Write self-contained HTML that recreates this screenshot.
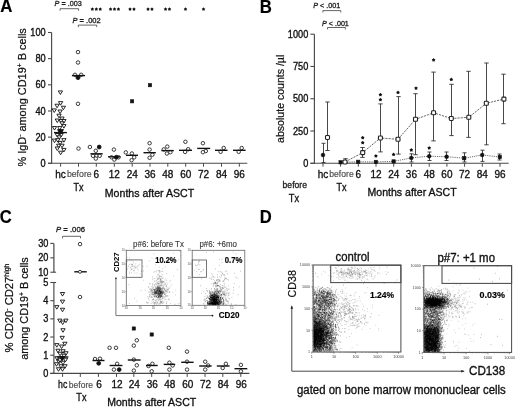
<!DOCTYPE html>
<html><head><meta charset="utf-8"><style>
html,body{margin:0;padding:0;background:#fff;width:520px;height:407px;overflow:hidden}
svg{display:block;font-family:"Liberation Sans", sans-serif;will-change:transform;filter:blur(0.3px)}
</style></head><body>
<svg width="520" height="407" viewBox="0 0 520 407">
<rect width="520" height="407" fill="#fff"/>
<text transform="translate(0.2,12.3) scale(1,1.05)" font-size="16.8" text-anchor="start" font-weight="bold" fill="#000" stroke="#000" stroke-width="0.15"  style="">A</text>
<text x="54.6" y="5.6" font-size="7.6" fill="#1a1a1a" stroke="#1a1a1a" stroke-width="0.3" textLength="27.1" lengthAdjust="spacingAndGlyphs"><tspan font-style="italic">P</tspan> = .003</text>
<path d="M60.1 10.7V8.7H78.6V10.7" fill="none" stroke="#555" stroke-width="0.9"/>
<text x="72.5" y="22.5" font-size="7.6" fill="#1a1a1a" stroke="#1a1a1a" stroke-width="0.3" textLength="28.2" lengthAdjust="spacingAndGlyphs"><tspan font-style="italic">P</tspan> = .002</text>
<path d="M78.3 27.1V25.1H96.7V27.1" fill="none" stroke="#555" stroke-width="0.9"/>
<polygon points="92.35,7.35 93.02,8.27 94.11,8.63 93.44,9.55 93.44,10.70 92.35,10.35 91.26,10.70 91.26,9.55 90.59,8.63 91.68,8.27" fill="#111"/>
<polygon points="96.30,7.35 96.97,8.27 98.06,8.63 97.39,9.55 97.39,10.70 96.30,10.35 95.21,10.70 95.21,9.55 94.54,8.63 95.63,8.27" fill="#111"/>
<polygon points="100.25,7.35 100.92,8.27 102.01,8.63 101.34,9.55 101.34,10.70 100.25,10.35 99.16,10.70 99.16,9.55 98.49,8.63 99.58,8.27" fill="#111"/>
<polygon points="110.55,7.35 111.22,8.27 112.31,8.63 111.64,9.55 111.64,10.70 110.55,10.35 109.46,10.70 109.46,9.55 108.79,8.63 109.88,8.27" fill="#111"/>
<polygon points="114.50,7.35 115.17,8.27 116.26,8.63 115.59,9.55 115.59,10.70 114.50,10.35 113.41,10.70 113.41,9.55 112.74,8.63 113.83,8.27" fill="#111"/>
<polygon points="118.45,7.35 119.12,8.27 120.21,8.63 119.54,9.55 119.54,10.70 118.45,10.35 117.36,10.70 117.36,9.55 116.69,8.63 117.78,8.27" fill="#111"/>
<polygon points="130.03,7.35 130.70,8.27 131.78,8.63 131.12,9.55 131.11,10.70 130.03,10.35 128.94,10.70 128.93,9.55 128.27,8.63 129.35,8.27" fill="#111"/>
<polygon points="133.97,7.35 134.65,8.27 135.73,8.63 135.07,9.55 135.06,10.70 133.97,10.35 132.89,10.70 132.88,9.55 132.22,8.63 133.30,8.27" fill="#111"/>
<polygon points="148.03,7.35 148.70,8.27 149.78,8.63 149.12,9.55 149.11,10.70 148.03,10.35 146.94,10.70 146.93,9.55 146.27,8.63 147.35,8.27" fill="#111"/>
<polygon points="151.97,7.35 152.65,8.27 153.73,8.63 153.07,9.55 153.06,10.70 151.97,10.35 150.89,10.70 150.88,9.55 150.22,8.63 151.30,8.27" fill="#111"/>
<polygon points="165.53,7.35 166.20,8.27 167.28,8.63 166.62,9.55 166.61,10.70 165.53,10.35 164.44,10.70 164.43,9.55 163.77,8.63 164.85,8.27" fill="#111"/>
<polygon points="169.47,7.35 170.15,8.27 171.23,8.63 170.57,9.55 170.56,10.70 169.47,10.35 168.39,10.70 168.38,9.55 167.72,8.63 168.80,8.27" fill="#111"/>
<polygon points="185.50,7.35 186.17,8.27 187.26,8.63 186.59,9.55 186.59,10.70 185.50,10.35 184.41,10.70 184.41,9.55 183.74,8.63 184.83,8.27" fill="#111"/>
<polygon points="203.50,7.35 204.17,8.27 205.26,8.63 204.59,9.55 204.59,10.70 203.50,10.35 202.41,10.70 202.41,9.55 201.74,8.63 202.83,8.27" fill="#111"/>
<line x1="51.6" y1="32.5" x2="51.6" y2="163.8" stroke="#484848" stroke-width="1.15" />
<line x1="48.0" y1="163.3" x2="51.6" y2="163.3" stroke="#484848" stroke-width="1.1" />
<text transform="translate(45.7,166.9) scale(1,1.13)" font-size="9.2" text-anchor="end" font-weight="normal" fill="#111" stroke="#111" stroke-width="0.32"  style="">0</text>
<line x1="48.0" y1="137.14000000000001" x2="51.6" y2="137.14000000000001" stroke="#484848" stroke-width="1.1" />
<text transform="translate(45.7,140.74) scale(1,1.13)" font-size="9.2" text-anchor="end" font-weight="normal" fill="#111" stroke="#111" stroke-width="0.32"  style="">20</text>
<line x1="48.0" y1="110.98000000000002" x2="51.6" y2="110.98000000000002" stroke="#484848" stroke-width="1.1" />
<text transform="translate(45.7,114.58000000000001) scale(1,1.13)" font-size="9.2" text-anchor="end" font-weight="normal" fill="#111" stroke="#111" stroke-width="0.32"  style="">40</text>
<line x1="48.0" y1="84.82000000000001" x2="51.6" y2="84.82000000000001" stroke="#484848" stroke-width="1.1" />
<text transform="translate(45.7,88.42) scale(1,1.13)" font-size="9.2" text-anchor="end" font-weight="normal" fill="#111" stroke="#111" stroke-width="0.32"  style="">60</text>
<line x1="48.0" y1="58.66000000000001" x2="51.6" y2="58.66000000000001" stroke="#484848" stroke-width="1.1" />
<text transform="translate(45.7,62.26000000000001) scale(1,1.13)" font-size="9.2" text-anchor="end" font-weight="normal" fill="#111" stroke="#111" stroke-width="0.32"  style="">80</text>
<line x1="48.0" y1="32.5" x2="51.6" y2="32.5" stroke="#484848" stroke-width="1.1" />
<text transform="translate(45.7,36.1) scale(1,1.13)" font-size="9.2" text-anchor="end" font-weight="normal" fill="#111" stroke="#111" stroke-width="0.32"  style="">100</text>
<line x1="48.0" y1="163.3" x2="247.3" y2="163.3" stroke="#484848" stroke-width="1.1" />
<line x1="60.6" y1="163.3" x2="60.6" y2="166.7" stroke="#484848" stroke-width="1.0" />
<line x1="78.5" y1="163.3" x2="78.5" y2="166.7" stroke="#484848" stroke-width="1.0" />
<line x1="96.3" y1="163.3" x2="96.3" y2="166.7" stroke="#484848" stroke-width="1.0" />
<line x1="114.3" y1="163.3" x2="114.3" y2="166.7" stroke="#484848" stroke-width="1.0" />
<line x1="132.2" y1="163.3" x2="132.2" y2="166.7" stroke="#484848" stroke-width="1.0" />
<line x1="150" y1="163.3" x2="150" y2="166.7" stroke="#484848" stroke-width="1.0" />
<line x1="167.8" y1="163.3" x2="167.8" y2="166.7" stroke="#484848" stroke-width="1.0" />
<line x1="185.7" y1="163.3" x2="185.7" y2="166.7" stroke="#484848" stroke-width="1.0" />
<line x1="203.5" y1="163.3" x2="203.5" y2="166.7" stroke="#484848" stroke-width="1.0" />
<line x1="221.5" y1="163.3" x2="221.5" y2="166.7" stroke="#484848" stroke-width="1.0" />
<line x1="239.3" y1="163.3" x2="239.3" y2="166.7" stroke="#484848" stroke-width="1.0" />
<text transform="translate(60.5,177.5) scale(1,1.05)" font-size="10" text-anchor="middle" font-weight="normal" fill="#111" stroke="#111" stroke-width="0.32"  style="">hc</text>
<text transform="translate(66.9,177.3) scale(1,1.05)" font-size="8.6" text-anchor="start" font-weight="normal" fill="#4a4a4a" textLength="24.8" lengthAdjust="spacingAndGlyphs" stroke="#4a4a4a" stroke-width="0.15"  style="">before</text>
<text transform="translate(96.3,177.5) scale(1,1.05)" font-size="10.0" text-anchor="middle" font-weight="normal" fill="#111" stroke="#111" stroke-width="0.32"  style="">6</text>
<text transform="translate(114.3,177.5) scale(1,1.05)" font-size="10.0" text-anchor="middle" font-weight="normal" fill="#111" stroke="#111" stroke-width="0.32"  style="">12</text>
<text transform="translate(132.2,177.5) scale(1,1.05)" font-size="10.0" text-anchor="middle" font-weight="normal" fill="#111" stroke="#111" stroke-width="0.32"  style="">24</text>
<text transform="translate(150,177.5) scale(1,1.05)" font-size="10.0" text-anchor="middle" font-weight="normal" fill="#111" stroke="#111" stroke-width="0.32"  style="">36</text>
<text transform="translate(167.8,177.5) scale(1,1.05)" font-size="10.0" text-anchor="middle" font-weight="normal" fill="#111" stroke="#111" stroke-width="0.32"  style="">48</text>
<text transform="translate(185.7,177.5) scale(1,1.05)" font-size="10.0" text-anchor="middle" font-weight="normal" fill="#111" stroke="#111" stroke-width="0.32"  style="">60</text>
<text transform="translate(203.5,177.5) scale(1,1.05)" font-size="10.0" text-anchor="middle" font-weight="normal" fill="#111" stroke="#111" stroke-width="0.32"  style="">72</text>
<text transform="translate(221.5,177.5) scale(1,1.05)" font-size="10.0" text-anchor="middle" font-weight="normal" fill="#111" stroke="#111" stroke-width="0.32"  style="">84</text>
<text transform="translate(239.3,177.5) scale(1,1.05)" font-size="10.0" text-anchor="middle" font-weight="normal" fill="#111" stroke="#111" stroke-width="0.32"  style="">96</text>
<text transform="translate(78.6,190.9) scale(1,1.05)" font-size="9.8" text-anchor="middle" font-weight="normal" fill="#111" textLength="10.1" lengthAdjust="spacingAndGlyphs" stroke="#111" stroke-width="0.32"  style="">Tx</text>
<text transform="translate(104.8,196.7) scale(1,1.05)" font-size="10.5" text-anchor="start" font-weight="normal" fill="#111" textLength="89.4" lengthAdjust="spacingAndGlyphs" stroke="#111" stroke-width="0.32"  style="">Months after ASCT</text>
<text transform="translate(26.1,97.35) rotate(-90)" font-size="10.8" text-anchor="middle" fill="#111" stroke="#111" stroke-width="0.22" textLength="138.3" lengthAdjust="spacingAndGlyphs">% IgD<tspan font-size="6.7" dy="-3.8">-</tspan><tspan dy="3.8"> among CD19</tspan><tspan font-size="6.7" dy="-3.8">+</tspan><tspan dy="3.8"> B cells</tspan></text>
<path d="M58.25 90.92H62.55L60.40 94.48Z" fill="#fff" stroke="#111" stroke-width="0.9" stroke-linejoin="miter"/>
<path d="M58.45 101.62H62.75L60.60 105.18Z" fill="#fff" stroke="#111" stroke-width="0.9" stroke-linejoin="miter"/>
<path d="M54.95 104.22H59.25L57.10 107.78Z" fill="#fff" stroke="#111" stroke-width="0.9" stroke-linejoin="miter"/>
<path d="M61.25 106.22H65.55L63.40 109.78Z" fill="#fff" stroke="#111" stroke-width="0.9" stroke-linejoin="miter"/>
<path d="M52.15 108.92H56.45L54.30 112.48Z" fill="#fff" stroke="#111" stroke-width="0.9" stroke-linejoin="miter"/>
<path d="M57.95 110.02H62.25L60.10 113.58Z" fill="#fff" stroke="#111" stroke-width="0.9" stroke-linejoin="miter"/>
<path d="M56.85 114.22H61.15L59.00 117.78Z" fill="#fff" stroke="#111" stroke-width="0.9" stroke-linejoin="miter"/>
<path d="M59.85 117.02H64.15L62.00 120.58Z" fill="#fff" stroke="#111" stroke-width="0.9" stroke-linejoin="miter"/>
<path d="M55.15 119.02H59.45L57.30 122.58Z" fill="#fff" stroke="#111" stroke-width="0.9" stroke-linejoin="miter"/>
<path d="M58.95 119.52H63.25L61.10 123.08Z" fill="#fff" stroke="#111" stroke-width="0.9" stroke-linejoin="miter"/>
<path d="M61.75 119.52H66.05L63.90 123.08Z" fill="#fff" stroke="#111" stroke-width="0.9" stroke-linejoin="miter"/>
<path d="M59.85 121.82H64.15L62.00 125.38Z" fill="#fff" stroke="#111" stroke-width="0.9" stroke-linejoin="miter"/>
<path d="M61.75 124.62H66.05L63.90 128.18Z" fill="#fff" stroke="#111" stroke-width="0.9" stroke-linejoin="miter"/>
<path d="M52.35 126.53H56.65L54.50 130.08Z" fill="#fff" stroke="#111" stroke-width="0.9" stroke-linejoin="miter"/>
<path d="M57.55 126.53H61.85L59.70 130.08Z" fill="#fff" stroke="#111" stroke-width="0.9" stroke-linejoin="miter"/>
<path d="M55.15 133.53H59.45L57.30 137.08Z" fill="#fff" stroke="#111" stroke-width="0.9" stroke-linejoin="miter"/>
<path d="M58.95 133.53H63.25L61.10 137.08Z" fill="#fff" stroke="#111" stroke-width="0.9" stroke-linejoin="miter"/>
<path d="M57.05 135.82H61.35L59.20 139.38Z" fill="#fff" stroke="#111" stroke-width="0.9" stroke-linejoin="miter"/>
<path d="M52.35 139.12H56.65L54.50 142.68Z" fill="#fff" stroke="#111" stroke-width="0.9" stroke-linejoin="miter"/>
<path d="M55.65 138.62H59.95L57.80 142.18Z" fill="#fff" stroke="#111" stroke-width="0.9" stroke-linejoin="miter"/>
<path d="M61.75 138.62H66.05L63.90 142.18Z" fill="#fff" stroke="#111" stroke-width="0.9" stroke-linejoin="miter"/>
<path d="M57.95 141.42H62.25L60.10 144.97Z" fill="#fff" stroke="#111" stroke-width="0.9" stroke-linejoin="miter"/>
<path d="M56.55 144.22H60.85L58.70 147.78Z" fill="#fff" stroke="#111" stroke-width="0.9" stroke-linejoin="miter"/>
<path d="M59.85 144.22H64.15L62.00 147.78Z" fill="#fff" stroke="#111" stroke-width="0.9" stroke-linejoin="miter"/>
<path d="M55.15 147.03H59.45L57.30 150.58Z" fill="#fff" stroke="#111" stroke-width="0.9" stroke-linejoin="miter"/>
<path d="M61.75 148.42H66.05L63.90 151.97Z" fill="#fff" stroke="#111" stroke-width="0.9" stroke-linejoin="miter"/>
<path d="M58.45 151.22H62.75L60.60 154.78Z" fill="#fff" stroke="#111" stroke-width="0.9" stroke-linejoin="miter"/>
<line x1="54.0" y1="132.6" x2="66.9" y2="132.6" stroke="#111" stroke-width="1.4" />
<path d="M57.50 129.60H63.50L60.50 134.40Z" fill="#111" stroke="#111" stroke-width="0.9" stroke-linejoin="miter"/>
<circle cx="78" cy="52.1" r="1.75" fill="#fff" stroke="#1a1a1a" stroke-width="0.85"/>
<circle cx="78" cy="62.5" r="1.75" fill="#fff" stroke="#1a1a1a" stroke-width="0.85"/>
<circle cx="75" cy="74.8" r="1.75" fill="#fff" stroke="#1a1a1a" stroke-width="0.85"/>
<circle cx="81.2" cy="74.8" r="1.75" fill="#fff" stroke="#1a1a1a" stroke-width="0.85"/>
<circle cx="78" cy="103.8" r="1.75" fill="#fff" stroke="#1a1a1a" stroke-width="0.85"/>
<circle cx="78.5" cy="148.5" r="1.75" fill="#fff" stroke="#1a1a1a" stroke-width="0.85"/>
<line x1="71.9" y1="75.6" x2="85.1" y2="75.6" stroke="#111" stroke-width="1.4" />
<circle cx="78" cy="77.6" r="2.0" fill="#111" stroke="#111" stroke-width="0.85"/>
<circle cx="89.9" cy="147" r="1.75" fill="#fff" stroke="#1a1a1a" stroke-width="0.85"/>
<circle cx="95.8" cy="150.8" r="1.75" fill="#fff" stroke="#1a1a1a" stroke-width="0.85"/>
<circle cx="93" cy="155.8" r="1.75" fill="#fff" stroke="#1a1a1a" stroke-width="0.85"/>
<circle cx="96.5" cy="155.8" r="1.75" fill="#fff" stroke="#1a1a1a" stroke-width="0.85"/>
<circle cx="99.7" cy="155.8" r="1.75" fill="#fff" stroke="#1a1a1a" stroke-width="0.85"/>
<circle cx="95.8" cy="158.6" r="1.75" fill="#fff" stroke="#1a1a1a" stroke-width="0.85"/>
<circle cx="99.2" cy="147" r="1.9" fill="#111" stroke="#111" stroke-width="0.85"/>
<line x1="90.4" y1="153.8" x2="102.7" y2="153.8" stroke="#111" stroke-width="1.4" />
<circle cx="113.9" cy="149.6" r="1.75" fill="#fff" stroke="#1a1a1a" stroke-width="0.85"/>
<circle cx="111.5" cy="157.3" r="1.75" fill="#fff" stroke="#1a1a1a" stroke-width="0.85"/>
<circle cx="114.3" cy="159.6" r="1.75" fill="#fff" stroke="#1a1a1a" stroke-width="0.85"/>
<circle cx="118.5" cy="157.3" r="1.75" fill="#fff" stroke="#1a1a1a" stroke-width="0.85"/>
<circle cx="116.3" cy="157.2" r="1.9" fill="#111" stroke="#111" stroke-width="0.85"/>
<line x1="108" y1="156.8" x2="120.4" y2="156.8" stroke="#111" stroke-width="1.4" />
<circle cx="125.8" cy="152.4" r="1.75" fill="#fff" stroke="#1a1a1a" stroke-width="0.85"/>
<circle cx="131.9" cy="153.5" r="1.75" fill="#fff" stroke="#1a1a1a" stroke-width="0.85"/>
<circle cx="134.2" cy="157.3" r="1.75" fill="#fff" stroke="#1a1a1a" stroke-width="0.85"/>
<circle cx="131.6" cy="160.2" r="1.75" fill="#fff" stroke="#1a1a1a" stroke-width="0.85"/>
<line x1="126" y1="155.3" x2="138" y2="155.3" stroke="#111" stroke-width="1.4" />
<circle cx="149.6" cy="143.2" r="1.75" fill="#fff" stroke="#1a1a1a" stroke-width="0.85"/>
<circle cx="149.6" cy="149.6" r="1.75" fill="#fff" stroke="#1a1a1a" stroke-width="0.85"/>
<circle cx="152.4" cy="154.7" r="1.75" fill="#fff" stroke="#1a1a1a" stroke-width="0.85"/>
<circle cx="149.6" cy="157.8" r="1.75" fill="#fff" stroke="#1a1a1a" stroke-width="0.85"/>
<line x1="143.5" y1="152.7" x2="155.8" y2="152.7" stroke="#111" stroke-width="1.4" />
<circle cx="167.3" cy="146.6" r="1.75" fill="#fff" stroke="#1a1a1a" stroke-width="0.85"/>
<circle cx="163.8" cy="149.4" r="1.75" fill="#fff" stroke="#1a1a1a" stroke-width="0.85"/>
<circle cx="166.9" cy="153.5" r="1.75" fill="#fff" stroke="#1a1a1a" stroke-width="0.85"/>
<circle cx="170.4" cy="152.2" r="1.75" fill="#fff" stroke="#1a1a1a" stroke-width="0.85"/>
<line x1="161.4" y1="150.6" x2="173.8" y2="150.6" stroke="#111" stroke-width="1.4" />
<circle cx="185.4" cy="141.8" r="1.75" fill="#fff" stroke="#1a1a1a" stroke-width="0.85"/>
<circle cx="188.2" cy="149.2" r="1.75" fill="#fff" stroke="#1a1a1a" stroke-width="0.85"/>
<circle cx="185.1" cy="151.9" r="1.75" fill="#fff" stroke="#1a1a1a" stroke-width="0.85"/>
<line x1="179" y1="150.3" x2="192" y2="150.3" stroke="#111" stroke-width="1.4" />
<circle cx="202.9" cy="143.2" r="1.75" fill="#fff" stroke="#1a1a1a" stroke-width="0.85"/>
<circle cx="205.8" cy="151" r="1.75" fill="#fff" stroke="#1a1a1a" stroke-width="0.85"/>
<circle cx="202.9" cy="152.2" r="1.75" fill="#fff" stroke="#1a1a1a" stroke-width="0.85"/>
<line x1="197.2" y1="148.4" x2="210.2" y2="148.4" stroke="#111" stroke-width="1.4" />
<circle cx="223.7" cy="148" r="1.75" fill="#fff" stroke="#1a1a1a" stroke-width="0.85"/>
<circle cx="220.6" cy="151.8" r="1.75" fill="#fff" stroke="#1a1a1a" stroke-width="0.85"/>
<line x1="215" y1="150.3" x2="227.5" y2="150.3" stroke="#111" stroke-width="1.4" />
<circle cx="241.7" cy="148" r="1.75" fill="#fff" stroke="#1a1a1a" stroke-width="0.85"/>
<circle cx="238.7" cy="151.8" r="1.75" fill="#fff" stroke="#1a1a1a" stroke-width="0.85"/>
<line x1="233" y1="150.3" x2="245.6" y2="150.3" stroke="#111" stroke-width="1.4" />
<rect x="130.50" y="99.70" width="3.2" height="3.2" rx="0" fill="#111" stroke="#111" stroke-width="0.6"/>
<rect x="148.40" y="83.60" width="3.2" height="3.2" rx="0" fill="#111" stroke="#111" stroke-width="0.6"/>
<text transform="translate(259.8,12.7) scale(1,1.05)" font-size="16.8" text-anchor="start" font-weight="bold" fill="#000" stroke="#000" stroke-width="0.15"  style="">B</text>
<text x="313.3" y="7.8" font-size="7.4" fill="#1a1a1a" stroke="#1a1a1a" stroke-width="0.3" textLength="26.9" lengthAdjust="spacingAndGlyphs"><tspan font-style="italic">P</tspan> &lt; .001</text>
<path d="M322.9 12.5V10.6H340.8V12.5" fill="none" stroke="#555" stroke-width="0.9"/>
<text x="322.1" y="25.6" font-size="7.4" fill="#1a1a1a" stroke="#1a1a1a" stroke-width="0.3" textLength="26.7" lengthAdjust="spacingAndGlyphs"><tspan font-style="italic">P</tspan> &lt; .001</text>
<path d="M327.5 29.4V27.5H345.4V29.4" fill="none" stroke="#555" stroke-width="0.9"/>
<line x1="314.4" y1="34.2" x2="314.4" y2="163.8" stroke="#484848" stroke-width="1.15" />
<line x1="310.4" y1="163.3" x2="314.4" y2="163.3" stroke="#484848" stroke-width="1.1" />
<text transform="translate(308.3,166.9) scale(1,1.13)" font-size="9.2" text-anchor="end" font-weight="normal" fill="#111" stroke="#111" stroke-width="0.32"  style="">0</text>
<line x1="310.4" y1="131.025" x2="314.4" y2="131.025" stroke="#484848" stroke-width="1.1" />
<text transform="translate(308.3,134.625) scale(1,1.13)" font-size="9.2" text-anchor="end" font-weight="normal" fill="#111" stroke="#111" stroke-width="0.32"  style="">250</text>
<line x1="310.4" y1="98.75000000000001" x2="314.4" y2="98.75000000000001" stroke="#484848" stroke-width="1.1" />
<text transform="translate(308.3,102.35000000000001) scale(1,1.13)" font-size="9.2" text-anchor="end" font-weight="normal" fill="#111" stroke="#111" stroke-width="0.32"  style="">500</text>
<line x1="310.4" y1="66.47500000000002" x2="314.4" y2="66.47500000000002" stroke="#484848" stroke-width="1.1" />
<text transform="translate(308.3,70.07500000000002) scale(1,1.13)" font-size="9.2" text-anchor="end" font-weight="normal" fill="#111" stroke="#111" stroke-width="0.32"  style="">750</text>
<line x1="310.4" y1="34.20000000000002" x2="314.4" y2="34.20000000000002" stroke="#484848" stroke-width="1.1" />
<text transform="translate(308.3,37.80000000000002) scale(1,1.13)" font-size="9.2" text-anchor="end" font-weight="normal" fill="#111" stroke="#111" stroke-width="0.32"  style="">1000</text>
<line x1="310.4" y1="163.3" x2="508.7" y2="163.3" stroke="#484848" stroke-width="1.1" />
<line x1="323" y1="163.3" x2="323" y2="166.7" stroke="#484848" stroke-width="1.0" />
<line x1="340.6" y1="163.3" x2="340.6" y2="166.7" stroke="#484848" stroke-width="1.0" />
<line x1="358.3" y1="163.3" x2="358.3" y2="166.7" stroke="#484848" stroke-width="1.0" />
<line x1="376" y1="163.3" x2="376" y2="166.7" stroke="#484848" stroke-width="1.0" />
<line x1="393.7" y1="163.3" x2="393.7" y2="166.7" stroke="#484848" stroke-width="1.0" />
<line x1="411.4" y1="163.3" x2="411.4" y2="166.7" stroke="#484848" stroke-width="1.0" />
<line x1="429.2" y1="163.3" x2="429.2" y2="166.7" stroke="#484848" stroke-width="1.0" />
<line x1="446.9" y1="163.3" x2="446.9" y2="166.7" stroke="#484848" stroke-width="1.0" />
<line x1="464.6" y1="163.3" x2="464.6" y2="166.7" stroke="#484848" stroke-width="1.0" />
<line x1="482.3" y1="163.3" x2="482.3" y2="166.7" stroke="#484848" stroke-width="1.0" />
<line x1="500" y1="163.3" x2="500" y2="166.7" stroke="#484848" stroke-width="1.0" />
<text transform="translate(323,177.5) scale(1,1.05)" font-size="10" text-anchor="middle" font-weight="normal" fill="#111" stroke="#111" stroke-width="0.32"  style="">hc</text>
<text transform="translate(329.3,177.3) scale(1,1.05)" font-size="8.6" text-anchor="start" font-weight="normal" fill="#4a4a4a" textLength="24.4" lengthAdjust="spacingAndGlyphs" stroke="#4a4a4a" stroke-width="0.15"  style="">before</text>
<text transform="translate(358.3,177.5) scale(1,1.05)" font-size="10.0" text-anchor="middle" font-weight="normal" fill="#111" stroke="#111" stroke-width="0.32"  style="">6</text>
<text transform="translate(376,177.5) scale(1,1.05)" font-size="10.0" text-anchor="middle" font-weight="normal" fill="#111" stroke="#111" stroke-width="0.32"  style="">12</text>
<text transform="translate(393.7,177.5) scale(1,1.05)" font-size="10.0" text-anchor="middle" font-weight="normal" fill="#111" stroke="#111" stroke-width="0.32"  style="">24</text>
<text transform="translate(411.4,177.5) scale(1,1.05)" font-size="10.0" text-anchor="middle" font-weight="normal" fill="#111" stroke="#111" stroke-width="0.32"  style="">36</text>
<text transform="translate(429.2,177.5) scale(1,1.05)" font-size="10.0" text-anchor="middle" font-weight="normal" fill="#111" stroke="#111" stroke-width="0.32"  style="">48</text>
<text transform="translate(446.9,177.5) scale(1,1.05)" font-size="10.0" text-anchor="middle" font-weight="normal" fill="#111" stroke="#111" stroke-width="0.32"  style="">60</text>
<text transform="translate(464.6,177.5) scale(1,1.05)" font-size="10.0" text-anchor="middle" font-weight="normal" fill="#111" stroke="#111" stroke-width="0.32"  style="">72</text>
<text transform="translate(482.3,177.5) scale(1,1.05)" font-size="10.0" text-anchor="middle" font-weight="normal" fill="#111" stroke="#111" stroke-width="0.32"  style="">84</text>
<text transform="translate(500,177.5) scale(1,1.05)" font-size="10.0" text-anchor="middle" font-weight="normal" fill="#111" stroke="#111" stroke-width="0.32"  style="">96</text>
<text transform="translate(341.5,190.9) scale(1,1.05)" font-size="9.8" text-anchor="middle" font-weight="normal" fill="#111" textLength="10.1" lengthAdjust="spacingAndGlyphs" stroke="#111" stroke-width="0.32"  style="">Tx</text>
<text transform="translate(367.5,195.6) scale(1,1.05)" font-size="10.5" text-anchor="start" font-weight="normal" fill="#111" textLength="89.2" lengthAdjust="spacingAndGlyphs" stroke="#111" stroke-width="0.32"  style="">Months after ASCT</text>
<text transform="translate(282.6,187.5) scale(1,1.05)" font-size="8.6" text-anchor="start" font-weight="normal" fill="#222" textLength="24.3" lengthAdjust="spacingAndGlyphs" stroke="#222" stroke-width="0.32"  style="">before</text>
<text transform="translate(294.0,201.7) scale(1,1.05)" font-size="9.8" text-anchor="middle" font-weight="normal" fill="#111" textLength="10.3" lengthAdjust="spacingAndGlyphs" stroke="#111" stroke-width="0.32"  style="">Tx</text>
<text transform="translate(283.6,98.8) rotate(-90)" font-size="10.5" text-anchor="middle" fill="#111" stroke="#111" stroke-width="0.22" textLength="88.2" lengthAdjust="spacingAndGlyphs">absolute counts /µl</text>
<polyline points="345,162 362.7,152.6 380.4,138 398,139.3 415.5,119.3 433.6,112.8 451.3,118.5 468.8,117.3 486.3,103.3 503.9,99.1" fill="none" stroke="#444" stroke-width="0.8" stroke-dasharray="2.2,1"/>
<polyline points="340.6,162.3 358.2,161.8 375.9,161.9 393.6,161.4 411.3,157.9 429.2,156.2 446.6,156.7 464.2,158.2 482.2,155 499.8,157" fill="none" stroke="#444" stroke-width="0.8" stroke-dasharray="1.2,1"/>
<path d="M323.5 143.3V162.5M321.5 143.3H325.5M321.5 162.5H325.5" fill="none" stroke="#333" stroke-width="0.9"/>
<path d="M411.5 153.8V162M409.5 153.8H413.5M409.5 162H413.5" fill="none" stroke="#333" stroke-width="0.9"/>
<path d="M429.5 152V160.5M427.5 152H431.5M427.5 160.5H431.5" fill="none" stroke="#333" stroke-width="0.9"/>
<path d="M446.5 152V160.5M444.5 152H448.5M444.5 160.5H448.5" fill="none" stroke="#333" stroke-width="0.9"/>
<path d="M464.5 152.8V162M462.5 152.8H466.5M462.5 162H466.5" fill="none" stroke="#333" stroke-width="0.9"/>
<path d="M482.5 150.2V161.4M480.5 150.2H484.5M480.5 161.4H484.5" fill="none" stroke="#333" stroke-width="0.9"/>
<path d="M499.5 154V160M497.5 154H501.5M497.5 160H501.5" fill="none" stroke="#333" stroke-width="0.9"/>
<path d="M327.5 102V150.5M325.3 102H329.7M325.3 150.5H329.7" fill="none" stroke="#333" stroke-width="0.9"/>
<path d="M345.5 158.7V163M343.3 158.7H347.7M343.3 163H347.7" fill="none" stroke="#333" stroke-width="0.9"/>
<path d="M362.5 147.5V157.4M360.3 147.5H364.7M360.3 157.4H364.7" fill="none" stroke="#333" stroke-width="0.9"/>
<path d="M380.5 103.9V151.9M378.3 103.9H382.7M378.3 151.9H382.7" fill="none" stroke="#333" stroke-width="0.9"/>
<path d="M398.5 96.6V154.1M396.3 96.6H400.7M396.3 154.1H400.7" fill="none" stroke="#333" stroke-width="0.9"/>
<path d="M415.5 93.7V154.7M413.3 93.7H417.7M413.3 154.7H417.7" fill="none" stroke="#333" stroke-width="0.9"/>
<path d="M433.5 72.1V140.9M431.3 72.1H435.7M431.3 140.9H435.7" fill="none" stroke="#333" stroke-width="0.9"/>
<path d="M451.5 84.3V135.6M449.3 84.3H453.7M449.3 135.6H453.7" fill="none" stroke="#333" stroke-width="0.9"/>
<path d="M468.5 71.3V137.4M466.3 71.3H470.7M466.3 137.4H470.7" fill="none" stroke="#333" stroke-width="0.9"/>
<path d="M486.5 63V144.8M484.3 63H488.7M484.3 144.8H488.7" fill="none" stroke="#333" stroke-width="0.9"/>
<path d="M503.5 74.2V123.7M501.3 74.2H505.7M501.3 123.7H505.7" fill="none" stroke="#333" stroke-width="0.9"/>
<circle cx="323" cy="155" r="1.95" fill="#111" stroke="#111" stroke-width="0.4"/>
<rect x="338.95" y="160.65" width="3.3" height="3.3" rx="0" fill="#111" stroke="#111" stroke-width="0.6"/>
<rect x="356.55" y="160.15" width="3.3" height="3.3" rx="0" fill="#111" stroke="#111" stroke-width="0.6"/>
<rect x="374.25" y="160.25" width="3.3" height="3.3" rx="0" fill="#111" stroke="#111" stroke-width="0.6"/>
<rect x="391.95" y="159.75" width="3.3" height="3.3" rx="0" fill="#111" stroke="#111" stroke-width="0.6"/>
<circle cx="411.3" cy="157.9" r="1.95" fill="#111" stroke="#111" stroke-width="0.4"/>
<circle cx="429.2" cy="156.2" r="1.95" fill="#111" stroke="#111" stroke-width="0.4"/>
<circle cx="446.6" cy="156.7" r="1.95" fill="#111" stroke="#111" stroke-width="0.4"/>
<rect x="462.55" y="156.55" width="3.3" height="3.3" rx="0" fill="#111" stroke="#111" stroke-width="0.6"/>
<circle cx="482.2" cy="155" r="1.95" fill="#111" stroke="#111" stroke-width="0.4"/>
<rect x="498.15" y="155.35" width="3.3" height="3.3" rx="0" fill="#111" stroke="#111" stroke-width="0.6"/>
<rect x="325.50" y="135.50" width="4.0" height="4.0" rx="0.9" fill="#fff" stroke="#222" stroke-width="1.1"/>
<rect x="343.00" y="160.00" width="4.0" height="4.0" rx="0.9" fill="#fff" stroke="#222" stroke-width="1.1"/>
<rect x="360.70" y="150.60" width="4.0" height="4.0" rx="0.9" fill="#fff" stroke="#222" stroke-width="1.1"/>
<rect x="378.40" y="136.00" width="4.0" height="4.0" rx="0.9" fill="#fff" stroke="#222" stroke-width="1.1"/>
<rect x="396.00" y="137.30" width="4.0" height="4.0" rx="0.9" fill="#fff" stroke="#222" stroke-width="1.1"/>
<rect x="413.50" y="117.30" width="4.0" height="4.0" rx="0.9" fill="#fff" stroke="#222" stroke-width="1.1"/>
<rect x="431.60" y="110.80" width="4.0" height="4.0" rx="0.9" fill="#fff" stroke="#222" stroke-width="1.1"/>
<rect x="449.30" y="116.50" width="4.0" height="4.0" rx="0.9" fill="#fff" stroke="#222" stroke-width="1.1"/>
<rect x="466.80" y="115.30" width="4.0" height="4.0" rx="0.9" fill="#fff" stroke="#222" stroke-width="1.1"/>
<rect x="484.30" y="101.30" width="4.0" height="4.0" rx="0.9" fill="#fff" stroke="#222" stroke-width="1.1"/>
<rect x="501.90" y="97.10" width="4.0" height="4.0" rx="0.9" fill="#fff" stroke="#222" stroke-width="1.1"/>
<polygon points="362.70,135.70 363.43,136.70 364.60,137.08 363.88,138.08 363.88,139.32 362.70,138.94 361.52,139.32 361.52,138.08 360.80,137.08 361.97,136.70" fill="#111"/>
<polygon points="362.70,140.70 363.43,141.70 364.60,142.08 363.88,143.08 363.88,144.32 362.70,143.94 361.52,144.32 361.52,143.08 360.80,142.08 361.97,141.70" fill="#111"/>
<polygon points="380.40,92.70 381.13,93.70 382.30,94.08 381.58,95.08 381.58,96.32 380.40,95.94 379.22,96.32 379.22,95.08 378.50,94.08 379.67,93.70" fill="#111"/>
<polygon points="380.40,97.70 381.13,98.70 382.30,99.08 381.58,100.08 381.58,101.32 380.40,100.94 379.22,101.32 379.22,100.08 378.50,99.08 379.67,98.70" fill="#111"/>
<polygon points="398.00,90.50 398.73,91.50 399.90,91.88 399.18,92.88 399.18,94.12 398.00,93.74 396.82,94.12 396.82,92.88 396.10,91.88 397.27,91.50" fill="#111"/>
<polygon points="416.00,86.20 416.73,87.20 417.90,87.58 417.18,88.58 417.18,89.82 416.00,89.44 414.82,89.82 414.82,88.58 414.10,87.58 415.27,87.20" fill="#111"/>
<polygon points="433.60,58.00 434.33,59.00 435.50,59.38 434.78,60.38 434.78,61.62 433.60,61.24 432.42,61.62 432.42,60.38 431.70,59.38 432.87,59.00" fill="#111"/>
<polygon points="451.30,77.50 452.03,78.50 453.20,78.88 452.48,79.88 452.48,81.12 451.30,80.74 450.12,81.12 450.12,79.88 449.40,78.88 450.57,78.50" fill="#111"/>
<polygon points="375.90,154.00 376.63,155.00 377.80,155.38 377.08,156.38 377.08,157.62 375.90,157.24 374.72,157.62 374.72,156.38 374.00,155.38 375.17,155.00" fill="#111"/>
<polygon points="393.60,152.50 394.33,153.50 395.50,153.88 394.78,154.88 394.78,156.12 393.60,155.74 392.42,156.12 392.42,154.88 391.70,153.88 392.87,153.50" fill="#111"/>
<polygon points="411.30,148.10 412.03,149.10 413.20,149.48 412.48,150.48 412.48,151.72 411.30,151.34 410.12,151.72 410.12,150.48 409.40,149.48 410.57,149.10" fill="#111"/>
<polygon points="429.20,146.00 429.93,147.00 431.10,147.38 430.38,148.38 430.38,149.62 429.20,149.24 428.02,149.62 428.02,148.38 427.30,147.38 428.47,147.00" fill="#111"/>
<text transform="translate(-0.2,223.2) scale(1,1.05)" font-size="16.6" text-anchor="start" font-weight="bold" fill="#000" stroke="#000" stroke-width="0.15"  style="">C</text>
<text x="56" y="232.2" font-size="7.6" fill="#1a1a1a" stroke="#1a1a1a" stroke-width="0.3" textLength="29" lengthAdjust="spacingAndGlyphs"><tspan font-style="italic">P</tspan> = .006</text>
<path d="M62.5 238.3V236.3H80.5V238.3" fill="none" stroke="#555" stroke-width="0.9"/>
<line x1="53.9" y1="243.4" x2="53.9" y2="272.2" stroke="#484848" stroke-width="1.2" />
<line x1="53.9" y1="282.1" x2="53.9" y2="373.9" stroke="#484848" stroke-width="1.15" />
<line x1="50.3" y1="243.4" x2="53.9" y2="243.4" stroke="#484848" stroke-width="1.1" />
<text transform="translate(48.4,247.0) scale(1,1.13)" font-size="9.2" text-anchor="end" font-weight="normal" fill="#111" stroke="#111" stroke-width="0.32"  style="">30</text>
<line x1="50.3" y1="257.8" x2="53.9" y2="257.8" stroke="#484848" stroke-width="1.1" />
<text transform="translate(48.4,261.40000000000003) scale(1,1.13)" font-size="9.2" text-anchor="end" font-weight="normal" fill="#111" stroke="#111" stroke-width="0.32"  style="">20</text>
<line x1="50.3" y1="272.2" x2="56.1" y2="272.2" stroke="#484848" stroke-width="1.1" />
<text transform="translate(48.4,275.8) scale(1,1.13)" font-size="9.2" text-anchor="end" font-weight="normal" fill="#111" stroke="#111" stroke-width="0.32"  style="">10</text>
<line x1="50.3" y1="373.4" x2="53.9" y2="373.4" stroke="#484848" stroke-width="1.1" />
<text transform="translate(48.4,377.0) scale(1,1.13)" font-size="9.2" text-anchor="end" font-weight="normal" fill="#111" stroke="#111" stroke-width="0.32"  style="">0</text>
<line x1="50.3" y1="355.21999999999997" x2="53.9" y2="355.21999999999997" stroke="#484848" stroke-width="1.1" />
<text transform="translate(48.4,358.82) scale(1,1.13)" font-size="9.2" text-anchor="end" font-weight="normal" fill="#111" stroke="#111" stroke-width="0.32"  style="">1</text>
<line x1="50.3" y1="337.03999999999996" x2="53.9" y2="337.03999999999996" stroke="#484848" stroke-width="1.1" />
<text transform="translate(48.4,340.64) scale(1,1.13)" font-size="9.2" text-anchor="end" font-weight="normal" fill="#111" stroke="#111" stroke-width="0.32"  style="">2</text>
<line x1="50.3" y1="318.85999999999996" x2="53.9" y2="318.85999999999996" stroke="#484848" stroke-width="1.1" />
<text transform="translate(48.4,322.46) scale(1,1.13)" font-size="9.2" text-anchor="end" font-weight="normal" fill="#111" stroke="#111" stroke-width="0.32"  style="">3</text>
<line x1="50.3" y1="300.67999999999995" x2="53.9" y2="300.67999999999995" stroke="#484848" stroke-width="1.1" />
<text transform="translate(48.4,304.28) scale(1,1.13)" font-size="9.2" text-anchor="end" font-weight="normal" fill="#111" stroke="#111" stroke-width="0.32"  style="">4</text>
<line x1="50.3" y1="282.5" x2="56.1" y2="282.5" stroke="#484848" stroke-width="1.1" />
<text transform="translate(48.4,286.1) scale(1,1.13)" font-size="9.2" text-anchor="end" font-weight="normal" fill="#111" stroke="#111" stroke-width="0.32"  style="">5</text>
<line x1="50.3" y1="373.4" x2="249.4" y2="373.4" stroke="#484848" stroke-width="1.1" />
<line x1="62.6" y1="373.4" x2="62.6" y2="376.9" stroke="#484848" stroke-width="1.0" />
<line x1="80.3" y1="373.4" x2="80.3" y2="376.9" stroke="#484848" stroke-width="1.0" />
<line x1="98.4" y1="373.4" x2="98.4" y2="376.9" stroke="#484848" stroke-width="1.0" />
<line x1="116.5" y1="373.4" x2="116.5" y2="376.9" stroke="#484848" stroke-width="1.0" />
<line x1="133.8" y1="373.4" x2="133.8" y2="376.9" stroke="#484848" stroke-width="1.0" />
<line x1="151.7" y1="373.4" x2="151.7" y2="376.9" stroke="#484848" stroke-width="1.0" />
<line x1="169.2" y1="373.4" x2="169.2" y2="376.9" stroke="#484848" stroke-width="1.0" />
<line x1="187.2" y1="373.4" x2="187.2" y2="376.9" stroke="#484848" stroke-width="1.0" />
<line x1="205" y1="373.4" x2="205" y2="376.9" stroke="#484848" stroke-width="1.0" />
<line x1="222.8" y1="373.4" x2="222.8" y2="376.9" stroke="#484848" stroke-width="1.0" />
<line x1="240.8" y1="373.4" x2="240.8" y2="376.9" stroke="#484848" stroke-width="1.0" />
<text transform="translate(62.7,387.8) scale(1,1.05)" font-size="10" text-anchor="middle" font-weight="normal" fill="#111" textLength="9.2" lengthAdjust="spacingAndGlyphs" stroke="#111" stroke-width="0.32"  style="">hc</text>
<text transform="translate(68.8,387.6) scale(1,1.05)" font-size="8.6" text-anchor="start" font-weight="normal" fill="#4a4a4a" textLength="24.2" lengthAdjust="spacingAndGlyphs" stroke="#4a4a4a" stroke-width="0.15"  style="">before</text>
<text transform="translate(98.9,387.8) scale(1,1.05)" font-size="10.0" text-anchor="middle" font-weight="normal" fill="#111" stroke="#111" stroke-width="0.32"  style="">6</text>
<text transform="translate(117.0,387.8) scale(1,1.05)" font-size="10.0" text-anchor="middle" font-weight="normal" fill="#111" stroke="#111" stroke-width="0.32"  style="">12</text>
<text transform="translate(134.3,387.8) scale(1,1.05)" font-size="10.0" text-anchor="middle" font-weight="normal" fill="#111" stroke="#111" stroke-width="0.32"  style="">24</text>
<text transform="translate(152.2,387.8) scale(1,1.05)" font-size="10.0" text-anchor="middle" font-weight="normal" fill="#111" stroke="#111" stroke-width="0.32"  style="">36</text>
<text transform="translate(169.7,387.8) scale(1,1.05)" font-size="10.0" text-anchor="middle" font-weight="normal" fill="#111" stroke="#111" stroke-width="0.32"  style="">48</text>
<text transform="translate(187.7,387.8) scale(1,1.05)" font-size="10.0" text-anchor="middle" font-weight="normal" fill="#111" stroke="#111" stroke-width="0.32"  style="">60</text>
<text transform="translate(205.5,387.8) scale(1,1.05)" font-size="10.0" text-anchor="middle" font-weight="normal" fill="#111" stroke="#111" stroke-width="0.32"  style="">72</text>
<text transform="translate(223.3,387.8) scale(1,1.05)" font-size="10.0" text-anchor="middle" font-weight="normal" fill="#111" stroke="#111" stroke-width="0.32"  style="">84</text>
<text transform="translate(241.3,387.8) scale(1,1.05)" font-size="10.0" text-anchor="middle" font-weight="normal" fill="#111" stroke="#111" stroke-width="0.32"  style="">96</text>
<text transform="translate(81.4,400.8) scale(1,1.05)" font-size="9.8" text-anchor="middle" font-weight="normal" fill="#111" textLength="10.1" lengthAdjust="spacingAndGlyphs" stroke="#111" stroke-width="0.32"  style="">Tx</text>
<text transform="translate(107.2,406.3) scale(1,1.05)" font-size="10.5" text-anchor="start" font-weight="normal" fill="#111" textLength="89.0" lengthAdjust="spacingAndGlyphs" stroke="#111" stroke-width="0.32"  style="">Months after ASCT</text>
<text transform="translate(12.8,308) rotate(-90)" font-size="11" text-anchor="middle" fill="#111" stroke="#111" stroke-width="0.22" textLength="88.8" lengthAdjust="spacingAndGlyphs">% CD20<tspan font-size="6.8" dy="-3.9">-</tspan><tspan dy="3.9"> CD27</tspan><tspan font-size="6.8" dy="-3.9">high</tspan></text>
<text transform="translate(28.3,308.45) rotate(-90)" font-size="11" text-anchor="middle" fill="#111" stroke="#111" stroke-width="0.22" textLength="102.5" lengthAdjust="spacingAndGlyphs">among CD19<tspan font-size="6.8" dy="-3.9">+</tspan><tspan dy="3.9"> B cells</tspan></text>
<path d="M60.35 292.53H64.65L62.50 296.07Z" fill="#fff" stroke="#111" stroke-width="0.9" stroke-linejoin="miter"/>
<path d="M60.35 300.12H64.65L62.50 303.67Z" fill="#fff" stroke="#111" stroke-width="0.9" stroke-linejoin="miter"/>
<path d="M54.65 305.62H58.95L56.80 309.17Z" fill="#fff" stroke="#111" stroke-width="0.9" stroke-linejoin="miter"/>
<path d="M60.35 308.23H64.65L62.50 311.77Z" fill="#fff" stroke="#111" stroke-width="0.9" stroke-linejoin="miter"/>
<path d="M57.65 319.12H61.95L59.80 322.67Z" fill="#fff" stroke="#111" stroke-width="0.9" stroke-linejoin="miter"/>
<path d="M63.75 319.12H68.05L65.90 322.67Z" fill="#fff" stroke="#111" stroke-width="0.9" stroke-linejoin="miter"/>
<path d="M60.55 321.03H64.85L62.70 324.57Z" fill="#fff" stroke="#111" stroke-width="0.9" stroke-linejoin="miter"/>
<path d="M60.85 328.73H65.15L63.00 332.27Z" fill="#fff" stroke="#111" stroke-width="0.9" stroke-linejoin="miter"/>
<path d="M60.05 336.33H64.35L62.20 339.88Z" fill="#fff" stroke="#111" stroke-width="0.9" stroke-linejoin="miter"/>
<path d="M62.75 342.23H67.05L64.90 345.77Z" fill="#fff" stroke="#111" stroke-width="0.9" stroke-linejoin="miter"/>
<path d="M54.65 343.62H58.95L56.80 347.17Z" fill="#fff" stroke="#111" stroke-width="0.9" stroke-linejoin="miter"/>
<path d="M59.45 345.03H63.75L61.60 348.57Z" fill="#fff" stroke="#111" stroke-width="0.9" stroke-linejoin="miter"/>
<path d="M55.85 349.23H60.15L58.00 352.77Z" fill="#fff" stroke="#111" stroke-width="0.9" stroke-linejoin="miter"/>
<path d="M60.85 349.73H65.15L63.00 353.27Z" fill="#fff" stroke="#111" stroke-width="0.9" stroke-linejoin="miter"/>
<path d="M63.85 351.73H68.15L66.00 355.27Z" fill="#fff" stroke="#111" stroke-width="0.9" stroke-linejoin="miter"/>
<path d="M57.85 352.23H62.15L60.00 355.77Z" fill="#fff" stroke="#111" stroke-width="0.9" stroke-linejoin="miter"/>
<path d="M54.85 356.73H59.15L57.00 360.27Z" fill="#fff" stroke="#111" stroke-width="0.9" stroke-linejoin="miter"/>
<path d="M59.85 356.73H64.15L62.00 360.27Z" fill="#fff" stroke="#111" stroke-width="0.9" stroke-linejoin="miter"/>
<path d="M63.35 358.23H67.65L65.50 361.77Z" fill="#fff" stroke="#111" stroke-width="0.9" stroke-linejoin="miter"/>
<path d="M56.85 360.23H61.15L59.00 363.77Z" fill="#fff" stroke="#111" stroke-width="0.9" stroke-linejoin="miter"/>
<path d="M60.85 361.23H65.15L63.00 364.77Z" fill="#fff" stroke="#111" stroke-width="0.9" stroke-linejoin="miter"/>
<path d="M54.35 362.73H58.65L56.50 366.27Z" fill="#fff" stroke="#111" stroke-width="0.9" stroke-linejoin="miter"/>
<path d="M58.85 364.73H63.15L61.00 368.27Z" fill="#fff" stroke="#111" stroke-width="0.9" stroke-linejoin="miter"/>
<path d="M62.85 364.73H67.15L65.00 368.27Z" fill="#fff" stroke="#111" stroke-width="0.9" stroke-linejoin="miter"/>
<path d="M56.35 367.73H60.65L58.50 371.27Z" fill="#fff" stroke="#111" stroke-width="0.9" stroke-linejoin="miter"/>
<path d="M60.35 367.73H64.65L62.50 371.27Z" fill="#fff" stroke="#111" stroke-width="0.9" stroke-linejoin="miter"/>
<path d="M57.85 358.73H62.15L60.00 362.27Z" fill="#fff" stroke="#111" stroke-width="0.9" stroke-linejoin="miter"/>
<path d="M61.85 354.23H66.15L64.00 357.77Z" fill="#fff" stroke="#111" stroke-width="0.9" stroke-linejoin="miter"/>
<line x1="56.8" y1="357" x2="68.4" y2="357" stroke="#111" stroke-width="1.4" />
<path d="M59.80 356.50H64.80L62.30 360.50Z" fill="#111" stroke="#111" stroke-width="0.9" stroke-linejoin="miter"/>
<circle cx="80" cy="244.1" r="1.75" fill="#fff" stroke="#1a1a1a" stroke-width="0.85"/>
<circle cx="80" cy="297" r="1.75" fill="#fff" stroke="#1a1a1a" stroke-width="0.85"/>
<line x1="74.3" y1="271.8" x2="86.7" y2="271.8" stroke="#111" stroke-width="1.4" />
<circle cx="80" cy="271.8" r="1.5" fill="#fff" stroke="#1a1a1a" stroke-width="0.85"/>
<circle cx="95" cy="359" r="1.75" fill="#fff" stroke="#1a1a1a" stroke-width="0.85"/>
<circle cx="100" cy="358.7" r="1.75" fill="#fff" stroke="#1a1a1a" stroke-width="0.85"/>
<circle cx="98.7" cy="363.3" r="1.9" fill="#111" stroke="#111" stroke-width="0.85"/>
<line x1="92.5" y1="360.5" x2="104.5" y2="360.5" stroke="#111" stroke-width="1.4" />
<circle cx="109.6" cy="347.8" r="1.75" fill="#fff" stroke="#1a1a1a" stroke-width="0.85"/>
<circle cx="116" cy="347.8" r="1.75" fill="#fff" stroke="#1a1a1a" stroke-width="0.85"/>
<circle cx="117.1" cy="363.8" r="1.75" fill="#fff" stroke="#1a1a1a" stroke-width="0.85"/>
<circle cx="113.9" cy="369.6" r="1.75" fill="#fff" stroke="#1a1a1a" stroke-width="0.85"/>
<circle cx="119.2" cy="369.6" r="1.9" fill="#111" stroke="#111" stroke-width="0.85"/>
<line x1="109.6" y1="365.5" x2="122.4" y2="365.5" stroke="#111" stroke-width="1.4" />
<circle cx="136.8" cy="340.3" r="1.75" fill="#fff" stroke="#1a1a1a" stroke-width="0.85"/>
<circle cx="133.8" cy="345.6" r="1.75" fill="#fff" stroke="#1a1a1a" stroke-width="0.85"/>
<circle cx="133.8" cy="359.6" r="1.75" fill="#fff" stroke="#1a1a1a" stroke-width="0.85"/>
<circle cx="136.8" cy="365.3" r="1.75" fill="#fff" stroke="#1a1a1a" stroke-width="0.85"/>
<circle cx="133.8" cy="370.6" r="1.75" fill="#fff" stroke="#1a1a1a" stroke-width="0.85"/>
<line x1="127.8" y1="360" x2="140.6" y2="360" stroke="#111" stroke-width="1.4" />
<circle cx="152.4" cy="363.8" r="1.75" fill="#fff" stroke="#1a1a1a" stroke-width="0.85"/>
<circle cx="148.5" cy="366" r="1.75" fill="#fff" stroke="#1a1a1a" stroke-width="0.85"/>
<circle cx="151.7" cy="371.3" r="1.75" fill="#fff" stroke="#1a1a1a" stroke-width="0.85"/>
<line x1="146" y1="365.5" x2="157.7" y2="365.5" stroke="#111" stroke-width="1.4" />
<circle cx="168.8" cy="347.8" r="1.75" fill="#fff" stroke="#1a1a1a" stroke-width="0.85"/>
<circle cx="169.4" cy="362.7" r="1.75" fill="#fff" stroke="#1a1a1a" stroke-width="0.85"/>
<circle cx="172.6" cy="365.5" r="1.75" fill="#fff" stroke="#1a1a1a" stroke-width="0.85"/>
<circle cx="169.4" cy="369.6" r="1.75" fill="#fff" stroke="#1a1a1a" stroke-width="0.85"/>
<line x1="163.7" y1="364.4" x2="175.2" y2="364.4" stroke="#111" stroke-width="1.4" />
<circle cx="187" cy="351.6" r="1.75" fill="#fff" stroke="#1a1a1a" stroke-width="0.85"/>
<circle cx="187" cy="361.7" r="1.75" fill="#fff" stroke="#1a1a1a" stroke-width="0.85"/>
<circle cx="187" cy="369.6" r="1.75" fill="#fff" stroke="#1a1a1a" stroke-width="0.85"/>
<line x1="181.2" y1="362.3" x2="193.6" y2="362.3" stroke="#111" stroke-width="1.4" />
<circle cx="205.2" cy="361.7" r="1.75" fill="#fff" stroke="#1a1a1a" stroke-width="0.85"/>
<circle cx="208.2" cy="365.5" r="1.75" fill="#fff" stroke="#1a1a1a" stroke-width="0.85"/>
<circle cx="205.2" cy="369.6" r="1.75" fill="#fff" stroke="#1a1a1a" stroke-width="0.85"/>
<line x1="199.2" y1="366" x2="211.6" y2="366" stroke="#111" stroke-width="1.4" />
<circle cx="225.9" cy="363.8" r="1.75" fill="#fff" stroke="#1a1a1a" stroke-width="0.85"/>
<circle cx="222.7" cy="368" r="1.75" fill="#fff" stroke="#1a1a1a" stroke-width="0.85"/>
<line x1="216.8" y1="366" x2="229.6" y2="366" stroke="#111" stroke-width="1.4" />
<circle cx="240.9" cy="364.9" r="1.75" fill="#fff" stroke="#1a1a1a" stroke-width="0.85"/>
<circle cx="240.9" cy="371.3" r="1.75" fill="#fff" stroke="#1a1a1a" stroke-width="0.85"/>
<line x1="234.5" y1="368.7" x2="247.3" y2="368.7" stroke="#111" stroke-width="1.4" />
<rect x="132.20" y="326.90" width="3.2" height="3.2" rx="0" fill="#111" stroke="#111" stroke-width="0.6"/>
<rect x="150.10" y="332.90" width="3.2" height="3.2" rx="0" fill="#111" stroke="#111" stroke-width="0.6"/>
<path d="M159.0 294.3h.01M157.5 289.0h.01M156.5 288.5h.01M159.3 299.0h.01M156.3 290.2h.01M161.7 294.6h.01M159.6 288.8h.01M158.8 296.1h.01M151.6 290.9h.01M148.5 287.2h.01M148.9 291.9h.01M152.0 294.2h.01M159.9 292.2h.01M145.2 290.6h.01M158.7 293.5h.01M150.6 290.9h.01M153.6 289.4h.01M164.8 289.4h.01M158.8 297.0h.01M155.8 292.5h.01M159.6 293.3h.01M152.3 293.3h.01M166.5 286.0h.01M163.7 293.5h.01M155.5 302.0h.01M163.2 287.6h.01M159.4 295.6h.01M158.0 296.1h.01M158.6 296.0h.01M166.9 290.0h.01M160.1 290.9h.01M159.7 287.7h.01M155.8 292.1h.01M163.9 298.2h.01M151.7 289.4h.01M162.6 284.0h.01M156.5 292.6h.01M165.9 296.1h.01M157.2 291.3h.01M157.6 299.9h.01M156.6 291.6h.01M160.9 292.5h.01M157.9 288.0h.01M158.9 291.0h.01M165.4 295.9h.01M158.9 296.0h.01M157.1 297.7h.01M159.0 295.6h.01M151.9 294.6h.01M149.7 283.8h.01M157.3 289.0h.01M159.9 303.1h.01M154.4 290.2h.01M160.1 295.2h.01M158.0 292.1h.01M162.9 295.3h.01M153.3 292.6h.01M159.2 288.3h.01M160.4 289.1h.01M164.3 293.9h.01M159.5 290.3h.01M158.3 284.0h.01M152.8 294.6h.01M147.3 296.8h.01M149.4 296.4h.01M154.3 296.5h.01M159.7 286.1h.01M165.9 299.5h.01M158.6 291.8h.01M158.1 288.6h.01M165.0 290.6h.01M158.7 289.4h.01M155.6 287.3h.01M165.9 292.3h.01M164.3 293.1h.01M155.2 291.5h.01M155.9 293.0h.01M156.9 291.7h.01M151.4 289.4h.01M168.1 290.0h.01M153.2 294.5h.01M166.7 286.5h.01M157.9 290.2h.01M149.3 296.3h.01M158.9 293.3h.01M154.9 295.0h.01M156.0 292.4h.01M152.9 287.5h.01M166.3 290.7h.01M160.6 292.8h.01M156.6 290.7h.01M162.5 291.6h.01M158.2 293.1h.01M165.5 296.1h.01M161.1 290.5h.01M151.4 297.3h.01M164.3 292.4h.01M162.0 296.5h.01M163.6 297.1h.01M156.5 299.8h.01M152.1 296.9h.01M161.7 296.9h.01M169.3 299.7h.01M152.7 285.4h.01M163.5 288.4h.01M158.9 296.8h.01M150.0 283.5h.01M160.4 293.2h.01M157.6 293.2h.01M154.3 286.2h.01M158.1 288.6h.01M150.0 295.3h.01M158.7 294.8h.01M153.6 290.0h.01M153.5 289.0h.01M160.1 289.5h.01M161.0 294.5h.01M170.1 286.7h.01M163.9 292.6h.01M158.9 286.5h.01M156.5 296.3h.01M158.5 293.4h.01M157.4 298.2h.01M158.9 283.1h.01M155.2 284.1h.01M141.1 290.6h.01M166.3 293.2h.01M152.6 288.8h.01M165.2 293.7h.01M159.3 292.8h.01M159.2 296.6h.01M162.0 294.0h.01M153.3 295.3h.01M155.2 297.9h.01M152.0 292.4h.01M159.0 287.0h.01M168.5 299.6h.01M156.5 296.5h.01M161.1 281.2h.01M160.4 292.7h.01M159.5 288.2h.01M157.5 292.2h.01M165.5 294.5h.01M159.0 299.9h.01M155.9 291.2h.01M149.0 300.1h.01M164.3 297.1h.01M162.7 293.5h.01M160.2 291.9h.01M157.9 293.2h.01M167.3 295.5h.01M158.7 290.4h.01M155.5 300.2h.01M161.8 293.3h.01M157.1 288.0h.01M158.6 296.9h.01M156.8 292.0h.01M157.8 293.5h.01M150.2 291.9h.01M154.3 297.0h.01M154.8 295.6h.01M167.4 291.6h.01M155.7 293.9h.01M159.0 288.5h.01M161.5 302.1h.01M157.6 292.1h.01M153.3 294.4h.01M152.1 288.0h.01M166.0 288.9h.01M164.9 299.9h.01M160.4 295.5h.01M169.7 292.1h.01M155.7 286.9h.01M159.2 299.7h.01M164.3 288.8h.01M154.3 290.7h.01M160.6 292.1h.01M160.2 294.3h.01M157.4 292.8h.01M160.1 292.6h.01M161.8 301.4h.01M162.3 293.3h.01M149.7 294.7h.01M148.3 286.7h.01M163.7 296.2h.01M158.2 285.3h.01M157.0 289.9h.01M162.5 303.2h.01M160.2 289.5h.01M152.6 292.7h.01M158.0 287.8h.01M159.6 287.8h.01M165.1 297.8h.01M165.0 290.9h.01M161.8 292.4h.01M156.9 291.5h.01M151.9 286.5h.01M163.4 292.1h.01M160.2 297.5h.01M149.5 289.5h.01M160.0 294.8h.01M156.9 297.6h.01M160.2 287.5h.01M153.9 296.6h.01M161.6 284.5h.01M166.4 295.7h.01M166.4 291.3h.01M157.4 287.9h.01M173.0 292.2h.01M167.7 290.1h.01M159.9 285.5h.01M156.9 297.4h.01M152.1 297.8h.01M160.9 288.3h.01M156.2 290.9h.01M158.7 290.6h.01M154.4 291.6h.01M153.4 287.2h.01M158.7 297.0h.01M150.6 293.0h.01M155.4 288.6h.01M163.7 290.7h.01M167.2 289.5h.01M161.1 292.0h.01M154.9 295.6h.01M158.1 295.7h.01M158.7 288.1h.01M158.4 293.2h.01M164.3 288.9h.01M158.8 285.3h.01M162.6 288.1h.01M149.1 292.7h.01M165.1 286.1h.01M153.0 289.7h.01M152.8 294.7h.01M154.6 289.8h.01M162.2 289.6h.01M161.4 288.6h.01M152.3 284.7h.01M169.2 291.6h.01M160.3 292.9h.01M159.9 293.2h.01M169.5 288.3h.01M150.4 288.4h.01M151.7 296.4h.01M163.5 288.7h.01M151.4 291.4h.01M166.7 280.3h.01M161.9 288.2h.01M164.7 288.1h.01M157.4 286.2h.01M153.6 299.2h.01M163.5 291.2h.01M154.2 284.5h.01M156.8 292.9h.01M158.5 292.6h.01M152.8 292.7h.01M158.8 298.8h.01M169.3 292.4h.01M154.8 292.7h.01M155.7 289.7h.01M158.7 288.3h.01M162.3 292.5h.01M160.4 292.2h.01M155.0 288.7h.01M157.7 290.5h.01M160.3 293.0h.01M151.5 293.3h.01M151.6 290.2h.01M157.4 283.7h.01M159.5 293.7h.01M158.1 291.1h.01M156.9 288.6h.01M157.5 290.5h.01M159.5 287.6h.01M160.3 293.6h.01M158.2 291.0h.01M162.0 285.5h.01M161.5 294.1h.01M160.6 294.7h.01M155.4 291.8h.01M162.5 294.9h.01M160.1 286.2h.01M162.0 298.3h.01M164.6 294.1h.01M150.4 297.2h.01M158.2 281.6h.01M161.1 286.3h.01M151.9 290.1h.01M166.0 291.3h.01M160.5 300.9h.01M167.8 292.5h.01M157.7 287.3h.01M155.2 294.9h.01M161.2 293.5h.01M164.5 289.5h.01M158.7 296.3h.01M162.2 297.8h.01M161.2 291.6h.01M161.0 288.5h.01M162.7 271.5h.01M161.7 282.6h.01M159.1 271.1h.01M157.2 278.8h.01M159.2 267.2h.01M161.9 289.3h.01M160.4 278.8h.01M150.0 288.3h.01M162.6 282.1h.01M167.0 287.8h.01M161.7 290.9h.01M163.5 285.1h.01M160.3 279.2h.01M167.9 289.3h.01M160.3 281.9h.01M165.6 284.4h.01M166.1 282.8h.01M159.8 276.2h.01M163.5 281.6h.01M154.8 290.3h.01M161.8 276.6h.01M154.7 278.4h.01M162.4 290.3h.01M158.7 286.5h.01M159.6 290.2h.01M157.0 290.7h.01M161.3 277.0h.01M163.1 278.1h.01M157.0 284.8h.01M159.2 283.5h.01M158.1 289.4h.01M165.1 279.9h.01M168.1 298.7h.01M161.3 283.4h.01M160.0 293.7h.01M160.9 276.2h.01M157.3 286.2h.01M155.0 271.5h.01M157.6 287.7h.01M161.3 282.0h.01M159.2 287.3h.01M157.1 286.5h.01M156.6 280.5h.01M160.4 290.9h.01M159.2 277.8h.01M163.2 281.4h.01M156.6 271.8h.01M170.1 280.4h.01M160.1 289.7h.01M168.3 288.0h.01M159.1 281.4h.01M162.4 291.5h.01M158.6 287.7h.01M167.0 296.5h.01M163.1 287.0h.01M162.9 268.8h.01M162.1 281.6h.01M159.2 287.8h.01M161.9 271.2h.01M159.2 277.8h.01M159.2 278.8h.01M165.1 266.8h.01M164.7 284.8h.01M160.6 296.9h.01M157.1 270.4h.01M158.6 274.6h.01M152.9 283.6h.01M154.8 285.4h.01M160.1 285.1h.01M160.2 280.8h.01M158.2 279.2h.01M160.4 271.2h.01M168.0 295.9h.01M163.2 292.3h.01M166.0 278.3h.01M160.2 282.6h.01M160.8 281.0h.01M160.2 280.0h.01M159.1 275.4h.01M160.2 299.0h.01M162.5 281.3h.01M156.3 288.0h.01M164.0 281.5h.01M161.0 284.9h.01M157.9 293.9h.01M158.5 283.6h.01M153.1 293.4h.01M158.5 278.3h.01M162.8 287.6h.01M154.5 292.8h.01M159.4 288.3h.01M162.6 278.3h.01M152.6 276.6h.01M154.8 280.4h.01M161.9 278.5h.01M166.5 285.2h.01M154.7 281.6h.01M157.0 277.7h.01M162.2 274.5h.01M153.0 278.5h.01M160.1 287.9h.01M160.9 285.5h.01M160.6 287.4h.01M162.1 291.7h.01M162.1 285.7h.01M159.9 272.8h.01M161.3 281.2h.01M166.7 273.5h.01M155.9 283.7h.01M159.4 271.0h.01M157.8 282.4h.01M158.1 283.6h.01M157.7 286.9h.01M164.2 282.7h.01M156.7 301.0h.01M157.3 279.7h.01M156.1 288.5h.01M160.4 279.6h.01M156.9 276.1h.01M152.5 279.7h.01M158.9 272.9h.01M159.8 284.0h.01M158.7 270.6h.01M162.6 288.6h.01M157.1 282.4h.01M158.3 287.4h.01M157.5 274.8h.01M161.3 293.1h.01M158.7 291.1h.01M158.2 289.6h.01M169.9 281.9h.01M158.6 288.4h.01M161.7 282.4h.01M158.6 291.5h.01M159.4 270.8h.01M160.9 283.1h.01M161.7 292.2h.01M156.3 288.7h.01M168.5 289.1h.01M161.5 288.4h.01M167.3 284.1h.01M160.1 276.5h.01M163.3 286.2h.01M161.7 279.9h.01M161.0 281.1h.01M156.2 282.1h.01M163.8 282.9h.01M159.6 276.2h.01M156.4 287.7h.01M156.5 284.3h.01M179.7 303.3h.01M139.6 277.5h.01M173.6 276.0h.01M148.3 297.8h.01M143.3 266.3h.01M153.9 294.6h.01M150.5 290.0h.01M137.2 268.7h.01M165.2 283.6h.01M153.7 301.4h.01M173.7 253.3h.01M175.3 294.9h.01M143.6 280.2h.01M141.6 271.2h.01M177.6 269.6h.01M153.8 254.1h.01M131.6 264.6h.01M128.8 284.7h.01M180.4 255.7h.01M157.9 287.3h.01M129.3 303.4h.01M154.2 304.4h.01M153.8 299.4h.01M150.1 294.8h.01M178.2 260.1h.01M178.1 303.9h.01M133.1 261.5h.01M134.6 298.3h.01M148.5 298.8h.01M171.8 284.6h.01M160.4 279.1h.01M166.1 261.4h.01M157.8 279.0h.01M137.8 266.3h.01M170.9 257.2h.01M127.1 257.4h.01M164.4 294.5h.01M136.9 301.2h.01M152.0 258.1h.01M179.5 251.0h.01M155.7 264.9h.01M129.4 257.7h.01M149.7 260.7h.01M162.4 282.5h.01M129.4 273.6h.01M140.1 274.0h.01M127.3 261.6h.01M155.8 287.0h.01M147.1 266.3h.01M153.8 272.3h.01M142.5 275.9h.01M162.2 300.2h.01M135.8 263.9h.01M175.8 290.0h.01M132.7 265.7h.01M136.5 267.2h.01M135.2 266.0h.01M128.7 266.2h.01M127.2 268.3h.01M132.5 264.5h.01M134.2 268.0h.01M130.0 260.9h.01M131.3 259.9h.01M131.6 272.6h.01M131.3 269.3h.01M130.2 268.0h.01M133.9 266.8h.01M137.0 273.1h.01M135.7 267.4h.01M131.6 269.0h.01M134.1 269.9h.01M134.8 273.1h.01M128.1 266.0h.01M138.1 265.8h.01M132.2 266.1h.01M130.2 267.4h.01M143.5 271.0h.01M131.1 263.9h.01M133.6 270.5h.01M132.1 264.6h.01M138.1 270.0h.01M133.7 263.1h.01M129.6 264.6h.01M127.2 269.6h.01M132.8 268.7h.01M141.5 271.1h.01M131.0 270.0h.01M139.1 264.4h.01M131.7 266.6h.01M129.4 272.1h.01M134.1 266.2h.01M135.6 268.0h.01M134.3 271.0h.01M147.2 303.0h.01M155.7 303.2h.01M161.3 301.6h.01M156.2 304.2h.01M162.1 302.0h.01M151.2 303.5h.01M175.1 304.2h.01M161.3 302.7h.01M156.8 302.7h.01M156.7 304.1h.01M157.6 302.3h.01M152.8 302.9h.01M154.6 302.7h.01M166.3 303.5h.01M163.0 303.5h.01M160.4 302.8h.01M158.2 304.1h.01M160.2 301.9h.01M157.1 302.0h.01M161.0 301.9h.01M166.9 301.8h.01M146.4 301.9h.01M147.9 302.9h.01M166.4 304.0h.01M152.0 301.9h.01M170.7 303.5h.01M160.0 304.6h.01M174.7 304.9h.01M160.8 303.5h.01M163.7 302.1h.01M153.6 303.1h.01M154.3 302.9h.01M154.9 302.8h.01M159.0 303.7h.01M166.3 302.3h.01M155.1 300.5h.01M154.4 303.8h.01M160.3 301.5h.01M157.8 303.0h.01M163.0 302.1h.01M158.5 300.3h.01M146.9 302.5h.01M161.3 302.4h.01M155.2 302.9h.01M160.0 302.9h.01M148.7 302.8h.01" stroke="#333" stroke-width="0.8" stroke-linecap="round" opacity="0.38" fill="none"/>
<path d="M156.5 291.4h.01M159.2 294.4h.01M160.8 291.6h.01M160.9 295.7h.01M161.4 296.3h.01M158.2 292.4h.01M160.7 289.4h.01M159.1 291.5h.01M157.7 288.4h.01M156.4 292.7h.01M160.8 295.3h.01M158.4 292.3h.01M156.5 293.8h.01M158.0 294.3h.01M163.0 292.7h.01M154.9 290.6h.01M155.0 289.8h.01M161.9 293.4h.01M154.8 294.4h.01M161.8 291.9h.01M156.9 292.0h.01M159.3 294.4h.01M161.6 295.8h.01M161.6 296.2h.01M160.3 289.0h.01M158.3 293.6h.01M157.6 295.1h.01M157.7 290.5h.01M162.2 294.5h.01M159.1 295.1h.01M161.3 293.7h.01M152.5 291.1h.01M157.5 290.3h.01M159.1 295.8h.01M157.4 290.0h.01M163.7 291.7h.01M155.5 293.4h.01M159.7 291.0h.01M160.6 291.6h.01M156.3 293.2h.01M160.5 291.2h.01M159.4 292.6h.01M165.7 291.0h.01M162.1 292.7h.01M158.3 294.6h.01M160.8 296.0h.01M159.4 291.3h.01M157.3 294.1h.01M160.1 296.3h.01M159.6 295.5h.01M162.4 293.2h.01M154.9 289.9h.01M155.0 296.8h.01M156.5 295.9h.01M160.1 297.1h.01M161.1 292.5h.01M158.1 293.0h.01M159.0 291.5h.01M158.5 296.8h.01M154.3 293.4h.01M156.3 293.3h.01M160.7 292.7h.01M160.5 288.8h.01M161.4 291.3h.01M160.2 293.3h.01M152.1 290.9h.01M159.2 296.7h.01M159.3 293.4h.01M155.1 296.4h.01M163.1 292.9h.01M158.1 288.8h.01M160.8 299.6h.01M160.4 296.0h.01M160.0 290.3h.01M161.9 289.7h.01M158.1 293.5h.01M160.8 293.8h.01M159.6 290.9h.01M155.4 293.0h.01M156.8 289.5h.01M155.4 291.6h.01M154.0 289.4h.01M154.5 293.3h.01M159.6 297.8h.01M154.9 291.1h.01M160.9 292.3h.01M157.8 297.1h.01M157.8 289.9h.01M155.3 293.6h.01M159.4 289.4h.01M156.1 294.1h.01M160.0 291.2h.01M160.2 294.2h.01M154.1 292.0h.01M159.6 291.4h.01M153.3 292.1h.01M160.5 296.8h.01M153.1 299.3h.01M155.8 295.2h.01M161.7 295.3h.01M159.0 289.9h.01M160.2 291.0h.01M152.3 299.9h.01M160.4 297.3h.01M156.3 296.5h.01M162.6 296.7h.01M158.5 289.8h.01M158.2 287.3h.01M154.3 293.0h.01M156.1 292.4h.01M158.3 297.6h.01M161.8 292.7h.01M161.6 290.9h.01M157.8 295.1h.01M155.5 292.1h.01M155.3 293.1h.01M162.7 290.9h.01M159.2 290.6h.01M155.7 289.7h.01M162.2 298.7h.01M159.8 291.0h.01M160.4 292.0h.01M160.6 293.5h.01M159.3 294.3h.01M157.2 291.8h.01M154.3 291.7h.01M155.0 292.4h.01M156.2 293.1h.01M159.7 289.2h.01M156.6 290.4h.01" stroke="#000" stroke-width="0.84" stroke-linecap="round" opacity="0.5" fill="none"/>
<rect x="126.3" y="250.3" width="54.60000000000001" height="55.19999999999999" fill="none" stroke="#666" stroke-width="0.8"/>
<rect x="126.3" y="259.9" width="15.700000000000003" height="17.400000000000034" fill="none" stroke="#555" stroke-width="0.8"/>
<path d="M221.7 295.3h.01M225.1 289.4h.01M225.2 293.7h.01M225.7 291.8h.01M217.9 295.9h.01M217.6 289.6h.01M213.3 299.3h.01M218.2 303.0h.01M213.1 298.3h.01M206.5 290.7h.01M224.3 292.3h.01M219.9 296.7h.01M211.3 295.3h.01M214.2 294.6h.01M221.1 300.3h.01M213.8 292.5h.01M218.6 296.5h.01M221.6 296.8h.01M216.1 292.7h.01M212.0 292.0h.01M214.8 294.9h.01M221.1 295.0h.01M215.9 290.9h.01M226.0 299.5h.01M226.8 301.0h.01M225.2 295.8h.01M210.3 302.9h.01M226.3 299.1h.01M221.2 303.4h.01M213.3 299.1h.01M212.1 293.5h.01M213.5 296.3h.01M217.8 299.3h.01M223.5 300.7h.01M215.0 296.5h.01M220.1 299.1h.01M207.5 300.8h.01M233.4 287.5h.01M222.6 298.9h.01M216.4 304.0h.01M210.3 297.8h.01M225.3 296.0h.01M214.6 297.6h.01M211.9 301.5h.01M209.9 300.4h.01M216.4 283.7h.01M217.0 291.5h.01M210.7 291.6h.01M225.1 297.6h.01M225.7 298.7h.01M212.0 296.7h.01M224.0 301.8h.01M217.0 297.3h.01M216.4 294.0h.01M227.9 297.0h.01M210.6 294.5h.01M221.1 300.3h.01M216.2 293.6h.01M217.1 288.4h.01M209.6 301.1h.01M214.3 298.9h.01M223.9 300.3h.01M220.8 295.2h.01M221.1 299.1h.01M212.2 297.4h.01M216.1 286.9h.01M216.0 295.5h.01M214.5 288.5h.01M215.0 296.8h.01M217.6 291.2h.01M220.6 290.8h.01M215.7 303.7h.01M213.1 294.4h.01M223.1 295.0h.01M215.3 298.1h.01M222.9 285.7h.01M212.3 291.8h.01M210.9 292.6h.01M212.3 298.5h.01M212.0 297.6h.01M219.3 293.3h.01M218.8 293.7h.01M216.6 292.3h.01M218.5 301.4h.01M212.4 295.9h.01M223.3 294.5h.01M218.1 291.8h.01M212.4 294.4h.01M229.0 295.0h.01M214.1 294.2h.01M216.1 300.3h.01M218.2 304.2h.01M218.5 300.0h.01M209.1 296.4h.01M216.6 295.8h.01M205.2 301.4h.01M214.9 294.8h.01M215.6 295.9h.01M219.2 290.6h.01M211.9 298.5h.01M217.8 295.1h.01M213.8 292.8h.01M216.7 302.9h.01M211.2 304.6h.01M221.6 294.7h.01M221.3 289.7h.01M207.5 290.6h.01M214.7 295.4h.01M214.2 297.5h.01M205.3 299.5h.01M209.2 293.7h.01M214.7 291.2h.01M209.5 292.0h.01M216.9 299.9h.01M220.1 292.0h.01M212.6 292.4h.01M219.5 286.8h.01M223.8 294.6h.01M212.7 298.7h.01M222.7 298.7h.01M222.8 297.7h.01M223.8 303.2h.01M216.5 304.2h.01M217.9 297.4h.01M211.9 295.6h.01M221.3 290.4h.01M220.6 298.7h.01M218.5 286.0h.01M216.4 300.2h.01M212.8 297.5h.01M203.9 300.4h.01M213.4 301.4h.01M206.9 300.5h.01M215.7 301.0h.01M211.9 293.9h.01M229.3 292.9h.01M213.1 295.6h.01M211.4 303.0h.01M226.5 293.5h.01M207.5 302.9h.01M223.1 301.1h.01M223.4 292.7h.01M216.1 290.1h.01M209.2 301.9h.01M217.4 293.8h.01M219.7 290.9h.01M219.0 303.9h.01M214.3 293.1h.01M222.6 297.7h.01M210.9 295.1h.01M212.8 298.5h.01M217.6 302.8h.01M220.9 289.2h.01M219.2 301.5h.01M219.5 302.2h.01M214.0 292.2h.01M222.1 291.7h.01M205.1 302.1h.01M213.0 295.5h.01M209.3 290.4h.01M210.6 295.2h.01M219.0 285.5h.01M221.1 291.1h.01M211.1 300.4h.01M216.6 289.3h.01M227.1 292.7h.01M218.4 298.0h.01M224.8 294.7h.01M222.5 293.3h.01M223.2 293.2h.01M218.7 297.5h.01M229.3 298.8h.01M212.5 300.7h.01M210.5 302.6h.01M223.6 294.1h.01M213.5 297.9h.01M217.1 292.1h.01M220.1 286.8h.01M214.6 295.0h.01M215.5 298.5h.01M210.2 299.9h.01M216.0 293.7h.01M209.5 291.1h.01M219.0 292.2h.01M217.4 302.3h.01M215.4 291.6h.01M222.6 298.5h.01M223.2 297.1h.01M223.6 301.2h.01M220.9 299.5h.01M219.2 298.2h.01M218.2 302.0h.01M216.4 301.9h.01M216.5 295.8h.01M228.2 295.5h.01M210.0 293.4h.01M218.1 301.7h.01M211.5 298.8h.01M213.2 300.0h.01M218.7 291.9h.01M216.9 295.7h.01M204.2 300.0h.01M220.0 294.8h.01M209.6 304.4h.01M218.5 302.1h.01M224.8 294.4h.01M221.5 295.8h.01M216.7 296.6h.01M217.0 302.6h.01M217.7 296.2h.01M215.5 298.7h.01M212.1 294.5h.01M216.7 294.2h.01M216.3 293.9h.01M228.0 303.6h.01M219.5 296.7h.01M229.0 298.6h.01M216.5 298.5h.01M218.7 304.1h.01M212.1 300.5h.01M215.2 296.7h.01M222.1 303.3h.01M210.9 295.3h.01M209.3 297.7h.01M216.4 295.3h.01M213.2 295.1h.01M212.9 299.6h.01M225.3 287.3h.01M216.4 294.9h.01M219.7 292.2h.01M216.2 291.8h.01M220.8 297.5h.01M216.1 298.9h.01M215.6 289.2h.01M220.3 298.4h.01M216.2 301.9h.01M223.7 291.5h.01M212.7 304.7h.01M224.8 293.3h.01M210.5 293.8h.01M214.3 289.1h.01M217.2 290.6h.01M210.3 301.6h.01M213.2 296.6h.01M220.5 301.1h.01M215.1 297.2h.01M220.6 291.5h.01M217.0 300.6h.01M224.5 294.3h.01M216.5 290.6h.01M218.4 297.8h.01M231.9 297.5h.01M205.5 293.6h.01M217.6 290.7h.01M212.2 295.2h.01M218.9 296.2h.01M212.1 300.9h.01M214.0 294.5h.01M209.4 293.1h.01M220.6 288.9h.01M216.6 300.6h.01M214.9 298.2h.01M210.9 303.6h.01M223.1 298.2h.01M207.3 291.8h.01M218.6 303.2h.01M213.7 296.1h.01M217.0 299.1h.01M208.6 301.7h.01M224.3 291.3h.01M209.5 298.8h.01M213.4 285.1h.01M221.4 297.8h.01M217.8 293.2h.01M217.6 291.8h.01M212.8 298.9h.01M214.0 294.7h.01M226.2 301.3h.01M221.4 299.6h.01M219.7 304.3h.01M211.8 295.7h.01M209.4 295.3h.01M219.9 304.3h.01M213.4 297.0h.01M215.0 293.3h.01M210.5 297.3h.01M207.5 297.6h.01M217.1 293.7h.01M211.4 290.1h.01M227.3 290.3h.01M225.6 300.0h.01M215.0 291.2h.01M211.9 295.5h.01M222.8 298.7h.01M228.0 294.1h.01M220.0 290.7h.01M228.5 293.3h.01M204.9 296.4h.01M215.1 296.9h.01M216.7 302.2h.01M219.8 295.5h.01M217.4 297.1h.01M225.1 278.6h.01M224.9 275.3h.01M218.5 291.7h.01M217.9 279.6h.01M222.7 288.3h.01M224.0 287.0h.01M220.2 281.1h.01M222.8 274.0h.01M216.9 286.1h.01M222.5 293.1h.01M219.2 265.3h.01M224.3 274.8h.01M216.4 302.4h.01M217.7 285.5h.01M222.2 287.5h.01M214.1 294.0h.01M214.3 296.0h.01M224.8 286.9h.01M214.3 290.0h.01M216.7 280.1h.01M224.7 284.6h.01M221.3 276.0h.01M221.8 289.3h.01M226.6 288.3h.01M223.3 288.4h.01M228.0 288.9h.01M225.4 271.7h.01M217.6 283.2h.01M209.7 278.2h.01M215.6 282.3h.01M211.6 288.5h.01M220.4 295.0h.01M215.5 283.3h.01M213.3 279.5h.01M219.0 281.2h.01M211.9 283.8h.01M214.5 283.1h.01M228.3 286.1h.01M217.4 289.4h.01M211.9 273.6h.01M222.6 273.2h.01M219.3 279.6h.01M219.5 280.6h.01M215.6 294.8h.01M215.0 282.6h.01M213.9 291.1h.01M212.1 277.1h.01M221.4 275.1h.01M214.0 303.0h.01M220.3 291.7h.01M217.6 277.3h.01M215.5 283.4h.01M209.5 298.5h.01M220.7 287.7h.01M219.7 280.9h.01M219.8 291.1h.01M222.5 287.9h.01M226.4 270.8h.01M223.9 300.9h.01M212.0 292.1h.01M214.9 284.2h.01M223.8 280.9h.01M218.3 279.4h.01M218.2 271.6h.01M215.5 285.6h.01M228.4 280.0h.01M213.7 276.5h.01M225.0 279.3h.01M220.7 299.7h.01M216.9 280.0h.01M214.4 292.5h.01M226.1 295.2h.01M222.2 285.5h.01M226.8 290.2h.01M224.9 277.6h.01M215.2 282.4h.01M217.9 285.7h.01M211.0 278.1h.01M226.3 278.4h.01M222.3 298.7h.01M216.4 293.3h.01M220.4 284.5h.01M214.1 277.4h.01M217.4 285.7h.01M220.9 277.6h.01M224.1 283.2h.01M217.5 285.0h.01M218.1 285.9h.01M217.0 280.3h.01M222.2 290.2h.01M210.5 294.0h.01M216.9 282.2h.01M216.7 286.2h.01M222.9 281.4h.01M213.2 286.2h.01M224.0 294.3h.01M223.2 281.0h.01M224.6 279.9h.01M215.0 283.5h.01M215.2 282.4h.01M219.9 286.3h.01M216.2 285.3h.01M219.5 259.4h.01M220.2 271.7h.01M220.4 292.9h.01M218.1 282.3h.01M216.3 284.1h.01M214.4 280.9h.01M218.9 293.3h.01M217.7 291.7h.01M218.1 285.5h.01M223.1 288.2h.01M215.6 286.7h.01M227.3 279.5h.01M217.5 283.0h.01M224.4 295.3h.01M217.0 288.7h.01M221.0 301.5h.01M218.1 288.8h.01M212.3 275.1h.01M221.0 287.8h.01M213.1 283.3h.01M217.4 274.9h.01M223.5 274.8h.01M233.1 293.1h.01M216.0 291.1h.01M201.7 278.9h.01M218.1 280.8h.01M222.1 291.8h.01M220.1 289.1h.01M207.3 300.9h.01M204.8 298.8h.01M238.0 294.7h.01M240.6 271.2h.01M211.5 279.4h.01M238.2 259.8h.01M212.3 292.1h.01M215.8 299.3h.01M222.0 259.1h.01M203.8 291.3h.01M206.3 288.5h.01M206.2 252.3h.01M205.9 300.7h.01M219.3 276.7h.01M197.5 265.1h.01M233.2 252.0h.01M201.4 293.3h.01M215.6 268.9h.01M226.0 278.5h.01M199.5 261.0h.01M213.7 283.7h.01M221.8 272.1h.01M221.1 294.7h.01M239.1 286.9h.01M233.5 290.0h.01M198.6 264.1h.01M236.0 253.8h.01M221.1 298.7h.01M227.9 301.8h.01M200.6 285.7h.01M217.0 301.0h.01M229.0 289.1h.01M234.1 283.6h.01M234.6 273.3h.01M203.6 269.9h.01M236.0 277.2h.01M222.1 262.5h.01M227.4 273.8h.01M237.0 278.2h.01M213.5 252.0h.01M199.7 269.2h.01M199.8 264.9h.01M199.0 261.3h.01M201.8 271.5h.01M199.4 274.7h.01M206.5 263.2h.01M203.1 269.8h.01M200.7 271.7h.01M196.1 265.6h.01M195.7 265.0h.01M198.6 262.2h.01M194.8 270.3h.01M198.7 269.5h.01M196.8 268.1h.01M196.7 271.7h.01M216.7 303.5h.01M217.1 304.6h.01M219.8 303.7h.01M217.3 304.3h.01M216.8 300.4h.01M225.0 303.7h.01M210.0 303.2h.01M220.0 301.1h.01M220.3 302.9h.01M228.5 301.9h.01M203.5 303.6h.01M214.9 302.9h.01M204.2 304.1h.01M227.0 300.6h.01M224.0 302.6h.01M231.1 304.2h.01M220.2 302.6h.01M221.3 302.7h.01M214.9 302.6h.01M219.0 301.2h.01M208.9 302.8h.01M213.9 303.6h.01M223.7 302.8h.01M220.0 304.4h.01M210.5 303.8h.01M219.7 303.5h.01M209.0 303.7h.01M212.4 304.6h.01M216.3 302.3h.01M222.6 304.6h.01M215.2 303.0h.01M217.7 302.4h.01M214.4 303.3h.01M216.7 304.1h.01M222.3 303.9h.01M231.5 303.9h.01M214.5 303.0h.01M221.9 304.7h.01M212.5 303.0h.01M223.3 304.1h.01M209.0 304.0h.01M215.9 302.3h.01M219.6 302.9h.01M207.6 301.8h.01M227.6 301.2h.01M218.3 304.4h.01M220.8 301.7h.01M215.1 303.7h.01M221.8 302.5h.01M223.6 304.1h.01M213.3 304.1h.01M217.7 304.8h.01M209.5 303.7h.01M216.0 301.8h.01M218.3 303.6h.01M214.5 304.1h.01M208.5 303.4h.01M219.6 303.9h.01M223.5 301.7h.01M208.0 303.9h.01M220.7 302.2h.01M221.8 302.2h.01M219.0 304.6h.01M210.8 301.4h.01M220.1 303.8h.01M218.0 302.5h.01M226.2 304.5h.01M220.0 304.1h.01M223.3 304.3h.01M221.5 301.7h.01M213.9 303.3h.01M220.7 301.1h.01M220.0 301.7h.01M212.1 304.3h.01M215.2 304.7h.01M235.9 304.7h.01M221.3 302.2h.01M213.1 301.9h.01M213.8 301.9h.01M213.0 303.2h.01M211.0 301.4h.01M208.8 304.2h.01M223.3 303.0h.01M221.0 301.3h.01M215.7 301.8h.01M219.3 300.7h.01M212.3 304.6h.01M217.5 302.8h.01M222.7 301.9h.01M218.7 302.8h.01M211.9 304.2h.01M210.4 304.4h.01M209.8 301.5h.01M218.0 304.5h.01M212.2 303.7h.01M219.3 304.4h.01M220.4 302.9h.01M210.9 301.0h.01M208.8 304.3h.01M215.0 301.8h.01M215.0 302.6h.01M225.1 304.2h.01M217.3 302.6h.01M207.7 301.7h.01M214.1 303.2h.01M219.1 304.3h.01M218.3 303.8h.01M211.0 300.3h.01M213.9 302.1h.01M213.1 303.1h.01" stroke="#333" stroke-width="0.8" stroke-linecap="round" opacity="0.45" fill="none"/>
<path d="M211.4 295.8h.01M214.8 299.7h.01M215.9 297.8h.01M211.6 299.3h.01M219.8 300.1h.01M217.8 297.7h.01M218.7 304.7h.01M220.1 297.2h.01M213.8 300.4h.01M216.2 299.2h.01M214.0 300.2h.01M212.5 304.4h.01M216.7 296.5h.01M217.6 302.4h.01M217.5 296.4h.01M219.4 301.6h.01M215.1 295.8h.01M210.0 299.1h.01M217.7 297.6h.01M212.5 298.4h.01M217.3 303.0h.01M212.3 303.4h.01M217.4 299.8h.01M212.4 297.8h.01M218.9 302.8h.01M207.2 296.1h.01M211.7 295.1h.01M216.2 299.5h.01M212.5 299.5h.01M211.8 300.5h.01M212.7 299.8h.01M211.7 297.2h.01M209.9 298.5h.01M212.4 297.5h.01M213.3 303.0h.01M210.7 297.3h.01M214.3 296.0h.01M217.7 299.3h.01M217.5 297.9h.01M214.5 300.9h.01M210.9 293.2h.01M218.4 302.5h.01M216.6 300.7h.01M213.5 298.6h.01M217.2 297.7h.01M213.8 301.2h.01M216.1 298.9h.01M212.2 301.1h.01M218.6 300.0h.01M214.3 303.5h.01M211.5 301.8h.01M208.2 297.8h.01M209.2 304.1h.01M212.2 302.3h.01M214.0 296.7h.01M216.2 300.9h.01M212.8 303.0h.01M214.9 302.4h.01M214.2 298.4h.01M215.0 299.8h.01M213.1 301.4h.01M216.6 297.5h.01M212.8 294.2h.01M216.4 297.6h.01M221.8 294.4h.01M218.5 291.2h.01M215.5 299.2h.01M216.8 296.9h.01M213.7 296.2h.01M211.4 303.4h.01M215.0 298.8h.01M217.8 295.4h.01M210.3 301.2h.01M212.3 299.8h.01M214.7 297.8h.01M217.2 297.6h.01M217.2 297.6h.01M216.9 299.9h.01M213.1 298.2h.01M216.1 296.1h.01M220.4 303.2h.01M215.2 304.4h.01M215.6 299.3h.01M218.6 299.9h.01M212.2 303.2h.01M218.3 297.7h.01M213.9 301.0h.01M213.4 304.0h.01M213.2 299.0h.01M216.9 293.3h.01M212.9 295.9h.01M216.5 297.5h.01M214.5 299.8h.01M214.3 294.3h.01M215.4 295.0h.01M214.5 301.2h.01M214.9 302.0h.01M217.2 299.3h.01M210.9 303.7h.01M215.9 303.6h.01M215.8 303.3h.01M211.2 295.8h.01M215.5 295.2h.01M209.3 298.8h.01M210.0 292.2h.01M214.4 300.9h.01M215.3 299.2h.01M208.6 302.0h.01M212.2 299.0h.01M213.0 295.8h.01M213.8 299.6h.01M213.1 295.1h.01M215.3 294.3h.01M215.8 302.0h.01M217.3 296.2h.01M211.3 297.3h.01M214.2 297.9h.01M216.2 302.4h.01M217.1 299.9h.01M217.0 300.3h.01M210.1 295.2h.01M210.6 302.6h.01M214.2 299.0h.01M213.2 298.3h.01M207.4 304.7h.01M220.9 303.0h.01M214.4 300.1h.01M219.6 302.5h.01M214.7 296.0h.01M216.1 299.4h.01M216.3 300.5h.01M214.6 298.6h.01M212.6 297.7h.01M214.1 299.5h.01M218.9 296.0h.01M210.6 299.5h.01M212.4 303.7h.01M214.5 301.7h.01M215.0 300.9h.01M214.6 298.0h.01M215.7 300.2h.01M210.7 296.4h.01M215.8 300.3h.01M217.8 302.2h.01M214.9 301.5h.01M218.3 300.6h.01M211.7 302.8h.01M215.4 297.8h.01M213.4 297.9h.01M213.8 296.7h.01M217.3 301.4h.01M220.3 300.0h.01M223.4 299.7h.01M215.9 303.4h.01M206.6 298.3h.01M215.0 299.5h.01M207.4 302.5h.01M213.5 300.5h.01M214.8 302.3h.01M217.2 296.1h.01M216.2 302.4h.01M217.6 303.4h.01M210.7 299.9h.01M218.3 295.3h.01M214.8 302.4h.01M214.6 298.5h.01M213.6 300.1h.01M220.6 297.6h.01M212.8 300.8h.01M212.5 295.6h.01M216.6 302.4h.01M214.6 299.3h.01M211.4 299.0h.01M215.5 304.4h.01M217.0 299.5h.01M210.6 299.2h.01M214.8 296.8h.01M214.2 301.2h.01M217.3 303.4h.01M214.6 301.1h.01M216.0 299.1h.01M214.7 303.1h.01M213.6 301.5h.01M211.7 295.2h.01M215.8 302.6h.01M218.2 302.9h.01M212.8 303.4h.01M214.9 299.4h.01M215.8 296.6h.01M213.2 303.5h.01M213.8 299.3h.01M215.7 297.6h.01M219.2 300.1h.01M216.0 302.1h.01M210.5 299.2h.01M212.1 299.7h.01M214.4 303.2h.01M215.1 302.8h.01M216.3 300.7h.01M212.5 303.1h.01M221.8 301.7h.01M213.8 299.7h.01M210.4 297.6h.01M214.7 304.0h.01M219.7 301.0h.01M216.2 303.6h.01M215.8 301.4h.01M219.0 299.9h.01M215.5 302.1h.01M217.0 304.2h.01M215.4 301.6h.01M212.1 299.7h.01M211.6 298.8h.01M215.2 300.4h.01M214.6 293.0h.01M215.0 302.2h.01M218.1 296.8h.01M211.1 297.6h.01M214.5 296.3h.01M217.8 303.4h.01M211.2 300.7h.01M212.0 297.8h.01M209.5 299.4h.01M216.3 300.4h.01M215.8 299.5h.01M210.4 296.8h.01M217.7 297.8h.01M213.2 303.5h.01M213.6 304.1h.01M216.7 298.5h.01M211.9 297.4h.01M215.2 295.1h.01M214.3 299.8h.01M218.5 298.6h.01M212.5 298.6h.01M218.5 304.2h.01M209.6 301.2h.01M216.2 298.0h.01M218.9 300.1h.01M216.4 295.4h.01M218.2 297.9h.01M217.4 299.7h.01M210.6 297.8h.01M212.8 296.2h.01M217.9 296.5h.01M215.3 304.6h.01M214.2 296.5h.01M218.6 297.7h.01M215.9 301.1h.01M208.9 298.6h.01M211.4 297.4h.01M214.8 301.3h.01M213.4 297.3h.01M213.9 296.9h.01M213.3 297.6h.01M219.4 301.8h.01M214.4 293.9h.01M214.3 300.1h.01M213.5 299.4h.01M213.2 303.4h.01M214.5 299.6h.01M214.0 300.4h.01M214.5 303.4h.01M214.4 300.6h.01M212.2 296.6h.01M215.0 296.4h.01M211.5 297.6h.01M216.0 300.8h.01M219.2 294.0h.01M214.2 300.1h.01M214.7 303.6h.01M220.6 297.9h.01M214.2 296.3h.01M211.5 302.9h.01M215.6 299.7h.01M216.3 299.8h.01M211.1 300.3h.01M214.8 301.4h.01M217.7 301.5h.01M215.6 303.4h.01M211.4 301.1h.01M215.1 299.5h.01M214.8 298.6h.01M218.8 297.2h.01M213.8 301.4h.01M215.7 304.3h.01M213.9 300.3h.01M211.7 300.4h.01M212.5 302.3h.01M214.9 301.8h.01M214.5 303.7h.01M211.9 303.5h.01M213.9 302.1h.01M214.7 300.7h.01M208.8 303.2h.01M210.3 301.1h.01M209.0 304.1h.01M209.8 296.6h.01M213.0 300.4h.01M213.6 293.9h.01M214.0 302.3h.01M213.5 303.2h.01M213.4 300.0h.01M219.8 301.2h.01M215.0 301.2h.01M212.4 297.9h.01M214.2 296.9h.01M220.0 298.6h.01M215.5 292.0h.01M211.4 302.4h.01M215.7 297.8h.01M217.2 294.6h.01M218.6 292.5h.01M213.9 303.4h.01M218.3 301.7h.01M212.9 302.4h.01M214.0 303.7h.01M213.7 303.3h.01M213.1 303.3h.01M215.0 303.0h.01M213.1 303.7h.01M217.9 304.2h.01M213.7 304.3h.01M218.0 303.8h.01M212.8 304.7h.01M215.5 303.7h.01M209.6 302.0h.01M215.0 304.6h.01M216.4 302.5h.01M217.1 303.3h.01M215.2 304.2h.01M211.6 303.2h.01M207.8 302.9h.01M208.6 304.2h.01M214.2 304.7h.01M215.1 303.2h.01M215.0 303.4h.01M215.8 304.1h.01M211.0 303.8h.01M214.2 303.5h.01M212.9 303.4h.01M207.3 303.7h.01M212.7 301.6h.01M214.9 304.4h.01M211.8 303.4h.01M211.1 304.6h.01M209.4 303.5h.01M219.9 303.9h.01M215.4 303.7h.01M210.5 303.8h.01M215.2 302.8h.01M217.2 302.2h.01M211.1 302.2h.01M217.2 304.4h.01M216.1 302.9h.01M210.5 303.9h.01M214.3 302.9h.01M214.4 304.4h.01M214.7 302.8h.01M207.7 303.5h.01M214.5 303.5h.01M212.7 303.1h.01M216.1 303.7h.01M214.4 302.8h.01M212.1 304.0h.01M211.0 302.5h.01M213.6 303.5h.01M209.8 303.2h.01M218.3 304.1h.01M216.2 304.5h.01M214.0 303.6h.01M214.4 304.5h.01M215.4 304.3h.01M214.5 303.0h.01M213.2 302.9h.01M217.0 301.7h.01M213.0 302.7h.01M213.5 304.4h.01M214.3 303.4h.01M223.5 303.9h.01M212.4 303.3h.01M215.1 304.2h.01M216.3 303.9h.01M209.7 304.3h.01M213.1 303.5h.01M209.6 303.2h.01M211.8 303.8h.01M209.6 303.9h.01M214.4 302.7h.01M212.1 302.9h.01M216.7 301.3h.01M213.0 302.1h.01M212.7 304.6h.01M212.1 303.9h.01M210.0 302.7h.01M217.2 303.6h.01M213.2 304.1h.01M210.2 304.6h.01M214.1 304.3h.01M212.0 304.3h.01" stroke="#000" stroke-width="0.9" stroke-linecap="round" opacity="0.7" fill="none"/>
<rect x="192.2" y="250.3" width="52.60000000000002" height="55.0" fill="none" stroke="#666" stroke-width="0.8"/>
<rect x="192.2" y="260.0" width="14.300000000000011" height="17.30000000000001" fill="none" stroke="#555" stroke-width="0.8"/>
<text transform="translate(133.1,247.1) scale(1,1.05)" font-size="7.8" text-anchor="start" font-weight="normal" fill="#3a3a3a" textLength="50.8" lengthAdjust="spacingAndGlyphs" stroke="#3a3a3a" stroke-width="0.12"  style="">p#6: before Tx</text>
<text transform="translate(199.4,247.1) scale(1,1.05)" font-size="7.8" text-anchor="start" font-weight="normal" fill="#3a3a3a" textLength="37.6" lengthAdjust="spacingAndGlyphs" stroke="#3a3a3a" stroke-width="0.12"  style="">p#6: +6mo</text>
<text transform="translate(155.2,262.8) scale(1,1.05)" font-size="8.2" text-anchor="start" font-weight="bold" fill="#000" textLength="21.3" lengthAdjust="spacingAndGlyphs" stroke="#000" stroke-width="0.15"  style="">10.2%</text>
<text transform="translate(224.8,262.6) scale(1,1.05)" font-size="8.2" text-anchor="start" font-weight="bold" fill="#000" textLength="17.7" lengthAdjust="spacingAndGlyphs" stroke="#000" stroke-width="0.15"  style="">0.7%</text>
<text x="124.89999999999999" y="251.4" font-size="3.0" fill="#555" text-anchor="end">10</text>
<line x1="125.0" y1="250.3" x2="126.3" y2="250.3" stroke="#777" stroke-width="0.5" />
<text x="126.3" y="308.8" font-size="3.0" fill="#555" text-anchor="middle">10</text>
<line x1="126.3" y1="305.5" x2="126.3" y2="306.8" stroke="#777" stroke-width="0.5" />
<text x="124.89999999999999" y="265.20000000000005" font-size="3.0" fill="#555" text-anchor="end">10</text>
<line x1="125.0" y1="264.1" x2="126.3" y2="264.1" stroke="#777" stroke-width="0.5" />
<text x="139.95" y="308.8" font-size="3.0" fill="#555" text-anchor="middle">10</text>
<line x1="139.95" y1="305.5" x2="139.95" y2="306.8" stroke="#777" stroke-width="0.5" />
<text x="124.89999999999999" y="279.0" font-size="3.0" fill="#555" text-anchor="end">10</text>
<line x1="125.0" y1="277.9" x2="126.3" y2="277.9" stroke="#777" stroke-width="0.5" />
<text x="153.6" y="308.8" font-size="3.0" fill="#555" text-anchor="middle">10</text>
<line x1="153.6" y1="305.5" x2="153.6" y2="306.8" stroke="#777" stroke-width="0.5" />
<text x="124.89999999999999" y="292.8" font-size="3.0" fill="#555" text-anchor="end">10</text>
<line x1="125.0" y1="291.7" x2="126.3" y2="291.7" stroke="#777" stroke-width="0.5" />
<text x="167.25" y="308.8" font-size="3.0" fill="#555" text-anchor="middle">10</text>
<line x1="167.25" y1="305.5" x2="167.25" y2="306.8" stroke="#777" stroke-width="0.5" />
<text x="124.89999999999999" y="306.6" font-size="3.0" fill="#555" text-anchor="end">10</text>
<line x1="125.0" y1="305.5" x2="126.3" y2="305.5" stroke="#777" stroke-width="0.5" />
<text x="180.9" y="308.8" font-size="3.0" fill="#555" text-anchor="middle">10</text>
<line x1="180.9" y1="305.5" x2="180.9" y2="306.8" stroke="#777" stroke-width="0.5" />
<text x="190.79999999999998" y="251.4" font-size="3.0" fill="#555" text-anchor="end">10</text>
<line x1="190.89999999999998" y1="250.3" x2="192.2" y2="250.3" stroke="#777" stroke-width="0.5" />
<text x="192.2" y="308.6" font-size="3.0" fill="#555" text-anchor="middle">10</text>
<line x1="192.2" y1="305.3" x2="192.2" y2="306.6" stroke="#777" stroke-width="0.5" />
<text x="190.79999999999998" y="265.15000000000003" font-size="3.0" fill="#555" text-anchor="end">10</text>
<line x1="190.89999999999998" y1="264.05" x2="192.2" y2="264.05" stroke="#777" stroke-width="0.5" />
<text x="205.35" y="308.6" font-size="3.0" fill="#555" text-anchor="middle">10</text>
<line x1="205.35" y1="305.3" x2="205.35" y2="306.6" stroke="#777" stroke-width="0.5" />
<text x="190.79999999999998" y="278.90000000000003" font-size="3.0" fill="#555" text-anchor="end">10</text>
<line x1="190.89999999999998" y1="277.8" x2="192.2" y2="277.8" stroke="#777" stroke-width="0.5" />
<text x="218.5" y="308.6" font-size="3.0" fill="#555" text-anchor="middle">10</text>
<line x1="218.5" y1="305.3" x2="218.5" y2="306.6" stroke="#777" stroke-width="0.5" />
<text x="190.79999999999998" y="292.65000000000003" font-size="3.0" fill="#555" text-anchor="end">10</text>
<line x1="190.89999999999998" y1="291.55" x2="192.2" y2="291.55" stroke="#777" stroke-width="0.5" />
<text x="231.65" y="308.6" font-size="3.0" fill="#555" text-anchor="middle">10</text>
<line x1="231.65" y1="305.3" x2="231.65" y2="306.6" stroke="#777" stroke-width="0.5" />
<text x="190.79999999999998" y="306.40000000000003" font-size="3.0" fill="#555" text-anchor="end">10</text>
<line x1="190.89999999999998" y1="305.3" x2="192.2" y2="305.3" stroke="#777" stroke-width="0.5" />
<text x="244.8" y="308.6" font-size="3.0" fill="#555" text-anchor="middle">10</text>
<line x1="244.8" y1="305.3" x2="244.8" y2="306.6" stroke="#777" stroke-width="0.5" />
<circle cx="115.9" cy="278.3" r="0.9" fill="#111"/>
<path d="M115.9 278.3V315.6H212.3" fill="none" stroke="#777" stroke-width="1.0"/>
<circle cx="212.5" cy="315.6" r="0.9" fill="#111"/>
<text transform="translate(119.0,262.2) rotate(-90)" font-size="7.6" text-anchor="middle" font-weight="bold" fill="#000" textLength="19.6" lengthAdjust="spacingAndGlyphs">CD27</text>
<text transform="translate(218.8,318.1) scale(1,1.05)" font-size="8.1" text-anchor="start" font-weight="bold" fill="#000" textLength="20.6" lengthAdjust="spacingAndGlyphs" stroke="#000" stroke-width="0.15"  style="">CD20</text>
<text transform="translate(259.8,223.2) scale(1,1.05)" font-size="16.6" text-anchor="start" font-weight="bold" fill="#000" stroke="#000" stroke-width="0.15"  style="">D</text>
<path d="M327.4 324.7h.01M319.3 300.2h.01M323.2 333.8h.01M320.7 320.3h.01M328.6 300.4h.01M321.2 321.6h.01M330.0 317.7h.01M326.1 291.4h.01M336.2 332.5h.01M314.8 336.2h.01M314.1 344.3h.01M335.3 312.0h.01M320.7 330.1h.01M330.5 325.5h.01M330.0 293.2h.01M315.6 333.4h.01M321.6 303.5h.01M319.4 316.3h.01M326.2 328.4h.01M326.8 322.9h.01M320.2 307.9h.01M331.7 342.2h.01M320.9 294.6h.01M323.0 322.5h.01M329.3 299.3h.01M328.9 351.1h.01M318.0 335.8h.01M320.9 345.4h.01M319.7 338.7h.01M315.1 331.5h.01M332.4 332.9h.01M324.3 344.8h.01M328.0 305.8h.01M329.3 337.6h.01M328.9 301.6h.01M331.5 310.3h.01M314.1 328.2h.01M326.2 327.8h.01M321.8 342.2h.01M319.2 342.4h.01M324.1 293.2h.01M326.9 300.3h.01M322.1 296.2h.01M329.1 335.2h.01M335.5 310.1h.01M316.7 300.3h.01M320.8 351.4h.01M319.5 337.4h.01M320.8 336.9h.01M316.4 328.8h.01M326.5 347.7h.01M333.6 303.6h.01M331.3 341.9h.01M327.1 348.8h.01M325.9 327.6h.01M335.9 334.0h.01M327.4 302.9h.01M321.0 321.2h.01M337.1 325.1h.01M315.1 310.9h.01M335.6 292.1h.01M325.0 347.6h.01M331.5 343.0h.01M324.0 313.3h.01M334.1 319.0h.01M314.0 326.2h.01M314.1 347.6h.01M320.7 322.2h.01M326.0 333.7h.01M321.4 338.9h.01M319.7 296.3h.01M314.9 324.5h.01M328.3 344.0h.01M320.8 340.0h.01M329.9 348.9h.01M323.2 297.4h.01M332.0 339.4h.01M329.0 308.2h.01M321.3 343.4h.01M319.1 339.2h.01M319.1 311.8h.01M319.1 325.1h.01M317.2 317.1h.01M318.7 349.3h.01M315.0 327.1h.01M323.0 293.5h.01M316.2 325.6h.01M331.7 287.0h.01M322.8 296.7h.01M315.4 318.4h.01M316.0 322.0h.01M314.2 293.1h.01M316.4 312.7h.01M318.4 303.7h.01M314.3 308.0h.01M329.8 292.1h.01M318.6 286.6h.01M328.1 304.9h.01M321.6 336.0h.01M320.1 350.7h.01M315.0 337.6h.01M323.5 291.4h.01M324.4 340.7h.01M322.7 342.6h.01M336.0 340.7h.01M319.2 336.2h.01M318.7 305.2h.01M320.1 320.9h.01M329.9 318.8h.01M329.8 290.7h.01M322.3 329.2h.01M326.7 306.7h.01M321.2 349.7h.01M331.2 329.8h.01M319.6 340.3h.01M327.6 291.5h.01M325.1 331.2h.01M320.8 336.7h.01M314.9 319.2h.01M322.6 305.5h.01M317.5 314.9h.01M319.7 319.8h.01M322.9 316.3h.01M335.3 309.6h.01M316.1 342.8h.01M322.6 307.8h.01M334.1 344.1h.01M314.4 292.4h.01M327.3 332.4h.01M313.9 313.3h.01M322.3 323.7h.01M327.4 293.6h.01M322.9 299.7h.01M330.0 348.9h.01M317.1 314.7h.01M315.0 348.1h.01M314.0 318.4h.01M319.8 319.9h.01M317.0 308.2h.01M331.9 301.1h.01M321.1 296.4h.01M319.4 297.8h.01M334.9 333.8h.01M331.4 312.4h.01M324.4 341.7h.01M316.0 299.4h.01M318.6 302.6h.01M321.1 307.6h.01M314.0 310.7h.01M324.0 305.4h.01M314.0 321.5h.01M335.2 337.5h.01M314.1 294.3h.01M324.7 305.0h.01M328.5 291.0h.01M320.5 335.5h.01M328.4 296.0h.01M321.0 320.9h.01M325.1 342.9h.01M317.1 311.2h.01M314.0 294.8h.01M329.7 307.3h.01M313.7 351.2h.01M316.3 297.7h.01M327.9 291.6h.01M320.7 301.8h.01M321.2 338.9h.01M320.6 328.5h.01M331.0 312.4h.01M321.3 332.7h.01M329.9 299.4h.01M324.7 342.6h.01M327.1 326.3h.01M333.0 347.8h.01M323.2 325.9h.01M326.7 327.6h.01M332.1 343.6h.01M315.9 323.1h.01M332.7 329.6h.01M330.3 306.5h.01M314.4 328.8h.01M313.8 327.3h.01M326.6 341.9h.01M314.6 313.3h.01M323.4 289.7h.01M329.2 297.1h.01M334.9 302.4h.01M313.8 310.7h.01M326.3 314.7h.01M321.9 330.6h.01M315.6 336.1h.01M317.6 335.5h.01M315.7 338.9h.01M318.8 343.4h.01M316.7 333.0h.01M322.3 319.3h.01M315.4 318.4h.01M321.4 296.4h.01M325.0 295.2h.01M334.4 345.5h.01M320.4 300.1h.01M332.0 343.5h.01M319.3 315.9h.01M317.1 296.1h.01M328.7 336.4h.01M314.1 325.1h.01M332.3 350.1h.01M325.8 321.1h.01M336.4 303.6h.01M323.3 318.3h.01M315.6 332.1h.01M319.9 344.3h.01M318.3 341.1h.01M327.9 347.2h.01M335.8 319.9h.01M322.6 319.7h.01M322.6 348.3h.01M313.9 312.5h.01M322.6 296.0h.01M330.6 314.1h.01M321.0 331.0h.01M330.5 341.0h.01M329.3 347.7h.01M314.7 329.8h.01M335.9 342.4h.01M324.0 340.7h.01M326.9 339.0h.01M314.7 327.6h.01M315.5 343.8h.01M331.1 291.0h.01M334.2 300.0h.01M321.6 351.0h.01M323.5 328.5h.01M320.5 297.5h.01M332.1 350.1h.01M323.4 293.9h.01M330.1 325.7h.01M333.0 313.6h.01M314.0 309.4h.01M320.7 304.6h.01M324.1 292.2h.01M331.6 312.6h.01M318.9 300.4h.01M319.2 328.4h.01M322.7 311.1h.01M317.1 336.9h.01M320.3 345.6h.01M313.8 336.8h.01M321.7 342.8h.01M335.3 295.7h.01M339.8 349.9h.01M317.5 324.4h.01M321.7 321.0h.01M329.4 328.6h.01M314.3 302.9h.01M322.0 315.4h.01M321.7 300.4h.01M322.8 348.7h.01M315.6 320.4h.01M325.0 295.9h.01M320.5 350.2h.01M324.1 326.1h.01M323.4 339.1h.01M321.1 338.3h.01M330.6 332.4h.01M314.2 317.4h.01M322.2 306.8h.01M325.5 292.0h.01M320.2 325.3h.01M324.1 293.6h.01M317.0 311.5h.01M313.7 344.7h.01M330.2 348.1h.01M320.3 345.6h.01M334.1 305.4h.01M316.7 349.2h.01M316.1 302.4h.01M325.1 346.7h.01M317.3 335.4h.01M326.7 348.9h.01M325.3 321.7h.01M315.5 308.8h.01M325.6 349.9h.01M331.8 308.3h.01M323.7 312.2h.01M328.9 324.5h.01M328.6 296.4h.01M318.4 318.8h.01M333.9 298.9h.01M329.4 315.8h.01M316.7 344.5h.01M315.0 345.5h.01M321.2 351.4h.01M319.2 335.9h.01M330.5 336.8h.01M322.4 317.5h.01M315.0 344.5h.01M334.2 299.3h.01M323.3 299.1h.01M318.3 294.7h.01M317.5 313.9h.01M323.9 294.1h.01M335.0 333.8h.01M325.5 303.5h.01M320.7 329.4h.01M324.4 324.5h.01M321.4 333.7h.01M323.2 331.6h.01M315.5 339.3h.01M314.7 318.9h.01M316.6 323.1h.01M326.7 307.8h.01M316.6 297.6h.01M329.7 348.4h.01M324.2 345.7h.01M330.7 292.8h.01M319.9 289.2h.01M315.6 312.8h.01M315.0 323.2h.01M328.0 316.0h.01M321.2 313.4h.01M327.7 330.3h.01M330.8 317.6h.01M322.1 313.2h.01M327.3 287.4h.01M314.1 325.6h.01M326.5 294.8h.01M332.1 343.8h.01M334.5 318.6h.01M324.9 311.8h.01M331.5 331.3h.01M315.0 341.8h.01M321.3 304.1h.01M326.2 312.7h.01M322.8 350.9h.01M331.5 345.7h.01M326.5 312.7h.01M313.7 312.5h.01M326.6 343.9h.01M314.4 294.7h.01M334.9 299.5h.01M318.3 326.0h.01M317.8 325.7h.01M313.9 326.8h.01M318.8 337.0h.01M328.5 344.2h.01M317.8 316.7h.01M327.2 343.7h.01M324.7 302.8h.01M315.5 344.3h.01M323.7 336.3h.01M313.9 330.2h.01M321.6 295.6h.01M318.7 333.1h.01M330.6 321.7h.01M314.0 304.3h.01M327.2 296.4h.01M325.6 308.9h.01M319.8 297.2h.01M324.8 300.8h.01M321.6 340.3h.01M322.4 349.3h.01M313.7 349.6h.01M335.2 326.0h.01M315.9 326.3h.01M315.9 291.8h.01M329.6 295.9h.01M325.1 336.9h.01M329.1 322.5h.01M316.1 323.3h.01M318.2 335.0h.01M329.3 342.0h.01M315.1 336.8h.01M322.7 289.8h.01M331.2 323.2h.01M316.3 342.3h.01M332.0 339.8h.01M317.4 348.3h.01M319.9 323.9h.01M326.9 322.9h.01M323.3 291.4h.01M329.7 320.7h.01M315.1 327.9h.01M329.8 345.7h.01M329.6 345.1h.01M329.6 297.6h.01M320.8 313.9h.01M320.0 337.6h.01M320.2 301.4h.01M329.3 338.2h.01M328.6 324.0h.01M333.2 339.8h.01M327.3 313.2h.01M333.5 313.8h.01M324.6 296.7h.01M316.4 322.2h.01M317.5 336.5h.01M315.0 323.0h.01M323.5 321.8h.01M325.9 335.7h.01M324.4 310.8h.01M329.9 350.8h.01M317.4 333.9h.01M325.1 312.3h.01M322.8 302.0h.01M331.8 332.4h.01M315.6 318.2h.01M323.9 302.2h.01M331.4 345.7h.01M323.1 312.7h.01M318.5 309.4h.01M317.2 351.3h.01M320.0 350.6h.01M323.8 298.4h.01M317.4 321.7h.01M314.3 316.8h.01M324.6 305.1h.01M325.7 321.5h.01M328.6 332.2h.01M328.8 311.2h.01M326.5 308.5h.01M334.0 342.7h.01M331.3 330.8h.01M319.3 310.8h.01M319.7 300.2h.01M317.0 314.7h.01M320.9 345.4h.01M316.7 340.8h.01M317.3 304.7h.01M316.7 325.9h.01M328.4 344.3h.01M319.3 351.1h.01M320.8 309.8h.01M318.2 309.9h.01M325.7 303.8h.01M318.8 333.4h.01M324.1 315.3h.01M314.2 290.8h.01M322.7 303.4h.01M329.4 330.1h.01M317.0 332.5h.01M325.3 289.9h.01M320.8 324.9h.01M316.2 329.4h.01M316.8 329.7h.01M331.1 331.6h.01M315.6 338.3h.01M325.2 308.1h.01M324.4 341.2h.01M329.8 315.2h.01M314.8 290.0h.01M322.9 330.6h.01M326.0 308.9h.01M330.4 326.8h.01M315.7 311.0h.01M318.2 322.6h.01M322.2 323.8h.01M324.6 335.9h.01M316.0 308.2h.01M318.2 330.7h.01M326.9 305.6h.01M324.4 340.2h.01M321.9 304.6h.01M326.9 292.4h.01M324.3 291.5h.01M323.6 324.8h.01M319.3 309.5h.01M335.6 325.8h.01M334.7 320.1h.01M313.8 345.3h.01M318.8 293.1h.01M330.9 324.4h.01M337.3 341.2h.01M340.8 348.4h.01M317.5 302.5h.01M323.3 345.4h.01M331.4 322.8h.01M313.8 343.7h.01M330.2 343.8h.01M331.2 332.6h.01M324.2 293.7h.01M332.1 342.4h.01M331.7 302.5h.01M314.5 302.1h.01M325.2 310.3h.01M318.2 300.9h.01M323.8 298.0h.01M314.0 329.1h.01M323.0 343.0h.01M326.8 309.9h.01M313.8 315.2h.01M318.8 328.5h.01M335.8 305.0h.01M323.9 350.6h.01M322.7 298.9h.01M319.3 325.5h.01M334.5 301.3h.01M326.7 338.4h.01M324.1 299.9h.01M321.4 344.2h.01M325.6 316.1h.01M318.1 308.8h.01M321.1 321.5h.01M313.7 296.9h.01M328.9 306.6h.01M324.7 317.0h.01M320.0 349.4h.01M325.8 327.1h.01M322.8 336.6h.01M319.7 342.6h.01M322.8 293.0h.01M316.8 307.9h.01M319.4 342.2h.01M314.0 336.5h.01M322.5 322.8h.01M328.2 315.0h.01M317.4 319.3h.01M335.8 292.0h.01M316.5 297.5h.01M321.3 312.8h.01M319.4 298.1h.01M322.5 305.8h.01M324.8 339.7h.01M325.5 337.6h.01M334.5 334.2h.01M319.1 325.4h.01M327.1 343.6h.01M319.3 309.6h.01M320.1 327.1h.01M314.2 316.3h.01M332.0 347.4h.01M324.1 310.3h.01M326.8 305.6h.01M314.1 336.6h.01M323.3 339.4h.01M318.2 331.8h.01M326.0 336.7h.01M329.6 299.5h.01M318.1 331.1h.01M322.6 320.6h.01M327.7 344.2h.01M316.3 315.0h.01M318.9 308.1h.01M318.9 318.6h.01M320.6 351.2h.01M328.0 333.9h.01M322.3 331.8h.01M332.3 315.3h.01M324.4 312.6h.01M320.7 349.2h.01M320.2 317.8h.01M327.3 299.2h.01M330.1 338.1h.01M326.0 302.4h.01M325.1 315.4h.01M320.4 327.7h.01M329.5 342.0h.01M321.6 288.6h.01M321.8 329.2h.01M331.5 299.3h.01M324.0 328.6h.01M325.7 326.0h.01M315.9 323.3h.01M314.3 317.5h.01M322.9 323.5h.01M329.0 347.8h.01M332.9 313.6h.01M331.7 324.2h.01M326.7 297.5h.01M334.0 311.0h.01M314.2 291.6h.01M320.5 344.5h.01M320.7 308.8h.01M329.1 345.7h.01M323.6 300.0h.01M328.3 332.7h.01M313.7 330.3h.01M326.0 332.4h.01M334.8 338.3h.01M316.4 296.7h.01M317.1 334.6h.01M330.3 290.9h.01M330.5 306.3h.01M330.9 344.9h.01M319.9 327.3h.01M325.2 346.7h.01M315.4 342.8h.01M317.9 316.3h.01M322.0 307.8h.01M319.5 304.3h.01M317.2 292.7h.01M321.6 335.2h.01M331.3 316.8h.01M313.8 345.0h.01M331.1 332.4h.01M329.8 317.2h.01M333.9 351.0h.01M337.7 320.2h.01M315.1 311.2h.01M315.5 317.6h.01M319.1 311.0h.01M319.8 309.5h.01M324.9 292.3h.01M336.0 327.3h.01M325.8 326.8h.01M318.2 332.2h.01M326.8 304.4h.01M326.9 293.0h.01M318.4 333.5h.01M318.3 312.5h.01M318.5 322.2h.01M319.9 305.8h.01M331.9 313.1h.01M313.6 306.8h.01M322.4 317.5h.01M321.0 329.5h.01M333.5 305.1h.01M314.5 307.6h.01M326.4 319.9h.01M320.5 331.5h.01M326.8 312.2h.01M327.8 293.6h.01M335.4 326.6h.01M329.3 317.4h.01M321.5 350.6h.01M319.5 327.3h.01M319.3 291.8h.01M321.7 290.6h.01M328.8 313.6h.01M314.0 292.1h.01M317.5 324.6h.01M336.3 303.4h.01M330.6 348.0h.01M329.7 301.5h.01M319.7 347.3h.01M318.0 343.3h.01M325.7 320.9h.01M318.5 315.7h.01M328.3 315.0h.01M320.0 338.1h.01M329.5 308.7h.01M325.3 292.8h.01M322.4 314.3h.01M327.2 302.1h.01M327.4 347.3h.01M314.0 317.0h.01M316.3 303.9h.01M322.3 309.0h.01M322.7 304.4h.01M318.9 294.4h.01M317.6 294.7h.01M320.9 333.9h.01M319.9 294.3h.01M316.7 344.7h.01M331.6 350.7h.01M328.8 346.9h.01M314.0 301.6h.01M318.6 338.8h.01M318.3 324.9h.01M314.0 309.9h.01M317.3 328.0h.01M319.6 330.1h.01M319.7 304.2h.01M322.5 326.7h.01M318.5 336.1h.01M332.2 339.3h.01M329.6 344.3h.01M316.9 291.1h.01M327.5 341.8h.01M337.0 309.3h.01M317.1 338.4h.01M323.5 300.2h.01M320.8 312.6h.01M318.3 317.0h.01M320.8 332.9h.01M320.5 327.3h.01M323.4 340.4h.01M317.2 288.8h.01M320.7 309.9h.01M330.2 336.8h.01M321.5 306.7h.01M321.3 339.5h.01M328.3 309.7h.01M322.2 329.7h.01M328.5 293.5h.01M318.7 349.3h.01M328.0 297.4h.01M319.5 315.1h.01M323.3 316.3h.01M322.7 310.8h.01M328.1 318.7h.01M327.5 339.8h.01M335.7 349.4h.01M316.4 337.8h.01M322.1 335.0h.01M318.0 299.9h.01M316.9 298.6h.01M319.9 288.9h.01M316.8 295.2h.01M320.5 342.2h.01M321.2 292.0h.01M327.1 304.3h.01M318.4 309.7h.01M333.2 299.0h.01M314.5 310.5h.01M318.3 305.9h.01M333.9 312.4h.01M318.7 299.5h.01M313.9 287.0h.01M327.1 346.6h.01M316.7 332.8h.01M319.3 332.2h.01M329.7 308.0h.01M321.7 349.2h.01M318.2 342.3h.01M323.5 315.9h.01M321.7 305.8h.01M330.8 341.2h.01M313.7 289.1h.01M315.1 329.2h.01M326.8 344.2h.01M316.3 342.8h.01M329.0 349.0h.01M328.9 320.4h.01M326.8 290.4h.01M332.5 313.7h.01M319.3 306.3h.01M329.8 324.5h.01M315.8 329.7h.01M313.7 308.8h.01M327.4 313.2h.01M314.3 293.0h.01M334.7 339.7h.01M323.2 323.1h.01M322.2 303.6h.01M323.8 320.3h.01M322.6 317.5h.01M330.7 341.0h.01M327.1 305.7h.01M323.0 320.4h.01M319.7 317.1h.01M320.5 293.7h.01M319.1 301.3h.01M317.4 303.6h.01M314.7 316.6h.01M336.7 327.7h.01M316.8 335.7h.01M324.5 343.2h.01M325.8 349.6h.01M327.3 319.1h.01M332.7 310.1h.01M319.3 336.9h.01M321.8 335.1h.01M331.1 289.6h.01M322.7 346.8h.01M330.4 294.4h.01M317.0 321.4h.01M322.4 298.7h.01M324.0 327.0h.01M330.8 304.0h.01M326.0 327.2h.01M318.0 342.3h.01M322.1 326.9h.01M318.1 339.8h.01M328.9 314.8h.01M315.7 332.0h.01M329.5 319.4h.01M327.2 346.3h.01M314.6 298.5h.01M323.8 342.7h.01M318.6 291.0h.01M333.0 340.5h.01M318.7 293.6h.01M324.5 333.6h.01M331.5 294.9h.01M320.4 337.4h.01M331.1 303.3h.01M319.6 294.8h.01M318.0 345.4h.01M314.8 327.2h.01M327.1 344.6h.01M319.9 339.5h.01M337.9 294.7h.01M328.9 292.7h.01M329.0 333.6h.01M322.5 340.8h.01M323.2 297.5h.01M327.2 348.3h.01M321.6 287.9h.01M323.7 338.3h.01M328.1 330.0h.01M330.1 313.4h.01M321.9 318.9h.01M315.4 309.1h.01M324.4 317.9h.01M322.7 324.5h.01M337.0 298.6h.01M327.1 287.9h.01M321.5 320.6h.01M326.5 300.5h.01M327.0 296.1h.01M324.7 306.3h.01M327.8 295.8h.01M324.2 344.3h.01M339.8 312.5h.01M319.6 328.7h.01M317.3 290.3h.01M327.8 332.4h.01M332.7 335.4h.01M320.4 335.4h.01M323.9 313.8h.01M329.4 321.8h.01M326.0 347.7h.01M333.2 300.2h.01M332.5 317.0h.01M326.5 332.7h.01M313.8 307.8h.01M328.8 292.6h.01M321.4 336.2h.01M330.0 301.9h.01M318.3 306.2h.01M331.2 306.3h.01M321.0 332.7h.01M334.2 311.9h.01M335.8 341.4h.01M317.2 343.9h.01M321.5 334.4h.01M322.3 306.0h.01M318.9 309.0h.01M320.6 312.8h.01M331.6 302.0h.01M331.3 319.1h.01M318.3 340.6h.01M329.3 320.7h.01M332.6 302.4h.01M320.6 337.2h.01M330.6 315.4h.01M332.0 295.0h.01M314.8 336.6h.01M332.5 322.2h.01M335.2 338.7h.01M315.8 326.0h.01M329.6 341.3h.01M319.6 290.3h.01M329.0 328.8h.01M326.4 325.9h.01M323.9 339.2h.01M329.7 301.1h.01M319.7 328.5h.01M318.0 302.0h.01M329.6 341.8h.01M322.4 300.9h.01M316.1 350.4h.01M332.4 335.7h.01M325.0 307.1h.01M326.6 309.1h.01M327.8 313.3h.01M329.0 305.1h.01M326.7 301.0h.01M326.0 349.0h.01M314.3 299.6h.01M321.7 335.1h.01M325.0 335.1h.01M326.0 336.2h.01M326.2 311.0h.01M329.0 304.9h.01M318.7 329.2h.01M313.8 347.6h.01M323.6 318.6h.01M328.7 303.6h.01M319.3 323.2h.01M313.7 301.0h.01M320.2 335.7h.01M324.2 308.2h.01M314.8 320.8h.01M316.0 331.1h.01M322.9 303.9h.01M320.6 298.1h.01M319.3 350.8h.01M314.2 342.8h.01M326.5 347.5h.01M330.7 325.5h.01M325.7 323.2h.01M323.8 300.2h.01M318.8 300.6h.01M322.3 301.4h.01M330.7 323.6h.01M321.5 316.3h.01M322.8 296.8h.01M327.1 295.5h.01M326.7 320.9h.01M332.2 298.9h.01M319.4 307.7h.01M316.4 339.1h.01M324.9 332.9h.01M332.6 324.4h.01M324.7 308.2h.01M313.9 318.5h.01M321.1 292.1h.01M313.7 317.4h.01M322.7 295.1h.01M329.8 325.9h.01M317.5 314.9h.01M327.1 292.5h.01M323.2 300.5h.01M320.5 319.3h.01M315.0 345.3h.01M319.7 291.7h.01M330.5 327.7h.01M323.4 311.3h.01M321.8 314.5h.01M330.7 346.9h.01M332.0 332.4h.01M316.7 308.6h.01M325.2 316.6h.01M327.3 348.1h.01M325.9 320.9h.01M315.6 321.6h.01M333.4 324.3h.01M315.7 299.3h.01M331.2 349.5h.01M314.7 306.9h.01M319.1 303.1h.01M314.6 297.6h.01M330.0 346.2h.01M332.0 344.2h.01M314.0 328.0h.01M324.1 323.2h.01M321.2 324.7h.01M320.2 308.9h.01M321.0 346.1h.01M329.3 324.2h.01M314.1 342.5h.01M328.4 331.8h.01M318.0 327.5h.01M329.3 334.9h.01M320.6 337.1h.01M328.4 341.5h.01M328.2 335.2h.01M329.4 312.2h.01M318.4 306.7h.01M315.4 302.2h.01M331.7 343.7h.01M320.3 322.0h.01M323.4 291.2h.01M318.8 326.2h.01M325.8 344.5h.01M328.9 347.7h.01M323.5 349.6h.01M320.8 344.3h.01M316.5 303.8h.01M314.0 322.4h.01M317.1 335.7h.01M313.8 330.0h.01M322.2 311.1h.01M335.8 290.4h.01M313.7 345.0h.01M323.6 339.3h.01M318.9 346.3h.01M316.6 313.7h.01M334.7 304.3h.01M314.1 341.3h.01M315.7 333.2h.01M332.2 331.6h.01M321.8 291.1h.01M322.2 298.2h.01M330.0 335.0h.01M316.0 345.0h.01M327.3 311.8h.01M321.9 343.8h.01M321.0 298.7h.01M323.1 328.0h.01M322.9 315.1h.01M333.9 320.4h.01M325.6 302.4h.01M314.7 315.1h.01M330.4 323.3h.01M313.6 325.1h.01M318.6 300.8h.01M314.3 327.5h.01M329.2 307.3h.01M329.1 350.7h.01M329.4 305.5h.01M327.9 300.4h.01M321.3 302.4h.01M316.4 320.8h.01M315.4 319.5h.01M321.7 332.5h.01M335.6 294.0h.01M317.4 316.6h.01M329.5 324.6h.01M331.7 350.9h.01M334.4 343.3h.01M328.7 324.5h.01M328.0 306.8h.01M322.4 297.2h.01M327.0 328.7h.01M322.0 328.4h.01M327.3 320.7h.01M318.4 331.4h.01M327.9 319.7h.01M316.0 341.2h.01M328.8 308.5h.01M329.3 312.5h.01M315.7 346.5h.01M326.5 327.3h.01M330.7 347.3h.01M327.0 295.4h.01M324.0 344.5h.01M317.3 296.2h.01M314.5 333.3h.01M323.1 321.6h.01M321.6 298.6h.01M328.9 308.4h.01M325.7 320.0h.01M319.3 325.5h.01M320.8 320.2h.01M329.1 289.9h.01M319.6 312.5h.01M317.9 335.8h.01M329.4 348.9h.01M313.7 301.5h.01M328.0 346.5h.01M326.6 320.9h.01M323.9 328.2h.01M325.6 304.1h.01M318.9 301.1h.01M324.7 325.4h.01M321.0 347.3h.01M336.4 314.4h.01M319.1 350.0h.01M326.3 332.4h.01M326.8 289.4h.01M316.1 348.1h.01M332.1 297.1h.01M320.5 306.8h.01M332.0 321.6h.01M332.1 349.3h.01M328.6 301.7h.01M323.1 311.2h.01M324.3 292.0h.01M332.8 294.1h.01M325.8 315.7h.01M333.1 326.3h.01M327.5 322.1h.01M328.8 293.7h.01M324.3 317.8h.01M321.3 315.3h.01M313.7 345.7h.01M313.6 307.8h.01M325.4 320.0h.01M321.5 338.9h.01M327.0 332.7h.01M314.7 329.5h.01M330.7 314.1h.01M317.7 314.6h.01M320.8 343.8h.01M328.4 314.8h.01M317.1 349.1h.01M332.2 318.1h.01M316.8 347.8h.01M328.0 296.8h.01M326.4 338.3h.01M333.1 316.3h.01M318.9 305.5h.01M335.2 326.3h.01M317.2 294.8h.01M324.2 299.1h.01M326.2 344.5h.01M321.9 320.7h.01M329.2 307.8h.01M323.1 296.1h.01M320.5 298.7h.01M314.0 306.6h.01M329.3 320.0h.01M329.6 288.8h.01M326.4 302.9h.01M321.5 316.3h.01M332.2 341.5h.01M318.1 341.6h.01M328.5 343.8h.01M327.6 292.3h.01M334.1 341.0h.01M313.9 331.4h.01M328.8 303.7h.01M320.1 315.2h.01M314.5 349.7h.01M319.0 339.9h.01M330.6 348.5h.01M315.3 322.2h.01M334.6 303.8h.01M317.7 324.8h.01M320.8 295.0h.01M321.6 294.0h.01M319.8 304.7h.01M313.8 300.2h.01M316.4 305.8h.01M314.3 335.3h.01M327.3 331.5h.01M322.4 295.3h.01M326.0 345.4h.01M319.4 339.9h.01M318.6 350.3h.01M316.2 297.6h.01M317.9 338.1h.01M331.4 325.4h.01M322.6 334.6h.01M315.6 342.6h.01M314.3 300.2h.01M333.0 341.6h.01M331.8 343.0h.01M323.2 332.3h.01M327.7 314.5h.01M318.8 321.8h.01M330.9 300.1h.01M316.3 334.1h.01M330.5 325.7h.01M319.5 325.9h.01M327.9 336.3h.01M318.8 293.8h.01M319.0 295.5h.01M330.4 298.0h.01M334.3 299.0h.01M322.9 338.4h.01M315.3 302.0h.01M318.5 314.8h.01M323.8 332.3h.01M332.7 304.5h.01M315.5 347.7h.01M317.1 348.0h.01M318.6 312.5h.01M331.4 324.0h.01M316.2 337.1h.01M333.4 333.3h.01M335.4 319.8h.01M328.9 293.3h.01M316.5 330.0h.01M322.3 331.3h.01M327.9 332.1h.01M332.2 314.1h.01M324.2 343.8h.01M326.1 310.7h.01M330.8 305.7h.01M323.0 290.5h.01M328.6 333.1h.01M333.4 311.7h.01M335.0 340.7h.01M325.7 309.5h.01M322.2 310.3h.01M321.3 340.9h.01M315.6 312.5h.01M332.0 325.6h.01M328.1 345.8h.01M331.5 293.2h.01M330.3 288.9h.01M317.1 292.1h.01M319.6 344.5h.01M318.0 334.2h.01M336.6 321.7h.01M328.4 349.2h.01M325.3 340.2h.01M316.6 324.2h.01M330.9 299.6h.01M333.5 314.1h.01M331.0 312.6h.01M315.4 311.0h.01M324.6 332.5h.01M322.2 341.4h.01M332.6 340.3h.01M325.4 302.9h.01M321.9 300.9h.01M319.0 329.7h.01M319.8 336.2h.01M329.9 346.8h.01M328.2 315.3h.01M320.3 292.8h.01M318.7 315.6h.01M319.4 313.0h.01M324.3 297.5h.01M320.6 328.3h.01M316.2 324.6h.01M324.1 328.9h.01M331.0 342.8h.01M313.8 328.3h.01M334.1 343.5h.01M313.9 342.6h.01M319.7 321.6h.01M332.7 329.5h.01M338.5 317.0h.01M315.5 313.2h.01M322.2 333.5h.01M326.0 325.8h.01M321.2 313.3h.01M329.7 330.1h.01M321.4 323.6h.01M320.9 299.5h.01M323.0 336.0h.01M327.5 317.0h.01M321.2 347.0h.01M325.6 345.9h.01M328.1 299.1h.01M319.7 308.6h.01M314.2 302.0h.01M326.2 342.4h.01M319.3 328.8h.01M329.9 312.7h.01M314.9 333.7h.01M320.1 326.6h.01M321.5 332.4h.01M322.8 347.4h.01M329.5 313.0h.01M325.2 301.6h.01M317.6 341.9h.01M327.1 300.5h.01M319.0 328.3h.01M317.9 347.3h.01M314.8 342.3h.01M328.7 333.3h.01M323.7 290.9h.01M328.1 350.5h.01M326.0 315.8h.01M323.5 305.8h.01M324.4 293.0h.01M318.0 298.3h.01M331.6 290.4h.01M327.5 322.3h.01M328.5 313.0h.01M322.4 309.8h.01M314.6 340.3h.01M332.9 296.3h.01M330.1 318.1h.01M334.2 341.4h.01M319.7 340.6h.01M329.5 333.1h.01M332.7 318.7h.01M323.4 298.5h.01M324.6 315.5h.01M330.2 333.0h.01M314.6 341.2h.01M321.2 330.8h.01M323.5 345.0h.01M325.9 326.9h.01M324.6 339.7h.01M321.4 343.9h.01M330.5 299.7h.01M329.6 299.1h.01M320.4 306.6h.01M333.4 321.8h.01M330.4 316.9h.01M314.1 343.2h.01M319.7 292.2h.01M315.6 320.8h.01M321.5 318.2h.01M334.9 295.0h.01M319.2 314.3h.01M334.8 347.3h.01M323.8 291.3h.01M336.5 302.1h.01M335.5 326.0h.01M314.4 320.4h.01M327.1 341.2h.01M333.3 312.0h.01M318.6 300.5h.01M326.2 315.9h.01M316.1 342.6h.01M317.2 318.2h.01M318.1 313.1h.01M321.3 338.3h.01M332.0 325.1h.01M322.0 298.6h.01M325.3 312.2h.01M319.5 349.0h.01M330.4 293.4h.01M332.0 337.0h.01M329.7 305.7h.01M332.3 337.8h.01M315.6 302.0h.01M328.6 330.5h.01M315.0 340.7h.01M332.0 295.0h.01M326.5 351.5h.01M315.4 292.7h.01M331.8 292.0h.01M321.0 337.3h.01M324.7 321.9h.01M313.8 295.7h.01M333.6 330.8h.01M325.0 322.5h.01M333.0 351.0h.01M335.8 349.3h.01M320.2 325.2h.01M324.6 340.1h.01M323.8 334.9h.01M334.3 306.9h.01M330.9 340.8h.01M319.3 308.8h.01M328.2 318.3h.01M316.3 294.2h.01M321.9 323.8h.01M318.1 341.8h.01M326.6 337.6h.01M326.0 298.3h.01M317.7 322.3h.01M326.7 307.8h.01M334.7 299.6h.01M321.0 315.1h.01M328.8 332.9h.01M329.8 349.4h.01M316.5 295.3h.01M334.5 308.9h.01M318.5 336.7h.01M329.7 315.7h.01M319.0 340.4h.01M322.2 289.8h.01M323.6 346.2h.01M319.2 341.2h.01M318.7 340.7h.01M316.8 339.4h.01M327.3 331.8h.01M323.3 330.8h.01M320.3 288.9h.01M328.6 314.3h.01M320.5 326.0h.01M336.8 334.4h.01M315.8 322.2h.01M315.8 332.6h.01M320.4 342.5h.01M318.6 313.1h.01M320.6 331.5h.01M323.3 293.7h.01M318.8 340.9h.01M315.0 340.5h.01M328.5 331.9h.01M315.4 330.5h.01M313.7 325.4h.01M317.4 310.0h.01M317.9 338.6h.01M318.3 298.0h.01M330.2 325.7h.01M334.4 294.6h.01M331.0 335.1h.01M317.5 323.4h.01M332.5 328.8h.01M332.6 303.4h.01M325.8 313.5h.01M328.5 328.2h.01M322.9 317.6h.01M326.4 336.4h.01M326.3 293.9h.01M325.5 313.5h.01M325.9 298.6h.01M314.6 338.0h.01M326.4 314.2h.01M313.9 336.3h.01M323.5 333.5h.01M321.7 292.4h.01M332.9 329.1h.01M328.7 344.2h.01M320.9 293.8h.01M318.6 319.3h.01M321.7 331.4h.01M318.7 335.5h.01M321.0 288.2h.01M316.2 336.0h.01M316.8 318.4h.01M333.1 302.0h.01M332.2 330.7h.01M333.3 332.7h.01M319.5 330.2h.01M328.9 305.7h.01M319.4 302.9h.01M319.7 294.5h.01M324.8 299.4h.01M315.5 315.3h.01M330.6 295.2h.01M318.2 341.1h.01M330.6 301.1h.01M324.5 294.5h.01M316.0 301.6h.01M320.7 317.9h.01M318.8 331.4h.01M315.3 298.8h.01M315.2 302.3h.01M324.8 291.3h.01M316.0 317.6h.01M331.5 342.1h.01M328.0 340.3h.01M333.5 349.7h.01M320.9 302.5h.01M323.8 332.5h.01M328.9 314.9h.01M322.6 314.4h.01M321.4 336.5h.01M317.8 321.1h.01M321.4 326.6h.01M319.3 306.3h.01M332.7 348.3h.01M323.0 326.2h.01M326.7 326.6h.01M331.5 335.6h.01M327.5 346.2h.01M319.8 304.7h.01M332.0 347.2h.01M319.9 344.4h.01M322.4 312.3h.01M329.9 350.1h.01M327.9 318.0h.01M329.9 338.1h.01M326.5 347.0h.01M321.1 322.2h.01M315.6 316.7h.01M321.9 319.0h.01M316.0 297.8h.01M327.7 292.7h.01M315.2 348.3h.01M336.2 301.2h.01M318.7 326.6h.01M330.3 306.9h.01M315.0 342.3h.01M332.3 314.5h.01M329.3 333.4h.01M320.3 340.5h.01M314.7 292.9h.01M315.2 308.7h.01M329.0 338.3h.01M322.1 314.2h.01M324.7 299.3h.01M324.9 310.3h.01M328.5 306.2h.01M318.0 333.9h.01M313.7 334.3h.01M333.6 337.1h.01M327.8 333.0h.01M327.9 337.1h.01M330.3 346.6h.01M324.8 306.4h.01M321.2 306.3h.01M330.3 345.6h.01M333.3 335.2h.01M330.4 338.5h.01M322.5 332.8h.01M313.9 308.0h.01M323.6 324.7h.01M314.8 303.1h.01M330.9 297.2h.01M314.5 310.9h.01M335.4 341.4h.01M322.4 301.6h.01M329.6 292.7h.01M328.0 305.4h.01M331.0 340.5h.01M325.0 344.6h.01M328.9 305.9h.01M314.0 350.3h.01M319.0 320.6h.01M321.1 334.2h.01M326.3 333.1h.01M338.0 316.2h.01M330.5 343.1h.01M322.6 348.1h.01M330.0 309.4h.01M327.1 346.9h.01M327.1 333.7h.01M331.4 316.0h.01M316.4 300.5h.01M323.9 312.5h.01M329.8 318.2h.01M328.6 340.9h.01M321.5 335.8h.01M326.1 318.9h.01M334.2 344.5h.01M326.4 326.1h.01M314.6 340.4h.01M336.1 296.3h.01M315.7 290.9h.01M315.5 341.6h.01M330.1 332.6h.01M328.3 304.8h.01M316.7 299.1h.01M333.8 295.7h.01M328.6 311.7h.01M314.9 346.1h.01M321.8 297.8h.01M335.0 306.1h.01M331.7 337.9h.01M315.2 300.5h.01M329.2 304.1h.01M332.2 335.2h.01M317.4 344.1h.01M313.9 346.8h.01M321.3 296.3h.01M331.5 311.7h.01M324.2 330.2h.01M320.2 312.1h.01M331.0 337.8h.01M327.4 303.9h.01M323.2 331.4h.01M317.2 298.0h.01M316.7 300.3h.01M322.4 339.5h.01M319.5 328.5h.01M318.8 325.8h.01M333.5 311.8h.01M329.0 333.5h.01M327.2 350.6h.01M331.1 313.5h.01M327.8 294.4h.01M329.0 303.9h.01M330.0 334.8h.01M324.4 307.3h.01M331.5 336.3h.01M331.4 307.6h.01M330.4 326.5h.01M336.6 314.8h.01M324.3 324.7h.01M322.8 317.5h.01M316.4 327.0h.01M328.3 337.2h.01M331.9 333.1h.01M321.4 315.0h.01M319.7 290.3h.01M315.1 339.7h.01M328.8 299.5h.01M331.4 314.1h.01M330.0 338.6h.01M324.5 350.8h.01M325.5 333.9h.01M324.2 297.0h.01M334.3 349.8h.01M333.4 294.3h.01M319.5 294.1h.01M320.7 332.4h.01M331.5 347.4h.01M318.5 332.5h.01M333.8 342.3h.01M324.3 329.7h.01M328.4 295.6h.01M314.9 338.7h.01M319.3 320.2h.01M318.7 335.1h.01M319.2 321.1h.01M328.2 297.2h.01M335.9 347.2h.01M316.4 303.7h.01M337.0 300.6h.01M323.4 296.5h.01M329.5 311.2h.01M318.9 314.5h.01M331.7 303.6h.01M314.6 300.8h.01M325.1 321.4h.01M320.8 292.4h.01M317.0 323.5h.01M316.9 295.1h.01M324.9 297.5h.01M328.8 298.8h.01M322.9 342.7h.01M330.0 341.8h.01M331.4 338.7h.01M326.4 324.8h.01M315.1 316.7h.01M324.8 323.2h.01M322.1 327.9h.01M316.9 351.4h.01M318.0 312.2h.01M320.6 346.3h.01M313.6 350.9h.01M326.3 328.4h.01M320.3 330.6h.01M320.8 317.7h.01M335.0 339.8h.01M323.1 296.8h.01M327.1 323.3h.01M328.9 336.1h.01M313.6 298.6h.01M322.3 340.0h.01M317.6 325.0h.01M327.7 299.4h.01M327.8 293.8h.01M320.7 312.5h.01M317.3 342.4h.01M329.0 335.0h.01M317.2 305.7h.01M320.4 344.1h.01M335.7 297.3h.01M325.9 316.2h.01M324.5 333.3h.01M324.4 312.6h.01M319.9 318.9h.01M323.6 345.1h.01M320.3 323.1h.01M317.2 295.4h.01M337.0 312.6h.01M339.6 321.6h.01M315.8 324.9h.01M323.0 348.1h.01M317.2 335.6h.01M334.1 338.9h.01M333.0 321.9h.01M319.4 319.8h.01M324.5 312.7h.01M320.4 298.6h.01M330.3 296.1h.01M320.3 296.7h.01M316.3 295.0h.01M326.3 317.5h.01M325.7 297.6h.01M329.0 351.1h.01M316.1 315.1h.01M332.9 291.1h.01M335.9 330.2h.01M330.1 336.2h.01M314.8 350.8h.01M314.0 302.5h.01M318.9 312.0h.01M321.7 335.0h.01M327.8 328.3h.01M314.2 331.1h.01M320.0 348.2h.01M330.9 292.2h.01M315.8 315.3h.01M327.5 347.5h.01M325.1 289.3h.01M324.7 312.5h.01M331.3 339.0h.01M316.5 295.5h.01M323.7 326.2h.01M321.2 348.9h.01M313.8 323.2h.01M322.4 287.6h.01M336.6 297.7h.01M335.8 316.5h.01M331.0 292.4h.01M323.9 329.3h.01M331.9 305.3h.01M319.2 312.0h.01M329.4 337.8h.01M314.6 335.5h.01M337.4 341.6h.01M330.5 302.7h.01M326.0 315.0h.01M330.3 330.1h.01M337.5 324.6h.01M314.8 342.2h.01M328.2 320.8h.01M317.9 346.6h.01M330.0 303.6h.01M329.7 338.7h.01M313.6 350.5h.01M317.4 314.1h.01M332.8 345.7h.01M323.7 324.7h.01M335.9 330.4h.01M319.3 305.5h.01M319.6 344.6h.01M334.7 294.7h.01M315.1 351.2h.01M318.2 327.4h.01M335.8 327.2h.01M335.4 300.6h.01M326.2 332.2h.01M319.2 343.5h.01M322.3 339.0h.01M322.1 300.4h.01M321.3 339.3h.01M316.7 333.4h.01M315.2 308.5h.01M327.2 334.7h.01M322.5 320.3h.01M321.6 330.4h.01M325.5 340.5h.01M328.1 344.1h.01M325.3 340.3h.01M326.9 293.4h.01M330.6 346.0h.01M328.5 349.3h.01M326.7 320.2h.01M334.7 347.1h.01M335.0 304.6h.01M321.3 292.9h.01M323.0 318.9h.01M327.0 297.1h.01M319.1 293.2h.01M321.6 319.2h.01M324.6 351.4h.01M329.9 322.5h.01M319.9 319.0h.01M324.6 313.2h.01M332.1 294.5h.01M316.4 296.2h.01M314.3 341.1h.01M317.0 332.0h.01M318.9 326.4h.01M314.6 343.0h.01M318.2 331.6h.01M316.9 311.9h.01M316.2 346.7h.01M313.7 335.3h.01M315.8 295.8h.01M319.9 339.9h.01M330.1 313.1h.01M325.9 342.0h.01M322.7 339.4h.01M324.2 343.8h.01M322.9 301.1h.01M313.9 336.0h.01M314.9 307.6h.01M330.4 342.5h.01M336.0 300.3h.01M324.9 347.8h.01M327.8 349.3h.01M332.4 322.6h.01M333.5 326.0h.01M315.5 327.4h.01M332.8 343.5h.01M329.2 293.7h.01M320.5 343.1h.01M322.2 310.3h.01M315.1 312.8h.01M324.4 343.9h.01M331.8 299.6h.01M331.9 300.5h.01M314.7 332.0h.01M316.9 339.2h.01M315.8 302.6h.01M316.3 333.0h.01M315.1 309.6h.01M328.1 293.5h.01M320.1 306.2h.01M324.4 296.9h.01M319.1 316.5h.01M327.5 321.9h.01M328.8 315.5h.01M314.2 346.8h.01M328.6 315.8h.01M316.7 298.9h.01M325.7 347.3h.01M316.5 327.3h.01M324.9 347.6h.01M323.1 317.4h.01M324.8 328.8h.01M320.0 312.6h.01M313.9 312.6h.01M323.0 347.0h.01M325.3 311.3h.01M318.2 338.8h.01M320.4 328.7h.01M321.9 337.9h.01M323.8 303.7h.01M327.6 350.4h.01M324.7 321.9h.01M324.2 297.3h.01M331.5 330.3h.01M319.5 290.5h.01M320.9 330.5h.01M327.1 332.6h.01M325.1 303.1h.01M333.6 296.5h.01M316.1 299.1h.01M320.4 333.2h.01M322.9 338.1h.01M317.8 346.5h.01M327.9 308.0h.01M319.9 291.3h.01M325.6 324.9h.01M333.7 340.5h.01M338.4 335.4h.01M314.2 319.2h.01M319.2 305.6h.01M316.3 332.2h.01M321.9 340.0h.01M328.1 300.3h.01M328.5 335.4h.01M316.9 334.0h.01M328.9 311.6h.01M329.5 315.5h.01M314.1 293.3h.01M327.5 301.5h.01M321.3 338.6h.01M319.9 305.4h.01M318.3 344.7h.01M334.6 309.0h.01M324.3 337.9h.01M324.5 313.7h.01M319.8 336.7h.01M324.7 317.2h.01M326.5 304.0h.01M331.2 301.8h.01M333.4 310.0h.01M315.2 293.8h.01M319.3 344.3h.01M325.6 348.2h.01M318.3 337.9h.01M325.1 288.9h.01M321.6 346.5h.01M319.2 338.6h.01M329.4 338.4h.01M324.9 326.5h.01M320.6 304.9h.01M313.7 306.7h.01M329.3 316.7h.01M314.0 304.2h.01M328.4 291.3h.01M318.3 350.2h.01M316.2 312.5h.01M328.3 326.9h.01M328.7 295.3h.01M321.0 344.3h.01M321.3 334.0h.01M317.9 292.2h.01M320.5 302.6h.01M336.7 289.3h.01M328.7 287.9h.01M318.9 295.6h.01M339.1 298.4h.01M314.9 338.2h.01M324.2 338.9h.01M317.7 329.5h.01M322.7 310.2h.01M320.3 339.7h.01M322.3 328.3h.01M330.0 295.3h.01M321.0 303.1h.01M318.1 334.4h.01M314.5 324.9h.01M329.3 315.7h.01M319.5 325.9h.01M320.4 303.5h.01M315.6 322.0h.01M334.5 300.2h.01M314.5 340.6h.01M325.8 319.9h.01M319.7 331.1h.01M328.2 323.4h.01M325.7 329.1h.01M324.8 334.5h.01M337.6 350.1h.01M322.3 337.8h.01M322.2 305.3h.01M332.9 292.8h.01M335.4 347.3h.01M327.9 335.6h.01M320.7 324.0h.01M327.2 320.5h.01M316.9 294.4h.01M324.7 297.7h.01M324.7 309.2h.01M330.3 348.2h.01M332.9 332.2h.01M324.1 324.7h.01M332.5 314.2h.01M326.4 299.5h.01M332.0 292.0h.01M319.6 295.3h.01M325.2 298.3h.01M329.3 321.3h.01M314.5 310.0h.01M332.1 346.3h.01M329.6 324.7h.01M316.2 300.9h.01M324.2 309.3h.01M321.9 293.1h.01M320.1 329.7h.01M317.7 314.6h.01M336.7 349.8h.01M332.7 310.0h.01M322.6 343.0h.01M336.1 313.7h.01M317.0 330.6h.01M330.7 313.3h.01M331.9 339.6h.01M326.6 300.5h.01M335.5 300.2h.01M330.1 292.9h.01M325.6 314.5h.01M322.8 335.5h.01M314.8 321.7h.01M314.7 339.8h.01M330.4 324.4h.01M315.0 324.3h.01M325.4 318.8h.01M316.8 293.1h.01M326.0 326.5h.01M334.4 297.9h.01M325.6 296.4h.01M313.7 299.0h.01M326.8 300.6h.01M321.8 325.7h.01M330.8 309.2h.01M316.7 306.2h.01M318.5 315.3h.01M329.9 350.1h.01M334.9 304.4h.01M334.8 305.3h.01M324.4 305.2h.01M330.1 309.4h.01M333.7 306.7h.01M326.3 339.9h.01M324.3 314.2h.01M316.2 342.8h.01M318.6 295.3h.01M323.0 341.1h.01M332.7 295.2h.01M332.4 349.1h.01M324.9 314.0h.01M320.3 319.7h.01M334.1 348.7h.01M337.0 349.2h.01M334.3 304.7h.01M315.2 319.5h.01M323.8 335.7h.01M334.1 317.8h.01M325.3 348.9h.01M317.5 301.4h.01M336.5 349.7h.01M323.0 326.8h.01M314.0 327.9h.01M318.2 332.1h.01M328.5 309.9h.01M316.4 318.5h.01M331.0 302.8h.01M317.3 341.4h.01M320.5 309.5h.01M318.5 300.8h.01M315.6 346.6h.01M330.2 316.9h.01M323.1 346.7h.01M330.9 317.4h.01M332.2 330.1h.01M315.7 339.2h.01M314.9 323.3h.01M320.5 346.6h.01M318.7 338.7h.01M331.6 345.8h.01M315.0 324.8h.01M325.9 295.8h.01M313.6 297.6h.01M324.9 301.2h.01M316.6 324.7h.01M330.4 351.0h.01M328.5 322.3h.01M328.2 316.2h.01M318.1 297.4h.01M316.1 314.0h.01M328.7 301.1h.01M335.7 318.1h.01M328.9 320.3h.01M322.9 347.0h.01M318.0 313.4h.01M335.2 343.9h.01M315.3 291.5h.01M317.6 311.6h.01M326.7 334.3h.01M317.0 316.8h.01M329.7 297.6h.01M326.6 312.6h.01M318.7 323.6h.01M326.2 303.6h.01M314.0 295.5h.01M313.8 336.7h.01M325.4 327.0h.01M318.9 314.3h.01M320.3 307.5h.01M328.3 330.3h.01M324.1 344.1h.01M315.4 309.0h.01M333.0 346.9h.01M329.0 320.4h.01M323.2 321.7h.01M326.6 305.6h.01M320.1 295.1h.01M327.5 302.4h.01M327.7 306.3h.01M319.2 316.5h.01M333.6 323.4h.01M324.5 340.2h.01M327.0 313.4h.01M318.3 338.4h.01M328.0 303.5h.01M328.8 320.8h.01M326.7 295.7h.01M314.5 344.0h.01M317.8 316.2h.01M331.9 331.0h.01M320.4 324.1h.01M327.3 319.3h.01M317.6 303.3h.01M327.0 341.5h.01M328.8 319.3h.01M332.6 295.4h.01M328.2 294.1h.01M321.3 319.8h.01M319.3 324.2h.01M314.7 306.4h.01M323.2 303.2h.01M324.7 342.6h.01M333.0 334.1h.01M324.3 299.0h.01M331.0 335.8h.01M327.5 293.2h.01M320.7 341.6h.01M325.9 298.1h.01M317.5 342.9h.01M331.1 296.2h.01M325.7 331.6h.01M315.7 299.7h.01M323.2 302.1h.01M324.3 302.4h.01M322.6 334.2h.01M328.5 323.1h.01M326.6 350.1h.01M337.1 306.8h.01M315.3 319.9h.01M332.1 313.9h.01M329.2 314.8h.01M320.5 326.4h.01M326.3 336.0h.01M315.1 332.8h.01M316.6 298.8h.01M316.3 308.9h.01M327.9 332.8h.01M331.1 338.2h.01M313.7 341.8h.01M318.9 311.3h.01M331.2 318.5h.01M318.9 294.9h.01M320.2 319.9h.01M331.0 310.5h.01M325.9 323.8h.01M327.0 325.5h.01M330.1 301.7h.01M315.6 293.2h.01M319.5 334.1h.01M330.4 334.1h.01M335.8 318.9h.01M324.2 290.6h.01M319.2 334.4h.01M316.4 303.2h.01M318.8 317.2h.01M319.2 301.1h.01M323.5 336.4h.01M320.0 335.4h.01M330.2 346.2h.01M332.9 334.9h.01M324.2 309.8h.01M327.0 346.6h.01M319.5 309.0h.01M323.1 337.5h.01M322.3 302.0h.01M324.3 310.1h.01M331.9 326.4h.01M327.8 310.2h.01M313.9 343.6h.01M330.2 324.2h.01M317.4 347.5h.01M330.3 321.6h.01M335.2 324.3h.01M325.3 318.4h.01M317.1 303.8h.01M326.4 312.7h.01M323.9 345.5h.01M323.0 332.8h.01M324.0 338.0h.01M329.9 314.6h.01M319.7 306.2h.01M322.9 339.7h.01M318.7 315.4h.01M330.4 335.4h.01M326.3 292.9h.01M313.8 311.8h.01M325.4 329.9h.01M330.0 346.7h.01M320.8 302.3h.01M314.5 348.7h.01M326.1 299.4h.01M314.5 289.2h.01M320.1 346.1h.01M332.7 333.5h.01M316.2 335.7h.01M333.8 315.7h.01M321.8 293.2h.01M316.3 318.8h.01M325.7 331.3h.01M323.6 309.5h.01M327.8 346.6h.01M322.6 337.1h.01M321.8 291.3h.01M317.8 308.9h.01M320.5 345.8h.01M333.1 337.5h.01M329.6 336.9h.01M313.8 304.6h.01M316.9 342.4h.01M323.4 330.9h.01M320.6 316.0h.01M313.7 334.5h.01M314.3 306.8h.01M329.4 347.3h.01M325.5 297.2h.01M327.8 306.2h.01M324.0 335.9h.01M328.4 318.8h.01M314.4 343.3h.01M318.1 338.6h.01M319.7 330.2h.01M321.2 315.0h.01M318.2 319.5h.01M319.7 309.8h.01M319.6 309.8h.01M319.5 291.6h.01M327.0 308.0h.01M334.0 329.5h.01M324.2 322.5h.01M319.8 309.9h.01M324.5 310.8h.01M332.6 301.2h.01M326.5 294.1h.01M328.5 300.1h.01M326.1 323.6h.01M322.1 334.1h.01M314.5 313.0h.01M321.5 323.6h.01M331.7 299.0h.01M318.0 299.0h.01M315.4 297.3h.01M315.6 325.2h.01M317.8 323.9h.01M314.2 299.9h.01M330.5 347.8h.01M325.6 300.3h.01M328.2 319.1h.01M321.1 329.8h.01M322.2 292.4h.01M332.9 305.9h.01M319.7 325.0h.01M320.5 329.8h.01M323.7 329.9h.01M330.0 330.3h.01M334.3 296.1h.01M328.5 292.9h.01M326.3 342.2h.01M319.3 300.7h.01M326.0 312.9h.01M331.4 341.1h.01M320.9 293.0h.01M331.1 342.7h.01M321.8 331.7h.01M321.6 314.2h.01M326.9 303.3h.01M314.5 321.4h.01M317.0 340.3h.01M313.9 303.2h.01M326.6 306.0h.01M327.1 319.4h.01M327.6 339.8h.01M318.9 316.4h.01M320.8 317.6h.01M314.2 350.1h.01M332.6 326.9h.01M320.7 338.8h.01M321.7 333.1h.01M323.1 323.3h.01M331.2 315.0h.01M323.5 330.7h.01M331.5 342.5h.01M322.9 299.5h.01M316.7 307.0h.01M325.0 302.4h.01M335.9 338.6h.01M319.2 309.5h.01M328.6 318.7h.01M328.8 323.6h.01M332.6 343.0h.01M340.7 291.4h.01M327.0 303.5h.01M331.2 346.2h.01M316.2 319.0h.01M319.9 314.0h.01M322.8 347.6h.01M318.4 296.4h.01M325.4 291.9h.01M329.1 344.1h.01M313.8 339.3h.01M320.9 323.7h.01M328.2 303.9h.01M320.6 338.3h.01M326.1 296.9h.01M318.1 316.8h.01M324.6 300.6h.01M325.2 314.1h.01M324.0 288.5h.01M335.2 317.5h.01M330.6 313.7h.01M324.1 350.1h.01M313.7 313.7h.01M318.9 325.2h.01M333.4 298.4h.01M322.6 307.1h.01M334.1 306.9h.01M322.9 296.9h.01M327.3 331.8h.01M330.2 343.8h.01M327.1 349.4h.01M332.3 331.8h.01M326.0 299.4h.01M326.9 348.1h.01M335.0 326.4h.01M318.7 322.3h.01M331.4 348.3h.01M314.6 294.6h.01M320.7 332.2h.01M327.2 336.0h.01M337.2 334.4h.01M327.9 303.9h.01M325.7 347.7h.01M332.7 304.8h.01M332.3 311.3h.01M332.2 340.5h.01M315.3 304.1h.01M331.0 316.2h.01M323.8 342.9h.01M325.9 326.1h.01M324.3 303.1h.01M326.4 312.9h.01M324.2 327.2h.01M321.6 334.7h.01M324.5 307.1h.01M320.9 299.8h.01M325.5 335.5h.01M325.3 307.7h.01M324.2 308.8h.01M319.4 307.7h.01M313.8 304.7h.01M326.1 302.5h.01M314.0 312.6h.01M331.6 299.7h.01M319.7 331.1h.01M330.3 294.0h.01M322.0 312.7h.01M333.0 351.0h.01M323.7 316.3h.01M317.1 344.3h.01M323.4 307.4h.01M326.3 336.6h.01M322.5 294.0h.01M326.1 349.4h.01M329.2 349.0h.01M321.7 331.2h.01M321.8 305.6h.01M320.7 335.8h.01M317.5 340.5h.01M313.8 329.7h.01M331.0 337.7h.01M313.6 303.0h.01M334.0 340.2h.01M330.3 303.1h.01M316.9 323.8h.01M333.2 312.2h.01M316.7 302.3h.01M320.9 306.9h.01M321.0 345.0h.01M321.5 292.5h.01M331.0 320.2h.01M316.4 317.4h.01M331.7 297.0h.01M317.9 290.0h.01M327.8 317.4h.01M318.6 314.8h.01M325.6 307.7h.01M334.7 307.4h.01M330.5 303.3h.01M313.9 330.5h.01M317.2 349.8h.01M322.2 308.8h.01M326.4 314.5h.01M313.9 326.7h.01M331.6 310.8h.01M330.4 298.7h.01M333.0 331.8h.01M317.9 310.1h.01M322.1 291.5h.01M334.0 311.2h.01M322.2 340.2h.01M319.5 289.9h.01M317.4 326.8h.01M326.5 341.6h.01M326.6 323.5h.01M316.6 336.9h.01M325.1 341.3h.01M324.3 298.0h.01M327.3 294.9h.01M318.7 322.8h.01M323.0 318.5h.01M319.5 322.2h.01M331.1 309.7h.01M320.0 351.4h.01M317.3 329.9h.01M321.9 329.9h.01M325.5 295.6h.01M327.1 309.3h.01M314.9 307.4h.01M324.7 299.9h.01M333.7 334.9h.01M333.2 324.5h.01M314.0 334.9h.01M321.5 312.7h.01M318.3 301.1h.01M316.3 303.7h.01M325.3 326.0h.01M319.6 320.0h.01M326.0 313.8h.01M319.6 348.9h.01M328.6 314.9h.01M331.7 303.3h.01M323.0 330.0h.01M317.4 328.2h.01M321.7 337.1h.01M329.7 325.1h.01M322.6 287.2h.01M324.2 320.0h.01M314.7 301.2h.01M333.0 340.7h.01M314.0 345.0h.01M328.5 306.4h.01M316.0 319.3h.01M326.3 343.0h.01M323.2 344.2h.01M329.7 294.3h.01M314.9 304.3h.01M328.8 325.0h.01M332.9 301.0h.01M329.8 293.3h.01M331.9 303.9h.01M321.0 325.5h.01M330.6 333.4h.01M326.5 333.3h.01M331.7 329.1h.01M320.6 332.4h.01M317.0 323.0h.01M335.7 338.9h.01M322.0 332.6h.01M317.2 330.2h.01M316.8 345.6h.01M315.9 294.5h.01M315.1 293.3h.01M328.9 323.5h.01M319.5 316.9h.01M321.7 345.1h.01M330.9 306.2h.01M316.1 330.4h.01M319.0 335.5h.01M330.7 304.1h.01M318.0 292.9h.01M323.0 314.3h.01M329.6 302.4h.01M334.2 300.9h.01M321.4 318.0h.01M319.8 302.6h.01M326.5 320.8h.01M335.9 329.6h.01M325.5 320.5h.01M333.4 325.0h.01M324.4 302.4h.01M319.6 325.3h.01M332.1 344.3h.01M315.0 342.7h.01M322.8 295.2h.01M324.9 310.4h.01M315.4 336.3h.01M326.3 327.4h.01M315.0 339.8h.01M317.5 337.6h.01M329.5 327.0h.01M314.8 326.8h.01M321.7 335.8h.01M316.5 337.6h.01M321.0 334.1h.01M321.0 329.3h.01M314.6 325.6h.01M314.4 333.8h.01M317.3 330.4h.01M319.3 332.2h.01M320.4 346.6h.01M328.3 339.6h.01M313.7 350.7h.01M319.8 331.9h.01M314.8 336.5h.01M323.5 334.0h.01M325.4 336.2h.01M324.5 334.0h.01M314.3 334.7h.01M330.4 320.3h.01M319.0 333.8h.01M314.1 341.5h.01M324.0 320.5h.01M324.2 333.2h.01M316.2 340.5h.01M315.2 346.1h.01M317.6 335.3h.01M321.1 339.6h.01M325.3 349.9h.01M314.7 346.3h.01M331.5 332.4h.01M318.3 331.2h.01M332.3 344.1h.01M322.3 337.8h.01M315.5 331.7h.01M316.2 334.2h.01M317.0 338.5h.01M321.5 334.4h.01M317.2 334.0h.01M328.2 334.1h.01M316.0 324.1h.01M320.2 349.8h.01M319.8 345.7h.01M323.7 334.9h.01M317.2 337.0h.01M321.5 340.6h.01M316.6 342.5h.01M319.7 338.8h.01M335.8 328.1h.01M318.8 335.4h.01M314.1 330.7h.01M330.3 349.5h.01M330.2 340.3h.01M320.5 335.8h.01M321.3 347.1h.01M320.8 330.2h.01M316.2 334.5h.01M320.8 336.4h.01M314.5 342.7h.01M317.3 335.1h.01M324.2 335.5h.01M317.7 344.0h.01M314.3 338.3h.01M323.9 343.5h.01M314.1 337.1h.01M316.7 325.7h.01M315.9 327.1h.01M318.8 322.8h.01M338.9 345.0h.01M319.2 339.3h.01M323.0 332.2h.01M319.5 328.1h.01M328.7 338.9h.01M324.4 334.9h.01M320.8 338.5h.01M314.0 329.3h.01M317.2 327.2h.01M323.4 348.5h.01M314.6 335.8h.01M325.5 346.6h.01M331.6 321.5h.01M316.0 341.6h.01M316.3 336.5h.01M332.3 334.9h.01M314.0 338.1h.01M314.2 318.4h.01M317.3 351.0h.01M319.4 333.7h.01M318.0 343.1h.01M314.0 344.8h.01M329.4 338.3h.01M327.0 339.6h.01M317.1 341.6h.01M315.6 348.5h.01M315.1 339.9h.01M322.1 346.0h.01M317.5 333.7h.01M314.4 332.7h.01M317.0 336.7h.01M318.4 339.2h.01M313.7 340.3h.01M318.0 342.7h.01M313.6 336.5h.01M317.1 338.6h.01M318.7 338.8h.01M314.2 339.9h.01M319.3 333.4h.01M322.8 327.4h.01M314.9 337.1h.01M315.4 333.6h.01M329.7 337.0h.01M321.2 334.4h.01M321.2 331.3h.01M317.6 334.7h.01M316.2 349.9h.01M327.5 343.0h.01M324.7 335.8h.01M318.1 344.4h.01M326.3 330.7h.01M321.9 332.4h.01M320.5 340.1h.01M321.9 324.7h.01M320.8 336.5h.01M329.2 338.4h.01M321.4 349.4h.01M315.4 330.5h.01M322.0 339.4h.01M319.8 330.9h.01M317.6 314.7h.01M328.3 328.6h.01M319.4 345.1h.01M314.0 340.1h.01M329.2 337.3h.01M319.1 340.3h.01M316.1 326.2h.01M316.8 334.4h.01M325.3 335.6h.01M329.6 348.7h.01M326.2 328.9h.01M323.9 339.4h.01M317.6 343.8h.01M327.1 329.6h.01M322.6 336.7h.01M315.5 336.8h.01M324.2 318.6h.01M315.3 349.6h.01M321.2 339.3h.01M315.6 336.4h.01M320.9 337.2h.01M320.5 340.4h.01M318.8 344.3h.01M320.2 332.6h.01M321.7 332.6h.01M329.6 327.8h.01M314.4 334.7h.01M328.5 330.5h.01M318.2 343.8h.01M315.4 341.1h.01M315.3 335.1h.01M323.3 331.7h.01M316.7 313.2h.01M317.0 331.4h.01M326.5 338.5h.01M317.2 341.3h.01M315.3 311.6h.01M314.0 317.1h.01M329.2 337.3h.01M317.7 327.9h.01M321.4 334.3h.01M330.1 332.3h.01M314.7 340.7h.01M332.9 321.3h.01M319.1 331.5h.01M317.4 343.5h.01M317.2 337.7h.01M314.0 329.5h.01M317.3 339.6h.01M329.9 338.3h.01M322.0 329.0h.01M323.2 341.5h.01M315.3 341.4h.01M336.7 335.0h.01M317.3 343.5h.01M319.8 326.8h.01M315.8 342.1h.01M316.2 334.5h.01M316.3 328.6h.01M314.7 331.3h.01M323.9 345.3h.01M316.7 331.7h.01M317.7 333.3h.01M319.7 330.9h.01M315.1 329.8h.01M315.4 343.6h.01M317.3 346.6h.01M334.5 340.1h.01M316.8 342.0h.01M328.2 333.3h.01M322.7 332.1h.01M330.7 326.8h.01M315.6 347.4h.01M322.3 333.4h.01M320.5 330.4h.01M320.9 331.0h.01M315.6 337.6h.01M323.5 331.7h.01M322.1 336.2h.01M315.1 337.4h.01M315.0 346.6h.01M327.3 326.2h.01M316.5 338.4h.01M322.6 330.6h.01M323.5 332.7h.01M323.1 348.9h.01M317.3 341.0h.01M328.6 333.0h.01M324.7 339.9h.01M326.8 335.9h.01M313.7 344.8h.01M323.7 332.2h.01M327.3 339.9h.01M315.3 334.4h.01M324.9 336.1h.01M326.0 334.9h.01M319.4 331.2h.01M315.7 336.9h.01M315.1 331.3h.01M314.5 333.0h.01M318.7 339.0h.01M320.8 330.1h.01M322.8 342.9h.01M320.0 317.9h.01M321.0 330.9h.01M331.5 327.5h.01M318.3 342.6h.01M318.0 343.5h.01M324.0 326.6h.01M315.3 330.7h.01M326.2 335.4h.01M321.2 333.2h.01M323.2 341.8h.01M315.8 343.8h.01M316.7 340.7h.01M318.2 344.7h.01M313.7 343.5h.01M315.1 335.5h.01M326.7 332.7h.01M318.3 330.3h.01M322.1 342.5h.01M326.0 343.1h.01M314.2 344.1h.01M317.6 333.5h.01M325.2 333.0h.01M314.7 338.2h.01M323.4 346.0h.01M314.2 338.9h.01M319.4 337.9h.01M326.9 329.6h.01M317.4 339.6h.01M318.0 340.3h.01M316.0 328.6h.01M323.3 349.9h.01M315.6 328.9h.01M315.6 343.4h.01M321.7 334.5h.01M315.9 337.4h.01M315.9 329.9h.01M344.6 331.7h.01M320.8 341.6h.01M314.9 333.4h.01M316.3 343.1h.01M315.4 337.4h.01M324.6 337.9h.01M314.4 349.7h.01M314.3 334.8h.01M326.1 339.5h.01M314.3 325.1h.01M324.4 320.9h.01M316.3 337.1h.01M324.8 342.9h.01M320.9 337.7h.01M316.1 331.9h.01M317.9 331.0h.01M318.1 342.5h.01M316.3 333.8h.01M319.0 323.4h.01M317.8 341.5h.01M335.1 338.0h.01M320.6 339.1h.01M320.0 344.3h.01M317.9 346.5h.01M323.9 340.5h.01M325.0 334.7h.01M324.8 319.4h.01M318.5 338.4h.01M321.7 334.9h.01M314.6 346.5h.01M314.8 346.2h.01M319.9 346.9h.01M321.3 335.5h.01M326.4 335.8h.01M321.9 329.4h.01M315.5 333.7h.01M321.5 337.8h.01M315.0 344.4h.01M321.9 330.3h.01M316.9 342.4h.01M321.9 325.5h.01M315.5 334.1h.01M316.6 336.3h.01M318.9 344.0h.01M319.1 345.8h.01M322.0 335.8h.01M321.4 329.4h.01M326.2 335.7h.01M321.1 335.8h.01M318.3 338.0h.01M321.8 329.1h.01M320.6 348.1h.01M321.2 330.4h.01M316.5 341.5h.01M323.3 337.8h.01M324.4 327.5h.01M320.0 336.6h.01M322.0 336.3h.01M316.7 334.6h.01M318.4 342.5h.01M316.4 332.4h.01M315.7 345.0h.01M320.4 328.9h.01M320.9 346.0h.01M320.7 338.1h.01M320.4 336.7h.01M320.7 328.4h.01M318.7 324.7h.01M314.4 321.4h.01M327.7 348.7h.01M319.9 331.7h.01M325.9 350.9h.01M317.2 321.4h.01M314.3 341.6h.01M315.5 341.6h.01M316.3 329.3h.01M316.0 332.5h.01M327.5 327.8h.01M315.7 336.4h.01M320.1 343.9h.01M320.3 339.4h.01M323.6 344.9h.01M318.8 321.9h.01M314.5 335.7h.01M331.9 325.6h.01M325.9 333.0h.01M322.4 330.9h.01M315.9 336.8h.01M329.1 338.5h.01M329.1 317.5h.01M324.0 346.0h.01M316.0 349.7h.01M338.5 327.8h.01M319.9 347.7h.01M316.8 346.0h.01M315.1 344.1h.01M315.2 349.0h.01M315.5 325.0h.01M320.0 328.0h.01M317.7 328.3h.01M319.2 326.3h.01M317.9 345.0h.01M316.1 341.0h.01M319.8 336.3h.01M314.6 337.1h.01M319.5 340.9h.01M320.4 349.8h.01M323.5 330.4h.01M328.9 331.6h.01M318.2 331.4h.01M319.5 335.4h.01M318.2 336.1h.01M322.9 325.8h.01M321.3 338.4h.01M324.4 325.9h.01M317.9 333.5h.01M317.4 334.0h.01M319.5 334.1h.01M318.4 347.8h.01M319.9 349.1h.01M319.3 344.6h.01M330.4 348.7h.01M316.9 333.7h.01M319.5 347.3h.01M328.1 335.6h.01M316.4 337.8h.01M333.8 338.2h.01M316.0 325.3h.01M326.5 331.1h.01M337.9 334.7h.01M317.4 338.9h.01M321.1 335.0h.01M316.6 329.2h.01M321.0 326.8h.01M318.9 336.1h.01M319.9 326.6h.01M324.5 335.2h.01M316.8 337.4h.01M323.4 329.4h.01M323.7 321.8h.01M317.0 338.3h.01M316.3 342.5h.01M330.5 332.7h.01M323.0 333.0h.01M332.9 343.2h.01M328.6 327.2h.01M315.2 341.8h.01M314.4 331.3h.01M321.9 334.9h.01M325.1 334.5h.01M320.3 321.6h.01M316.6 323.5h.01M314.5 336.9h.01M319.3 329.5h.01M321.6 334.1h.01M314.7 321.1h.01M314.3 334.9h.01M331.5 339.9h.01M331.3 337.0h.01M323.2 339.2h.01M317.5 330.0h.01M314.7 322.9h.01M324.2 325.5h.01M324.9 332.7h.01M330.8 341.9h.01M320.1 336.6h.01M318.8 348.8h.01M315.1 336.8h.01M321.9 337.5h.01M315.0 337.6h.01M321.2 322.1h.01M319.5 340.6h.01M314.8 327.1h.01M317.5 333.0h.01M317.0 326.1h.01M322.1 336.9h.01M323.2 338.3h.01M316.0 337.0h.01M323.0 336.0h.01M321.8 331.5h.01M318.7 320.0h.01M314.3 327.8h.01M320.4 347.9h.01M322.7 340.4h.01M324.2 329.9h.01M327.0 328.8h.01M319.8 334.0h.01M319.7 339.9h.01M319.5 327.8h.01M317.4 337.9h.01M320.1 331.0h.01M318.6 348.0h.01M315.4 338.4h.01M321.0 346.1h.01M319.3 337.3h.01M316.6 339.3h.01M314.5 338.2h.01M319.7 327.8h.01M322.5 332.6h.01M325.0 339.1h.01M325.8 332.0h.01M319.0 335.9h.01M315.2 329.9h.01M318.1 343.9h.01M317.2 331.8h.01M313.8 339.3h.01M321.4 335.3h.01M318.4 330.2h.01M325.1 336.7h.01M328.7 344.7h.01M329.9 333.3h.01M321.9 324.6h.01M326.8 326.1h.01M323.3 331.9h.01M326.2 334.5h.01M320.0 336.4h.01M321.7 340.1h.01M315.6 326.1h.01M321.9 337.8h.01M325.3 326.3h.01M323.8 330.5h.01M313.7 333.1h.01M317.5 350.3h.01M319.5 347.4h.01M331.8 343.1h.01M317.0 347.7h.01M315.0 334.0h.01M320.6 335.0h.01M331.8 329.1h.01M314.1 340.7h.01M318.5 326.0h.01M320.9 332.0h.01M321.4 339.7h.01M316.4 332.0h.01M315.6 338.8h.01M321.5 350.6h.01M323.0 328.1h.01M318.4 347.2h.01M317.4 330.5h.01M327.4 328.5h.01M329.0 337.8h.01M313.8 344.2h.01M332.8 330.3h.01M316.6 330.2h.01M316.9 332.5h.01M329.2 330.2h.01M335.5 337.5h.01M314.4 330.3h.01M319.3 334.0h.01M318.3 338.8h.01M316.5 332.7h.01M320.5 345.2h.01M320.2 330.6h.01M314.9 329.8h.01M317.6 348.0h.01M313.6 336.6h.01M323.7 342.6h.01M319.9 338.7h.01M315.6 331.9h.01M318.2 341.4h.01M315.4 338.4h.01M316.2 346.3h.01M314.1 321.3h.01M314.2 342.5h.01M320.1 337.3h.01M322.8 330.5h.01M315.8 332.6h.01M322.8 325.4h.01M314.5 331.4h.01M317.6 342.3h.01M321.0 323.9h.01M314.9 333.0h.01M313.8 317.1h.01M319.4 331.4h.01M315.3 339.1h.01M322.7 335.6h.01M314.5 336.4h.01M321.0 340.6h.01M316.3 328.8h.01M314.9 343.3h.01M318.7 337.7h.01M317.3 332.9h.01M317.6 347.9h.01M327.2 332.8h.01M314.9 344.2h.01M320.3 336.8h.01M318.7 336.0h.01M316.2 344.0h.01M329.7 339.5h.01M314.4 335.9h.01M323.0 335.1h.01M314.4 337.7h.01M331.2 336.7h.01M320.6 333.4h.01M314.1 327.7h.01M316.8 315.3h.01M327.7 335.1h.01M316.7 334.1h.01M336.0 345.7h.01M320.3 339.6h.01M314.8 345.1h.01M337.3 349.9h.01M321.2 335.1h.01M317.9 329.3h.01M315.4 342.5h.01M317.3 331.2h.01M321.8 334.0h.01M314.2 347.5h.01M320.8 340.4h.01M328.9 344.8h.01M335.4 325.2h.01M315.7 336.3h.01M318.8 345.0h.01M326.6 325.8h.01M318.7 337.6h.01M321.9 339.2h.01M318.5 317.6h.01M315.8 348.8h.01M319.6 330.3h.01M323.1 334.9h.01M315.0 349.5h.01M315.2 321.7h.01M315.6 339.7h.01M319.3 332.4h.01M324.2 336.4h.01M317.1 329.5h.01M315.5 346.9h.01M323.5 327.1h.01M313.7 338.9h.01M319.0 340.4h.01M325.9 335.3h.01M314.1 333.8h.01M315.8 333.9h.01M331.0 344.2h.01M333.5 339.6h.01M327.2 335.4h.01M321.1 327.3h.01M325.4 337.3h.01M315.2 340.3h.01M321.0 335.8h.01M325.8 347.5h.01M314.3 320.7h.01M324.4 326.9h.01M321.4 322.1h.01M317.6 343.0h.01M324.8 340.6h.01M314.9 334.3h.01M318.9 335.6h.01M316.1 337.4h.01M314.6 332.6h.01M323.8 345.3h.01M319.3 341.0h.01M318.4 335.1h.01M324.8 322.9h.01M320.3 347.0h.01M316.9 332.2h.01M315.1 327.8h.01M319.8 346.4h.01M322.8 340.0h.01M321.5 319.9h.01M315.5 322.7h.01M317.5 332.9h.01M315.2 326.0h.01M316.9 335.7h.01M329.7 342.5h.01M319.2 335.1h.01M322.5 324.2h.01M314.7 344.7h.01M318.5 334.6h.01M319.3 339.7h.01M330.5 341.7h.01M321.1 329.6h.01M317.5 349.6h.01M317.0 336.7h.01M316.9 337.9h.01M314.8 332.6h.01M317.3 341.8h.01M321.1 344.2h.01M313.8 331.6h.01M316.6 340.8h.01M325.6 332.6h.01M328.1 326.2h.01M320.4 333.4h.01M320.1 341.0h.01M326.1 340.5h.01M319.6 344.7h.01M320.5 330.7h.01M318.5 333.7h.01M326.5 336.7h.01M320.5 341.1h.01M313.8 335.1h.01M316.9 328.5h.01M330.6 323.7h.01M321.9 344.7h.01M322.4 330.8h.01M316.0 348.0h.01M319.2 335.6h.01M319.4 339.7h.01M319.4 346.2h.01M315.9 332.2h.01M318.9 329.9h.01M329.0 322.2h.01M329.7 338.6h.01M316.6 339.7h.01M314.5 343.0h.01M322.1 341.0h.01M326.0 337.0h.01M317.8 345.3h.01M329.2 327.9h.01M314.6 339.2h.01M322.9 340.2h.01M317.7 335.1h.01M313.8 350.0h.01M317.2 339.6h.01M322.2 343.3h.01M321.1 334.7h.01M318.0 345.0h.01M317.3 336.3h.01M331.3 335.2h.01M326.2 327.8h.01M335.7 334.9h.01M319.0 334.2h.01M321.9 337.8h.01M327.6 332.7h.01M318.0 340.7h.01M325.7 335.5h.01M316.1 323.4h.01M313.8 332.1h.01M318.3 328.9h.01M322.0 325.9h.01M323.2 334.1h.01M326.3 343.5h.01M321.6 327.2h.01M322.0 320.0h.01M328.7 334.8h.01M322.7 331.4h.01M329.0 338.3h.01M321.4 332.8h.01M322.0 347.7h.01M327.3 334.9h.01M324.0 345.7h.01M314.1 327.4h.01M319.1 337.8h.01M313.9 326.0h.01M318.7 337.7h.01M316.2 331.2h.01M323.4 338.1h.01M324.7 327.2h.01M316.0 338.0h.01M323.7 337.1h.01M319.3 331.6h.01M317.5 329.7h.01M315.1 326.6h.01M315.2 333.0h.01M316.7 339.4h.01M314.4 335.1h.01M332.9 337.4h.01M327.1 346.4h.01M324.2 333.6h.01M315.8 338.5h.01M324.1 342.8h.01M314.7 340.3h.01M315.6 339.3h.01M323.3 336.8h.01M319.1 335.6h.01M317.1 333.1h.01M325.0 340.9h.01M316.0 349.3h.01M315.0 347.6h.01M323.5 336.5h.01M322.4 342.9h.01M324.6 340.2h.01M325.5 336.8h.01M332.1 341.4h.01M319.5 341.2h.01M327.2 337.3h.01M325.2 350.0h.01M325.8 333.2h.01M330.9 347.4h.01M322.9 338.4h.01M314.2 334.7h.01M322.8 323.4h.01M318.9 335.7h.01M318.3 323.6h.01M317.5 323.8h.01M314.1 342.9h.01M323.2 341.2h.01M320.6 321.6h.01M316.9 335.7h.01M315.9 324.0h.01M319.9 325.6h.01M314.4 345.3h.01M315.8 337.8h.01M313.9 323.3h.01M319.1 333.5h.01M330.0 335.4h.01M318.4 335.2h.01M318.2 331.4h.01M321.9 334.5h.01M330.4 343.2h.01M323.6 328.9h.01M322.2 334.5h.01M315.5 339.9h.01M316.1 336.0h.01M323.4 343.1h.01M321.5 348.7h.01M322.7 337.9h.01M324.1 312.6h.01M314.9 333.4h.01M327.4 341.6h.01M321.1 327.2h.01M316.2 321.1h.01M319.4 347.0h.01M328.7 332.0h.01M320.0 328.0h.01M319.7 332.3h.01M315.7 334.0h.01M320.0 328.0h.01M322.3 325.1h.01M324.6 332.0h.01M316.2 343.8h.01M315.0 339.4h.01M314.1 346.9h.01M322.1 331.3h.01M314.1 333.3h.01M327.7 333.5h.01M315.5 337.3h.01M320.2 339.8h.01M314.2 350.2h.01M321.6 341.8h.01M316.3 337.5h.01M324.2 347.0h.01M328.6 329.9h.01M318.9 325.6h.01M315.0 341.5h.01M321.3 337.5h.01M322.2 337.1h.01M316.6 343.6h.01M314.7 333.4h.01M318.4 335.2h.01M317.2 339.2h.01M327.2 341.3h.01M322.1 344.0h.01M313.7 337.1h.01M315.3 338.2h.01M324.7 316.7h.01M316.5 345.9h.01M315.4 323.5h.01M327.3 335.8h.01M330.3 333.5h.01M333.4 323.4h.01M316.2 331.6h.01M321.0 334.8h.01M317.2 334.8h.01M317.2 342.0h.01M313.9 342.3h.01M326.4 335.1h.01M326.2 345.0h.01M325.6 328.9h.01M318.3 341.5h.01M330.7 331.1h.01M313.7 341.7h.01M320.2 330.7h.01M316.8 332.6h.01M329.8 347.9h.01M316.3 327.1h.01M327.5 326.7h.01M323.4 340.7h.01M316.1 333.9h.01M325.6 332.6h.01M318.4 334.9h.01M314.7 327.8h.01M317.5 333.9h.01M313.9 337.4h.01M323.3 328.5h.01M314.2 335.8h.01M314.8 339.9h.01M313.8 328.8h.01M326.6 345.0h.01M328.5 326.9h.01M327.5 334.9h.01M318.9 338.7h.01M317.1 338.3h.01M318.7 331.3h.01M329.3 344.8h.01M324.3 337.8h.01M319.8 324.6h.01M319.5 339.2h.01M317.6 328.9h.01M313.8 336.7h.01M316.1 324.0h.01M326.8 341.9h.01M318.7 316.7h.01M319.2 346.3h.01M320.3 333.2h.01M326.5 334.1h.01M327.1 332.6h.01M321.1 335.6h.01M340.6 335.9h.01M318.6 330.1h.01M323.2 332.2h.01M316.2 340.9h.01M322.4 331.1h.01M339.1 329.6h.01M314.2 331.6h.01M325.7 333.2h.01M327.4 337.4h.01M317.7 332.1h.01M320.6 334.5h.01M316.7 330.0h.01M324.2 345.9h.01M316.5 336.7h.01M328.3 333.5h.01M313.9 338.3h.01M327.9 323.5h.01M316.4 334.6h.01M319.1 349.2h.01M314.0 340.0h.01M324.8 345.4h.01M315.1 324.1h.01M317.0 330.4h.01M321.6 346.8h.01M331.2 328.0h.01M316.2 329.6h.01M319.9 344.8h.01M324.0 334.0h.01M330.3 334.4h.01M319.7 339.0h.01M335.4 336.7h.01M320.3 333.6h.01M321.9 338.0h.01M315.6 330.3h.01M322.3 335.7h.01M322.5 341.2h.01M320.5 327.5h.01M330.9 334.3h.01M318.1 326.9h.01M319.6 342.0h.01M320.0 340.9h.01M318.6 343.5h.01M325.3 344.3h.01M319.5 344.2h.01M315.5 341.7h.01M315.0 329.8h.01M317.4 343.5h.01M322.7 338.3h.01M322.2 340.7h.01M324.0 326.1h.01M320.1 344.6h.01M322.5 345.4h.01M316.1 323.4h.01M330.5 331.5h.01M341.0 332.2h.01M319.6 330.8h.01M317.2 347.1h.01M325.3 327.5h.01M314.9 344.4h.01M322.4 333.9h.01M320.8 347.0h.01M327.2 316.4h.01M336.3 332.5h.01M318.4 345.7h.01M315.9 329.9h.01M320.7 345.5h.01M317.5 331.9h.01M315.8 345.1h.01M315.4 332.6h.01M323.7 329.9h.01M315.8 334.6h.01M319.2 345.3h.01M314.0 335.9h.01M318.5 330.7h.01M319.9 323.4h.01M315.3 334.2h.01M319.1 340.3h.01M325.7 327.6h.01M317.4 335.9h.01M315.8 332.6h.01M318.9 324.1h.01M314.7 339.6h.01M338.5 326.9h.01M313.9 329.9h.01M316.9 345.8h.01M333.7 327.0h.01M317.7 340.8h.01M319.0 345.4h.01M315.7 343.9h.01M315.4 339.7h.01M317.5 334.1h.01M313.9 324.7h.01M315.8 337.1h.01M317.6 339.5h.01M320.7 331.9h.01M333.7 328.1h.01M318.6 327.5h.01M323.2 339.5h.01M324.9 332.1h.01M321.8 322.4h.01M322.6 348.9h.01M323.3 340.8h.01M320.5 340.3h.01M318.9 324.6h.01M316.2 334.9h.01M331.0 338.1h.01M314.5 329.9h.01M323.4 349.1h.01M317.4 319.7h.01M314.3 341.5h.01M328.9 320.7h.01M321.1 323.3h.01M326.0 325.6h.01M318.8 340.4h.01M324.0 330.1h.01M328.2 330.4h.01M320.7 328.5h.01M328.2 323.9h.01M333.2 328.6h.01M314.8 327.8h.01M314.4 333.2h.01M320.1 332.7h.01M322.4 316.5h.01M338.5 330.5h.01M333.3 345.4h.01M314.0 331.8h.01M313.7 335.0h.01M325.9 329.8h.01M313.8 330.0h.01M316.5 334.9h.01M314.0 324.7h.01M318.7 334.1h.01M320.8 322.1h.01M316.0 338.1h.01M321.2 322.8h.01M318.2 340.6h.01M316.6 343.5h.01M314.2 322.4h.01M322.2 340.8h.01M318.1 332.1h.01M316.8 344.6h.01M321.8 331.0h.01M320.0 333.0h.01M327.8 332.9h.01M318.3 345.3h.01M320.1 319.8h.01M321.7 341.4h.01M316.6 336.0h.01M313.7 331.3h.01M318.0 333.3h.01M313.9 342.7h.01M320.2 341.8h.01M317.0 348.8h.01M314.6 330.1h.01M314.1 320.1h.01M323.2 330.8h.01M315.9 333.6h.01M317.4 331.7h.01M314.6 345.0h.01M319.7 338.2h.01M315.6 320.9h.01M320.5 343.5h.01M316.3 330.0h.01M324.6 335.5h.01M317.2 341.9h.01M320.0 338.1h.01M320.2 334.6h.01M320.9 337.5h.01M326.7 341.2h.01M318.9 311.2h.01M317.1 328.9h.01M319.5 330.5h.01M320.6 341.7h.01M327.5 336.9h.01M332.4 342.0h.01M320.6 323.7h.01M315.4 333.4h.01M322.7 340.3h.01M318.1 334.7h.01M315.0 331.9h.01M325.7 337.3h.01M323.7 348.3h.01M315.9 318.3h.01M314.3 347.8h.01M316.5 337.4h.01M314.8 328.3h.01M323.8 340.4h.01M329.2 335.5h.01M316.6 344.8h.01M321.9 328.7h.01M320.0 342.9h.01M330.0 327.9h.01M315.0 337.7h.01M318.9 340.7h.01M315.7 334.5h.01M323.1 340.3h.01M321.4 330.4h.01M315.1 343.6h.01M318.3 331.1h.01M321.0 329.5h.01M330.7 334.2h.01M315.2 334.7h.01M326.8 328.4h.01M322.5 334.2h.01M316.9 340.0h.01M317.7 323.2h.01M315.7 324.6h.01M322.6 333.0h.01M324.8 327.2h.01M326.2 334.1h.01M323.2 339.6h.01M320.6 344.1h.01M325.6 346.9h.01M314.4 341.4h.01M315.1 329.5h.01M318.8 339.5h.01M316.0 331.0h.01M324.4 339.5h.01M318.7 326.7h.01M320.7 345.9h.01M316.7 338.5h.01M324.0 324.3h.01M318.3 337.4h.01M316.0 331.0h.01M320.2 337.2h.01M315.5 330.8h.01M316.7 340.1h.01M317.3 347.0h.01M319.3 325.1h.01M330.2 333.6h.01M318.8 338.3h.01M331.2 333.9h.01M339.8 331.7h.01M320.6 328.5h.01M331.2 338.1h.01M321.2 331.3h.01M322.7 334.4h.01M322.1 316.9h.01M323.4 342.3h.01M320.4 333.5h.01M321.0 327.5h.01M319.5 348.5h.01M334.8 333.0h.01M316.1 330.3h.01M327.2 328.4h.01M322.3 343.7h.01M321.9 335.4h.01M314.0 332.7h.01M322.3 324.6h.01M317.3 328.0h.01M332.5 338.0h.01M314.8 335.0h.01M318.3 319.1h.01M321.8 328.2h.01M315.1 337.0h.01M317.3 329.2h.01M320.4 317.4h.01M315.8 341.3h.01M316.6 331.4h.01M325.1 324.6h.01M313.9 339.7h.01M320.7 333.3h.01M317.0 327.5h.01M318.6 324.7h.01M317.9 334.2h.01M318.1 335.9h.01M326.8 321.0h.01M324.7 343.1h.01M321.7 325.0h.01M318.2 346.4h.01M314.4 337.8h.01M315.9 333.7h.01M317.5 337.9h.01M319.7 330.4h.01M325.7 334.7h.01M318.6 348.4h.01M318.1 330.6h.01M319.5 341.7h.01M321.7 328.0h.01M314.3 335.0h.01M321.4 342.9h.01M315.2 325.6h.01M316.9 337.9h.01M328.5 318.0h.01M321.0 326.0h.01M320.4 331.8h.01M314.0 342.3h.01M319.8 340.9h.01M316.5 327.9h.01M320.9 334.1h.01M317.8 336.7h.01M318.6 322.7h.01M316.0 338.6h.01M314.5 346.0h.01M322.2 330.5h.01M325.5 331.9h.01M316.5 327.7h.01M319.7 331.2h.01M322.5 333.2h.01M328.7 340.6h.01M321.2 335.9h.01M325.1 327.8h.01M315.6 341.8h.01M322.6 342.2h.01M324.3 330.3h.01M314.3 333.2h.01M326.1 334.4h.01M319.4 322.0h.01M327.7 336.3h.01M314.7 340.6h.01M315.5 350.8h.01M313.8 336.7h.01M315.7 332.9h.01M314.1 334.0h.01M323.8 340.1h.01M323.8 341.6h.01M331.2 328.3h.01M320.1 336.8h.01M323.9 340.4h.01M319.6 319.2h.01M324.8 346.2h.01M319.4 333.5h.01M315.1 342.2h.01M331.2 334.9h.01M321.6 333.3h.01M315.3 334.6h.01M320.9 337.5h.01M320.2 342.2h.01M316.5 333.1h.01M321.8 326.3h.01M316.1 329.6h.01M327.3 327.4h.01M328.8 341.3h.01M324.4 327.6h.01M321.7 347.4h.01M317.4 336.3h.01M322.2 334.5h.01M343.5 285.1h.01M315.5 273.2h.01M358.4 269.6h.01M386.3 274.4h.01M363.6 283.8h.01M317.9 276.9h.01M388.1 272.3h.01M350.4 276.0h.01M361.7 280.6h.01M348.4 268.1h.01M397.0 280.0h.01M360.0 274.7h.01M384.1 283.5h.01M395.5 282.1h.01M364.7 281.4h.01M386.9 267.0h.01M331.3 276.7h.01M329.7 267.1h.01M377.4 273.1h.01M371.9 269.4h.01" stroke="#111" stroke-width="0.84" stroke-linecap="round" opacity="0.42" fill="none"/>
<path d="M332.2 298.4h.01M345.2 306.1h.01M344.8 308.1h.01M337.1 326.0h.01M341.3 307.5h.01M354.2 302.4h.01M353.5 309.5h.01M357.9 300.7h.01M338.7 327.9h.01M343.9 309.7h.01M335.7 314.2h.01M349.9 313.5h.01M329.0 305.0h.01M342.1 304.4h.01M340.5 315.9h.01M349.2 300.6h.01M350.0 312.8h.01M352.2 310.2h.01M332.4 313.9h.01M350.3 311.4h.01M355.1 310.1h.01M349.7 306.2h.01M344.9 300.0h.01M337.9 305.5h.01M346.4 299.4h.01M340.4 313.3h.01M338.7 300.0h.01M336.5 315.9h.01M333.2 319.0h.01M349.5 312.1h.01M341.9 319.6h.01M334.9 303.8h.01M344.0 317.1h.01M342.0 306.2h.01M345.1 311.9h.01M329.8 319.3h.01M341.2 316.6h.01M342.7 309.3h.01M350.2 309.2h.01M334.8 311.7h.01M344.2 309.4h.01M345.2 312.9h.01M352.1 309.3h.01M360.2 301.2h.01M337.7 305.4h.01M352.5 316.2h.01M355.2 319.9h.01M345.4 313.8h.01M344.9 313.0h.01M356.2 305.6h.01M345.0 324.5h.01M341.5 308.1h.01M340.2 296.5h.01M344.8 305.9h.01M331.7 302.0h.01M357.1 315.2h.01M344.0 293.0h.01M336.8 316.9h.01M345.2 298.5h.01M340.6 308.1h.01M355.5 323.2h.01M344.6 315.3h.01M351.2 307.4h.01M355.5 308.2h.01M340.9 320.1h.01M356.1 316.2h.01M338.5 315.4h.01M342.8 308.0h.01M345.4 311.2h.01M351.2 307.4h.01M341.3 321.1h.01M347.9 298.5h.01M348.2 310.4h.01M347.3 304.9h.01M353.0 303.1h.01M338.8 323.8h.01M342.0 289.6h.01M346.8 306.2h.01M348.9 310.6h.01M341.5 332.2h.01M348.5 307.5h.01M351.0 295.7h.01M335.4 305.6h.01M349.0 303.8h.01M354.2 317.3h.01M340.5 314.1h.01M345.0 315.1h.01M331.1 329.3h.01M351.0 323.5h.01M344.9 313.9h.01M338.8 306.2h.01M359.9 298.2h.01M350.3 318.2h.01M332.2 313.6h.01M346.5 308.5h.01M338.7 320.0h.01M344.0 313.0h.01M340.2 311.0h.01M346.3 313.7h.01M354.2 295.9h.01M339.6 328.4h.01M338.9 320.0h.01M358.1 306.6h.01M356.4 312.5h.01M352.9 313.2h.01M355.8 309.6h.01M350.6 325.2h.01M343.3 306.4h.01M350.1 303.4h.01M341.0 315.1h.01M341.8 318.3h.01M351.7 325.6h.01M340.9 323.7h.01M333.1 303.1h.01M338.1 316.2h.01M346.9 321.8h.01M337.0 317.2h.01M347.2 306.3h.01M337.0 317.0h.01M340.2 313.8h.01M344.4 317.6h.01M349.0 308.7h.01M344.3 320.4h.01M339.0 320.9h.01M338.2 313.4h.01M339.6 312.8h.01M350.3 311.4h.01M333.7 303.4h.01M349.6 309.7h.01M339.6 313.0h.01M343.9 317.8h.01M339.8 317.2h.01M354.2 314.6h.01M343.9 305.8h.01M349.6 316.0h.01M345.1 313.9h.01M345.9 298.6h.01M346.5 300.8h.01M355.9 292.4h.01M349.0 326.2h.01M343.8 304.3h.01M350.5 318.1h.01M354.2 305.5h.01M349.6 316.8h.01M345.8 308.2h.01M347.2 305.3h.01M354.0 305.7h.01M347.3 311.3h.01M348.1 313.6h.01M354.7 299.7h.01M342.0 311.7h.01M341.1 303.3h.01M345.9 306.1h.01M346.6 304.1h.01M341.0 312.1h.01M345.0 328.5h.01M346.6 313.6h.01M350.5 309.6h.01M345.3 321.8h.01M349.6 304.1h.01M346.8 293.8h.01M348.0 309.4h.01M342.7 298.9h.01M342.0 302.7h.01M344.3 315.4h.01M353.8 306.0h.01M331.6 310.8h.01M348.4 302.4h.01M347.1 314.1h.01M339.3 312.7h.01M337.3 309.8h.01M339.2 303.9h.01M343.1 303.9h.01M339.9 308.7h.01M342.2 319.0h.01M352.3 322.5h.01M351.4 300.8h.01M355.3 299.3h.01M338.4 312.9h.01M342.4 293.0h.01M352.7 299.5h.01M343.5 300.4h.01M345.2 314.0h.01M343.4 312.2h.01M338.6 315.8h.01M336.7 314.5h.01M337.2 311.4h.01M349.1 308.4h.01M332.6 319.8h.01M338.3 303.9h.01M339.0 319.5h.01M341.4 315.5h.01M345.7 298.6h.01M350.0 301.0h.01M354.1 316.5h.01M355.8 301.9h.01M332.6 317.6h.01M356.6 327.4h.01M347.2 301.7h.01M344.0 299.3h.01M349.2 311.4h.01M344.7 303.4h.01M347.6 302.6h.01M345.4 315.2h.01M350.1 319.0h.01M352.9 312.8h.01M344.7 300.1h.01M344.8 295.9h.01M350.6 306.2h.01M340.5 306.4h.01M344.0 309.2h.01M338.9 314.0h.01M333.9 298.0h.01M336.2 319.0h.01M337.3 306.2h.01M341.0 316.9h.01M340.0 319.6h.01M350.2 312.3h.01M336.7 317.6h.01M344.4 307.0h.01M349.9 295.4h.01M348.5 313.0h.01M346.2 298.9h.01M352.1 313.4h.01M349.6 305.8h.01M341.9 325.5h.01M342.7 306.7h.01M342.4 298.1h.01M338.5 322.8h.01M353.2 308.4h.01M346.6 314.4h.01M344.2 307.3h.01M349.7 310.1h.01M351.5 310.6h.01M350.7 295.2h.01M345.1 305.8h.01M349.4 306.6h.01M349.3 309.1h.01M346.3 303.6h.01M352.7 319.7h.01M346.0 307.2h.01M344.2 307.1h.01M353.4 310.1h.01M355.1 314.6h.01M336.3 322.1h.01M341.9 312.5h.01M337.6 297.3h.01M356.6 306.0h.01M343.7 310.7h.01M339.8 309.8h.01M344.4 311.4h.01M341.4 297.2h.01M349.4 336.5h.01M349.6 309.3h.01M345.7 302.4h.01M334.0 316.9h.01M342.3 304.3h.01M341.5 307.8h.01M352.1 312.2h.01M352.1 312.8h.01M363.2 317.1h.01M358.6 318.2h.01M360.9 318.3h.01M356.0 328.4h.01M356.0 312.4h.01M357.8 321.5h.01M354.1 320.4h.01M363.0 317.5h.01M356.0 316.6h.01M359.0 319.4h.01M351.6 319.3h.01M367.8 311.7h.01M348.9 321.7h.01M348.9 329.6h.01M348.3 313.7h.01M354.1 325.3h.01M361.8 322.8h.01M358.8 326.4h.01M346.4 321.4h.01M365.5 314.9h.01M359.0 326.0h.01M364.4 319.4h.01M368.0 322.5h.01M363.4 314.8h.01M352.7 316.4h.01M367.4 308.7h.01M346.3 324.0h.01M357.9 305.6h.01M354.8 318.6h.01M364.2 310.7h.01M354.0 325.3h.01M361.5 315.6h.01M355.4 312.9h.01M365.1 318.0h.01M364.5 324.0h.01M351.9 319.4h.01M360.9 322.2h.01M366.0 325.5h.01M359.0 323.5h.01M353.0 317.2h.01M360.6 321.7h.01M350.7 319.7h.01M352.5 317.4h.01M364.7 315.5h.01M353.3 322.9h.01M357.6 320.9h.01M348.8 320.0h.01M355.0 316.2h.01M353.9 318.7h.01M362.1 329.3h.01M357.8 327.3h.01M357.8 313.0h.01M357.5 326.4h.01M365.3 315.9h.01M370.2 316.6h.01M353.0 317.6h.01M365.6 322.1h.01M362.5 309.4h.01M356.9 319.6h.01M361.3 317.9h.01M364.2 316.9h.01M349.1 312.3h.01M364.6 323.9h.01M352.7 325.5h.01M356.3 319.6h.01M348.8 317.6h.01M357.9 321.2h.01M354.0 325.0h.01M365.6 316.3h.01M359.6 312.9h.01M359.7 315.6h.01M356.4 321.1h.01M355.9 325.3h.01M352.8 318.0h.01M359.2 320.1h.01M358.8 319.2h.01M352.6 323.5h.01M357.7 324.6h.01M365.0 318.5h.01M353.0 318.1h.01M353.5 310.7h.01M366.8 322.2h.01M370.8 317.6h.01M360.7 321.6h.01M356.9 325.0h.01M357.3 319.9h.01M358.3 309.5h.01M353.2 316.7h.01M366.9 323.1h.01M361.9 323.3h.01M372.6 305.3h.01M345.0 328.8h.01M375.8 325.1h.01M345.0 332.2h.01M362.1 304.0h.01M359.4 296.6h.01M313.8 343.4h.01M342.0 318.5h.01M351.4 333.3h.01M378.9 315.3h.01M367.7 287.7h.01M329.0 294.1h.01M332.8 295.7h.01M345.7 288.1h.01M337.1 333.3h.01M337.5 349.4h.01M351.0 312.6h.01M316.2 350.1h.01M341.7 293.4h.01M317.8 309.0h.01M314.1 325.7h.01M370.0 328.6h.01M317.1 287.9h.01M357.0 345.0h.01M318.5 305.5h.01M318.3 305.5h.01M315.0 327.7h.01M371.6 313.6h.01M345.0 320.4h.01M323.0 343.0h.01M378.6 328.4h.01M354.2 293.8h.01M372.2 307.8h.01M319.6 343.1h.01M352.1 347.6h.01M363.7 306.3h.01M342.8 291.1h.01M346.2 337.6h.01M316.5 300.4h.01M327.3 300.9h.01M330.2 313.2h.01M342.6 291.5h.01M314.0 330.7h.01M318.9 342.6h.01M352.5 308.2h.01M379.0 330.4h.01M330.2 294.8h.01M348.4 309.7h.01M346.3 296.2h.01M364.7 292.9h.01M348.7 304.2h.01M347.2 310.3h.01M315.8 287.5h.01M314.0 328.3h.01M342.7 328.5h.01M321.3 305.0h.01M334.4 314.6h.01M323.0 304.0h.01M366.1 292.7h.01" stroke="#222" stroke-width="0.84" stroke-linecap="round" opacity="0.32" fill="none"/>
<path d="M338.8 272.0h.01M337.8 277.2h.01M350.0 270.0h.01M339.3 276.8h.01M359.6 275.9h.01M351.8 276.2h.01M366.3 275.5h.01M335.6 268.0h.01M337.0 274.4h.01M336.6 270.5h.01M352.7 271.1h.01M338.9 276.4h.01M357.5 275.9h.01M362.0 277.7h.01M351.9 273.0h.01M333.7 272.9h.01M345.9 276.6h.01M359.3 277.8h.01M363.7 277.0h.01M357.7 273.9h.01M348.1 273.5h.01M342.0 274.7h.01M351.2 267.7h.01M323.5 271.4h.01M347.1 272.6h.01M365.7 271.7h.01M338.6 274.6h.01M362.6 278.2h.01M341.3 272.8h.01M347.5 277.8h.01M359.3 273.6h.01M359.6 272.5h.01M349.8 273.4h.01M346.7 272.8h.01M355.7 274.2h.01M367.5 276.0h.01M351.1 267.2h.01M336.3 272.0h.01M347.8 269.7h.01M347.9 273.8h.01M345.2 273.0h.01M350.8 271.4h.01M342.7 273.1h.01M354.6 270.5h.01M330.3 270.7h.01M357.1 268.8h.01M361.5 271.7h.01M353.0 271.2h.01M357.8 273.6h.01M355.6 267.8h.01M359.3 268.6h.01M348.2 274.9h.01M349.6 274.8h.01M353.4 273.7h.01M343.2 276.3h.01M363.4 271.9h.01M342.3 274.0h.01M343.7 273.8h.01M360.2 275.3h.01M367.1 274.7h.01M340.7 271.0h.01M357.2 278.8h.01M347.9 270.8h.01M366.2 273.0h.01M358.9 276.5h.01M341.4 272.4h.01M345.8 274.9h.01M358.4 272.0h.01M357.4 268.3h.01M355.2 274.4h.01M351.6 269.3h.01M350.5 270.4h.01M366.7 272.6h.01M349.4 273.1h.01M357.2 273.6h.01M357.1 270.8h.01M363.0 272.0h.01M359.4 274.1h.01M362.7 273.2h.01M336.3 270.1h.01M349.2 277.3h.01M347.2 273.5h.01M364.6 271.8h.01M354.8 274.2h.01M345.4 274.0h.01M362.4 276.3h.01M348.1 281.6h.01M355.2 272.6h.01M344.1 270.6h.01M350.0 269.5h.01M349.8 273.3h.01M338.1 270.6h.01M364.7 271.8h.01M351.5 272.5h.01M360.2 276.8h.01M361.1 274.9h.01M357.4 270.0h.01M365.1 271.8h.01M342.4 272.3h.01M343.4 274.5h.01M359.0 277.0h.01M350.6 271.7h.01M348.7 270.1h.01M344.0 279.0h.01M343.6 272.1h.01M358.1 274.1h.01M359.5 270.9h.01M340.6 277.1h.01M344.6 273.1h.01M353.8 268.2h.01M349.6 271.6h.01M357.0 272.5h.01M328.3 275.6h.01M325.2 272.2h.01M344.4 271.7h.01M351.4 276.1h.01M342.6 271.7h.01M359.2 274.8h.01M359.0 274.3h.01M349.1 272.0h.01M346.7 275.9h.01M367.0 279.0h.01M340.8 272.7h.01M351.6 272.9h.01M339.9 279.5h.01M367.2 272.9h.01M346.9 273.4h.01M339.1 272.4h.01M359.6 278.1h.01M360.8 277.1h.01M365.9 273.9h.01M350.7 278.1h.01M341.6 270.7h.01M343.9 278.0h.01M361.4 268.3h.01M368.8 273.4h.01M356.0 271.2h.01M371.1 274.6h.01M365.3 270.6h.01M358.9 273.6h.01M349.3 271.1h.01M344.3 270.1h.01M344.7 273.3h.01M357.7 269.0h.01M340.8 271.6h.01M334.5 272.6h.01M348.8 272.8h.01M355.9 276.1h.01M360.0 274.2h.01M357.8 271.1h.01M341.7 275.2h.01M357.5 279.6h.01M349.2 270.6h.01M354.6 272.1h.01M342.3 277.3h.01M371.7 274.4h.01M344.8 274.1h.01M351.0 269.4h.01M360.3 274.4h.01M364.7 271.8h.01M351.4 273.1h.01M333.6 280.6h.01M329.7 270.1h.01M347.9 268.9h.01M356.0 272.1h.01M352.4 274.1h.01M352.5 273.7h.01M350.1 274.6h.01M360.2 272.7h.01M347.0 272.3h.01M355.0 272.4h.01M347.7 269.1h.01M372.0 269.9h.01M369.4 275.7h.01M362.6 274.2h.01M357.0 274.3h.01M358.1 275.9h.01M367.9 270.6h.01M357.0 278.1h.01M366.6 270.5h.01M355.2 274.3h.01M354.6 267.0h.01M361.1 268.9h.01M375.1 275.4h.01M351.0 275.3h.01M353.5 272.0h.01M351.1 274.5h.01M343.5 275.6h.01M363.9 276.6h.01M364.6 277.3h.01M359.6 277.3h.01M352.8 274.7h.01M367.2 279.2h.01M348.4 269.3h.01M375.0 276.9h.01M371.6 276.2h.01M354.8 271.7h.01M342.0 277.8h.01M362.7 274.5h.01M340.3 272.0h.01M345.6 272.7h.01M321.4 274.2h.01M368.9 272.0h.01M352.5 274.4h.01M341.6 274.8h.01M343.5 272.3h.01M354.9 273.4h.01M353.3 270.9h.01M360.0 270.4h.01M361.3 272.2h.01M339.5 273.3h.01M340.9 272.0h.01M350.6 275.8h.01M360.8 275.0h.01M349.2 269.1h.01M349.8 272.6h.01M350.8 272.0h.01M346.6 275.9h.01M337.9 273.6h.01M365.7 271.3h.01M341.6 272.9h.01M348.5 274.3h.01M366.8 273.2h.01M358.2 271.9h.01M347.0 274.4h.01M345.0 277.1h.01M347.9 273.1h.01M341.0 272.3h.01M341.5 272.1h.01M333.1 273.5h.01M371.0 268.1h.01M370.9 273.2h.01M361.7 270.6h.01M374.0 270.4h.01M351.4 278.1h.01M338.4 266.7h.01M351.4 271.3h.01M341.7 270.9h.01M336.3 277.7h.01M365.4 269.5h.01M351.0 272.2h.01M364.1 271.1h.01M369.7 273.6h.01M343.6 273.3h.01M345.8 280.2h.01M353.8 272.1h.01M353.2 277.9h.01M341.7 268.5h.01M366.4 275.4h.01M347.2 273.3h.01M366.0 273.0h.01M359.5 273.4h.01M385.8 271.7h.01M364.1 265.8h.01M352.5 275.9h.01M335.2 267.5h.01M353.1 276.5h.01M338.4 278.7h.01M370.8 271.5h.01M349.2 278.0h.01M337.5 271.4h.01M372.7 278.7h.01M337.0 270.7h.01M342.7 274.2h.01M342.0 269.5h.01M352.1 268.0h.01M378.8 272.8h.01M336.4 268.1h.01M379.4 269.0h.01M346.0 272.3h.01M352.6 277.7h.01M370.1 272.1h.01M373.1 267.6h.01M339.1 273.0h.01M365.5 272.9h.01M354.2 270.5h.01M336.9 271.7h.01M379.9 273.7h.01M352.3 274.2h.01M365.7 275.5h.01M368.1 280.2h.01M344.4 280.3h.01M346.4 276.6h.01M351.4 272.2h.01M374.5 267.2h.01M372.3 273.1h.01M363.7 270.9h.01M349.2 275.7h.01M347.7 270.0h.01M349.8 275.5h.01M351.2 270.7h.01M354.8 269.4h.01M352.0 267.8h.01M349.0 273.7h.01M368.4 268.7h.01M374.3 269.7h.01M374.1 270.8h.01M340.2 269.2h.01M360.3 267.2h.01M341.2 268.7h.01M374.3 277.2h.01M357.0 272.9h.01M333.6 276.4h.01M371.2 276.7h.01M364.6 275.5h.01M338.5 275.0h.01M373.4 278.9h.01M335.9 268.1h.01M375.1 271.4h.01M379.9 267.1h.01M353.8 273.3h.01M361.2 279.1h.01M351.4 274.3h.01M355.5 279.0h.01M371.9 275.6h.01M370.2 267.6h.01M352.4 268.2h.01" stroke="#333" stroke-width="0.8" stroke-linecap="round" opacity="0.3" fill="none"/>
<path d="M316.5 329.3h.01M318.6 304.5h.01M315.6 343.9h.01M320.5 328.1h.01M317.9 323.9h.01M315.3 319.8h.01M319.4 324.1h.01M321.1 321.9h.01M321.6 333.2h.01M319.2 336.0h.01M316.1 333.8h.01M316.5 338.1h.01M315.8 326.4h.01M316.0 340.5h.01M327.4 333.5h.01M320.1 338.9h.01M323.2 340.6h.01M321.7 331.0h.01M316.1 346.7h.01M326.9 342.4h.01M333.5 330.6h.01M314.2 350.9h.01M320.3 312.6h.01M316.7 328.5h.01M314.8 339.2h.01M322.9 343.8h.01M314.2 341.1h.01M322.0 334.5h.01M318.0 344.1h.01M314.0 341.6h.01M318.1 330.4h.01M317.8 336.4h.01M319.8 345.0h.01M321.6 328.4h.01M315.5 328.5h.01M314.9 326.5h.01M323.5 341.2h.01M327.8 342.9h.01M318.9 331.1h.01M314.4 334.4h.01M315.1 346.6h.01M334.5 332.0h.01M321.0 346.3h.01M322.0 334.5h.01M317.4 334.5h.01M323.4 340.1h.01M321.5 343.1h.01M315.1 331.4h.01M326.1 351.2h.01M321.6 327.3h.01M325.0 326.4h.01M319.2 313.0h.01M314.8 343.0h.01M315.2 349.2h.01M320.0 323.1h.01M319.1 331.6h.01M329.2 332.3h.01M321.0 319.6h.01M314.8 335.5h.01M317.8 337.7h.01M319.5 329.9h.01M323.7 324.8h.01M315.1 336.1h.01M315.0 340.6h.01M319.4 321.0h.01M314.1 333.8h.01M317.2 340.3h.01M317.2 307.5h.01M321.0 337.9h.01M324.3 322.3h.01M326.9 347.6h.01M322.4 331.9h.01M322.8 340.7h.01M316.2 333.3h.01M318.1 323.7h.01M324.6 318.1h.01M319.6 321.8h.01M327.5 332.2h.01M322.3 348.7h.01M320.9 337.8h.01M314.3 336.5h.01M314.3 315.2h.01M315.8 328.8h.01M319.3 321.8h.01M325.4 317.3h.01M316.5 338.4h.01M320.1 343.0h.01M327.6 327.3h.01M316.5 328.5h.01M314.4 339.1h.01M324.7 343.4h.01M335.3 324.5h.01M317.9 346.3h.01M320.1 344.0h.01M315.5 334.9h.01M324.3 324.0h.01M331.0 340.4h.01M320.6 341.6h.01M324.6 329.0h.01M316.9 350.4h.01M323.6 331.4h.01M318.3 340.0h.01M319.1 333.8h.01M322.2 335.7h.01M323.2 349.2h.01M318.3 328.2h.01M318.9 343.0h.01M325.6 334.5h.01M327.8 327.9h.01M320.9 336.8h.01M319.1 315.3h.01M320.2 332.3h.01M323.2 344.8h.01M321.7 343.1h.01M314.6 319.0h.01M325.1 323.9h.01M321.9 330.7h.01M317.1 332.5h.01M323.1 337.9h.01M323.3 326.0h.01M315.4 337.4h.01M316.6 339.6h.01M316.1 345.1h.01M316.9 326.2h.01M320.3 343.8h.01M322.3 342.7h.01M313.9 341.6h.01M317.1 310.9h.01M327.5 348.1h.01M326.9 346.9h.01M319.5 343.1h.01M317.0 327.9h.01M324.4 331.0h.01M329.7 345.8h.01M329.8 337.5h.01M314.3 313.6h.01M321.2 337.1h.01M318.5 338.4h.01M324.5 325.7h.01M328.1 338.7h.01M317.0 337.4h.01M315.6 317.2h.01M320.4 340.0h.01M318.9 323.8h.01M314.3 321.9h.01M316.8 335.5h.01M319.0 321.7h.01M316.4 327.6h.01M331.2 348.4h.01M331.3 337.4h.01M316.7 345.2h.01M315.8 334.6h.01M315.4 345.1h.01M318.0 329.7h.01M316.1 329.8h.01M319.0 325.5h.01M327.4 315.9h.01M314.7 331.0h.01M320.0 321.5h.01M318.0 330.3h.01M315.2 336.6h.01M324.1 338.8h.01M314.5 331.0h.01M328.0 334.3h.01M318.1 346.4h.01M321.0 333.4h.01M327.3 335.2h.01M318.3 310.6h.01M314.7 323.9h.01M317.9 345.8h.01M314.6 326.3h.01M316.4 324.2h.01M318.2 344.5h.01M322.9 322.7h.01M333.7 328.6h.01M322.4 314.5h.01M315.6 348.0h.01M316.3 316.8h.01M319.7 322.6h.01M322.6 342.7h.01M324.5 322.5h.01M323.6 339.9h.01M323.4 334.4h.01M335.3 332.1h.01M319.0 324.3h.01M322.5 328.2h.01M315.5 337.5h.01M319.2 325.0h.01M319.6 341.1h.01M314.3 337.2h.01M313.9 337.1h.01M319.9 340.4h.01M317.0 338.6h.01M316.0 343.0h.01M324.5 338.5h.01M314.4 338.0h.01M317.4 325.7h.01M320.7 317.6h.01M318.8 335.3h.01M319.4 344.3h.01M316.9 325.5h.01M324.3 319.0h.01M315.0 329.3h.01M323.2 338.4h.01M334.1 343.3h.01M317.9 331.6h.01M319.1 323.1h.01M334.5 334.2h.01M320.1 341.5h.01M315.7 334.2h.01M329.4 344.8h.01M317.3 329.8h.01M316.5 343.4h.01M319.9 351.1h.01M320.5 324.9h.01M314.8 326.1h.01M315.2 341.2h.01M315.3 339.8h.01M314.6 334.5h.01M314.8 347.8h.01M326.9 333.7h.01M317.4 318.7h.01M324.8 325.3h.01M314.2 348.2h.01M331.9 318.0h.01M322.8 320.6h.01M315.3 342.9h.01M331.1 336.3h.01M326.5 346.8h.01M321.6 324.2h.01M324.6 327.5h.01M315.7 322.5h.01M322.3 332.5h.01M327.6 333.1h.01M326.1 343.4h.01M318.0 333.9h.01M317.5 330.8h.01M319.7 339.7h.01M316.2 345.8h.01M324.4 345.1h.01M325.0 337.5h.01M322.2 331.0h.01M318.6 330.1h.01M318.6 321.8h.01M316.1 335.5h.01M316.8 334.5h.01M317.8 351.2h.01M321.1 337.0h.01M318.9 342.2h.01M318.8 347.8h.01M324.3 316.2h.01M327.9 328.4h.01M330.2 332.4h.01M327.8 336.0h.01M328.3 323.5h.01M325.2 343.3h.01M316.1 339.8h.01M321.3 341.6h.01M321.1 323.8h.01M319.0 346.1h.01M318.0 328.7h.01M318.5 316.0h.01M320.4 336.0h.01M321.9 339.0h.01M319.7 328.0h.01M316.5 318.3h.01M321.1 333.3h.01M320.3 309.5h.01M322.7 345.0h.01M314.4 344.8h.01M319.2 333.0h.01M315.6 345.3h.01M317.0 333.1h.01M317.8 323.5h.01M317.0 341.1h.01M320.4 340.4h.01M315.3 325.5h.01M318.4 320.7h.01M331.2 325.0h.01M323.3 346.4h.01M315.4 331.7h.01M323.7 328.2h.01M319.1 340.8h.01M314.5 338.0h.01M315.8 332.5h.01M326.7 343.1h.01M326.1 326.2h.01M314.1 334.2h.01M315.0 323.1h.01M324.6 313.0h.01M320.1 335.5h.01M319.8 323.4h.01M317.0 321.8h.01M318.0 340.6h.01M327.2 333.2h.01M316.0 338.6h.01M318.3 336.6h.01M323.5 339.3h.01M325.5 322.9h.01M322.6 343.1h.01M325.8 324.3h.01M321.5 341.3h.01M318.6 338.0h.01M317.6 332.7h.01M315.9 335.6h.01M329.9 331.5h.01M322.5 335.8h.01M317.3 333.0h.01M332.0 316.6h.01M320.1 341.3h.01M319.3 344.0h.01M320.7 329.2h.01M323.7 322.2h.01M319.5 341.4h.01M335.5 324.6h.01M324.7 334.8h.01M322.4 330.8h.01M315.5 336.7h.01M321.6 330.4h.01M317.6 325.6h.01M314.0 342.6h.01M316.6 328.6h.01M319.7 325.2h.01M318.9 333.0h.01M319.0 330.1h.01M323.3 326.6h.01M316.2 348.8h.01M320.4 344.5h.01M315.5 324.0h.01M316.3 340.4h.01M314.1 335.0h.01M313.8 342.5h.01M318.5 328.2h.01M320.3 335.6h.01M326.7 330.1h.01M319.1 348.3h.01M326.5 333.8h.01M313.6 333.1h.01M318.8 324.2h.01M328.9 324.1h.01M321.4 328.5h.01M322.3 340.9h.01M321.6 338.6h.01M315.1 336.1h.01M324.1 351.3h.01M314.9 324.8h.01M318.7 344.9h.01M322.1 328.7h.01M313.7 329.2h.01M319.0 339.0h.01M317.0 337.2h.01M318.1 329.5h.01M324.4 334.2h.01M316.1 351.0h.01M320.1 344.1h.01M322.4 326.8h.01M322.6 317.8h.01M314.9 323.9h.01M320.2 336.7h.01M318.3 327.1h.01M316.5 326.5h.01M323.5 342.1h.01M318.1 332.1h.01M322.9 331.1h.01M321.1 337.1h.01M318.9 349.4h.01M319.6 338.0h.01M321.9 350.4h.01M337.1 322.7h.01M316.7 323.7h.01M325.4 329.9h.01M315.9 350.4h.01M317.7 324.0h.01M316.9 330.4h.01M324.5 340.5h.01M316.9 335.7h.01M316.9 343.8h.01M320.1 330.1h.01M327.6 318.4h.01M314.8 341.1h.01M318.9 347.5h.01M318.8 316.2h.01M319.4 330.5h.01M325.6 316.3h.01M322.3 339.3h.01M317.0 323.4h.01M326.3 342.4h.01M332.4 331.6h.01M318.7 336.3h.01M314.1 341.6h.01M326.4 333.0h.01M320.3 324.9h.01M320.8 344.1h.01M314.2 320.3h.01M323.4 349.1h.01M321.0 328.9h.01M313.8 329.7h.01M315.5 338.9h.01M320.9 339.2h.01M315.6 340.1h.01M323.8 320.3h.01M331.5 338.4h.01M313.9 338.7h.01M317.5 334.1h.01M315.0 347.9h.01M315.2 333.2h.01M317.4 344.4h.01M335.7 345.9h.01M323.8 338.5h.01M318.4 333.1h.01M315.6 342.4h.01M325.4 339.5h.01M333.9 341.2h.01M318.4 326.4h.01M316.5 339.7h.01M318.9 351.0h.01M325.9 332.2h.01M321.6 336.4h.01M317.5 332.7h.01M314.4 343.8h.01M315.6 314.5h.01M329.4 351.0h.01M316.7 340.2h.01M326.8 332.8h.01M319.6 337.8h.01M320.3 346.3h.01M332.5 338.8h.01M317.4 341.8h.01M314.8 347.1h.01M318.6 336.8h.01M321.2 342.5h.01M330.1 349.8h.01M317.3 340.7h.01M322.6 328.9h.01M325.5 342.8h.01M321.9 332.0h.01M322.6 339.6h.01M315.5 339.4h.01M320.5 331.1h.01M320.5 342.0h.01M318.6 329.0h.01M323.2 335.8h.01M327.1 350.4h.01M314.1 319.1h.01M318.0 336.2h.01M321.3 344.9h.01M322.3 322.6h.01M322.0 327.8h.01M313.8 339.9h.01M329.0 335.5h.01M318.0 332.2h.01M316.7 338.2h.01M320.5 321.4h.01M323.9 326.8h.01M322.3 328.8h.01M315.8 339.5h.01M318.8 334.7h.01M322.0 343.7h.01M335.0 338.4h.01M316.6 339.2h.01M318.7 318.3h.01M327.9 328.6h.01M316.8 349.3h.01M316.7 345.7h.01M315.6 332.9h.01M316.4 319.4h.01M313.8 328.1h.01M322.8 347.1h.01M317.3 347.3h.01M325.3 319.2h.01M316.4 321.8h.01M320.6 329.3h.01M319.7 321.8h.01M318.6 336.3h.01M316.5 339.9h.01M314.6 333.0h.01M316.5 329.6h.01M313.8 341.6h.01M322.8 339.6h.01M314.8 336.5h.01M316.3 331.6h.01M315.4 334.7h.01M315.4 316.1h.01M318.0 315.8h.01M322.4 328.5h.01M323.1 336.5h.01M316.3 339.1h.01M322.8 325.4h.01M316.3 330.3h.01M318.8 322.7h.01M320.5 334.7h.01M315.8 334.2h.01M317.0 334.8h.01M316.2 337.8h.01M314.4 345.4h.01M323.0 341.9h.01M320.4 323.7h.01M323.0 343.5h.01M322.4 325.1h.01M320.9 338.9h.01M319.5 336.1h.01M314.2 334.1h.01M318.8 334.2h.01M322.7 332.4h.01M314.2 343.6h.01M314.4 338.2h.01M320.6 332.5h.01M316.4 343.4h.01M317.5 351.2h.01M330.3 350.0h.01M320.4 329.9h.01M326.6 334.3h.01M318.8 336.8h.01M334.0 318.4h.01M323.3 321.0h.01M329.5 339.2h.01M317.1 323.0h.01M322.8 336.4h.01M323.7 343.4h.01M337.5 340.4h.01M326.0 326.8h.01M324.5 328.8h.01M319.3 344.4h.01M330.6 334.6h.01M320.0 336.4h.01M321.7 344.5h.01M313.9 310.5h.01M316.9 337.8h.01M326.7 347.7h.01M319.3 342.0h.01M318.3 328.0h.01M321.7 344.8h.01M331.3 329.0h.01M321.3 328.2h.01M324.6 333.8h.01M315.4 331.2h.01M325.1 315.2h.01M332.4 312.0h.01M314.3 322.4h.01M314.9 329.0h.01M327.2 339.5h.01M318.8 330.1h.01M321.3 337.0h.01M317.6 348.7h.01M315.8 343.9h.01M323.2 325.6h.01M322.5 345.0h.01M315.5 335.2h.01M321.9 338.6h.01M319.2 344.7h.01M324.1 342.9h.01M314.1 322.3h.01M322.5 324.0h.01M320.9 337.9h.01M315.3 342.2h.01M318.9 341.1h.01M314.5 331.6h.01M314.9 330.4h.01M325.0 328.2h.01M314.1 322.5h.01M316.1 322.4h.01M327.4 329.8h.01M315.8 336.1h.01M317.0 327.6h.01M326.7 335.3h.01M313.8 332.4h.01M316.5 332.9h.01M319.5 330.9h.01M314.3 338.0h.01M322.8 335.3h.01M325.8 309.2h.01M315.0 337.8h.01M322.6 336.2h.01M321.5 329.2h.01M326.9 336.8h.01M320.8 328.3h.01M318.8 336.4h.01M325.7 326.6h.01M317.7 341.8h.01M315.6 338.6h.01M319.6 320.9h.01M320.9 328.3h.01M320.1 342.0h.01M318.0 339.1h.01M319.7 336.5h.01M328.1 324.0h.01M316.9 328.5h.01M323.7 336.7h.01M320.2 338.0h.01M314.1 335.0h.01M322.7 327.0h.01M319.3 332.9h.01M313.8 330.3h.01M323.8 323.7h.01M317.3 324.4h.01M314.1 327.2h.01M315.0 320.4h.01M319.7 339.7h.01M328.2 342.6h.01M321.7 343.8h.01M323.3 327.7h.01M322.2 337.5h.01M320.0 330.5h.01M319.6 332.0h.01M316.7 319.3h.01M314.3 347.5h.01M316.4 321.0h.01M318.1 319.7h.01M323.2 342.9h.01M326.8 324.3h.01M315.0 345.5h.01M314.7 338.4h.01M318.3 338.5h.01M320.3 331.3h.01M319.5 321.2h.01M323.8 323.4h.01M316.6 336.0h.01M320.5 334.0h.01M318.2 323.2h.01M319.4 323.9h.01M323.1 326.6h.01M321.4 334.4h.01M323.0 339.3h.01M328.1 343.8h.01M319.7 331.4h.01M323.8 349.0h.01M315.0 349.4h.01M314.0 326.5h.01M313.8 340.7h.01M314.8 345.6h.01M325.3 317.8h.01M327.1 344.0h.01M314.7 339.0h.01M323.3 344.0h.01M326.6 336.7h.01M317.6 346.2h.01M323.4 330.9h.01M324.3 330.0h.01M315.3 342.0h.01M321.8 342.0h.01M324.6 321.9h.01M324.3 346.7h.01M315.7 346.4h.01M319.7 345.0h.01M318.4 327.9h.01M318.0 347.3h.01M315.1 340.0h.01M314.4 344.0h.01M320.2 334.5h.01M328.9 330.8h.01M322.7 328.2h.01M318.3 329.1h.01M325.6 343.7h.01M322.7 327.5h.01M323.1 329.0h.01M313.8 338.2h.01M318.8 332.5h.01M320.1 315.1h.01M319.6 328.6h.01M315.9 331.5h.01M319.4 350.6h.01M320.7 341.5h.01M316.9 325.3h.01M320.1 324.3h.01M325.5 330.6h.01M320.8 337.2h.01M319.5 327.5h.01M320.5 339.2h.01M315.5 321.4h.01M320.0 338.2h.01M316.7 346.5h.01M316.6 309.3h.01M321.2 334.7h.01M323.8 337.5h.01M314.6 339.4h.01M328.9 336.0h.01M323.0 334.4h.01M316.1 337.7h.01M318.7 336.1h.01M328.7 335.9h.01M323.6 350.3h.01M317.5 344.9h.01M329.6 343.9h.01M322.9 328.9h.01M314.2 330.3h.01M322.8 345.2h.01M326.0 324.9h.01M316.5 344.9h.01M315.0 322.0h.01M316.5 347.0h.01M316.4 329.7h.01M315.6 330.5h.01M318.7 315.3h.01M314.2 334.5h.01M315.6 346.5h.01M318.5 340.9h.01M330.0 332.5h.01M316.9 340.4h.01M319.7 339.0h.01M314.7 332.1h.01M323.5 340.6h.01M328.3 339.4h.01M321.8 318.9h.01M314.7 337.1h.01M319.6 346.5h.01M314.9 330.0h.01M318.1 338.4h.01M315.8 341.2h.01M316.4 326.5h.01M331.3 329.9h.01M321.7 329.5h.01M317.7 328.1h.01M316.9 351.4h.01M320.4 349.3h.01M323.4 332.2h.01M315.5 335.9h.01M314.4 351.3h.01M314.7 332.2h.01M327.6 330.7h.01M331.8 326.8h.01M319.3 350.1h.01M319.7 336.6h.01M321.2 335.1h.01M315.3 330.9h.01M321.1 326.2h.01M315.0 344.2h.01M316.6 327.5h.01M326.8 329.9h.01M315.3 318.7h.01M316.9 324.3h.01M317.4 330.0h.01M320.0 330.2h.01M317.3 320.3h.01M320.1 329.0h.01M315.1 333.6h.01M314.3 309.6h.01M324.8 340.6h.01M314.1 332.3h.01M317.4 321.9h.01M322.3 332.3h.01M318.3 339.2h.01M331.2 334.8h.01M324.7 335.3h.01M316.3 335.0h.01M323.7 341.2h.01M315.4 321.7h.01M323.3 329.2h.01M314.0 338.6h.01M322.9 335.1h.01M314.6 324.6h.01M321.0 332.1h.01M313.7 328.1h.01M323.6 335.1h.01M320.8 318.8h.01M315.4 319.2h.01M332.4 320.9h.01M318.1 333.5h.01M315.7 344.3h.01M315.0 346.7h.01M316.9 334.9h.01M314.1 350.2h.01M315.3 338.3h.01M319.5 335.5h.01M326.4 345.3h.01M324.4 323.1h.01M315.9 313.6h.01M317.9 323.3h.01M319.3 348.4h.01M322.4 343.5h.01M313.9 336.6h.01M318.3 332.5h.01M313.7 333.1h.01M320.2 338.6h.01M320.2 326.5h.01M319.6 342.3h.01M314.5 325.4h.01M324.6 347.8h.01M328.4 331.5h.01M317.2 325.9h.01M319.4 332.0h.01M317.3 325.8h.01M316.1 333.5h.01M328.6 317.3h.01M318.9 330.0h.01M316.7 338.5h.01M321.3 331.0h.01M323.8 346.5h.01M318.0 318.4h.01M316.9 332.6h.01M317.0 330.1h.01M317.5 334.7h.01M316.1 332.2h.01M318.7 348.2h.01M318.6 334.7h.01M317.6 325.8h.01M318.9 335.1h.01M318.4 333.2h.01M317.5 343.3h.01M327.1 332.6h.01M324.2 343.1h.01M322.4 323.2h.01M324.0 330.3h.01M320.5 343.9h.01M323.6 334.0h.01M317.4 333.7h.01M314.0 345.3h.01M327.2 320.4h.01M318.3 328.0h.01M319.3 327.0h.01M318.2 314.7h.01M320.0 306.5h.01M326.3 330.8h.01M317.8 343.6h.01M314.6 341.2h.01M313.8 347.0h.01M322.8 308.2h.01M316.0 333.3h.01M321.7 347.7h.01M315.0 326.3h.01M314.5 322.1h.01M317.0 338.1h.01M316.0 334.9h.01M314.6 340.9h.01M318.0 334.7h.01M317.9 346.8h.01M318.8 341.5h.01M318.4 337.2h.01M323.0 331.1h.01M319.6 341.6h.01M317.9 344.1h.01M315.9 346.0h.01M320.8 344.0h.01M318.1 322.3h.01M321.7 339.1h.01M326.2 338.4h.01M324.5 343.3h.01M313.7 319.6h.01M325.1 328.9h.01M326.7 334.0h.01M320.4 348.4h.01M317.3 343.5h.01M331.1 336.2h.01M316.4 338.0h.01M324.6 319.1h.01M315.5 332.1h.01M317.7 337.3h.01M319.0 347.2h.01M314.8 341.3h.01M317.0 332.1h.01M317.3 322.5h.01M336.6 335.1h.01M314.9 333.6h.01M322.7 347.8h.01M313.9 343.9h.01M322.8 321.1h.01M316.8 312.2h.01M316.0 330.8h.01M318.8 337.5h.01M319.8 325.3h.01M323.1 329.8h.01M317.5 346.5h.01M315.4 342.1h.01M317.9 318.0h.01M326.8 338.2h.01M316.3 336.4h.01M316.9 332.9h.01M325.4 340.6h.01M315.2 337.1h.01M335.6 327.7h.01M321.6 330.0h.01M320.8 341.9h.01M315.2 340.8h.01M336.5 340.1h.01M318.8 337.5h.01M315.5 330.5h.01M316.0 335.6h.01M325.1 323.0h.01M340.8 342.2h.01M315.2 339.5h.01M317.5 336.7h.01M316.8 326.5h.01M317.3 332.3h.01M319.5 329.3h.01M319.0 337.9h.01M327.4 332.1h.01M325.8 338.5h.01M320.4 344.0h.01M319.9 347.3h.01M317.8 324.2h.01M316.7 347.2h.01M320.9 326.6h.01M318.0 348.1h.01M320.0 330.0h.01M317.1 345.0h.01M318.1 329.6h.01M314.4 332.7h.01M320.4 336.2h.01M329.3 335.8h.01M315.1 333.5h.01M317.3 341.5h.01M316.8 346.7h.01M318.4 343.4h.01M317.4 330.2h.01M321.4 316.8h.01M315.7 336.1h.01M320.8 307.2h.01M317.8 341.6h.01M321.2 341.0h.01M319.4 323.1h.01M316.5 340.7h.01M319.8 328.5h.01M319.0 347.4h.01M330.4 327.5h.01M318.8 326.8h.01M314.6 328.6h.01M328.5 337.3h.01M318.3 324.8h.01M313.8 331.3h.01M319.4 332.2h.01M320.2 331.9h.01M326.8 328.0h.01M317.7 327.5h.01M314.3 339.3h.01M314.0 346.7h.01M314.6 336.0h.01M323.4 326.2h.01M316.2 337.1h.01M315.0 327.2h.01M320.3 308.7h.01M318.1 336.2h.01M322.0 317.9h.01M316.3 328.8h.01M335.1 335.5h.01M323.3 331.0h.01M329.8 332.4h.01M316.6 350.1h.01M321.4 344.3h.01M314.3 349.8h.01M317.9 337.1h.01M320.5 337.2h.01M323.7 328.9h.01M316.3 338.2h.01M319.0 336.3h.01M333.4 337.8h.01M315.6 340.8h.01M317.8 336.2h.01M314.3 342.9h.01M327.8 339.8h.01M315.5 324.8h.01M320.9 345.5h.01M316.0 344.5h.01M327.0 332.9h.01M316.2 330.0h.01M323.1 334.7h.01M328.5 340.3h.01M316.3 320.2h.01M322.0 325.1h.01M324.5 344.1h.01M315.9 332.8h.01M319.5 322.4h.01M320.1 313.2h.01M328.1 330.6h.01M313.7 317.8h.01M315.8 336.1h.01M314.9 334.0h.01M320.3 322.6h.01M326.4 341.0h.01M317.0 323.1h.01M325.9 324.7h.01M319.0 332.8h.01M316.6 326.5h.01M326.6 334.2h.01M315.6 327.4h.01M317.3 327.0h.01M326.4 331.1h.01M321.4 332.7h.01M313.9 327.1h.01M327.5 340.6h.01M319.1 346.3h.01M316.5 322.1h.01M315.0 329.9h.01M322.9 331.0h.01M313.6 321.0h.01M315.9 321.8h.01M321.7 331.0h.01M317.1 325.8h.01M319.3 337.6h.01M319.2 342.5h.01M317.4 336.4h.01M316.0 337.3h.01M314.7 325.6h.01M323.4 328.7h.01M325.6 338.3h.01M320.4 340.1h.01M325.5 333.7h.01M325.4 339.8h.01M320.0 332.1h.01M326.1 323.2h.01M326.5 337.5h.01M319.3 330.4h.01M317.6 318.0h.01M327.8 342.6h.01M314.3 338.2h.01M323.4 341.5h.01M318.1 329.9h.01M315.7 348.8h.01M320.9 339.1h.01M314.3 343.9h.01M314.6 328.2h.01M314.3 331.5h.01M321.4 346.9h.01M326.0 334.2h.01M314.0 334.7h.01M315.6 348.9h.01M316.6 345.6h.01M314.1 336.7h.01M320.8 320.1h.01M315.7 333.9h.01M320.2 329.2h.01M320.2 348.7h.01M321.4 349.7h.01M320.6 329.9h.01M315.4 335.9h.01M323.9 343.6h.01M320.6 339.6h.01M315.7 337.1h.01M321.0 344.1h.01M320.3 335.7h.01M321.5 324.0h.01M322.1 333.5h.01M318.5 334.2h.01M317.5 331.0h.01M322.4 341.3h.01M318.7 341.6h.01M317.8 343.3h.01M319.8 339.2h.01M327.5 337.1h.01M325.5 324.8h.01M314.7 331.3h.01M321.6 326.4h.01M314.9 337.7h.01M327.3 333.5h.01M316.8 334.3h.01M322.5 339.7h.01M324.3 331.8h.01M327.2 344.8h.01M316.7 344.6h.01M313.8 325.6h.01M314.0 347.1h.01M322.7 331.4h.01M319.6 327.7h.01M319.5 331.6h.01M316.4 322.5h.01M319.5 337.9h.01M318.8 346.1h.01M317.6 320.2h.01M323.9 338.7h.01M318.1 340.2h.01M317.4 340.9h.01M315.7 340.8h.01M321.6 338.8h.01M320.5 330.2h.01M315.4 343.1h.01M333.6 337.8h.01M330.2 342.2h.01M316.5 337.6h.01M315.8 332.2h.01M320.4 334.2h.01M315.0 340.4h.01M314.2 316.4h.01M325.5 322.5h.01M314.0 319.1h.01M328.9 329.6h.01M314.7 328.3h.01M320.5 336.5h.01M318.2 331.7h.01M315.8 347.3h.01M320.4 328.8h.01M323.6 327.9h.01M322.1 331.8h.01M325.8 336.1h.01M324.9 330.0h.01M317.7 325.8h.01M314.9 321.6h.01M319.3 336.3h.01M324.5 329.4h.01M316.7 325.2h.01M322.4 332.0h.01M315.6 337.7h.01M314.4 350.0h.01M314.3 326.1h.01M315.8 330.3h.01M316.6 316.0h.01M318.1 315.9h.01M314.9 317.0h.01M325.8 343.2h.01M315.8 333.1h.01M335.7 320.6h.01M315.6 328.1h.01M320.0 329.7h.01M320.2 328.2h.01M336.0 348.5h.01M330.1 316.1h.01M316.1 330.2h.01M326.6 336.8h.01M316.8 339.1h.01M317.3 313.8h.01M316.8 336.3h.01M331.6 322.5h.01M320.2 329.0h.01M315.7 319.4h.01M314.5 341.8h.01M315.7 344.1h.01M323.8 331.7h.01M320.4 317.8h.01M317.0 342.8h.01M321.7 345.9h.01M318.7 324.0h.01M326.7 343.5h.01M315.6 317.4h.01M316.4 322.4h.01M323.5 335.9h.01M314.3 321.3h.01M329.8 341.7h.01M323.6 348.1h.01M317.4 335.2h.01M320.6 339.3h.01M328.2 349.8h.01M326.5 339.5h.01M321.0 347.1h.01M319.6 348.3h.01M322.0 346.0h.01M314.0 336.2h.01M317.6 342.6h.01M316.3 337.8h.01M315.7 337.0h.01M315.9 325.3h.01M315.6 331.0h.01M323.2 331.7h.01M314.4 345.2h.01M317.7 339.4h.01M325.8 338.7h.01M326.2 333.8h.01M325.5 346.9h.01M314.6 311.6h.01M330.8 326.2h.01M320.0 343.9h.01M321.2 331.0h.01M318.4 341.0h.01M319.2 350.0h.01M328.8 342.5h.01M313.6 320.9h.01M313.7 332.7h.01M316.3 324.0h.01M326.6 339.4h.01M314.6 344.8h.01M316.4 332.6h.01M315.5 339.8h.01M323.8 333.0h.01M325.1 336.2h.01M315.8 337.1h.01M314.7 340.3h.01M317.4 345.0h.01M329.9 341.6h.01M315.2 334.7h.01M324.8 335.5h.01M318.0 339.8h.01M314.6 340.6h.01M313.7 331.4h.01M320.1 329.5h.01M318.4 332.7h.01M316.4 339.4h.01M318.8 330.7h.01M320.4 324.7h.01M318.6 331.8h.01M321.6 330.3h.01M316.1 340.7h.01M314.9 330.1h.01M316.3 331.1h.01M321.1 339.2h.01M315.2 326.2h.01M320.5 346.4h.01M327.4 331.5h.01M313.7 327.3h.01M323.3 341.2h.01M324.8 321.6h.01M321.7 334.4h.01M315.3 340.3h.01M321.9 342.1h.01M316.4 330.0h.01M316.7 330.3h.01M323.8 334.2h.01M317.7 346.5h.01M314.3 318.0h.01M315.2 342.8h.01M317.7 337.9h.01M320.1 348.0h.01M327.4 324.4h.01M319.2 326.8h.01M314.8 337.9h.01M322.4 331.3h.01M321.0 311.7h.01M321.8 334.5h.01M323.9 338.8h.01M320.0 343.2h.01M319.8 329.1h.01M339.7 341.8h.01M318.4 331.7h.01M326.5 345.0h.01M318.0 348.6h.01M323.5 332.9h.01M320.7 333.5h.01M316.1 328.2h.01M313.7 335.0h.01M315.2 342.0h.01M314.2 345.2h.01M322.4 334.9h.01M317.8 330.1h.01M315.1 334.9h.01M324.6 329.9h.01M318.6 330.9h.01M315.0 332.5h.01M329.0 328.6h.01M319.0 331.1h.01M325.8 337.8h.01M321.0 336.2h.01M327.3 325.2h.01M320.4 339.9h.01M315.9 327.4h.01M321.6 339.5h.01M320.6 335.8h.01M321.1 316.9h.01M317.7 325.3h.01M317.6 344.2h.01M315.8 329.0h.01M326.8 328.9h.01M314.6 331.0h.01M315.6 336.2h.01M325.9 340.6h.01M314.5 332.3h.01M315.4 351.2h.01M326.6 329.7h.01M320.6 330.7h.01M319.2 333.4h.01M321.0 336.7h.01M318.8 349.1h.01M320.0 331.9h.01M323.7 333.6h.01M320.9 334.0h.01M318.8 343.4h.01M324.8 325.1h.01M325.4 343.3h.01M322.6 314.4h.01M320.3 340.2h.01M321.6 341.5h.01M326.3 326.5h.01M319.4 341.8h.01M314.8 341.4h.01M317.2 326.2h.01M315.1 337.6h.01M315.0 327.1h.01M316.2 324.0h.01M314.0 320.7h.01M326.4 333.0h.01M314.5 315.3h.01M324.5 337.9h.01M316.7 318.7h.01M321.2 341.7h.01M335.3 337.4h.01M329.6 327.2h.01M313.7 319.9h.01M317.6 326.4h.01M317.0 322.1h.01M325.6 331.4h.01M314.8 331.5h.01M313.9 314.9h.01M325.7 329.4h.01M316.8 340.4h.01M315.2 344.9h.01M315.0 347.9h.01M317.5 342.8h.01M314.4 307.3h.01M321.5 332.9h.01M314.5 343.3h.01M314.0 341.9h.01M322.7 321.4h.01M323.7 327.0h.01M314.7 314.2h.01M320.8 327.8h.01M315.1 321.7h.01M325.3 297.3h.01M326.9 300.5h.01M322.4 309.5h.01M329.6 294.6h.01M330.7 304.7h.01M330.4 303.2h.01M315.3 299.2h.01M320.6 307.2h.01M324.2 302.0h.01M327.6 296.6h.01M329.4 302.1h.01M319.3 298.2h.01M322.8 303.9h.01M330.9 299.5h.01M322.9 309.7h.01M339.5 309.8h.01M324.9 299.2h.01M327.3 302.5h.01M320.1 307.6h.01M336.4 296.9h.01M320.1 298.5h.01M317.8 304.9h.01M316.9 304.2h.01M325.9 304.6h.01M316.7 301.7h.01M325.3 305.3h.01M325.8 298.1h.01M329.6 307.8h.01M330.6 297.3h.01M326.6 296.5h.01M323.1 304.7h.01M316.9 314.6h.01M330.0 297.2h.01M321.2 300.6h.01M323.3 295.0h.01M323.3 293.4h.01M320.9 309.8h.01M323.7 299.1h.01M331.7 302.5h.01M327.1 298.2h.01M329.4 299.4h.01M328.3 304.1h.01M332.5 305.9h.01M323.9 295.8h.01M322.5 297.6h.01M331.5 298.8h.01M328.0 296.4h.01M327.5 294.4h.01M325.2 300.2h.01M325.5 303.1h.01M320.6 305.0h.01M321.5 301.6h.01M331.0 296.4h.01M324.3 308.9h.01M330.2 297.6h.01M320.9 303.7h.01M320.7 301.3h.01M317.2 304.1h.01M316.0 301.6h.01M327.4 297.7h.01M316.2 294.7h.01M314.5 309.9h.01M314.4 294.6h.01M325.6 301.2h.01M329.1 307.5h.01M326.2 300.6h.01M321.2 300.1h.01M328.7 304.0h.01M327.1 292.6h.01M320.2 297.5h.01M321.3 295.7h.01M327.4 306.3h.01M333.0 298.4h.01M323.5 301.4h.01M323.9 296.8h.01M328.0 290.9h.01M321.6 291.5h.01M327.1 294.0h.01M318.2 300.9h.01M318.8 302.2h.01M322.0 310.8h.01M317.9 296.9h.01M326.8 301.6h.01M326.2 299.5h.01M328.7 302.7h.01M330.6 294.2h.01M325.3 299.9h.01M326.0 296.3h.01M328.0 294.3h.01M328.4 303.7h.01M315.0 303.0h.01M314.3 303.8h.01M316.0 300.6h.01M322.6 292.9h.01M314.7 303.5h.01M321.6 306.4h.01M323.8 314.8h.01M324.9 309.8h.01M325.8 301.4h.01M326.7 297.2h.01M320.8 309.3h.01M323.1 295.3h.01M326.6 296.8h.01M324.4 306.8h.01M330.6 310.2h.01M330.0 304.4h.01M326.8 302.6h.01M323.9 312.5h.01M323.8 309.5h.01M323.6 307.2h.01M321.0 309.1h.01M331.7 298.1h.01M323.8 305.9h.01M325.8 301.7h.01M329.2 294.7h.01M332.4 303.6h.01M323.9 312.7h.01M324.3 293.8h.01M331.2 303.4h.01M324.4 306.7h.01M322.5 300.9h.01M329.5 303.7h.01M329.4 299.7h.01M333.0 294.4h.01M317.6 304.1h.01M323.0 302.6h.01M324.8 300.8h.01M319.3 303.1h.01M331.2 297.4h.01M334.1 309.5h.01M320.4 305.7h.01M319.1 301.0h.01M319.1 298.9h.01M315.3 300.8h.01M319.4 297.2h.01M314.8 301.8h.01M334.2 299.8h.01M323.9 295.9h.01M322.3 297.3h.01M316.8 297.2h.01M322.0 303.2h.01M322.9 303.0h.01M331.1 306.2h.01M322.5 292.7h.01M323.6 302.0h.01M329.5 302.2h.01M338.5 299.9h.01M327.8 297.0h.01M319.5 300.0h.01M325.5 305.0h.01M332.0 308.3h.01M328.7 300.9h.01M327.3 307.9h.01M319.6 304.8h.01M327.0 300.8h.01M333.4 298.0h.01M319.5 301.2h.01M321.3 308.1h.01M316.1 294.9h.01M326.0 305.1h.01M318.5 307.9h.01M314.8 306.5h.01M319.9 299.0h.01M333.4 301.0h.01M321.1 302.5h.01M333.8 301.7h.01M320.5 302.4h.01M318.1 297.9h.01M321.5 304.5h.01M321.9 303.7h.01M330.1 309.2h.01M315.8 301.0h.01M318.5 304.5h.01M325.5 301.2h.01M321.6 296.5h.01M315.8 306.1h.01M323.3 301.4h.01M325.9 305.2h.01M333.7 300.4h.01M327.5 293.1h.01M322.3 297.7h.01M321.1 307.0h.01M324.8 301.6h.01M324.6 300.1h.01M323.2 298.0h.01M321.6 299.1h.01M323.3 291.9h.01M324.6 301.1h.01M326.3 295.7h.01M319.6 305.2h.01M320.7 303.6h.01M320.9 295.3h.01M317.0 298.2h.01M321.9 295.2h.01M331.3 301.3h.01" stroke="#000" stroke-width="0.9" stroke-linecap="round" opacity="0.45" fill="none"/>
<rect x="313.1" y="265.0" width="87.79999999999995" height="87.0" fill="none" stroke="#4a4a4a" stroke-width="1.0"/>
<rect x="330.7" y="265.3" width="70.19999999999999" height="17.30000000000001" fill="none" stroke="#4a4a4a" stroke-width="1.05"/>
<path d="M427.3 306.6h.01M440.9 299.9h.01M426.2 301.6h.01M440.2 298.0h.01M443.5 301.0h.01M441.0 301.7h.01M438.3 304.1h.01M444.7 300.0h.01M449.4 298.4h.01M436.9 304.2h.01M434.6 304.8h.01M442.4 302.2h.01M425.7 302.6h.01M436.0 299.2h.01M445.0 300.6h.01M426.4 302.5h.01M429.3 301.6h.01M436.4 301.0h.01M439.2 303.1h.01M444.1 299.2h.01M435.0 303.0h.01M436.8 296.0h.01M426.1 303.2h.01M439.0 302.3h.01M436.0 305.8h.01M431.8 299.9h.01M446.3 304.0h.01M433.3 300.1h.01M447.2 301.4h.01M428.2 306.0h.01M439.5 301.4h.01M430.5 303.5h.01M425.0 301.6h.01M440.2 299.0h.01M445.5 301.6h.01M434.0 300.8h.01M439.1 300.8h.01M436.3 305.9h.01M444.4 297.7h.01M445.2 300.8h.01M436.9 302.5h.01M436.8 300.4h.01M439.2 305.2h.01M430.0 302.2h.01M441.0 305.4h.01M437.2 303.0h.01M438.4 301.2h.01M437.2 301.4h.01M431.8 295.3h.01M440.4 303.5h.01M435.3 301.3h.01M438.9 301.0h.01M434.5 306.6h.01M432.5 296.5h.01M425.1 305.3h.01M438.5 301.8h.01M444.7 299.3h.01M449.5 302.0h.01M429.7 305.4h.01M438.5 302.7h.01M433.5 296.8h.01M441.9 299.8h.01M435.1 297.5h.01M439.8 304.3h.01M443.8 299.8h.01M433.0 304.4h.01M426.3 301.2h.01M434.3 302.1h.01M441.2 303.4h.01M430.8 295.2h.01M440.5 305.0h.01M438.3 303.2h.01M437.8 305.7h.01M430.2 301.9h.01M426.4 301.4h.01M427.8 299.7h.01M442.2 293.2h.01M444.2 302.0h.01M428.8 303.0h.01M432.2 301.8h.01M445.3 302.5h.01M437.0 301.3h.01M432.7 299.4h.01M433.1 299.7h.01M443.1 301.4h.01M439.9 305.8h.01M442.1 300.0h.01M447.2 296.4h.01M445.3 294.6h.01M426.9 301.8h.01M428.4 295.8h.01M443.1 306.0h.01M436.0 301.9h.01M430.9 310.1h.01M443.5 303.9h.01M436.7 305.2h.01M429.5 295.2h.01M442.7 299.8h.01M437.5 299.8h.01M430.9 306.8h.01M436.6 303.2h.01M428.9 303.4h.01M426.0 303.1h.01M438.4 297.7h.01M436.5 299.4h.01M443.9 303.1h.01M434.5 311.0h.01M440.6 300.9h.01M441.0 302.9h.01M444.7 299.1h.01M449.6 300.5h.01M431.1 299.9h.01M431.7 307.7h.01M435.5 298.9h.01M432.9 302.8h.01M441.7 301.1h.01M435.6 310.7h.01M433.0 302.4h.01M424.7 304.9h.01M430.4 307.5h.01M443.7 304.4h.01M430.1 301.0h.01M431.1 302.3h.01M431.4 300.4h.01M434.9 302.0h.01M431.1 304.7h.01M442.4 300.4h.01M451.1 303.2h.01M443.8 307.6h.01M441.4 305.6h.01M440.4 305.0h.01M438.7 296.0h.01M429.8 301.5h.01M437.1 304.7h.01M436.0 299.6h.01M426.6 303.3h.01M438.8 303.2h.01M435.3 302.4h.01M440.2 298.7h.01M437.5 304.1h.01M452.6 301.9h.01M432.2 298.5h.01M425.5 297.2h.01M434.1 303.0h.01M443.1 298.1h.01M435.0 302.6h.01M426.4 300.1h.01M441.7 304.2h.01M441.3 303.0h.01M435.1 303.6h.01M433.0 307.1h.01M436.0 303.7h.01M433.6 300.1h.01M433.9 301.1h.01M427.9 304.5h.01M450.1 303.0h.01M433.5 300.0h.01M438.8 299.8h.01M435.0 299.6h.01M445.5 302.5h.01M437.8 307.2h.01M436.5 301.3h.01M434.5 305.8h.01M429.2 300.2h.01M448.1 305.2h.01M438.3 304.6h.01M435.2 301.3h.01M433.3 303.1h.01M430.9 297.5h.01M433.2 303.0h.01M433.5 304.2h.01M436.9 305.1h.01M435.6 301.7h.01M439.1 304.8h.01M431.1 299.7h.01M445.1 300.7h.01M437.5 300.8h.01M436.3 306.3h.01M447.8 298.4h.01M439.2 306.8h.01M436.6 301.3h.01M441.1 299.5h.01M439.7 306.2h.01M444.3 304.3h.01M430.6 301.2h.01M427.4 307.7h.01M444.3 302.0h.01M434.0 302.9h.01M429.4 303.7h.01M438.4 303.5h.01M434.9 294.8h.01M433.0 298.0h.01M430.6 301.6h.01M432.1 299.7h.01M447.1 296.7h.01M438.2 300.4h.01M444.4 304.6h.01M435.0 297.7h.01M440.6 305.0h.01M439.6 301.3h.01M439.3 299.9h.01M436.3 303.2h.01M432.5 299.2h.01M432.6 299.5h.01M424.9 305.2h.01M433.1 300.6h.01M430.2 303.4h.01M431.8 300.0h.01M436.4 302.5h.01M427.2 298.9h.01M444.5 301.3h.01M443.8 303.9h.01M433.7 301.4h.01M447.1 300.2h.01M431.2 299.7h.01M433.0 299.3h.01M435.2 298.4h.01M438.4 303.1h.01M435.9 300.3h.01M444.4 308.0h.01M433.2 299.8h.01M439.3 301.5h.01M435.4 304.0h.01M426.0 298.4h.01M431.2 306.4h.01M429.2 303.5h.01M426.9 303.9h.01M436.7 305.5h.01M435.6 302.1h.01M440.4 302.7h.01M435.6 303.7h.01M441.1 299.4h.01M433.6 303.3h.01M436.2 299.2h.01M439.9 307.0h.01M437.5 299.5h.01M437.7 301.7h.01M428.8 297.8h.01M430.9 302.2h.01M434.3 302.7h.01M449.2 301.9h.01M445.0 299.8h.01M428.4 300.5h.01M436.2 304.2h.01M447.8 303.4h.01M447.0 295.1h.01M444.2 302.9h.01M429.8 305.3h.01M434.4 300.0h.01M446.8 304.0h.01M429.2 301.3h.01M429.3 302.8h.01M433.5 298.2h.01M452.5 299.5h.01M440.1 299.8h.01M432.9 295.1h.01M429.1 302.1h.01M434.4 306.4h.01M438.0 293.4h.01M431.6 302.1h.01M438.9 296.9h.01M425.9 294.9h.01M426.2 300.6h.01M441.9 298.6h.01M436.2 302.6h.01M430.9 309.0h.01M426.1 301.1h.01M436.2 305.2h.01M439.4 300.9h.01M431.0 305.4h.01M446.1 300.3h.01M443.6 303.6h.01M435.9 298.6h.01M437.3 296.9h.01M446.9 306.9h.01M425.4 301.6h.01M432.9 300.3h.01M430.0 303.4h.01M447.2 302.2h.01M434.8 302.4h.01M428.4 303.8h.01M430.0 299.0h.01M439.2 296.4h.01M429.9 300.8h.01M432.9 297.4h.01M426.4 301.5h.01M438.8 301.6h.01M432.3 299.5h.01M434.1 293.6h.01M439.1 304.9h.01M433.8 299.1h.01M444.6 300.0h.01M444.7 301.2h.01M427.9 301.3h.01M428.5 301.5h.01M437.9 301.2h.01M430.3 301.9h.01M437.1 302.0h.01M438.3 303.7h.01M436.3 304.1h.01M434.1 305.4h.01M437.2 304.5h.01M432.5 297.8h.01M430.5 302.1h.01M436.9 301.9h.01M445.7 298.1h.01M428.6 302.1h.01M439.2 310.0h.01M433.6 297.6h.01M428.0 305.8h.01M433.5 301.9h.01M442.7 296.9h.01M435.0 301.9h.01M436.1 299.1h.01M430.6 301.7h.01M439.8 299.9h.01M438.8 295.7h.01M437.3 304.3h.01M426.9 301.1h.01M434.0 302.9h.01M443.4 302.6h.01M432.2 301.4h.01M436.1 304.3h.01M436.0 300.4h.01M431.4 299.7h.01M427.2 300.6h.01M429.5 304.2h.01M424.7 302.2h.01M424.9 304.3h.01M436.4 305.7h.01M438.3 299.0h.01M434.3 300.2h.01M429.9 299.0h.01M431.6 302.3h.01M435.7 309.2h.01M432.7 302.3h.01M433.3 301.3h.01M431.7 302.2h.01M432.5 304.1h.01M437.3 299.4h.01M434.0 302.9h.01M431.9 301.3h.01M433.3 303.8h.01M435.4 300.4h.01M433.7 305.6h.01M426.7 303.9h.01M432.1 312.7h.01M438.9 302.2h.01M433.2 297.6h.01M430.1 307.8h.01M436.8 301.2h.01M434.0 302.1h.01M426.7 302.3h.01M437.9 297.8h.01M432.2 294.2h.01M443.4 307.4h.01M431.5 305.1h.01M436.5 302.3h.01M438.6 300.7h.01M441.5 301.0h.01M442.5 302.5h.01M435.8 298.8h.01M437.8 295.9h.01M444.5 301.1h.01M424.6 302.1h.01M432.0 305.4h.01M440.9 304.7h.01M430.5 305.6h.01M433.5 302.3h.01M437.4 302.8h.01M433.5 302.2h.01M425.7 304.9h.01M432.9 304.4h.01M428.5 300.0h.01M434.6 304.9h.01M430.2 301.2h.01M430.6 305.1h.01M439.4 302.1h.01M440.4 304.9h.01M429.3 299.9h.01M439.3 308.1h.01M440.0 299.7h.01M440.6 302.7h.01M424.5 300.7h.01M436.9 299.5h.01M438.5 302.9h.01M431.7 303.1h.01M431.3 302.6h.01M426.4 306.0h.01M432.0 305.3h.01M450.4 306.5h.01M433.9 302.5h.01M433.7 302.9h.01M427.7 296.8h.01M436.5 302.1h.01M445.7 307.2h.01M439.9 305.4h.01M435.0 302.2h.01M428.7 303.6h.01M436.7 299.5h.01M440.6 306.2h.01M433.7 302.4h.01M439.1 304.8h.01M440.7 299.5h.01M426.9 300.4h.01M432.6 300.1h.01M427.6 304.5h.01M436.6 304.4h.01M432.8 300.8h.01M427.4 302.7h.01M438.5 304.4h.01M433.5 298.7h.01M438.4 299.9h.01M433.1 299.2h.01M447.9 306.3h.01M427.6 298.7h.01M433.6 303.8h.01M443.6 301.8h.01M424.6 302.9h.01M436.1 297.5h.01M432.0 301.2h.01M426.5 302.6h.01M442.1 304.9h.01M427.2 300.3h.01M439.3 301.1h.01M431.3 308.3h.01M427.6 301.9h.01M447.1 301.6h.01M431.8 302.5h.01M431.7 303.1h.01M453.4 300.0h.01M432.4 301.8h.01M433.5 296.4h.01M431.9 302.5h.01M427.2 305.1h.01M429.5 297.7h.01M440.1 301.6h.01M435.1 297.4h.01M432.8 301.6h.01M444.5 306.4h.01M435.0 301.7h.01M448.5 302.2h.01M441.7 300.6h.01M433.2 301.2h.01M428.7 303.1h.01M427.7 301.7h.01M437.1 308.0h.01M439.0 301.0h.01M440.6 303.5h.01M437.7 300.8h.01M432.4 301.3h.01M426.4 302.5h.01M425.9 299.3h.01M429.7 299.5h.01M440.1 300.8h.01M436.5 301.5h.01M436.7 302.5h.01M441.6 297.8h.01M440.8 301.3h.01M434.9 305.7h.01M441.6 304.8h.01M449.3 305.1h.01M429.4 298.3h.01M440.4 297.1h.01M431.3 301.0h.01M428.6 305.9h.01M436.4 301.4h.01M440.8 300.8h.01M443.1 307.8h.01M433.0 301.5h.01M442.8 296.4h.01M424.4 299.1h.01M436.2 301.9h.01M433.8 304.6h.01M442.2 305.5h.01M432.9 302.0h.01M445.2 303.2h.01M444.0 300.6h.01M433.6 300.2h.01M433.8 303.2h.01M430.6 307.6h.01M425.7 302.8h.01M428.1 302.2h.01M434.5 299.7h.01M424.7 300.0h.01M434.1 304.3h.01M446.2 297.1h.01M437.4 300.6h.01M434.1 302.9h.01M440.0 303.1h.01M433.8 306.4h.01M436.1 302.0h.01M442.6 298.7h.01M426.8 306.1h.01M432.4 296.9h.01M440.0 305.4h.01M428.1 298.3h.01M433.5 303.0h.01M429.4 299.4h.01M437.9 303.5h.01M431.4 300.2h.01M435.5 303.4h.01M448.0 303.0h.01M440.9 297.5h.01M428.6 305.0h.01M438.0 302.3h.01M433.0 298.6h.01M425.7 300.4h.01M430.6 305.4h.01M426.1 300.2h.01M433.8 305.0h.01M448.4 303.5h.01M427.4 302.6h.01M436.0 301.8h.01M425.6 302.9h.01M424.7 301.7h.01M431.5 294.6h.01M438.4 308.0h.01M431.1 300.2h.01M440.9 298.2h.01M434.0 302.6h.01M429.6 301.7h.01M427.4 300.3h.01M438.9 299.5h.01M429.5 300.0h.01M437.7 300.9h.01M427.4 302.9h.01M436.0 307.2h.01M430.1 302.9h.01M435.3 303.6h.01M428.2 307.4h.01M426.6 306.2h.01M425.7 304.2h.01M444.0 308.1h.01M433.0 297.3h.01M440.2 299.9h.01M425.7 300.3h.01M427.0 304.1h.01M435.3 303.9h.01M440.4 300.9h.01M439.2 305.4h.01M448.0 302.4h.01M431.9 299.3h.01M430.9 302.0h.01M435.8 298.1h.01M430.9 301.4h.01M429.4 300.2h.01M436.6 299.2h.01M437.5 298.9h.01M435.6 298.8h.01M442.9 304.1h.01M444.1 299.6h.01M432.2 305.0h.01M439.3 303.9h.01M424.6 305.1h.01M439.5 300.4h.01M432.9 306.5h.01M435.6 301.8h.01M446.0 306.4h.01M436.8 303.7h.01M443.4 299.9h.01M437.0 300.8h.01M426.6 303.4h.01M442.3 307.3h.01M439.8 305.2h.01M432.6 297.7h.01M429.1 303.1h.01M429.5 307.5h.01M443.3 301.4h.01M447.2 303.9h.01M446.5 301.5h.01M440.0 301.3h.01M434.1 305.3h.01M448.6 302.4h.01M436.3 299.5h.01M432.4 303.4h.01M424.5 300.8h.01M425.5 302.6h.01M440.8 303.0h.01M431.9 299.1h.01M445.6 301.3h.01M433.5 300.7h.01M425.4 305.1h.01M439.5 297.8h.01M424.6 305.9h.01M427.3 301.9h.01M426.2 302.9h.01M428.1 300.3h.01M425.6 307.5h.01M453.9 302.7h.01M439.2 303.7h.01M434.1 301.8h.01M431.3 304.3h.01M424.7 299.6h.01M439.5 298.0h.01M446.5 301.2h.01M435.5 305.8h.01M433.7 302.4h.01M429.6 303.5h.01M439.4 299.5h.01M439.1 304.8h.01M437.7 299.9h.01M441.2 306.0h.01M430.3 296.8h.01M428.7 302.1h.01M444.1 305.5h.01M439.3 300.2h.01M439.9 302.0h.01M426.2 296.9h.01M441.8 297.3h.01M443.7 308.5h.01M434.3 299.6h.01M429.2 300.1h.01M437.0 304.9h.01M428.3 301.1h.01M429.1 305.3h.01M441.6 299.6h.01M431.7 302.5h.01M435.1 298.0h.01M435.7 302.2h.01M429.8 305.0h.01M426.9 303.2h.01M432.1 305.2h.01M428.0 303.8h.01M438.8 305.3h.01M446.5 297.6h.01M433.5 298.9h.01M441.6 306.0h.01M431.8 302.7h.01M444.1 302.6h.01M433.1 297.3h.01M428.6 304.9h.01M435.7 302.0h.01M440.2 299.9h.01M444.7 300.8h.01M441.9 300.3h.01M436.1 301.1h.01M447.0 299.0h.01M429.2 306.2h.01M440.3 301.9h.01M432.1 298.3h.01M432.0 303.1h.01M443.3 304.7h.01M445.3 303.1h.01M428.6 301.0h.01M445.9 302.3h.01M445.0 297.4h.01M430.3 299.7h.01M436.1 299.7h.01M437.4 298.7h.01M433.7 299.5h.01M431.4 302.7h.01M437.7 303.3h.01M428.2 306.5h.01M436.6 300.1h.01M444.5 300.9h.01M449.3 304.5h.01M433.3 300.6h.01M427.6 299.8h.01M432.0 306.0h.01M435.5 301.8h.01M437.5 301.1h.01M424.4 297.7h.01M445.3 301.2h.01M446.7 307.6h.01M436.4 304.3h.01M431.4 301.7h.01M434.9 302.1h.01M446.0 301.8h.01M441.3 302.4h.01M439.1 307.5h.01M429.3 302.7h.01M431.6 300.7h.01M451.1 304.7h.01M432.4 296.6h.01M439.5 306.8h.01M437.7 297.0h.01M430.1 302.9h.01M433.7 305.4h.01M426.6 300.2h.01M439.3 300.8h.01M426.6 298.8h.01M442.9 304.2h.01M434.7 300.3h.01M433.7 298.1h.01M437.2 299.2h.01M430.0 303.0h.01M427.0 297.8h.01M442.2 296.8h.01M428.2 301.6h.01M445.3 305.6h.01M441.1 301.8h.01M435.8 300.3h.01M442.7 302.9h.01M433.8 304.6h.01M436.6 305.4h.01M430.6 296.6h.01M437.9 304.7h.01M427.7 302.7h.01M439.8 293.7h.01M453.8 304.4h.01M432.4 298.5h.01M431.4 304.1h.01M428.6 301.0h.01M439.3 299.1h.01M433.4 301.4h.01M437.9 304.6h.01M432.5 306.2h.01M430.1 300.8h.01M434.7 301.2h.01M440.3 293.3h.01M445.4 304.5h.01M428.3 303.2h.01M446.0 304.0h.01M451.4 300.5h.01M443.4 302.3h.01M436.6 302.8h.01M440.3 306.1h.01M434.6 303.2h.01M433.2 302.9h.01M427.5 305.1h.01M439.8 303.0h.01M434.0 300.0h.01M426.4 298.6h.01M427.7 304.8h.01M437.6 297.7h.01M426.2 306.1h.01M447.7 304.6h.01M451.4 300.0h.01M437.8 300.1h.01M452.3 303.4h.01M437.7 303.3h.01M428.8 302.0h.01M426.2 304.6h.01M445.3 303.0h.01M426.1 298.8h.01M440.5 301.4h.01M432.4 298.9h.01M436.5 302.8h.01M441.1 299.3h.01M434.3 297.9h.01M436.4 302.2h.01M431.6 305.0h.01M437.9 304.0h.01M436.9 300.1h.01M430.1 305.2h.01M434.5 303.2h.01M431.8 304.8h.01M440.0 298.3h.01M450.6 305.4h.01M441.4 303.3h.01M434.2 304.9h.01M455.7 302.0h.01M425.8 302.2h.01M435.3 305.2h.01M424.7 300.9h.01M432.1 305.2h.01M443.7 302.9h.01M443.3 302.6h.01M435.5 295.3h.01M427.3 298.8h.01M438.2 302.4h.01M425.8 302.3h.01M433.5 303.4h.01M430.0 300.0h.01M444.3 301.4h.01M442.6 299.5h.01M432.5 301.2h.01M426.5 304.3h.01M434.6 305.5h.01M450.6 300.0h.01M434.4 298.2h.01M430.6 302.3h.01M434.6 304.5h.01M438.3 305.1h.01M428.8 302.5h.01M425.9 301.6h.01M434.6 300.7h.01M430.9 296.9h.01M429.0 300.3h.01M435.9 303.4h.01M430.6 301.6h.01M437.0 299.4h.01M442.3 308.2h.01M437.2 300.6h.01M435.9 305.6h.01M444.3 298.0h.01M436.7 299.9h.01M430.6 302.9h.01M438.4 301.2h.01M427.3 301.5h.01M425.9 307.3h.01M435.0 302.1h.01M425.8 300.6h.01M431.4 300.4h.01M432.2 302.4h.01M430.5 303.3h.01M439.9 300.4h.01M439.9 302.2h.01M429.6 303.4h.01M442.9 301.1h.01M442.0 298.7h.01M432.9 303.4h.01M439.7 304.4h.01M445.9 298.8h.01M441.5 308.8h.01M439.5 299.8h.01M435.2 299.8h.01M435.8 304.7h.01M441.9 303.2h.01M435.1 303.6h.01M433.6 301.9h.01M424.5 300.1h.01M429.0 308.4h.01M441.8 298.8h.01M428.4 300.2h.01M429.0 300.3h.01M439.1 303.8h.01M434.5 303.3h.01M430.8 295.9h.01M434.6 301.9h.01M442.7 298.8h.01M432.0 299.8h.01M447.1 297.4h.01M442.0 294.2h.01M441.0 300.4h.01M433.0 297.0h.01M436.4 301.7h.01M437.4 297.6h.01M427.5 298.9h.01M434.5 300.2h.01M425.5 306.0h.01M429.3 305.1h.01M440.2 299.7h.01M439.0 305.4h.01M436.7 303.1h.01M428.5 299.6h.01M459.4 305.3h.01M437.3 296.4h.01M431.3 303.5h.01M447.0 306.7h.01M430.8 300.9h.01M429.9 302.5h.01M440.5 298.7h.01M432.2 300.1h.01M427.4 300.3h.01M448.4 307.1h.01M445.5 296.8h.01M436.1 309.1h.01M437.0 299.7h.01M438.5 301.1h.01M430.4 302.6h.01M437.5 301.4h.01M433.5 298.8h.01M433.3 304.0h.01M434.4 301.3h.01M430.8 304.3h.01M442.1 300.9h.01M425.8 299.1h.01M436.0 307.9h.01M439.1 301.5h.01M444.6 301.3h.01M440.6 303.0h.01M448.0 300.9h.01M439.9 303.5h.01M431.6 300.8h.01M441.8 300.0h.01M429.4 304.5h.01M441.3 306.6h.01M429.1 297.9h.01M442.6 297.3h.01M430.5 301.3h.01M447.7 302.0h.01M444.5 296.5h.01M434.8 298.9h.01M432.1 302.1h.01M424.5 300.2h.01M445.5 302.9h.01M442.8 301.8h.01M429.3 302.9h.01M426.4 303.0h.01M431.3 301.0h.01M431.6 299.1h.01M444.8 297.4h.01M435.6 298.1h.01M441.1 301.3h.01M435.3 303.3h.01M436.7 302.5h.01M436.8 303.0h.01M430.1 301.0h.01M431.9 299.8h.01M429.5 305.9h.01M429.6 303.8h.01M433.8 301.4h.01M438.3 307.1h.01M432.9 301.8h.01M429.5 308.0h.01M443.2 305.3h.01M434.1 296.2h.01M437.7 296.6h.01M428.8 304.8h.01M429.2 299.9h.01M437.2 300.5h.01M436.7 297.1h.01M426.4 302.5h.01M440.9 301.8h.01M442.7 300.1h.01M435.8 303.2h.01M429.4 302.0h.01M434.1 303.8h.01M444.2 300.5h.01M437.6 301.5h.01M427.5 299.6h.01M433.3 301.9h.01M427.8 310.1h.01M433.6 303.9h.01M431.6 310.3h.01M435.3 305.5h.01M433.3 298.9h.01M446.3 303.9h.01M431.7 301.2h.01M431.7 302.4h.01M428.9 303.4h.01M436.4 298.7h.01M444.5 304.2h.01M426.5 298.7h.01M428.2 302.9h.01M443.8 299.2h.01M427.5 303.4h.01M433.3 301.7h.01M432.7 300.9h.01M447.6 304.8h.01M431.1 305.6h.01M448.7 303.3h.01M436.1 300.4h.01M434.7 302.5h.01M444.1 299.1h.01M436.6 295.9h.01M432.1 299.5h.01M424.7 302.3h.01M442.9 297.8h.01M435.5 301.4h.01M438.8 301.9h.01M428.6 304.5h.01M437.0 298.8h.01M435.2 304.2h.01M429.0 300.7h.01M434.5 300.1h.01M432.7 298.9h.01M426.4 302.6h.01M443.0 300.1h.01M429.6 299.3h.01M429.1 298.4h.01M433.7 304.7h.01M439.7 300.9h.01M433.2 298.6h.01M431.4 303.7h.01M439.3 305.7h.01M436.3 306.3h.01M433.3 305.4h.01M433.1 298.6h.01M435.8 300.2h.01M432.9 303.3h.01M439.4 303.6h.01M440.9 297.1h.01M442.4 299.2h.01M434.0 300.5h.01M425.2 300.1h.01M444.8 295.0h.01M429.9 304.0h.01M433.1 300.3h.01M438.8 299.6h.01M428.9 302.4h.01M424.5 297.4h.01M448.5 305.2h.01M428.2 300.2h.01M425.4 301.7h.01M441.5 301.5h.01M433.1 292.1h.01M435.7 298.1h.01M431.3 302.8h.01M434.2 303.9h.01M445.5 294.9h.01M437.2 299.6h.01M431.3 301.8h.01M441.8 300.8h.01M433.4 297.8h.01M445.1 303.1h.01M429.7 297.8h.01M433.3 304.4h.01M451.9 307.5h.01M430.5 300.6h.01M425.7 303.2h.01M427.5 303.6h.01M436.2 303.1h.01M425.8 305.3h.01M432.0 298.2h.01M433.3 302.4h.01M434.1 304.7h.01M443.3 308.7h.01M432.9 305.5h.01M433.5 305.7h.01M431.8 303.5h.01M438.8 300.1h.01M429.2 293.2h.01M438.2 301.4h.01M431.9 305.6h.01M436.6 302.6h.01M431.4 304.9h.01M429.8 298.2h.01M431.9 307.5h.01M426.8 305.8h.01M432.4 295.8h.01M438.8 309.0h.01M437.4 298.7h.01M432.0 299.3h.01M456.8 303.6h.01M437.4 298.8h.01M428.9 301.7h.01M447.6 300.3h.01M427.7 304.8h.01M428.7 298.8h.01M432.7 304.4h.01M435.0 300.8h.01M445.3 306.1h.01M426.4 301.3h.01M435.1 301.7h.01M434.4 303.3h.01M436.2 305.7h.01M435.4 300.7h.01M438.3 301.0h.01M440.0 302.9h.01M439.3 300.4h.01M438.3 306.2h.01M431.2 300.5h.01M443.7 302.3h.01M424.5 300.7h.01M444.4 303.0h.01M448.8 303.9h.01M436.0 305.1h.01M429.0 305.2h.01M433.2 301.2h.01M437.1 300.6h.01M424.9 299.3h.01M438.1 302.9h.01M434.6 304.1h.01M426.8 300.8h.01M447.0 299.1h.01M444.2 301.2h.01M438.2 302.7h.01M432.0 302.3h.01M441.7 299.9h.01M426.4 304.6h.01M430.8 301.5h.01M432.5 300.7h.01M430.3 298.0h.01M429.5 302.7h.01M447.8 300.4h.01M444.7 300.6h.01M437.7 301.2h.01M440.0 302.4h.01M430.9 297.4h.01M441.9 297.5h.01M429.2 307.3h.01M435.9 302.3h.01M435.1 302.7h.01M431.3 303.0h.01M432.8 301.0h.01M437.8 303.9h.01M436.9 304.9h.01M448.9 307.2h.01M434.9 298.8h.01M443.2 302.4h.01M440.3 301.0h.01M440.9 298.7h.01M435.5 298.1h.01M450.2 301.3h.01M441.9 306.2h.01M425.3 303.2h.01M444.7 301.6h.01M437.4 301.5h.01M431.9 306.2h.01M428.2 302.2h.01M438.9 302.2h.01M441.0 296.3h.01M443.3 298.6h.01M432.6 301.1h.01M438.1 301.6h.01M431.0 304.2h.01M450.6 300.3h.01M429.1 300.4h.01M424.7 298.5h.01M430.6 304.2h.01M430.3 299.7h.01M433.4 299.8h.01M455.6 306.7h.01M434.5 297.1h.01M429.8 299.4h.01M427.3 295.7h.01M430.1 300.3h.01M428.9 298.3h.01M437.1 299.5h.01M440.5 305.6h.01M425.2 301.6h.01M438.5 304.7h.01M430.4 302.9h.01M430.7 296.7h.01M441.3 301.8h.01M437.4 301.4h.01M427.2 300.6h.01M436.7 298.3h.01M446.1 308.7h.01M430.6 303.8h.01M435.5 301.5h.01M441.1 302.3h.01M445.7 303.0h.01M434.1 300.4h.01M424.5 307.8h.01M433.6 302.0h.01M433.2 305.3h.01M447.4 300.2h.01M428.5 305.5h.01M442.6 303.0h.01M439.9 301.1h.01M434.0 302.1h.01M440.3 299.4h.01M429.9 303.0h.01M439.8 302.1h.01M430.6 303.3h.01M435.2 299.2h.01M431.7 301.0h.01M439.4 298.2h.01M427.9 300.9h.01M434.4 309.0h.01M432.8 305.2h.01M440.3 305.9h.01M447.7 303.8h.01M426.6 301.0h.01M445.9 308.4h.01M444.2 309.1h.01M439.6 299.6h.01M435.0 302.9h.01M441.4 304.6h.01M427.3 305.5h.01M429.8 302.9h.01M439.3 304.1h.01M438.3 300.5h.01M433.2 304.8h.01M430.6 298.6h.01M427.1 302.1h.01M425.8 300.8h.01M431.2 304.8h.01M427.3 298.5h.01M435.0 304.5h.01M427.0 303.5h.01M434.2 303.5h.01M432.1 302.6h.01M428.8 301.7h.01M444.8 302.6h.01M434.6 303.0h.01M429.4 346.1h.01M430.6 331.3h.01M434.5 339.8h.01M427.9 337.9h.01M427.7 326.5h.01M427.0 344.4h.01M432.0 334.4h.01M432.6 329.4h.01M424.3 338.5h.01M435.4 338.8h.01M425.9 330.8h.01M427.6 327.6h.01M429.1 329.6h.01M437.6 332.8h.01M437.9 339.2h.01M427.4 340.5h.01M426.6 349.5h.01M431.5 345.4h.01M424.9 329.1h.01M436.4 333.9h.01M429.0 334.8h.01M437.9 326.0h.01M434.4 351.4h.01M433.9 345.8h.01M437.6 351.1h.01M437.4 329.6h.01M428.5 350.6h.01M428.5 333.7h.01M431.8 333.7h.01M425.9 347.1h.01M434.6 336.3h.01M440.1 342.1h.01M432.0 334.3h.01M429.0 332.2h.01M435.0 346.3h.01M432.8 348.3h.01M424.6 338.7h.01M437.3 344.2h.01M429.7 323.7h.01M430.6 326.6h.01M425.4 347.3h.01M435.4 327.8h.01M439.0 349.7h.01M429.8 351.1h.01M432.1 349.4h.01M434.9 351.4h.01M431.9 345.8h.01M432.6 335.9h.01M429.0 325.6h.01M436.9 345.3h.01M437.2 326.1h.01M436.8 348.9h.01M426.2 335.0h.01M435.8 340.0h.01M431.5 335.5h.01M427.7 345.9h.01M433.2 349.7h.01M438.6 349.0h.01M431.8 343.7h.01M443.4 338.2h.01M431.0 350.1h.01M432.9 337.5h.01M438.3 349.1h.01M436.5 340.7h.01M433.2 348.5h.01M433.7 346.8h.01M437.0 332.6h.01M437.3 331.1h.01M429.0 338.1h.01M429.0 327.7h.01M426.4 336.2h.01M428.4 349.4h.01M430.7 343.4h.01M427.8 342.2h.01M429.2 338.0h.01M432.5 348.5h.01M434.8 328.4h.01M431.7 347.4h.01M433.8 338.0h.01M430.8 338.4h.01M431.2 333.8h.01M428.3 328.3h.01M436.5 348.2h.01M436.4 341.8h.01M427.6 342.4h.01M424.5 333.2h.01M434.9 330.1h.01M434.7 351.3h.01M437.4 347.4h.01M430.8 331.7h.01M432.5 348.4h.01M427.4 329.1h.01M436.0 329.7h.01M429.9 341.7h.01M435.6 349.0h.01M429.5 338.7h.01M428.9 327.0h.01M428.9 350.1h.01M429.5 349.1h.01M429.8 335.6h.01M431.7 339.1h.01M437.4 331.1h.01M429.5 337.7h.01M432.0 339.5h.01M436.4 338.1h.01M435.3 347.9h.01M439.2 331.9h.01M436.9 351.7h.01M439.0 342.4h.01M434.4 350.1h.01M440.5 349.3h.01M427.0 331.4h.01M430.4 349.1h.01M440.4 348.3h.01M424.6 328.9h.01M424.8 337.5h.01M435.4 349.0h.01M431.0 332.3h.01M425.9 331.2h.01M437.9 335.2h.01M437.3 333.9h.01M427.1 335.6h.01M437.3 333.9h.01M438.1 331.3h.01M427.4 335.1h.01M436.4 330.7h.01M436.6 332.9h.01M424.4 332.3h.01M428.8 345.1h.01M429.4 333.9h.01M425.1 348.2h.01M436.4 345.5h.01M441.5 331.6h.01M430.4 337.1h.01M426.8 330.9h.01M441.1 327.0h.01M431.6 345.1h.01M438.3 350.9h.01M438.2 335.9h.01M424.6 333.9h.01M428.3 349.2h.01M434.6 329.5h.01M435.8 340.5h.01M427.2 349.6h.01M428.3 342.0h.01M434.1 335.5h.01M426.0 340.4h.01M426.7 340.6h.01M434.7 349.8h.01M442.2 325.9h.01M425.4 339.4h.01M431.5 344.1h.01M430.2 331.5h.01M430.9 338.5h.01M426.0 331.6h.01M428.7 334.4h.01M435.2 329.3h.01M441.3 347.8h.01M440.0 327.6h.01M438.6 347.2h.01M438.4 334.0h.01M438.5 329.4h.01M428.1 332.7h.01M436.0 345.3h.01M435.7 332.0h.01M439.2 345.9h.01M433.9 345.3h.01M426.6 350.4h.01M430.9 336.4h.01M439.8 344.9h.01M435.3 351.8h.01M432.6 337.0h.01M424.3 329.6h.01M433.0 327.9h.01M441.0 341.4h.01M428.7 351.8h.01M435.0 347.3h.01M435.8 333.8h.01M440.0 338.3h.01M437.3 350.6h.01M436.7 346.7h.01M427.6 341.6h.01M429.9 328.3h.01M436.4 345.4h.01M425.5 344.8h.01M429.5 325.6h.01M440.9 349.7h.01M439.5 338.8h.01M439.4 329.7h.01M424.6 334.3h.01M428.1 335.8h.01M433.3 342.8h.01M433.3 332.9h.01M430.7 337.8h.01M439.9 331.2h.01M433.8 325.3h.01M430.6 328.4h.01M429.8 333.3h.01M425.8 343.3h.01M427.1 328.8h.01M438.2 328.7h.01M424.8 338.8h.01M431.3 348.9h.01M424.8 344.0h.01M432.1 341.3h.01M429.4 329.4h.01M429.7 324.1h.01M436.7 348.0h.01M431.3 340.3h.01M435.3 334.9h.01M434.5 337.5h.01M427.3 330.6h.01M428.1 334.5h.01M437.0 346.8h.01M436.0 342.4h.01M425.4 349.5h.01M428.2 329.5h.01M425.7 337.8h.01M429.1 343.3h.01M433.5 331.6h.01M432.6 343.9h.01M436.0 337.2h.01M436.4 339.5h.01M424.6 325.6h.01M432.0 348.8h.01M437.0 349.6h.01M440.7 337.2h.01M436.4 339.2h.01M427.5 348.9h.01M424.6 343.7h.01M437.2 342.1h.01M436.8 343.7h.01M433.5 343.9h.01M433.5 338.4h.01M438.8 351.1h.01M426.9 348.0h.01M426.2 342.9h.01M437.2 329.4h.01M429.9 349.8h.01M429.7 324.9h.01M435.4 349.7h.01M435.8 328.0h.01M426.7 333.6h.01M440.2 330.4h.01M437.0 334.5h.01M441.1 346.4h.01M439.2 339.6h.01M433.4 327.4h.01M430.1 339.9h.01M435.7 330.4h.01M433.9 326.4h.01M428.7 330.8h.01M431.7 341.1h.01M430.8 342.5h.01M430.5 334.8h.01M439.3 328.3h.01M432.5 329.3h.01M428.5 326.6h.01M438.2 337.9h.01M437.9 341.8h.01M433.1 333.4h.01M426.2 326.0h.01M430.4 343.5h.01M435.9 333.4h.01M434.0 343.5h.01M424.7 334.9h.01M435.8 350.7h.01M434.9 349.6h.01M428.9 345.9h.01M435.9 329.5h.01M439.5 338.3h.01M435.3 340.9h.01M427.9 347.7h.01M435.3 330.7h.01M438.4 346.6h.01M429.2 335.2h.01M439.6 347.9h.01M424.4 328.5h.01M440.2 351.4h.01M425.8 343.5h.01M430.5 328.6h.01M431.1 334.8h.01M441.6 347.2h.01M433.9 345.9h.01M427.9 328.5h.01M427.9 349.0h.01M437.5 349.2h.01M439.2 347.7h.01M429.3 341.8h.01M438.9 341.1h.01M436.2 339.3h.01M429.5 329.9h.01M428.1 338.6h.01M434.8 350.8h.01M437.8 344.3h.01M425.3 341.6h.01M436.4 328.8h.01M429.9 347.3h.01M427.0 331.0h.01M433.3 339.9h.01M432.6 343.3h.01M426.4 340.1h.01M428.7 333.0h.01M430.6 336.8h.01M434.5 340.5h.01M428.2 344.2h.01M427.3 345.2h.01M425.5 341.0h.01M430.7 326.1h.01M429.2 344.3h.01M434.1 346.4h.01M428.7 333.0h.01M424.9 334.1h.01M434.1 348.9h.01M425.7 326.5h.01M430.4 329.9h.01M434.9 340.8h.01M424.5 347.2h.01M428.0 346.5h.01M428.2 348.0h.01M430.2 347.5h.01M434.4 347.5h.01M424.3 351.1h.01M437.6 336.4h.01M426.9 341.6h.01M441.0 346.9h.01M428.3 335.0h.01M433.5 348.0h.01M426.7 342.5h.01M426.2 343.3h.01M430.0 334.7h.01M429.5 347.8h.01M431.0 329.7h.01M426.8 335.4h.01M425.2 333.7h.01M435.3 350.2h.01M441.0 334.9h.01M428.3 328.3h.01M432.7 351.7h.01M438.4 330.5h.01M428.3 345.3h.01M427.7 340.4h.01M434.9 338.3h.01M430.2 333.7h.01M430.1 345.4h.01M429.5 344.2h.01M430.3 346.6h.01M425.3 338.2h.01M428.0 332.6h.01M437.3 330.9h.01M434.4 337.1h.01M443.3 350.1h.01M427.1 329.0h.01M425.5 345.2h.01M426.5 332.7h.01M429.3 339.8h.01M437.6 350.2h.01M437.0 343.9h.01M430.8 347.5h.01M430.3 350.6h.01M427.5 345.3h.01M427.9 326.6h.01M432.1 331.4h.01M439.3 337.4h.01M431.7 351.0h.01M440.0 339.5h.01M431.4 341.2h.01M431.3 342.9h.01M436.3 334.7h.01M437.5 332.3h.01M435.4 337.1h.01M428.4 333.7h.01M435.5 339.4h.01M425.0 331.5h.01M440.5 334.9h.01M427.1 349.2h.01M425.7 346.3h.01M430.9 336.0h.01M425.1 329.8h.01M433.1 344.5h.01M434.7 343.4h.01M426.0 336.5h.01M425.9 331.7h.01M431.0 328.0h.01M438.6 335.7h.01M433.0 344.5h.01M437.0 345.1h.01M436.0 338.4h.01M427.6 327.5h.01M441.4 339.6h.01M432.1 341.4h.01M437.3 341.2h.01M430.4 337.1h.01M437.5 334.2h.01M438.0 341.0h.01M428.1 329.8h.01M425.4 337.8h.01M427.3 336.1h.01M431.5 344.5h.01M434.9 335.1h.01M435.1 331.3h.01M439.4 335.6h.01M437.5 348.2h.01M436.4 349.2h.01M438.2 339.0h.01M433.4 336.6h.01M436.2 335.2h.01M438.6 327.5h.01M433.7 350.0h.01M433.9 340.2h.01M430.3 338.8h.01M435.9 338.5h.01M438.7 330.4h.01M426.4 346.7h.01M434.4 337.2h.01M436.7 330.5h.01M424.5 342.1h.01M435.8 324.9h.01M433.9 337.3h.01M436.7 326.8h.01M444.3 346.9h.01M436.3 341.1h.01M432.5 348.4h.01M440.1 333.6h.01M432.7 345.6h.01M426.6 342.1h.01M437.8 323.4h.01M437.7 336.7h.01M427.4 339.8h.01M433.5 343.2h.01M437.1 338.6h.01M428.6 345.0h.01M427.4 328.4h.01M427.8 347.7h.01M424.7 334.7h.01M437.6 325.1h.01M440.5 333.6h.01M438.4 337.3h.01M439.5 334.7h.01M428.9 344.2h.01M426.9 341.0h.01M432.6 336.0h.01M434.7 336.0h.01M436.9 328.8h.01M434.6 333.4h.01M438.0 324.5h.01M438.8 333.9h.01M433.5 328.9h.01M433.7 326.5h.01M432.4 338.3h.01M438.0 347.2h.01M431.2 342.1h.01M432.6 341.7h.01M428.5 346.2h.01M428.4 342.2h.01M429.1 343.3h.01M434.3 340.1h.01M436.2 349.6h.01M439.2 329.3h.01M428.1 350.0h.01M427.8 350.7h.01M430.4 336.8h.01M439.2 347.7h.01M435.1 347.1h.01M437.9 337.1h.01M431.6 329.1h.01M428.3 342.4h.01M437.2 341.5h.01M438.6 328.7h.01M432.6 337.1h.01M441.2 351.6h.01M431.8 348.4h.01M424.4 340.4h.01M435.9 327.4h.01M427.9 340.6h.01M428.0 328.8h.01M438.5 348.4h.01M429.6 351.3h.01M427.8 348.1h.01M427.2 334.5h.01M429.9 328.9h.01M439.6 350.0h.01M440.9 329.9h.01M428.8 350.7h.01M438.5 330.1h.01M434.0 327.1h.01M430.3 345.5h.01M429.0 342.9h.01M429.1 342.9h.01M427.1 345.0h.01M428.4 345.3h.01M430.5 331.7h.01M425.8 350.3h.01M424.7 340.8h.01M425.3 329.0h.01M431.4 336.7h.01M432.1 325.2h.01M434.2 333.8h.01M438.3 333.6h.01M427.5 346.1h.01M435.4 342.1h.01M438.4 327.6h.01M436.2 338.2h.01M431.4 339.1h.01M427.2 347.9h.01M426.8 340.6h.01M431.5 347.3h.01M429.2 346.2h.01M429.2 347.7h.01M427.0 334.6h.01M431.7 349.6h.01M436.7 333.5h.01M442.9 336.9h.01M430.0 348.1h.01M440.8 340.3h.01M429.9 340.5h.01M428.0 327.1h.01M436.4 329.1h.01M437.3 348.8h.01M429.5 345.1h.01M435.2 338.4h.01M424.8 344.4h.01M430.0 345.3h.01M427.9 330.9h.01M428.1 348.4h.01M434.0 343.7h.01M428.2 344.4h.01M429.4 342.8h.01M436.4 335.2h.01M437.8 327.1h.01M431.7 346.0h.01M434.2 349.3h.01M431.4 340.3h.01M437.1 340.7h.01M425.8 349.6h.01M429.8 335.9h.01M430.5 328.7h.01M426.0 334.1h.01M429.3 333.9h.01M435.3 340.2h.01M431.1 332.9h.01M431.8 350.6h.01M431.2 326.7h.01M429.1 349.5h.01M428.4 336.6h.01M432.5 341.6h.01M427.3 334.1h.01M430.1 331.1h.01M438.1 335.6h.01M430.1 332.6h.01M427.8 329.3h.01M440.5 328.3h.01M435.7 331.0h.01M426.9 345.8h.01M440.2 342.6h.01M430.0 338.0h.01M427.6 335.0h.01M434.9 341.3h.01M431.0 343.6h.01M436.3 331.8h.01M437.2 331.2h.01M424.9 333.0h.01M436.7 351.4h.01M436.6 339.1h.01M432.6 350.4h.01M427.4 342.5h.01M428.5 351.1h.01M429.7 331.9h.01M434.2 337.5h.01M435.8 348.9h.01M432.0 330.2h.01M435.9 338.2h.01M425.6 332.7h.01M427.9 326.8h.01M429.7 333.8h.01M424.9 335.5h.01M427.9 327.0h.01M431.9 334.1h.01M436.8 339.1h.01M442.1 349.0h.01M437.2 335.1h.01M441.0 330.0h.01M424.7 328.9h.01M424.4 327.9h.01M431.6 330.9h.01M430.8 346.2h.01M424.7 338.5h.01M431.1 349.7h.01M432.1 345.4h.01M426.2 347.3h.01M427.9 348.1h.01M437.7 329.0h.01M433.1 343.5h.01M425.8 340.2h.01M434.9 342.6h.01M433.9 345.1h.01M441.8 331.1h.01M424.3 345.6h.01M431.1 342.6h.01M437.8 325.3h.01M432.2 345.1h.01M428.4 351.6h.01M430.6 339.2h.01M429.5 328.5h.01M431.5 335.5h.01M427.3 334.1h.01M435.8 327.8h.01M424.5 341.3h.01M430.8 342.0h.01M429.9 332.2h.01M439.4 327.5h.01M437.6 347.7h.01M437.7 341.3h.01M429.1 329.9h.01M430.4 347.2h.01M438.5 341.3h.01M424.3 343.7h.01M430.2 347.9h.01M433.1 342.8h.01M432.3 334.7h.01M426.2 335.7h.01M429.1 328.7h.01M438.0 332.0h.01M428.1 343.1h.01M434.7 345.2h.01M443.2 335.2h.01M436.0 339.8h.01M434.4 326.4h.01M437.7 347.8h.01M436.8 326.4h.01M432.7 333.4h.01M436.8 351.0h.01M429.9 339.5h.01M433.7 339.0h.01M436.5 348.8h.01M428.1 349.3h.01M430.9 335.7h.01M431.8 343.3h.01M434.8 338.4h.01M432.7 346.9h.01M434.8 329.1h.01M426.4 344.0h.01M438.3 328.9h.01M443.4 330.2h.01M438.2 331.7h.01M429.7 341.7h.01M426.9 347.4h.01M434.6 336.0h.01M442.5 347.3h.01M434.7 341.9h.01M426.8 340.2h.01M439.9 349.5h.01M435.7 346.5h.01M435.9 336.5h.01M424.8 344.9h.01M436.7 327.7h.01M439.7 343.2h.01M426.6 331.2h.01M427.3 331.3h.01M436.7 338.8h.01M430.3 330.8h.01M434.1 338.1h.01M435.8 329.9h.01M431.0 344.7h.01M431.3 336.7h.01M434.8 335.1h.01M428.2 328.0h.01M434.0 343.2h.01M425.0 334.2h.01M436.6 327.5h.01M435.8 350.0h.01M440.0 328.1h.01M431.2 329.8h.01M436.8 335.8h.01M425.8 344.9h.01M438.7 351.0h.01M428.4 338.4h.01M427.0 338.4h.01M429.6 325.8h.01M424.4 337.0h.01M426.6 349.2h.01M429.8 344.6h.01M425.0 347.8h.01M440.1 333.9h.01M426.5 332.1h.01M430.9 335.4h.01M425.6 337.8h.01M431.4 335.5h.01M425.2 350.1h.01M433.9 335.4h.01M435.5 338.5h.01M432.1 325.6h.01M430.1 327.3h.01M437.5 336.9h.01M424.4 343.1h.01M431.6 342.0h.01M437.0 330.5h.01M433.7 335.2h.01M436.6 333.4h.01M440.7 329.9h.01M424.5 338.0h.01M437.3 340.4h.01M441.8 337.1h.01M427.0 339.0h.01M433.9 348.6h.01M427.3 328.5h.01M428.5 326.6h.01M429.5 335.2h.01M424.8 339.6h.01M437.5 350.9h.01M436.8 349.1h.01M428.9 331.8h.01M440.5 345.2h.01M437.7 340.8h.01M431.7 342.9h.01M432.6 326.4h.01M435.1 335.1h.01M428.9 333.0h.01M432.2 329.2h.01M430.0 324.1h.01M432.2 342.1h.01M426.7 337.8h.01M435.3 343.4h.01M432.8 332.7h.01M428.7 326.1h.01M424.9 332.7h.01M434.4 347.4h.01M429.6 345.9h.01M434.5 344.2h.01M425.0 344.6h.01M430.1 337.1h.01M430.2 344.1h.01M429.6 347.3h.01M430.8 343.5h.01M431.4 348.6h.01M438.9 343.2h.01M434.3 332.1h.01M430.6 340.3h.01M431.3 342.5h.01M430.5 341.6h.01M436.0 328.1h.01M436.9 329.4h.01M432.7 350.9h.01M437.5 343.6h.01M435.3 335.5h.01M434.8 327.6h.01M438.2 340.8h.01M435.0 344.1h.01M424.4 327.3h.01M433.5 351.4h.01M435.9 331.1h.01M436.7 343.9h.01M424.4 331.9h.01M427.2 327.5h.01M424.9 331.9h.01M426.2 343.0h.01M429.7 348.9h.01M426.8 339.2h.01M427.4 331.0h.01M428.0 322.4h.01M430.7 344.0h.01M432.5 325.7h.01M435.6 335.7h.01M432.7 338.7h.01M429.5 341.5h.01M436.8 330.3h.01M439.5 334.4h.01M434.8 338.9h.01M434.9 349.4h.01M437.5 346.9h.01M442.0 347.6h.01M431.0 329.7h.01M424.8 345.4h.01M432.4 343.9h.01M431.7 325.9h.01M436.2 343.0h.01M434.7 327.2h.01M433.2 346.4h.01M425.9 332.6h.01M434.9 327.5h.01M429.4 350.7h.01M430.0 334.5h.01M429.6 341.5h.01M427.4 340.3h.01M438.0 346.1h.01M432.1 329.5h.01M425.6 343.3h.01M429.3 340.5h.01M436.0 337.7h.01M429.4 337.1h.01M439.0 331.4h.01M433.0 343.8h.01M441.4 344.7h.01M426.7 346.2h.01M425.7 341.4h.01M424.4 339.4h.01M428.7 336.7h.01M433.5 335.3h.01M442.1 337.5h.01M428.9 340.1h.01M438.2 345.8h.01M424.9 350.3h.01M431.8 351.0h.01M437.0 350.5h.01M428.2 350.9h.01M429.0 337.4h.01M430.1 340.3h.01M441.2 344.5h.01M430.8 350.0h.01M429.7 338.3h.01M431.0 339.9h.01M439.4 330.0h.01M429.3 343.0h.01M441.6 328.4h.01M441.7 346.6h.01M433.9 327.9h.01M434.0 332.0h.01M428.4 339.2h.01M427.4 329.7h.01M424.5 331.2h.01M434.0 329.3h.01M436.9 347.7h.01M426.0 341.3h.01M426.0 329.0h.01M442.0 341.0h.01M432.6 325.0h.01M425.6 335.0h.01M439.0 342.5h.01M433.0 347.3h.01M436.0 350.1h.01M438.8 351.7h.01M427.0 340.1h.01M436.3 340.8h.01M431.3 342.9h.01M432.7 329.3h.01M430.5 331.1h.01M428.7 338.7h.01M430.0 336.0h.01M425.9 333.4h.01M429.2 328.9h.01M431.5 349.5h.01M425.3 344.6h.01M441.5 328.6h.01M433.0 335.2h.01M426.2 346.9h.01M427.6 336.7h.01M427.6 347.8h.01M432.2 343.5h.01M429.2 343.1h.01M437.1 348.5h.01M431.2 349.0h.01M437.4 336.5h.01M427.8 350.5h.01M440.9 338.0h.01M440.4 339.2h.01M433.4 337.7h.01M429.5 338.7h.01M433.9 332.7h.01M438.6 331.6h.01M436.0 341.8h.01M428.0 328.4h.01M433.4 327.3h.01M437.3 347.5h.01M425.4 327.8h.01M426.8 351.5h.01M431.2 334.6h.01M430.4 350.4h.01M430.3 338.1h.01M436.0 334.9h.01M440.4 340.7h.01M431.4 344.9h.01M425.1 347.8h.01M434.1 350.9h.01M430.9 329.0h.01M435.9 332.0h.01M439.6 337.7h.01M432.3 331.0h.01M431.5 324.0h.01M435.5 337.5h.01M425.7 347.4h.01M431.2 348.0h.01M434.6 337.4h.01M429.4 342.3h.01M431.4 344.5h.01M431.4 325.0h.01M436.0 343.0h.01M428.3 328.8h.01M435.8 342.0h.01M425.6 340.7h.01M434.1 335.4h.01M431.0 350.1h.01M425.0 336.5h.01M436.4 332.6h.01M428.3 332.1h.01M431.2 329.8h.01M430.2 327.1h.01M436.4 343.1h.01M428.7 342.5h.01M438.3 345.4h.01M432.6 349.1h.01M438.2 335.4h.01M439.7 328.0h.01M425.9 336.4h.01M426.2 336.5h.01M426.1 325.5h.01M437.6 338.6h.01M426.8 351.8h.01M434.6 331.6h.01M426.3 338.8h.01M440.3 342.0h.01M429.1 338.7h.01M424.7 348.6h.01M427.3 341.1h.01M430.5 331.1h.01M430.2 331.7h.01M435.6 328.5h.01M425.5 329.9h.01M430.0 335.9h.01M431.1 347.8h.01M424.3 333.9h.01M426.9 330.6h.01M429.5 327.3h.01M429.9 340.6h.01M435.6 334.9h.01M441.6 338.5h.01M424.9 329.3h.01M436.8 326.6h.01M424.7 328.8h.01M427.6 335.3h.01M424.4 348.0h.01M424.5 351.5h.01M426.7 350.5h.01M430.5 335.6h.01M438.5 343.6h.01M436.3 324.2h.01M441.9 341.4h.01M430.7 322.6h.01M437.7 335.3h.01M434.7 341.3h.01M435.1 331.4h.01M439.5 332.6h.01M429.0 342.7h.01M437.9 333.7h.01M430.7 339.3h.01M424.9 333.4h.01M431.7 339.4h.01M431.9 326.0h.01M432.0 334.3h.01M435.2 345.8h.01M439.6 345.4h.01M434.2 335.5h.01M435.6 331.6h.01M435.5 335.4h.01M431.9 327.7h.01M435.9 346.4h.01M441.6 335.3h.01M427.7 336.9h.01M438.1 343.9h.01M427.4 329.8h.01M432.1 328.1h.01M441.3 340.9h.01M427.5 328.1h.01M442.6 346.5h.01M432.7 331.4h.01M431.4 339.4h.01M426.4 335.4h.01M435.5 344.7h.01M437.9 331.5h.01M434.5 324.2h.01M431.2 347.0h.01M437.0 325.2h.01M430.2 330.0h.01M435.1 335.3h.01M435.6 326.4h.01M438.5 334.5h.01M435.8 338.6h.01M433.4 336.2h.01M424.7 342.3h.01M425.3 335.1h.01M434.1 324.9h.01M433.8 345.0h.01M429.2 332.3h.01M427.1 334.7h.01M440.8 344.9h.01M425.7 349.1h.01M433.7 341.0h.01M430.3 347.1h.01M442.8 329.2h.01M440.0 342.9h.01M441.4 332.9h.01M432.1 349.6h.01M433.0 339.3h.01M424.6 330.9h.01M431.9 348.3h.01M437.6 328.9h.01M435.1 341.5h.01M428.5 343.2h.01M425.8 327.7h.01M429.6 344.1h.01M433.3 351.7h.01M436.1 344.1h.01M424.6 337.5h.01M436.2 333.3h.01M428.4 329.8h.01M435.3 341.3h.01M438.3 347.5h.01M440.6 336.5h.01M434.0 335.3h.01M432.2 337.0h.01M435.7 329.9h.01M432.9 326.1h.01M432.5 349.4h.01M443.0 331.6h.01M427.4 330.8h.01M424.4 346.6h.01M437.9 339.6h.01M439.0 340.7h.01M432.0 340.1h.01M426.5 348.3h.01M432.5 347.8h.01M439.2 339.9h.01M426.4 341.6h.01M435.6 350.8h.01M432.2 348.4h.01M431.6 350.5h.01M430.4 326.8h.01M428.9 342.1h.01M438.7 338.3h.01M429.1 335.9h.01M433.2 345.2h.01M434.0 346.7h.01M444.7 329.9h.01M436.7 328.0h.01M441.1 331.1h.01M429.8 328.5h.01M432.3 336.7h.01M431.8 338.9h.01M431.0 327.6h.01M440.3 340.2h.01M438.2 337.9h.01M432.0 335.1h.01M432.2 328.8h.01M437.8 331.2h.01M428.3 342.9h.01M437.5 332.5h.01M436.6 339.9h.01M428.1 334.2h.01M435.4 347.7h.01M439.9 348.9h.01M428.8 336.5h.01M427.0 348.3h.01M433.0 349.0h.01M427.9 345.0h.01M435.8 330.8h.01M434.0 337.6h.01M425.1 326.9h.01M428.1 333.6h.01M437.5 338.6h.01M434.3 341.7h.01M435.0 343.7h.01M437.2 338.1h.01M441.7 348.2h.01M430.5 348.1h.01M428.2 335.5h.01M436.4 346.6h.01M425.4 346.4h.01M427.4 336.2h.01M434.3 350.4h.01M427.5 336.1h.01M435.4 337.8h.01M428.4 331.1h.01M428.5 333.4h.01M431.8 339.8h.01M428.2 340.9h.01M429.6 346.1h.01M436.9 348.8h.01M428.1 330.2h.01M434.8 328.3h.01M434.6 332.6h.01M427.8 347.8h.01M437.9 336.2h.01M438.2 331.9h.01M433.2 345.6h.01M437.7 339.6h.01M441.0 344.1h.01M433.7 348.3h.01M434.2 341.8h.01M424.3 326.0h.01M436.8 336.0h.01M427.8 326.9h.01M437.1 351.1h.01M431.2 348.6h.01M426.3 329.9h.01M424.7 342.2h.01M438.2 330.6h.01M427.5 345.7h.01M426.0 342.9h.01M425.5 341.8h.01M432.6 350.2h.01M436.3 347.5h.01M437.7 328.6h.01M437.9 338.2h.01M426.6 343.0h.01M430.3 341.7h.01M427.4 331.3h.01M426.4 338.6h.01M438.7 325.6h.01M430.7 337.3h.01M431.6 330.2h.01M429.9 325.7h.01M434.8 345.0h.01M431.6 333.4h.01M435.7 342.9h.01M430.4 339.5h.01M437.5 343.1h.01M432.5 338.4h.01M433.5 334.4h.01M431.6 334.0h.01M438.1 342.3h.01M428.6 346.5h.01M433.1 340.2h.01M433.2 340.2h.01M429.4 348.5h.01M434.6 340.8h.01M424.9 343.7h.01M441.6 349.0h.01M436.2 335.5h.01M428.4 342.7h.01M432.9 335.1h.01M429.2 348.6h.01M441.2 329.6h.01M427.1 341.4h.01M433.1 342.9h.01M430.0 322.9h.01M442.8 339.3h.01M434.8 345.7h.01M434.6 345.4h.01M439.4 350.9h.01M426.0 336.6h.01M425.0 332.5h.01M426.7 343.7h.01M424.3 331.8h.01M433.0 334.7h.01M435.9 328.9h.01M435.6 343.1h.01M427.7 330.9h.01M436.3 346.3h.01M425.8 347.6h.01M428.9 347.6h.01M436.1 334.3h.01M434.1 327.9h.01M432.5 332.6h.01M435.6 343.0h.01M430.6 339.0h.01M430.5 340.9h.01M440.5 335.4h.01M435.9 336.0h.01M442.3 338.1h.01M431.1 333.5h.01M424.5 338.4h.01M424.9 339.1h.01M431.4 350.8h.01M439.8 337.0h.01M432.4 351.2h.01M441.2 345.6h.01M440.2 334.6h.01M429.3 343.0h.01M436.2 328.1h.01M435.0 351.5h.01M432.8 343.2h.01M426.1 349.3h.01M434.5 333.0h.01M433.8 341.0h.01M426.1 331.3h.01M434.7 329.3h.01M428.4 329.7h.01M429.7 344.7h.01M436.9 340.1h.01M429.8 330.5h.01M431.5 345.6h.01M430.6 337.8h.01M434.4 332.8h.01M426.9 326.4h.01M427.9 336.4h.01M426.7 341.2h.01M427.2 336.4h.01M437.4 335.6h.01M432.2 351.1h.01M435.9 348.3h.01M436.1 331.6h.01M433.3 340.5h.01M429.3 337.1h.01M426.3 332.9h.01M429.3 347.1h.01M434.8 333.3h.01M440.2 350.8h.01M433.5 330.5h.01M430.8 331.6h.01M439.3 338.7h.01M431.6 348.0h.01M428.4 333.4h.01M438.9 337.0h.01M437.4 337.6h.01M440.7 323.5h.01M435.4 333.0h.01M424.9 327.4h.01M435.1 332.3h.01M428.5 342.7h.01M432.8 345.0h.01M433.7 338.4h.01M438.1 333.1h.01M436.6 333.8h.01M437.9 339.6h.01M432.6 333.3h.01M430.7 329.7h.01M436.0 347.1h.01M424.5 332.6h.01M432.0 341.3h.01M426.5 338.6h.01M431.9 335.3h.01M429.0 340.0h.01M432.3 327.7h.01M431.7 331.0h.01M434.4 343.3h.01M426.0 350.6h.01M438.8 333.6h.01M440.0 336.3h.01M429.6 339.7h.01M424.3 328.4h.01M426.1 337.3h.01M438.4 345.6h.01M426.3 338.3h.01M438.6 330.9h.01M433.9 331.9h.01M436.4 342.6h.01M428.4 331.1h.01M427.4 330.2h.01M432.9 333.1h.01M430.1 344.3h.01M432.8 325.7h.01M430.2 336.3h.01M431.4 335.5h.01M430.8 332.4h.01M436.7 328.9h.01M436.9 346.4h.01M433.3 338.0h.01M426.4 349.1h.01M437.7 329.2h.01M426.9 337.2h.01M428.4 332.8h.01M430.8 338.8h.01M430.6 351.6h.01M435.3 327.4h.01M441.0 343.4h.01M432.2 345.6h.01M437.1 330.3h.01M434.2 335.9h.01M429.7 333.6h.01M434.7 331.9h.01M432.2 347.5h.01M433.1 336.4h.01M427.4 342.6h.01M434.8 331.5h.01M433.9 346.0h.01M439.4 326.7h.01M429.6 349.3h.01M424.3 326.3h.01M434.3 347.3h.01M436.2 327.4h.01M433.8 334.1h.01M438.3 328.2h.01M438.8 349.1h.01M427.1 336.9h.01M439.4 346.6h.01M429.1 337.5h.01M432.1 346.3h.01M437.2 335.9h.01M425.6 346.7h.01M424.5 340.5h.01M431.1 346.8h.01M434.3 330.3h.01M440.8 331.7h.01M437.8 327.0h.01M438.5 349.6h.01M430.8 344.1h.01M438.1 330.7h.01M429.4 335.2h.01M433.8 344.2h.01M432.6 342.7h.01M430.4 345.8h.01M424.8 350.7h.01M430.3 335.1h.01M429.7 328.6h.01M424.6 348.3h.01M427.2 345.9h.01M425.5 332.2h.01M443.2 344.9h.01M424.8 337.1h.01M424.9 343.4h.01M430.6 348.6h.01M430.6 335.4h.01M435.1 345.5h.01M427.1 345.2h.01M429.7 335.1h.01M437.9 351.8h.01M430.2 331.1h.01M436.1 336.5h.01M433.6 337.5h.01M439.4 331.5h.01M434.6 333.8h.01M434.4 343.9h.01M437.3 330.9h.01M433.9 331.3h.01M429.5 328.1h.01M438.4 333.7h.01M433.1 329.3h.01M439.5 341.1h.01M437.2 341.5h.01M436.3 340.9h.01M424.6 342.1h.01M445.0 347.3h.01M428.8 350.7h.01M433.7 348.5h.01M424.6 347.9h.01M441.7 338.8h.01M437.2 347.4h.01M425.4 347.3h.01M432.2 338.0h.01M427.1 330.4h.01M437.8 326.1h.01M426.2 341.4h.01M427.3 338.6h.01M435.9 345.1h.01M426.8 326.9h.01M437.2 347.3h.01M434.3 345.9h.01M432.3 346.0h.01M428.4 345.4h.01M430.7 339.2h.01M435.2 333.9h.01M434.2 334.5h.01M442.5 325.9h.01M425.3 336.7h.01M439.6 346.4h.01M427.4 337.9h.01M425.1 328.4h.01M430.7 347.7h.01M432.1 337.0h.01M430.4 336.9h.01M424.9 329.1h.01M430.7 331.5h.01M425.0 349.4h.01M426.6 328.8h.01M438.1 332.8h.01M436.1 339.2h.01M436.9 334.5h.01M433.4 347.4h.01M430.8 343.5h.01M438.4 329.3h.01M435.8 337.4h.01M424.5 324.4h.01M435.4 346.2h.01M430.9 348.8h.01M432.0 333.8h.01M429.4 328.6h.01M427.1 344.9h.01M425.5 347.4h.01M431.3 345.1h.01M428.0 335.0h.01M429.0 337.1h.01M438.8 341.7h.01M428.3 345.0h.01M424.9 341.5h.01M435.1 339.3h.01M441.3 332.2h.01M425.2 343.5h.01M426.3 337.1h.01M425.1 332.5h.01M433.0 328.6h.01M432.9 350.8h.01M437.9 328.2h.01M429.0 333.7h.01M426.8 330.9h.01M435.9 344.8h.01M427.0 333.1h.01M431.2 339.1h.01M424.6 345.0h.01M436.5 329.1h.01M426.6 339.6h.01M427.0 345.4h.01M425.6 346.2h.01M435.0 345.1h.01M430.3 333.8h.01M433.0 335.7h.01M426.9 328.7h.01M439.6 345.5h.01M438.3 325.3h.01M431.9 327.5h.01M434.5 329.9h.01M440.0 336.3h.01M434.0 348.9h.01M432.5 338.6h.01M435.2 341.6h.01M424.5 327.7h.01M427.5 341.6h.01M431.4 347.1h.01M430.1 326.5h.01M426.3 350.2h.01M433.0 339.7h.01M430.8 333.9h.01M429.3 345.5h.01M439.4 326.3h.01M424.5 337.3h.01M439.1 344.6h.01M437.0 337.3h.01M429.1 339.1h.01M433.4 339.4h.01M433.6 332.9h.01M433.1 346.3h.01M427.3 329.7h.01M433.5 346.7h.01M436.4 338.0h.01M436.7 327.4h.01M433.5 346.0h.01M428.6 340.9h.01M434.6 341.7h.01M434.1 337.8h.01M437.3 346.8h.01M432.5 347.9h.01M438.9 338.2h.01M427.8 348.0h.01M433.8 342.9h.01M426.6 341.6h.01M424.8 349.5h.01M434.0 328.6h.01M433.4 338.4h.01M440.3 340.6h.01M435.4 332.7h.01M435.6 328.1h.01M430.1 340.6h.01M432.1 327.2h.01M434.4 349.6h.01M426.2 328.4h.01M424.6 329.0h.01M429.0 351.6h.01M429.6 346.9h.01M442.4 343.3h.01M437.5 339.5h.01M438.9 347.6h.01M442.3 337.7h.01M440.4 347.7h.01M428.8 330.6h.01M426.9 338.5h.01M437.5 351.5h.01M438.6 336.4h.01M431.6 343.6h.01M438.8 339.2h.01M428.2 338.3h.01M440.4 346.2h.01M431.8 347.5h.01M427.9 346.6h.01M437.7 337.3h.01M431.2 330.9h.01M433.8 344.6h.01M439.6 336.7h.01M427.3 339.6h.01M429.8 335.1h.01M432.7 347.3h.01M427.6 338.2h.01M437.5 328.7h.01M442.2 338.6h.01M428.9 341.9h.01M439.0 350.0h.01M430.8 338.8h.01M432.0 344.2h.01M427.1 338.1h.01M436.7 341.3h.01M431.2 351.6h.01M432.7 340.6h.01M436.9 331.2h.01M429.2 337.9h.01M438.6 335.8h.01M424.3 338.3h.01M436.7 350.6h.01M434.4 351.0h.01M431.6 330.4h.01M436.8 342.3h.01M430.8 347.0h.01M432.5 324.6h.01M428.5 326.5h.01M442.8 342.5h.01M439.4 351.6h.01M425.9 347.3h.01M427.1 344.1h.01M429.2 344.7h.01M434.6 336.4h.01M440.8 335.5h.01M435.2 332.8h.01M429.6 333.9h.01M439.4 325.4h.01M435.3 342.6h.01M433.0 351.5h.01M429.6 340.8h.01M434.0 338.8h.01M425.3 337.9h.01M438.6 347.9h.01M429.4 328.6h.01M434.0 324.3h.01M429.5 338.4h.01M427.9 331.8h.01M430.0 343.1h.01M429.7 344.8h.01M426.1 340.7h.01M437.6 328.4h.01M430.8 331.6h.01M440.4 331.3h.01M439.6 346.0h.01M433.0 329.2h.01M432.7 327.4h.01M426.7 349.8h.01M425.1 339.3h.01M438.7 329.1h.01M435.7 336.2h.01M426.2 330.2h.01M432.7 348.2h.01M438.4 343.7h.01M425.7 347.9h.01M426.6 339.9h.01M430.2 333.5h.01M425.0 337.1h.01M438.2 343.4h.01M438.7 348.9h.01M431.1 350.4h.01M437.8 340.8h.01M433.2 334.6h.01M440.3 343.6h.01M438.7 351.4h.01M425.3 347.0h.01M437.8 350.0h.01M424.8 344.3h.01M425.6 343.5h.01M438.8 334.1h.01M436.9 343.0h.01M439.0 334.7h.01M430.2 350.2h.01M431.5 327.9h.01M425.9 325.9h.01M439.4 341.4h.01M437.7 331.7h.01M428.9 337.8h.01M427.8 329.2h.01M429.2 338.0h.01M435.3 348.6h.01M426.7 337.9h.01M438.7 332.2h.01M426.9 337.9h.01M433.5 335.7h.01M434.2 334.5h.01M424.8 326.9h.01M426.1 348.4h.01M428.4 332.0h.01M431.3 348.6h.01M426.3 336.9h.01M428.0 338.6h.01M430.2 332.1h.01M429.6 331.4h.01M427.2 325.2h.01M431.5 345.8h.01M434.1 350.0h.01M425.7 337.6h.01M426.1 335.9h.01M435.0 338.5h.01M439.5 343.6h.01M431.7 349.2h.01M439.1 351.5h.01M433.9 346.5h.01M430.9 348.0h.01M443.4 331.1h.01M427.1 333.0h.01M437.7 338.7h.01M438.0 345.5h.01M425.8 340.6h.01M438.5 332.6h.01M431.8 339.0h.01M430.7 348.9h.01M435.6 345.6h.01M438.2 332.4h.01M436.9 347.3h.01M430.2 325.7h.01M435.8 327.1h.01M434.6 337.2h.01M427.5 351.0h.01M435.2 348.2h.01M432.3 346.5h.01M430.4 326.1h.01M428.1 344.4h.01M439.5 346.0h.01M439.3 345.7h.01M433.6 330.5h.01M440.2 347.0h.01M437.9 335.0h.01M433.4 330.8h.01M431.2 343.5h.01M432.0 328.9h.01M427.9 348.1h.01M431.5 349.1h.01M430.0 330.7h.01M427.2 341.1h.01M432.5 331.8h.01M426.9 346.0h.01M438.5 341.2h.01M434.7 342.2h.01M433.3 338.2h.01M429.8 345.8h.01M437.8 336.4h.01M429.9 333.6h.01M430.6 339.3h.01M438.7 330.9h.01M439.3 346.5h.01M438.0 331.7h.01M434.5 344.9h.01M426.5 349.0h.01M429.8 345.2h.01M429.3 328.1h.01M433.0 345.8h.01M434.1 339.1h.01M432.2 330.0h.01M428.2 331.1h.01M438.6 350.6h.01M438.3 351.3h.01M432.1 337.9h.01M428.4 346.5h.01M438.5 329.7h.01M429.1 337.4h.01M434.7 329.3h.01M434.6 329.3h.01M425.6 335.0h.01M426.8 328.3h.01M427.6 344.9h.01M438.7 330.0h.01M437.6 342.7h.01M431.9 327.0h.01M430.9 349.2h.01M433.6 331.0h.01M438.7 331.7h.01M431.5 347.4h.01M424.3 340.0h.01M434.6 339.7h.01M439.8 347.2h.01M426.6 340.0h.01M428.9 350.1h.01M437.4 339.3h.01M430.7 329.6h.01M440.8 338.6h.01M429.8 333.1h.01M432.5 336.6h.01M432.6 348.9h.01M433.8 339.7h.01M425.9 345.6h.01M431.1 330.0h.01M438.5 351.4h.01M429.2 335.0h.01M441.3 339.4h.01M435.9 347.7h.01M435.7 345.7h.01M438.2 348.6h.01M442.0 342.6h.01M433.5 338.9h.01M429.2 340.6h.01M426.2 342.3h.01M430.0 336.5h.01M424.9 343.2h.01M442.3 335.9h.01M436.3 347.6h.01M428.8 338.6h.01M427.8 337.2h.01M428.4 350.1h.01M438.3 333.1h.01M441.7 331.3h.01M439.0 335.8h.01M425.0 335.1h.01M435.5 333.5h.01M427.6 340.8h.01M440.3 344.6h.01M436.7 320.1h.01M428.8 308.6h.01M425.6 319.1h.01M439.0 319.7h.01M426.5 303.9h.01M437.0 323.8h.01M432.1 315.1h.01M436.1 316.6h.01M431.8 304.3h.01M426.1 325.9h.01M425.5 326.3h.01M439.7 312.9h.01M425.3 318.9h.01M438.7 322.5h.01M427.2 320.1h.01M432.3 306.2h.01M441.5 328.2h.01M434.9 318.6h.01M427.9 324.2h.01M434.9 329.5h.01M424.9 316.6h.01M426.4 328.3h.01M440.8 307.1h.01M436.9 317.5h.01M446.3 324.4h.01M437.6 314.9h.01M433.3 312.8h.01M427.0 311.8h.01M439.5 328.6h.01M432.6 315.9h.01M435.8 307.5h.01M435.2 313.5h.01M431.5 328.6h.01M426.6 313.8h.01M429.7 324.1h.01M442.8 319.2h.01M436.5 313.1h.01M440.4 313.2h.01M431.2 316.9h.01M427.2 321.4h.01M435.0 323.8h.01M439.6 315.8h.01M435.5 312.2h.01M437.6 321.0h.01M435.4 315.9h.01M436.3 308.4h.01M426.2 312.0h.01M439.9 316.4h.01M425.0 329.7h.01M433.0 315.4h.01M431.4 312.1h.01M434.7 315.4h.01M435.3 308.4h.01M426.2 316.7h.01M430.5 319.4h.01M433.6 320.9h.01M437.8 306.2h.01M439.8 311.5h.01M438.8 309.5h.01M429.6 311.6h.01M429.5 320.2h.01M432.1 304.8h.01M425.4 306.7h.01M433.1 310.2h.01M431.2 304.7h.01M433.6 314.7h.01M435.2 313.6h.01M437.2 327.9h.01M426.0 303.1h.01M435.2 317.5h.01M437.8 309.1h.01M433.1 316.8h.01M431.1 307.5h.01M438.6 322.8h.01M429.7 329.7h.01M434.7 324.0h.01M428.8 322.6h.01M431.9 328.1h.01M428.6 326.3h.01M432.4 320.1h.01M427.6 320.6h.01M424.7 326.3h.01M429.8 318.0h.01M427.5 314.1h.01M429.4 316.7h.01M432.8 307.8h.01M433.5 317.6h.01M431.0 311.5h.01M429.6 305.6h.01M438.5 322.0h.01M426.8 311.7h.01M435.6 314.7h.01M437.7 322.6h.01M443.5 319.7h.01M431.1 324.7h.01M431.2 310.7h.01M434.6 319.5h.01M426.7 316.7h.01M435.3 306.0h.01M433.1 322.4h.01M436.4 315.8h.01M425.5 305.4h.01M431.5 317.0h.01M424.9 314.6h.01M439.0 322.0h.01M427.9 326.0h.01M426.6 323.0h.01M436.1 317.8h.01M439.1 324.3h.01M429.2 319.4h.01M436.3 310.8h.01M438.0 318.7h.01M429.9 325.1h.01M431.9 315.8h.01M435.3 322.3h.01M433.5 311.8h.01M427.2 319.2h.01M442.4 331.1h.01M433.4 320.8h.01M438.8 318.7h.01M440.1 311.5h.01M433.8 323.8h.01M432.1 308.8h.01M425.2 320.3h.01M439.1 307.3h.01M433.9 320.7h.01M430.4 323.0h.01M441.1 323.7h.01M431.3 326.4h.01M426.6 310.5h.01M433.6 324.6h.01M438.5 315.1h.01M434.3 310.3h.01M431.6 319.8h.01M443.0 316.1h.01M427.2 324.5h.01M436.9 323.6h.01M437.1 304.9h.01M428.3 316.0h.01M431.9 316.5h.01M425.9 312.7h.01M439.9 312.6h.01M441.2 305.3h.01M436.2 308.4h.01M430.5 310.8h.01M428.5 307.3h.01M434.5 312.4h.01M427.8 326.1h.01M438.2 315.5h.01M433.1 322.5h.01M426.8 317.3h.01M424.6 324.4h.01M438.5 326.5h.01M434.3 309.9h.01M428.7 322.9h.01M436.2 322.9h.01M444.8 322.5h.01M432.9 306.9h.01M433.8 310.6h.01M435.4 317.6h.01M429.0 327.9h.01M425.9 318.5h.01M425.4 320.7h.01M428.5 318.2h.01M432.9 325.4h.01M433.0 314.0h.01M430.7 321.6h.01M434.3 309.3h.01M430.0 310.8h.01M441.7 309.3h.01M442.3 306.3h.01M437.5 328.6h.01M427.9 325.9h.01M434.0 319.4h.01M440.6 309.2h.01M426.9 313.4h.01M427.3 318.7h.01M431.6 313.4h.01M428.4 319.2h.01M432.6 324.5h.01M438.2 330.2h.01M428.4 304.1h.01M428.7 315.0h.01M439.6 316.0h.01M424.9 317.2h.01M435.8 321.7h.01M440.9 325.6h.01M431.5 328.4h.01M437.9 312.0h.01M434.4 313.0h.01M432.3 320.4h.01M444.8 318.1h.01M437.8 309.0h.01M437.5 308.2h.01M429.5 325.0h.01M425.6 315.9h.01M425.9 324.6h.01M430.9 313.3h.01M437.3 313.9h.01M428.3 320.7h.01M435.1 325.2h.01M436.8 319.4h.01M436.7 312.6h.01M436.9 327.0h.01M437.4 320.4h.01M434.2 314.3h.01M425.8 313.2h.01M437.2 324.8h.01M425.8 324.2h.01M430.9 310.5h.01M425.6 318.1h.01M433.8 314.2h.01M439.1 326.8h.01M435.0 320.1h.01M437.1 314.2h.01M442.4 317.2h.01M424.8 324.9h.01M440.5 312.8h.01M436.0 313.8h.01M432.4 316.3h.01M436.8 326.6h.01M432.1 310.3h.01M433.4 313.9h.01M438.7 319.5h.01M435.6 311.9h.01M437.9 322.1h.01M441.1 326.8h.01M426.0 314.1h.01M431.8 325.2h.01M428.2 315.2h.01M424.3 312.6h.01M427.4 319.7h.01M432.9 309.1h.01M424.5 315.9h.01M438.5 314.8h.01M429.8 325.8h.01M433.5 306.9h.01M429.2 323.6h.01M427.2 309.2h.01M434.0 312.2h.01M430.3 304.4h.01M434.8 310.3h.01M441.4 317.3h.01M431.2 312.2h.01M442.0 305.7h.01M433.6 309.0h.01M430.7 307.0h.01M432.3 326.8h.01M426.5 322.3h.01M433.2 317.6h.01M433.4 316.5h.01M437.0 311.7h.01M437.8 325.7h.01M436.4 317.1h.01M436.7 320.9h.01M430.8 327.5h.01M438.4 325.1h.01M432.4 320.6h.01M437.8 324.5h.01M428.3 320.7h.01M431.8 322.9h.01M430.5 324.4h.01M431.7 309.7h.01M425.7 325.7h.01M424.9 320.3h.01M425.3 306.5h.01M439.2 315.4h.01M438.1 327.8h.01M446.2 314.5h.01M430.7 315.4h.01M435.8 310.1h.01M440.3 321.8h.01M436.3 324.1h.01M439.1 308.0h.01M439.2 323.2h.01M433.0 325.7h.01M424.4 326.9h.01M438.8 317.9h.01M433.9 318.2h.01M430.4 314.7h.01M436.0 317.9h.01M429.3 330.3h.01M432.5 313.2h.01M433.0 324.3h.01M425.4 313.5h.01M434.4 329.2h.01M424.4 319.7h.01M428.2 307.2h.01M434.8 312.4h.01M427.2 313.8h.01M430.7 321.2h.01M430.7 322.9h.01M436.1 316.4h.01M444.7 316.2h.01M441.5 328.0h.01M434.6 312.6h.01M428.2 331.3h.01M436.7 321.6h.01M437.2 323.7h.01M430.7 325.7h.01M436.7 316.1h.01M436.3 324.6h.01M430.1 315.3h.01M431.5 317.4h.01M439.9 323.7h.01M429.2 312.3h.01M440.1 307.5h.01M427.4 309.6h.01M436.5 321.6h.01M433.3 319.3h.01M433.9 327.1h.01M436.6 328.9h.01M440.6 329.1h.01M427.3 311.5h.01M431.7 322.3h.01M434.0 307.5h.01M430.7 305.7h.01M443.5 318.4h.01M428.0 320.2h.01M443.0 311.1h.01M426.5 320.4h.01M442.1 305.7h.01M436.9 314.0h.01M430.4 322.0h.01M437.1 318.3h.01M438.4 312.3h.01M431.1 312.3h.01M426.2 319.3h.01M430.2 319.6h.01M436.2 306.6h.01M441.6 320.4h.01M435.4 321.6h.01M431.0 319.4h.01M438.9 324.7h.01M430.6 324.4h.01M434.3 322.6h.01M435.6 309.0h.01M429.5 307.7h.01M424.9 308.4h.01M434.4 309.6h.01M441.0 311.8h.01M432.4 320.7h.01M435.9 314.0h.01M437.7 321.1h.01M430.9 309.9h.01M427.5 327.6h.01M427.5 311.6h.01M428.8 313.7h.01M430.1 317.7h.01M442.4 327.7h.01M430.7 328.4h.01M432.5 321.1h.01M425.2 306.8h.01M438.6 315.7h.01M431.5 322.0h.01M428.9 311.5h.01M430.4 317.8h.01M440.6 317.6h.01M427.7 305.8h.01M439.7 323.1h.01M432.7 319.9h.01M428.1 313.7h.01M442.7 307.3h.01M427.2 321.3h.01M430.1 309.2h.01M426.4 323.5h.01M429.8 316.1h.01M429.7 314.5h.01M424.6 310.0h.01M433.6 319.6h.01M439.9 324.2h.01M432.5 325.2h.01M431.5 305.0h.01M428.2 318.2h.01M433.0 316.1h.01M431.6 326.4h.01M439.8 307.1h.01M437.3 310.9h.01M436.9 312.3h.01M440.4 327.7h.01M429.4 324.3h.01M428.6 324.1h.01M438.8 323.0h.01M431.8 317.0h.01M439.4 309.9h.01M438.9 311.7h.01M430.3 309.6h.01M430.5 325.2h.01M440.8 306.1h.01M432.0 311.5h.01M424.4 316.0h.01M445.2 308.4h.01M436.0 315.8h.01M424.7 314.6h.01M442.4 314.6h.01M438.5 322.0h.01M424.6 311.6h.01M436.0 319.7h.01M435.8 311.8h.01M438.5 319.6h.01M433.1 322.1h.01M431.0 304.9h.01M433.1 307.0h.01M431.7 313.8h.01M440.4 312.3h.01M436.2 318.5h.01M427.2 321.0h.01M442.2 312.4h.01M432.9 312.1h.01M432.6 327.1h.01M432.6 320.0h.01M429.3 322.2h.01M424.6 309.1h.01M428.4 322.2h.01M438.6 323.4h.01M427.7 326.8h.01M431.6 307.0h.01M426.0 308.5h.01M438.5 307.2h.01M424.3 312.8h.01M427.1 307.5h.01M424.6 324.7h.01M424.8 316.6h.01M428.7 319.3h.01M431.3 306.5h.01M433.8 311.7h.01M427.4 321.8h.01M430.2 315.7h.01M434.8 305.0h.01M429.5 314.7h.01M430.8 323.1h.01M424.4 322.1h.01M428.0 326.0h.01M432.4 325.7h.01M436.7 311.3h.01M434.1 313.2h.01M438.2 313.3h.01M434.5 323.0h.01M429.8 326.8h.01M435.0 326.1h.01M432.3 308.1h.01M438.6 319.3h.01M432.1 311.6h.01M426.3 312.1h.01M427.0 318.2h.01M424.5 307.3h.01M435.0 304.0h.01M438.1 313.4h.01M436.7 326.7h.01M438.3 329.7h.01M438.0 307.6h.01M427.1 326.5h.01M426.5 318.2h.01M440.8 319.6h.01M435.2 308.6h.01M425.6 332.1h.01M444.9 316.6h.01M439.9 313.3h.01M444.2 315.0h.01M424.4 326.0h.01M436.7 327.2h.01M431.4 316.8h.01M430.5 324.3h.01M436.4 311.3h.01M425.1 313.3h.01M431.5 303.3h.01M437.3 320.7h.01M427.1 326.0h.01M437.5 316.6h.01M436.4 314.2h.01M433.1 325.8h.01M429.9 321.7h.01M438.0 316.7h.01M435.7 318.8h.01M434.5 320.7h.01M426.0 319.1h.01M435.6 308.3h.01M440.4 306.5h.01M425.6 320.8h.01M425.7 308.7h.01M434.6 319.6h.01M440.0 320.3h.01M433.3 320.6h.01M437.7 324.4h.01M437.5 315.4h.01M427.9 309.2h.01M438.3 326.2h.01M433.2 317.6h.01M436.8 316.9h.01M432.6 325.8h.01M427.9 324.0h.01M441.3 318.7h.01M439.8 322.0h.01M429.4 309.5h.01M429.1 309.2h.01M432.8 320.5h.01M425.3 310.3h.01M437.0 315.2h.01M430.1 328.5h.01M437.2 324.2h.01M437.2 310.9h.01M430.8 327.2h.01M437.5 313.9h.01M426.0 306.5h.01M441.7 318.1h.01M424.3 306.1h.01M432.9 316.1h.01M439.6 324.9h.01M439.1 318.8h.01M429.8 309.9h.01M428.4 313.7h.01M432.3 322.8h.01M434.4 320.7h.01M432.7 309.5h.01M427.4 314.8h.01M437.5 317.3h.01M442.1 319.2h.01M426.5 325.5h.01M433.2 312.0h.01M443.4 305.8h.01M434.0 325.2h.01M437.9 324.0h.01M437.5 323.3h.01M425.6 316.3h.01M427.0 313.2h.01M430.5 324.0h.01M426.9 303.9h.01M431.8 317.9h.01M443.4 317.3h.01M437.3 312.9h.01M424.3 310.8h.01M430.4 320.2h.01M438.2 317.9h.01M428.3 326.3h.01M437.4 314.7h.01M432.7 314.4h.01M428.3 315.9h.01M439.8 319.4h.01M430.5 329.3h.01M431.6 322.1h.01M430.4 309.5h.01M434.7 317.0h.01M431.6 315.8h.01M433.9 317.3h.01M433.3 313.3h.01M440.8 317.5h.01M432.7 312.7h.01M432.6 320.5h.01M442.0 306.2h.01M438.3 313.3h.01M435.0 325.6h.01M430.1 316.6h.01M426.0 325.8h.01M428.1 306.9h.01M433.1 307.6h.01M430.6 308.5h.01M435.8 323.5h.01M439.3 308.4h.01M436.7 311.1h.01M442.4 327.5h.01M428.3 312.1h.01M426.6 321.8h.01M432.9 327.5h.01M429.9 325.1h.01M434.6 315.5h.01M427.0 304.7h.01M430.5 319.3h.01M432.1 307.3h.01M431.2 323.4h.01M438.7 323.3h.01M433.1 314.8h.01M435.2 312.0h.01M432.6 324.3h.01M429.4 303.3h.01M431.5 320.3h.01M432.3 320.5h.01M442.3 307.0h.01M442.0 315.3h.01M429.9 317.3h.01M430.3 310.5h.01M430.0 307.1h.01M426.8 309.4h.01M427.9 313.0h.01M435.3 318.2h.01M429.5 322.2h.01M437.4 329.2h.01M433.5 326.2h.01M424.6 315.9h.01M433.5 323.0h.01M439.1 313.5h.01M435.3 311.6h.01M432.4 309.6h.01M440.5 322.1h.01M425.6 323.8h.01M441.0 315.7h.01M439.4 318.7h.01M441.8 312.5h.01M441.2 309.5h.01M428.8 314.7h.01M428.8 325.3h.01M433.0 319.8h.01M438.1 313.8h.01M432.1 317.5h.01M433.9 321.2h.01M436.2 319.4h.01M436.6 308.0h.01M428.5 323.4h.01M429.1 326.2h.01M426.9 310.5h.01M427.2 310.7h.01M427.4 326.3h.01M425.7 316.9h.01M433.0 319.2h.01M429.4 331.0h.01M434.5 321.1h.01M435.4 321.7h.01M440.9 308.9h.01M427.7 327.5h.01M434.0 328.1h.01M426.4 312.9h.01M428.7 316.3h.01M439.2 326.5h.01M433.0 322.4h.01M440.8 325.0h.01M428.9 317.2h.01M424.8 324.8h.01M424.3 317.2h.01M424.8 321.6h.01M438.6 318.0h.01M435.9 312.3h.01M431.8 305.9h.01M427.1 307.5h.01M426.9 311.4h.01M426.7 315.9h.01M430.0 307.9h.01M429.9 314.1h.01M434.2 323.1h.01M437.1 308.8h.01M427.9 310.4h.01M437.6 318.9h.01M435.5 307.4h.01M424.7 307.9h.01M432.9 307.4h.01M439.3 312.9h.01M435.0 323.6h.01M433.1 328.9h.01M432.8 316.9h.01M430.4 313.9h.01M437.0 315.2h.01M433.8 322.6h.01M438.5 317.1h.01M433.7 310.1h.01M425.0 322.1h.01M438.8 306.4h.01M434.3 328.1h.01M433.2 315.0h.01M438.0 316.1h.01M426.7 329.1h.01M434.0 320.8h.01M434.9 322.6h.01M428.8 310.2h.01M430.9 319.7h.01M439.2 318.7h.01M425.8 324.5h.01M427.7 325.7h.01M424.9 306.0h.01M424.6 320.9h.01M434.3 312.4h.01M439.8 321.2h.01M429.2 316.6h.01M432.2 309.6h.01M429.9 328.3h.01M437.3 321.8h.01M431.7 324.8h.01M431.3 316.2h.01M439.2 321.5h.01M439.7 312.5h.01M433.1 315.8h.01M431.9 322.5h.01M425.6 312.1h.01M430.1 322.7h.01M439.9 312.9h.01M435.7 320.9h.01M436.5 307.0h.01M431.1 325.1h.01M430.7 315.8h.01M432.7 316.5h.01M431.7 307.9h.01M428.3 315.3h.01M428.7 315.3h.01M437.5 317.1h.01M433.5 323.1h.01M435.9 311.0h.01M442.9 308.8h.01M431.4 318.3h.01M424.5 308.2h.01M433.2 322.1h.01M435.8 319.8h.01M434.4 317.4h.01M438.4 318.5h.01M434.9 322.1h.01M432.6 325.3h.01M431.2 312.7h.01M435.0 323.8h.01M428.2 313.9h.01M435.4 314.3h.01M427.5 314.8h.01M439.9 319.5h.01M437.6 327.2h.01M436.3 318.8h.01M428.1 326.6h.01M435.4 308.9h.01M429.5 311.0h.01M435.0 320.4h.01M430.7 319.3h.01M441.1 308.8h.01M431.1 311.1h.01M431.4 316.5h.01M429.7 319.8h.01M427.5 326.8h.01M427.1 311.4h.01M441.9 328.3h.01M437.6 330.1h.01M442.5 320.1h.01M428.1 312.1h.01M433.1 325.6h.01M427.3 311.3h.01M431.0 313.2h.01M442.2 322.5h.01M439.9 311.3h.01M432.4 310.4h.01M427.1 329.5h.01M439.8 308.0h.01M432.8 313.0h.01M429.9 314.4h.01M425.7 322.1h.01M433.7 321.8h.01M434.3 310.1h.01M438.9 310.7h.01M433.5 312.3h.01M426.3 324.6h.01M437.9 308.8h.01M434.5 311.5h.01M431.1 313.5h.01M431.3 321.6h.01M440.6 318.9h.01M424.9 308.4h.01M442.9 310.2h.01M430.6 327.6h.01M441.7 312.0h.01M437.4 307.5h.01M431.7 320.1h.01M426.8 326.3h.01M428.9 325.4h.01M432.5 316.0h.01M428.0 318.8h.01M435.8 313.8h.01M433.1 323.1h.01M426.8 305.8h.01M431.7 321.5h.01M442.1 312.6h.01M430.8 309.7h.01M425.2 313.6h.01M433.7 312.9h.01M439.2 319.6h.01M424.3 324.1h.01M429.8 316.2h.01M438.8 319.5h.01M441.0 312.9h.01M434.4 309.1h.01M424.3 324.3h.01M425.0 323.1h.01M427.8 301.5h.01M434.9 324.4h.01M435.7 322.5h.01M431.3 315.4h.01M428.9 325.4h.01M430.5 309.8h.01M425.9 325.9h.01M430.5 307.7h.01M430.2 309.7h.01M424.6 327.0h.01M437.3 319.6h.01M430.6 313.8h.01M436.6 320.2h.01M429.5 318.6h.01M424.6 310.9h.01M425.0 327.4h.01M440.6 319.7h.01M429.9 323.1h.01M426.7 308.6h.01M440.4 317.2h.01M430.4 309.1h.01M440.9 306.7h.01M428.2 316.5h.01M432.6 305.1h.01M437.5 305.9h.01M426.3 319.9h.01M424.6 325.5h.01M424.4 308.0h.01M424.3 305.4h.01M442.4 311.4h.01M437.5 319.1h.01M427.5 321.1h.01M436.9 326.8h.01M432.8 310.4h.01M435.2 320.3h.01M426.5 322.7h.01M432.3 320.7h.01M425.1 317.7h.01M424.5 324.1h.01M431.4 325.5h.01M427.5 310.2h.01M428.0 314.3h.01M431.7 315.7h.01M427.2 308.6h.01M431.2 311.2h.01M430.6 323.8h.01M439.0 320.3h.01M435.8 317.1h.01M439.6 319.7h.01M424.4 321.2h.01M424.8 320.4h.01M434.4 308.3h.01M430.8 319.0h.01M425.4 310.5h.01M428.3 315.9h.01M431.4 311.6h.01M437.3 314.1h.01M435.7 322.8h.01M436.8 322.6h.01M425.4 309.1h.01M436.5 322.7h.01M425.2 321.3h.01M441.4 308.4h.01M438.3 309.8h.01M434.5 317.6h.01M424.9 319.0h.01M430.9 318.0h.01M426.9 314.1h.01M424.9 312.4h.01M429.5 318.1h.01M435.5 326.1h.01M431.5 325.7h.01M438.4 321.8h.01M434.9 317.0h.01M439.4 318.6h.01M427.3 327.7h.01M433.5 322.2h.01M431.6 321.3h.01M431.1 312.0h.01M444.8 323.9h.01M434.7 310.0h.01M443.8 314.1h.01M427.3 328.8h.01M434.0 309.1h.01M429.3 321.5h.01M431.0 313.6h.01M439.4 307.9h.01M436.9 327.1h.01M424.9 319.3h.01M437.1 309.5h.01M438.0 311.1h.01M436.4 324.9h.01M430.8 314.1h.01M427.9 323.8h.01M425.4 318.3h.01M432.3 317.2h.01M440.2 322.1h.01M429.7 325.6h.01M438.3 322.9h.01M424.4 308.0h.01M424.4 308.3h.01M438.7 305.7h.01M425.0 319.3h.01M428.7 326.7h.01M433.0 308.7h.01M427.1 324.7h.01M436.0 325.5h.01M431.3 307.4h.01M424.3 314.3h.01M432.2 317.1h.01M425.3 314.2h.01M437.8 323.2h.01M427.0 312.7h.01M433.1 321.4h.01M435.0 310.1h.01M424.3 324.5h.01M431.9 321.3h.01M437.0 315.8h.01M438.7 320.3h.01M435.3 310.2h.01M435.5 328.0h.01M443.5 324.5h.01M424.5 322.8h.01M431.6 323.1h.01M444.4 321.2h.01M436.6 308.4h.01M429.2 314.1h.01M437.4 312.4h.01M434.0 326.2h.01M434.4 312.5h.01M437.1 313.9h.01M434.5 319.7h.01M430.3 317.0h.01M430.8 329.1h.01M430.4 316.5h.01M438.8 326.1h.01M436.2 319.8h.01M443.8 314.5h.01M436.1 312.1h.01M424.6 307.5h.01M441.0 325.0h.01M440.8 322.9h.01M441.9 311.1h.01M436.3 311.4h.01M435.7 324.7h.01M426.7 316.3h.01M431.5 319.3h.01M432.9 325.1h.01M426.3 308.9h.01M433.5 310.9h.01M441.9 320.4h.01M426.3 309.7h.01M436.9 325.6h.01M434.5 314.9h.01M430.8 323.5h.01M436.7 322.1h.01M432.4 313.0h.01M429.5 326.2h.01M427.7 310.2h.01M429.8 330.4h.01M427.7 307.3h.01M439.3 305.2h.01M429.4 315.9h.01M424.8 313.9h.01M435.8 324.0h.01M424.4 319.1h.01M433.0 315.6h.01M434.4 326.1h.01M441.2 307.6h.01M427.8 319.9h.01M428.7 313.1h.01M438.6 327.0h.01M442.2 311.4h.01M438.3 325.4h.01M442.4 327.7h.01M432.5 306.9h.01M438.6 317.3h.01M443.1 313.7h.01M426.9 322.2h.01M424.4 318.9h.01M424.3 322.0h.01M427.3 321.9h.01M440.6 324.5h.01M440.7 307.2h.01M430.6 320.3h.01M426.8 324.8h.01M428.0 325.8h.01M440.1 310.4h.01M434.2 312.5h.01M435.6 318.3h.01M437.9 323.9h.01M429.1 313.7h.01M439.9 290.7h.01M426.9 294.2h.01M425.2 294.8h.01M440.3 294.2h.01M426.7 288.9h.01M442.4 295.0h.01M424.5 298.6h.01M440.9 299.7h.01M433.4 297.6h.01M424.7 290.8h.01M435.7 292.7h.01M430.8 297.4h.01M447.3 298.4h.01M432.9 293.6h.01M428.1 294.0h.01M435.3 297.0h.01M427.9 298.1h.01M438.7 293.5h.01M441.5 291.8h.01M437.3 289.8h.01M427.5 292.8h.01M430.4 290.1h.01M426.1 292.5h.01M426.3 298.2h.01M429.1 296.1h.01M433.5 293.3h.01M430.3 297.8h.01M438.2 290.5h.01M427.7 296.3h.01M441.0 293.1h.01M449.9 296.1h.01M437.5 298.4h.01M439.2 291.4h.01M427.1 296.7h.01M443.1 294.4h.01M440.8 294.0h.01M425.2 289.9h.01M440.0 294.5h.01M436.8 294.5h.01M450.5 295.0h.01M438.0 294.2h.01M434.3 291.5h.01M445.4 299.2h.01M430.0 294.2h.01M444.3 298.3h.01M424.5 293.9h.01M431.3 298.5h.01M429.5 298.2h.01M429.0 293.6h.01M428.2 295.3h.01M433.0 296.2h.01M434.1 290.6h.01M438.0 293.3h.01M436.0 288.7h.01M440.2 297.6h.01M430.0 289.0h.01M443.1 294.2h.01M429.9 294.5h.01M435.2 294.0h.01M424.5 293.2h.01M433.9 296.2h.01M448.8 293.7h.01M433.3 295.6h.01M428.8 291.4h.01M437.6 293.8h.01M428.2 294.9h.01M430.3 297.1h.01M426.6 298.4h.01M426.4 294.1h.01M427.7 295.7h.01M427.4 294.7h.01M459.4 295.7h.01M425.5 291.7h.01M438.9 292.9h.01M437.2 297.1h.01M428.0 298.5h.01M428.5 295.6h.01M427.7 294.0h.01M425.2 296.2h.01M447.4 292.8h.01M443.8 299.9h.01M440.9 290.7h.01M436.5 295.5h.01M429.2 298.3h.01M429.7 293.7h.01M427.8 292.1h.01M425.6 293.2h.01M447.7 295.4h.01M438.7 298.1h.01M426.2 294.7h.01M425.6 296.2h.01M436.2 297.0h.01M431.8 295.7h.01M430.2 296.6h.01M424.7 296.4h.01M432.2 296.8h.01M431.1 292.5h.01M433.0 293.1h.01M429.0 292.8h.01M428.5 300.5h.01M440.2 294.3h.01M435.2 293.6h.01M424.4 298.3h.01M440.9 296.4h.01M435.2 293.8h.01M426.8 298.2h.01M432.0 292.2h.01M437.2 291.7h.01M433.6 292.4h.01M428.0 298.8h.01M428.1 294.9h.01M440.3 298.3h.01M427.3 291.5h.01M448.4 295.7h.01M431.6 294.0h.01M447.2 289.2h.01M444.2 295.5h.01M451.0 300.9h.01M442.8 295.6h.01M426.9 290.8h.01M439.9 292.8h.01M430.7 292.5h.01M432.8 289.0h.01M432.4 291.8h.01M429.1 291.6h.01M442.2 293.5h.01M425.2 293.3h.01M430.7 295.2h.01M454.3 296.3h.01M425.3 296.1h.01M442.4 294.9h.01M441.5 292.2h.01M425.5 295.2h.01M437.9 295.5h.01M444.4 304.9h.01M437.1 293.8h.01M425.5 295.8h.01M427.1 296.9h.01M445.5 297.1h.01M425.5 288.9h.01M450.4 294.2h.01M439.0 290.5h.01M442.4 297.5h.01M426.2 290.3h.01M446.0 289.1h.01M432.2 292.1h.01M433.3 300.3h.01M427.1 297.7h.01M424.6 297.9h.01M426.7 293.0h.01M439.0 295.9h.01M439.1 292.0h.01M445.4 294.2h.01M428.2 298.2h.01M445.5 341.2h.01M479.5 279.1h.01M481.5 334.3h.01M448.8 280.1h.01M453.0 317.2h.01M487.6 304.2h.01M472.2 307.5h.01M501.8 319.4h.01M497.5 336.3h.01M433.2 301.1h.01M491.0 344.6h.01M495.3 273.3h.01M499.4 278.9h.01M480.6 337.6h.01M444.8 321.0h.01M430.4 345.9h.01M499.5 319.2h.01M492.4 281.6h.01M460.4 306.2h.01M497.4 266.5h.01M430.1 347.9h.01M502.7 345.3h.01M474.0 268.2h.01M475.2 303.8h.01M507.2 290.2h.01" stroke="#111" stroke-width="0.84" stroke-linecap="round" opacity="0.42" fill="none"/>
<path d="M439.3 321.0h.01M439.2 321.8h.01M443.8 293.2h.01M447.1 320.5h.01M451.1 320.3h.01M457.5 308.9h.01M444.1 313.6h.01M451.1 301.2h.01M449.0 312.1h.01M452.7 317.2h.01M470.2 311.8h.01M457.3 312.6h.01M454.9 304.9h.01M444.4 301.8h.01M441.6 312.4h.01M438.2 305.0h.01M442.3 298.7h.01M456.2 307.6h.01M458.5 297.9h.01M445.1 307.0h.01M456.1 310.9h.01M462.0 294.6h.01M448.4 300.0h.01M465.1 292.2h.01M441.7 315.2h.01M441.5 289.7h.01M462.7 313.0h.01M444.6 297.1h.01M447.9 298.9h.01M443.7 312.5h.01M442.5 303.6h.01M443.3 312.6h.01M448.4 315.8h.01M438.5 300.0h.01M447.3 306.5h.01M445.7 324.2h.01M444.5 302.4h.01M437.6 302.0h.01M469.4 308.3h.01M441.6 314.6h.01M446.6 310.7h.01M439.1 300.3h.01M462.9 306.3h.01M451.6 309.8h.01M458.2 300.3h.01M440.1 304.4h.01M458.1 302.3h.01M459.3 291.0h.01M443.6 296.3h.01M431.7 324.8h.01M448.8 324.4h.01M454.4 295.9h.01M461.7 311.4h.01M468.1 312.9h.01M448.0 310.1h.01M447.8 296.1h.01M446.3 315.3h.01M440.7 314.8h.01M461.4 307.2h.01M446.5 313.0h.01M445.1 313.1h.01M455.2 305.1h.01M445.3 297.2h.01M448.5 295.6h.01M448.6 307.4h.01M446.6 310.0h.01M458.7 293.7h.01M449.3 297.8h.01M443.5 303.4h.01M459.1 316.3h.01M444.1 305.2h.01M447.6 303.5h.01M464.5 314.0h.01M433.0 309.4h.01M455.8 295.2h.01M463.2 313.5h.01M464.6 293.9h.01M446.9 298.8h.01M443.2 299.4h.01M437.5 306.3h.01M435.7 314.7h.01M456.2 284.8h.01M442.1 308.0h.01M472.9 302.4h.01M462.4 325.0h.01M450.7 294.9h.01M438.4 289.6h.01M451.3 307.3h.01M443.0 319.2h.01M444.2 307.0h.01M458.4 313.7h.01M455.1 310.9h.01M452.7 316.7h.01M459.2 297.4h.01M454.3 306.2h.01M447.3 319.2h.01M451.3 308.8h.01M460.3 297.1h.01M444.9 303.3h.01M440.7 308.2h.01M441.3 308.4h.01M450.3 306.3h.01M454.5 303.0h.01M456.4 302.8h.01M450.1 305.3h.01M457.1 307.9h.01M442.0 323.3h.01M461.1 307.0h.01M456.1 298.3h.01M457.5 301.0h.01M456.3 307.2h.01M440.4 310.1h.01M449.5 302.0h.01M449.1 313.7h.01M452.1 301.9h.01M445.9 304.5h.01M435.8 298.9h.01M445.7 288.3h.01M466.9 304.9h.01M462.5 303.9h.01M449.8 305.2h.01M434.7 295.8h.01M454.4 302.4h.01M452.8 308.2h.01M437.8 295.5h.01M441.1 290.2h.01M439.0 305.6h.01M459.5 317.5h.01M455.3 300.0h.01M440.9 320.0h.01M452.0 298.5h.01M440.4 325.8h.01M455.8 308.1h.01M451.1 303.9h.01M458.1 312.0h.01M462.9 290.2h.01M456.1 308.0h.01M457.8 311.0h.01M432.1 305.7h.01M463.4 312.5h.01M441.7 289.5h.01M460.7 306.8h.01M454.2 298.4h.01M459.4 303.8h.01M448.0 295.0h.01M451.0 308.9h.01M441.1 300.9h.01M454.1 294.5h.01M453.0 313.9h.01M449.8 293.3h.01M449.0 315.9h.01M450.2 294.0h.01M457.1 309.1h.01M462.3 318.9h.01M456.5 303.6h.01M431.5 287.6h.01M448.3 299.9h.01M449.5 296.6h.01M440.7 314.8h.01M452.0 306.2h.01M464.3 299.2h.01M453.7 297.1h.01M445.7 306.4h.01M447.7 299.1h.01M446.7 314.1h.01M442.1 294.0h.01M463.3 293.4h.01M446.7 294.1h.01M441.1 314.7h.01M456.0 302.7h.01M463.0 301.2h.01M459.3 309.1h.01M459.0 305.5h.01M453.2 304.8h.01M426.9 325.5h.01M454.7 306.2h.01M448.7 299.6h.01M444.0 305.8h.01M457.6 308.1h.01M451.4 312.6h.01M443.3 314.7h.01M446.0 311.0h.01M444.1 314.0h.01M439.4 322.0h.01M445.5 301.6h.01M442.8 296.2h.01M447.1 292.3h.01M458.4 304.4h.01M430.8 305.8h.01M454.1 307.3h.01M444.4 304.0h.01M426.7 293.4h.01M429.5 292.9h.01M455.3 316.1h.01M462.5 299.7h.01M453.0 302.3h.01M452.6 306.9h.01M441.8 315.4h.01M445.0 299.8h.01M446.8 299.4h.01M433.8 304.1h.01M452.9 311.9h.01M446.5 320.1h.01M443.9 300.3h.01M428.2 320.2h.01M459.6 317.5h.01M435.5 311.8h.01M434.8 316.1h.01M448.2 301.8h.01M449.9 303.3h.01M463.6 315.7h.01M436.3 313.5h.01M427.6 322.2h.01M444.9 303.0h.01M449.0 326.0h.01M456.0 305.2h.01M454.8 302.1h.01M458.2 300.2h.01M446.0 302.6h.01M460.0 307.0h.01M447.4 291.9h.01M458.0 302.1h.01M452.0 303.1h.01M452.3 307.6h.01M434.6 289.9h.01M447.3 290.3h.01M455.4 305.7h.01M459.4 311.9h.01M455.1 299.6h.01M452.0 313.5h.01M458.5 307.8h.01M448.3 299.2h.01M446.4 301.0h.01M459.3 316.0h.01M447.8 300.1h.01M456.3 316.8h.01M455.2 294.5h.01M435.2 319.8h.01M457.7 301.3h.01M449.1 304.6h.01M450.0 296.9h.01M457.5 299.5h.01M439.5 315.8h.01M450.2 316.2h.01M452.2 313.9h.01M464.3 308.1h.01M459.1 300.5h.01M453.4 284.0h.01M448.5 298.0h.01M434.3 311.3h.01M449.7 309.6h.01M436.9 308.0h.01M468.7 311.3h.01M438.2 311.7h.01M451.1 299.6h.01M442.2 307.2h.01M430.6 314.9h.01M456.1 310.3h.01M456.2 316.8h.01M436.9 307.2h.01M465.3 318.3h.01M431.9 329.4h.01M464.9 307.4h.01M437.5 351.5h.01M433.1 330.8h.01M426.0 323.6h.01M473.7 341.1h.01M447.2 320.9h.01M436.8 348.0h.01M437.6 316.3h.01M471.1 341.2h.01M449.6 293.8h.01M466.3 348.4h.01M469.7 350.9h.01M429.5 306.3h.01M449.1 318.0h.01M440.9 338.0h.01M445.0 300.1h.01M459.0 342.3h.01M434.9 318.9h.01M465.9 334.6h.01M464.1 300.1h.01M439.8 298.8h.01M443.4 288.6h.01M442.8 328.8h.01M446.7 320.5h.01M464.7 329.0h.01M446.3 299.6h.01M456.1 301.4h.01M446.6 316.6h.01M457.9 292.3h.01M453.3 341.0h.01M437.0 347.8h.01M457.7 350.3h.01M456.0 345.2h.01M457.1 305.4h.01M455.5 332.7h.01M454.3 330.0h.01M472.5 325.0h.01M470.5 302.2h.01M458.1 321.4h.01M467.9 288.1h.01M446.7 334.0h.01M438.8 286.3h.01M459.2 328.3h.01M424.5 347.5h.01M457.3 302.7h.01M467.1 302.7h.01M426.2 318.2h.01M454.7 346.6h.01M447.7 294.3h.01M451.6 305.2h.01M424.5 297.8h.01M449.1 290.9h.01M445.0 300.5h.01M429.0 339.7h.01M424.9 312.7h.01M432.6 314.1h.01M453.4 342.4h.01M449.7 312.0h.01M457.2 345.8h.01M424.4 317.6h.01M440.8 294.6h.01M431.1 338.3h.01M461.6 295.0h.01M426.0 349.3h.01M468.3 334.9h.01M465.1 297.7h.01M426.1 307.2h.01M455.5 298.1h.01M470.5 338.4h.01M433.9 309.3h.01M474.7 323.7h.01M465.8 323.4h.01M474.0 334.4h.01M445.7 345.3h.01M448.8 300.9h.01M464.4 333.9h.01M437.6 349.7h.01M428.8 298.9h.01M430.0 326.9h.01M439.6 327.4h.01M442.3 297.9h.01M459.0 348.2h.01M437.7 351.0h.01M436.2 334.7h.01M437.3 329.5h.01M444.9 341.5h.01M447.6 328.8h.01M447.8 291.8h.01M467.8 312.0h.01M434.9 293.2h.01M460.9 304.7h.01M448.9 291.1h.01M465.5 307.8h.01M435.8 299.9h.01M459.3 299.3h.01M468.0 301.6h.01M459.8 301.3h.01M440.4 313.2h.01M448.9 299.7h.01M467.6 304.0h.01M452.9 286.8h.01M454.8 306.6h.01M453.0 291.1h.01M467.0 313.0h.01M464.8 306.4h.01M437.4 296.5h.01M431.2 305.9h.01M460.5 284.6h.01M461.2 306.1h.01M446.3 298.3h.01M469.8 291.3h.01M459.1 306.0h.01M457.4 297.7h.01M456.9 302.8h.01M462.8 309.7h.01M440.0 299.6h.01M453.6 309.5h.01M443.0 310.4h.01M446.5 295.1h.01M441.0 298.8h.01M450.1 300.5h.01M453.0 304.0h.01M459.1 285.2h.01M466.5 299.9h.01M454.3 296.7h.01M463.8 297.7h.01M465.8 292.9h.01M471.1 307.6h.01M442.5 304.6h.01M449.3 292.6h.01M449.7 300.6h.01M448.1 302.8h.01M466.8 291.2h.01M434.9 299.3h.01M456.5 300.3h.01M462.0 303.3h.01M435.2 299.7h.01M445.9 298.6h.01M440.4 302.7h.01M453.1 295.9h.01M440.1 309.4h.01M463.5 303.3h.01M447.3 294.2h.01M469.5 296.7h.01M462.9 311.7h.01M437.8 291.7h.01M458.8 289.9h.01" stroke="#222" stroke-width="0.84" stroke-linecap="round" opacity="0.3" fill="none"/>
<path d="M430.7 300.5h.01M438.1 298.4h.01M433.8 303.5h.01M426.0 299.2h.01M438.7 304.0h.01M443.0 302.3h.01M429.1 302.1h.01M432.2 303.1h.01M442.2 305.6h.01M428.7 300.6h.01M430.7 306.3h.01M439.6 297.0h.01M430.4 300.7h.01M439.9 305.1h.01M429.8 299.3h.01M433.8 303.3h.01M434.4 299.0h.01M431.3 303.4h.01M435.0 303.5h.01M427.7 300.8h.01M433.5 294.2h.01M431.2 303.3h.01M435.4 300.8h.01M431.9 303.8h.01M432.1 298.0h.01M435.6 297.5h.01M427.8 307.4h.01M434.8 304.1h.01M436.4 304.0h.01M433.6 304.1h.01M433.6 299.7h.01M435.1 302.3h.01M438.5 305.0h.01M441.5 299.7h.01M434.9 306.5h.01M429.8 300.2h.01M430.2 300.5h.01M428.2 306.2h.01M429.9 302.3h.01M426.8 307.5h.01M426.9 298.6h.01M438.7 300.3h.01M433.7 306.2h.01M425.6 306.4h.01M429.9 294.8h.01M433.7 300.7h.01M424.7 308.4h.01M430.2 297.1h.01M432.6 304.7h.01M438.1 301.3h.01M430.4 301.2h.01M425.6 303.1h.01M434.9 305.6h.01M426.9 306.4h.01M440.0 304.4h.01M431.7 303.8h.01M431.1 304.6h.01M432.8 300.0h.01M431.7 299.5h.01M437.4 301.4h.01M428.0 308.4h.01M433.2 305.4h.01M429.4 303.2h.01M429.8 303.8h.01M435.2 308.1h.01M442.8 297.2h.01M438.4 302.2h.01M435.5 300.4h.01M430.2 297.2h.01M430.1 301.3h.01M428.3 306.1h.01M433.7 305.2h.01M435.2 299.3h.01M432.0 301.6h.01M430.3 304.4h.01M437.0 301.2h.01M436.0 299.8h.01M430.1 305.4h.01M439.7 304.4h.01M442.7 302.2h.01M431.5 302.8h.01M439.3 305.8h.01M433.3 302.0h.01M440.2 303.5h.01M434.5 300.2h.01M432.3 302.4h.01M434.5 302.2h.01M439.6 302.4h.01M431.8 301.2h.01M435.3 303.4h.01M436.6 303.5h.01M430.1 305.3h.01M426.6 296.6h.01M437.4 303.9h.01M428.5 300.8h.01M438.7 304.5h.01M429.6 300.4h.01M436.4 305.5h.01M446.0 302.3h.01M435.6 299.8h.01M431.8 295.6h.01M435.0 300.2h.01M439.6 301.6h.01M429.9 299.9h.01M431.9 306.1h.01M430.2 307.2h.01M436.9 305.0h.01M433.2 298.7h.01M439.0 299.2h.01M439.7 304.4h.01M432.4 299.9h.01M428.7 303.6h.01M427.9 294.5h.01M424.5 304.7h.01M435.6 299.6h.01M430.6 301.1h.01M447.3 298.9h.01M427.2 301.9h.01M435.4 300.7h.01M438.0 302.1h.01M429.3 300.4h.01M431.9 301.7h.01M435.3 305.2h.01M431.6 304.1h.01M437.9 300.6h.01M434.6 305.3h.01M431.8 303.0h.01M440.1 302.9h.01M436.7 302.9h.01M426.2 302.8h.01M430.7 303.0h.01M434.6 301.7h.01M430.9 304.6h.01M435.2 304.0h.01M435.9 300.8h.01M435.0 304.3h.01M430.4 303.3h.01M434.0 305.4h.01M433.2 301.8h.01M428.9 300.6h.01M435.6 305.1h.01M434.9 303.4h.01M428.5 299.6h.01M431.9 303.5h.01M436.1 300.8h.01M435.5 301.2h.01M431.3 304.3h.01M433.1 303.8h.01M436.3 301.0h.01M429.6 302.6h.01M432.8 305.9h.01M435.5 302.4h.01M426.9 301.1h.01M436.8 298.5h.01M425.4 303.5h.01M435.9 300.7h.01M432.9 300.8h.01M432.5 304.5h.01M437.8 307.9h.01M442.0 303.2h.01M432.2 304.8h.01M435.3 302.9h.01M437.9 302.2h.01M429.8 303.6h.01M431.4 300.5h.01M436.9 299.7h.01M425.7 307.1h.01M438.0 301.5h.01M435.0 302.2h.01M429.3 300.4h.01M426.3 303.3h.01M441.0 305.9h.01M434.5 306.0h.01M434.5 305.1h.01M442.3 301.2h.01M434.8 301.8h.01M430.0 302.7h.01M440.6 305.9h.01M430.7 302.3h.01M444.9 300.9h.01M433.1 307.5h.01M432.6 304.4h.01M433.4 298.4h.01M437.2 297.9h.01M424.9 305.6h.01M437.8 302.0h.01M439.3 305.5h.01M436.1 299.1h.01M427.4 305.1h.01M433.3 305.4h.01M428.1 303.9h.01M435.8 305.2h.01M429.3 303.4h.01M443.2 305.2h.01M425.4 300.9h.01M441.8 304.0h.01M425.7 303.8h.01M437.2 304.4h.01M433.9 303.3h.01M439.5 303.2h.01M440.0 304.5h.01M437.9 301.4h.01M437.9 304.7h.01M430.4 300.0h.01M436.4 304.0h.01M429.2 303.3h.01M445.9 297.2h.01M436.1 302.9h.01M434.1 302.1h.01M436.3 302.0h.01M430.8 304.3h.01M445.2 301.9h.01M438.1 305.3h.01M427.2 301.3h.01M429.1 301.7h.01M439.8 300.4h.01M441.4 307.6h.01M429.1 302.8h.01M438.2 299.4h.01M428.2 302.3h.01M428.9 300.9h.01M429.8 302.5h.01M438.9 302.5h.01M436.2 299.2h.01M443.0 305.1h.01M443.1 302.1h.01M429.2 303.5h.01M426.9 302.1h.01M432.1 301.7h.01M425.2 302.4h.01M432.2 297.2h.01M437.3 302.1h.01M443.9 306.7h.01M428.3 296.7h.01M433.1 304.4h.01M432.1 306.7h.01M433.9 300.2h.01M431.7 302.6h.01M439.7 300.7h.01M433.5 303.8h.01M431.2 302.3h.01M438.6 303.4h.01M437.8 300.7h.01M424.7 299.8h.01M430.7 303.3h.01M430.6 300.0h.01M430.5 302.9h.01M430.5 304.9h.01M436.6 302.8h.01M429.3 306.5h.01M435.4 304.6h.01M436.4 301.0h.01M430.9 301.2h.01M438.0 303.3h.01M440.7 302.1h.01M431.5 295.1h.01M437.0 301.3h.01M432.4 298.6h.01M427.1 301.8h.01M437.1 299.2h.01M427.4 302.2h.01M432.8 299.8h.01M432.2 299.1h.01M435.4 298.5h.01M433.0 302.3h.01M442.1 305.3h.01M441.6 301.1h.01M439.4 300.1h.01M426.9 307.6h.01M427.3 305.4h.01M429.9 300.3h.01M444.2 296.9h.01M433.2 303.2h.01M428.2 299.2h.01M427.0 307.6h.01M430.5 298.3h.01M437.3 299.5h.01M429.8 301.6h.01M427.6 302.8h.01M437.5 304.4h.01M424.6 297.8h.01M444.9 304.2h.01M434.4 303.2h.01M442.0 301.5h.01M436.5 300.7h.01M442.0 303.5h.01M440.5 303.1h.01M424.8 301.8h.01M432.3 302.7h.01M427.6 300.3h.01M429.0 298.7h.01M434.2 300.0h.01M440.8 300.4h.01M439.7 304.9h.01M427.9 300.7h.01M430.5 303.0h.01M429.5 294.6h.01M438.7 303.3h.01M425.5 301.3h.01M429.5 299.2h.01M433.6 298.7h.01M431.4 303.5h.01M437.6 306.6h.01M433.3 303.2h.01M436.0 300.2h.01M441.7 303.6h.01M446.4 302.7h.01M448.2 306.8h.01M437.2 306.7h.01M430.1 298.8h.01M435.8 306.1h.01M437.1 304.0h.01M433.4 300.5h.01M436.9 304.0h.01M430.2 305.4h.01M443.6 296.7h.01M435.5 298.5h.01M430.5 302.2h.01M437.2 303.5h.01M437.3 302.7h.01M428.5 303.0h.01M430.8 303.6h.01M432.4 302.2h.01M429.9 302.6h.01M430.6 306.8h.01M440.8 307.5h.01M429.6 303.3h.01M432.1 300.1h.01M436.3 300.1h.01M446.7 301.7h.01M437.3 301.0h.01M432.1 300.9h.01M441.4 304.9h.01M436.0 300.6h.01M433.6 303.7h.01M427.9 303.1h.01M429.9 301.3h.01M443.7 298.3h.01M434.2 300.7h.01M426.6 300.2h.01M424.3 302.7h.01M435.3 298.8h.01M434.2 301.8h.01M428.5 299.3h.01M425.5 296.1h.01M426.0 295.9h.01M436.3 299.2h.01M437.3 300.8h.01M433.7 300.2h.01M429.9 302.1h.01M430.2 303.2h.01M425.2 299.7h.01M441.8 301.9h.01M434.9 300.8h.01M431.2 307.0h.01M434.7 301.8h.01M430.4 303.0h.01M436.4 300.4h.01M431.5 303.7h.01M433.5 300.6h.01M434.2 302.1h.01M431.6 300.7h.01M435.1 300.6h.01M425.9 299.8h.01M432.1 299.9h.01M425.2 304.4h.01M438.7 300.1h.01M430.0 298.0h.01M432.6 297.1h.01M437.3 300.5h.01M436.0 300.5h.01M424.6 299.9h.01M440.7 302.4h.01M431.4 305.0h.01M438.3 299.4h.01M435.0 300.9h.01M440.9 303.4h.01M434.0 301.2h.01M429.0 298.3h.01M426.9 296.6h.01M431.4 302.7h.01M445.1 302.8h.01M442.0 299.2h.01M428.7 302.9h.01M428.4 304.1h.01M438.0 301.5h.01M429.9 301.2h.01M427.7 306.1h.01M432.9 305.9h.01M427.1 306.9h.01M430.1 301.6h.01M436.4 304.8h.01M441.7 302.2h.01M426.9 306.0h.01M432.0 298.9h.01M425.2 300.9h.01M429.6 305.7h.01M437.6 301.4h.01M429.9 303.5h.01M429.9 299.3h.01M433.4 299.9h.01M429.6 302.0h.01M429.1 300.2h.01M442.3 301.9h.01M428.9 305.9h.01M435.7 305.4h.01M429.1 301.5h.01M435.6 303.7h.01M430.4 307.1h.01M426.2 303.4h.01M431.4 301.3h.01M432.0 308.0h.01M428.8 297.1h.01M439.5 302.8h.01M435.5 303.8h.01M444.2 300.0h.01M430.9 303.9h.01M431.2 302.5h.01M425.2 300.4h.01M437.6 293.4h.01M435.1 295.5h.01M447.1 305.0h.01M442.4 306.2h.01M427.6 302.1h.01M427.4 303.4h.01M431.2 303.2h.01M429.8 302.3h.01M427.7 300.5h.01M428.2 301.3h.01M435.6 304.8h.01M427.6 304.0h.01M427.7 305.7h.01M432.7 299.7h.01M431.9 304.0h.01M433.0 303.2h.01M432.7 307.7h.01M439.1 302.7h.01M435.4 307.9h.01M435.1 302.6h.01M427.1 304.5h.01M429.4 301.5h.01M446.5 299.8h.01M439.1 300.8h.01M429.1 301.6h.01M430.7 300.8h.01M431.4 304.8h.01M437.5 299.8h.01M433.1 300.8h.01M439.6 298.1h.01M436.1 303.8h.01M430.6 300.7h.01M434.9 298.0h.01M428.5 298.2h.01M435.4 299.3h.01M430.6 296.5h.01M429.1 304.5h.01M435.2 305.3h.01M443.2 303.0h.01M424.6 304.1h.01M435.7 303.0h.01M435.9 304.2h.01M436.7 302.7h.01M436.0 302.7h.01M433.5 302.1h.01M431.3 302.5h.01M437.2 301.7h.01M432.3 306.4h.01M443.9 302.3h.01M428.6 305.7h.01M440.6 300.7h.01M432.1 299.2h.01M434.0 299.1h.01M424.5 302.4h.01M429.1 301.6h.01M431.0 299.9h.01M434.0 299.5h.01M435.6 300.4h.01M439.9 300.6h.01M436.7 304.2h.01M432.1 298.6h.01M437.1 298.5h.01M435.1 297.9h.01M430.1 301.5h.01M429.0 302.4h.01M436.0 302.2h.01M433.8 305.3h.01M437.1 302.8h.01M429.4 298.9h.01M428.9 304.2h.01M433.3 303.7h.01M424.4 297.0h.01M433.3 295.2h.01M430.6 297.5h.01M433.0 302.9h.01M424.8 304.6h.01M434.4 301.3h.01M426.5 299.4h.01M430.5 304.1h.01M431.8 297.4h.01M430.7 304.0h.01M435.5 304.0h.01M439.6 304.1h.01M434.5 296.7h.01M436.8 304.1h.01M435.9 298.7h.01M435.5 304.6h.01M435.4 301.0h.01M443.7 302.1h.01M438.7 301.4h.01M425.9 305.3h.01M435.9 305.1h.01M433.4 298.9h.01M441.6 301.1h.01M434.9 302.8h.01M438.1 303.2h.01M441.1 301.6h.01M439.3 306.1h.01M431.3 299.1h.01M432.3 305.3h.01M434.8 304.6h.01M432.9 297.1h.01M427.5 298.3h.01M439.4 303.4h.01M435.3 303.2h.01M430.8 306.2h.01M437.6 303.6h.01M439.8 301.8h.01M430.1 301.1h.01M430.6 301.2h.01M426.5 302.9h.01M440.4 301.8h.01M425.9 300.9h.01M431.6 301.3h.01M434.7 301.6h.01M432.7 302.0h.01M425.5 302.9h.01M438.5 302.7h.01M433.6 309.2h.01M435.1 307.4h.01M428.2 299.7h.01M427.0 301.7h.01M434.0 301.0h.01M432.8 300.0h.01M427.1 299.2h.01M430.1 305.2h.01M436.8 300.7h.01M436.1 305.6h.01M428.3 302.6h.01M429.7 301.1h.01M432.4 301.7h.01M428.8 300.5h.01M439.7 305.9h.01M434.9 304.2h.01M430.8 300.7h.01M434.1 304.9h.01M434.2 298.4h.01M438.5 307.6h.01M435.1 297.6h.01M434.2 307.0h.01M431.3 303.0h.01M431.2 303.1h.01M430.6 303.2h.01M433.5 299.7h.01M430.8 298.7h.01M427.4 300.4h.01M434.6 306.3h.01M430.8 300.5h.01M433.1 295.9h.01M436.8 304.4h.01M427.2 300.4h.01M443.3 302.0h.01M429.8 300.1h.01M442.7 301.6h.01M428.1 302.9h.01M443.6 299.3h.01M433.0 304.9h.01M437.9 298.6h.01M429.2 302.9h.01M426.3 304.0h.01M428.0 299.2h.01M439.4 303.7h.01M431.9 304.7h.01M424.9 304.6h.01M441.5 303.7h.01M431.2 299.6h.01M433.6 299.1h.01M434.0 301.1h.01M431.7 302.6h.01M427.1 302.0h.01M433.5 297.8h.01M441.9 301.3h.01M431.7 304.4h.01M437.4 296.8h.01M444.2 306.2h.01M429.9 303.4h.01M436.1 299.4h.01M434.1 302.7h.01M442.2 296.2h.01M430.7 299.2h.01M441.1 299.3h.01M426.7 299.7h.01M433.6 302.6h.01M435.1 300.9h.01M432.2 299.8h.01M428.4 300.2h.01M426.1 307.2h.01M432.8 301.9h.01M430.5 301.2h.01M442.6 306.6h.01M430.0 301.7h.01M444.2 299.0h.01M433.3 303.8h.01M429.1 304.5h.01M442.0 298.9h.01M436.0 306.1h.01M430.2 302.1h.01M432.3 298.3h.01M432.7 306.4h.01M432.2 305.4h.01M434.3 305.6h.01M430.2 305.8h.01M432.3 301.3h.01M428.5 301.6h.01M443.4 306.5h.01M439.4 302.2h.01M435.7 305.3h.01M424.3 301.6h.01M437.8 299.2h.01M442.6 303.2h.01M435.0 302.6h.01M430.3 303.1h.01M430.4 300.5h.01M432.3 305.4h.01M426.6 304.0h.01M439.1 301.5h.01M430.4 303.4h.01M429.1 297.6h.01M441.6 298.3h.01M429.1 300.0h.01M431.8 304.2h.01M429.9 301.1h.01M434.6 300.3h.01M435.8 305.2h.01M435.7 306.8h.01M436.7 303.6h.01M438.7 298.7h.01M431.5 304.1h.01M439.5 302.4h.01M432.8 303.0h.01M427.6 301.1h.01M431.3 303.1h.01M435.0 298.1h.01M427.8 299.1h.01M434.9 304.3h.01M435.8 303.2h.01M442.6 301.6h.01M432.0 304.4h.01M424.4 298.7h.01M433.1 306.8h.01M427.1 302.1h.01M428.3 303.7h.01M435.3 302.1h.01M429.1 300.9h.01M435.9 295.0h.01M441.7 299.4h.01M435.5 305.9h.01M427.5 301.9h.01M439.5 306.8h.01M430.2 305.5h.01M431.5 301.0h.01M438.6 299.6h.01M424.9 305.0h.01M434.6 302.0h.01M434.3 296.6h.01M436.4 306.8h.01M432.8 303.5h.01M434.3 305.2h.01M436.8 296.2h.01M437.9 304.6h.01M438.5 305.7h.01M429.2 308.7h.01M436.1 302.3h.01M436.0 303.5h.01M438.4 299.5h.01M437.0 303.4h.01M451.2 303.2h.01M432.1 300.4h.01M434.3 301.5h.01M424.7 298.8h.01M431.6 301.1h.01M442.3 304.5h.01M433.6 304.6h.01M431.5 299.2h.01M436.1 304.7h.01M433.0 301.4h.01M430.5 304.4h.01M426.1 306.1h.01M426.5 306.4h.01M432.8 304.4h.01M431.3 298.9h.01M440.8 301.0h.01M439.4 299.7h.01M427.5 301.7h.01M441.0 300.7h.01M446.9 302.2h.01M442.7 298.3h.01M431.2 304.5h.01M440.8 301.2h.01M447.0 299.5h.01M435.1 306.1h.01M439.2 303.1h.01M440.2 300.4h.01M438.9 298.5h.01M427.6 304.9h.01M438.9 301.7h.01M427.0 301.6h.01M429.5 306.2h.01M447.9 299.9h.01M435.7 303.3h.01M436.9 303.1h.01M438.8 296.4h.01M430.3 300.5h.01M431.0 298.8h.01M430.0 301.0h.01M436.2 303.0h.01M426.7 298.9h.01M429.5 300.6h.01M437.6 302.5h.01M438.3 302.8h.01M435.7 304.6h.01M439.3 308.7h.01M433.1 300.8h.01M443.7 302.3h.01M431.3 299.7h.01M433.2 295.6h.01M437.8 300.0h.01M436.2 306.7h.01M427.4 299.4h.01M438.8 304.5h.01M436.7 303.4h.01M430.8 302.7h.01M438.1 304.3h.01M431.0 303.3h.01M429.3 298.3h.01M444.7 302.2h.01M433.1 300.2h.01M433.9 300.8h.01M437.6 305.9h.01M430.1 299.9h.01M432.9 302.5h.01M430.7 298.4h.01M435.1 302.4h.01M432.8 300.5h.01M433.3 301.5h.01M428.0 302.3h.01M431.9 303.0h.01M431.8 303.3h.01M432.7 303.4h.01M431.4 302.7h.01M434.5 301.2h.01M434.7 303.7h.01M430.6 300.1h.01M432.5 300.4h.01M435.8 296.7h.01M425.7 304.3h.01M434.0 308.1h.01M426.8 305.3h.01M434.6 306.5h.01M442.4 299.6h.01M428.9 300.8h.01M447.9 303.7h.01M426.2 297.5h.01M436.0 302.8h.01M430.5 302.8h.01M435.5 303.1h.01M429.2 302.6h.01M430.7 296.0h.01M426.7 303.9h.01M428.0 303.4h.01M441.5 308.1h.01M431.8 306.5h.01M435.9 293.7h.01M440.8 301.4h.01M432.7 300.2h.01M428.5 305.1h.01M431.9 300.4h.01M436.6 300.4h.01M435.0 300.9h.01M435.3 301.5h.01M438.0 302.2h.01M430.1 305.3h.01M427.6 303.0h.01M436.3 303.7h.01M431.9 301.0h.01M444.6 299.9h.01M433.2 299.9h.01M437.7 304.9h.01M431.1 302.4h.01M425.2 300.6h.01M441.1 302.5h.01M435.3 303.6h.01M440.5 304.8h.01M437.3 304.4h.01M425.2 303.5h.01M429.0 303.4h.01M433.8 302.4h.01M437.0 302.8h.01M431.6 307.2h.01M434.3 303.5h.01M432.0 300.7h.01M428.9 302.4h.01M433.6 303.9h.01M430.9 305.4h.01M439.2 296.0h.01M424.5 300.9h.01M433.9 303.4h.01M435.5 301.3h.01M443.1 298.7h.01M430.4 300.2h.01M433.9 303.0h.01M433.2 303.2h.01M433.0 305.3h.01M429.7 300.7h.01M436.3 302.9h.01M435.6 302.0h.01M425.1 302.8h.01M428.7 303.9h.01M435.1 302.2h.01M430.4 304.5h.01M432.8 298.3h.01M435.8 337.6h.01M435.0 342.1h.01M432.1 341.4h.01M440.8 344.1h.01M424.8 336.8h.01M427.9 340.6h.01M429.9 329.7h.01M436.4 347.3h.01M426.8 332.7h.01M426.4 334.0h.01M434.9 330.2h.01M439.4 341.8h.01M435.2 343.7h.01M427.2 351.2h.01M433.6 342.0h.01M436.8 346.7h.01M436.2 344.0h.01M429.0 346.8h.01M436.7 343.5h.01M431.3 342.1h.01M433.7 329.4h.01M429.2 342.5h.01M425.0 332.1h.01M426.8 336.5h.01M424.6 331.3h.01M433.8 348.1h.01M428.0 343.1h.01M430.5 340.1h.01M427.8 345.9h.01M428.4 332.7h.01M431.7 350.7h.01M438.1 348.3h.01M431.7 330.2h.01M432.8 345.2h.01M427.1 342.2h.01M437.7 341.0h.01M428.8 348.1h.01M436.7 341.3h.01M425.1 339.8h.01M428.5 339.3h.01M432.1 348.6h.01M429.4 334.7h.01M424.8 345.2h.01M433.0 344.4h.01M427.8 338.4h.01M427.4 336.0h.01M426.7 346.9h.01M435.2 334.3h.01M424.9 344.1h.01M424.5 346.5h.01M428.6 347.3h.01M433.6 339.9h.01M434.9 342.8h.01M432.7 349.4h.01M425.8 343.4h.01M428.7 331.6h.01M434.4 350.6h.01M432.2 329.4h.01M430.0 334.9h.01M424.5 332.2h.01M435.0 342.4h.01M436.4 342.7h.01M428.7 348.1h.01M438.0 345.3h.01M429.1 348.5h.01M425.8 326.9h.01M429.4 343.8h.01M430.7 329.4h.01M433.5 346.8h.01M427.3 330.8h.01M433.8 331.7h.01M425.4 336.7h.01M429.1 340.1h.01M427.5 335.2h.01M429.6 349.0h.01M426.7 330.3h.01M435.6 337.0h.01M424.3 333.5h.01M436.2 333.4h.01M428.7 336.1h.01M435.6 330.8h.01M437.6 341.9h.01M428.9 343.2h.01M435.4 345.2h.01M433.9 336.0h.01M433.2 343.9h.01M434.0 341.8h.01M435.7 335.9h.01M434.5 330.4h.01M437.5 343.9h.01M426.3 333.4h.01M438.1 350.9h.01M426.5 348.1h.01M433.2 337.4h.01M435.7 331.9h.01M437.6 331.5h.01M426.9 338.8h.01M427.1 334.7h.01M435.9 344.8h.01M426.8 339.9h.01M430.2 340.5h.01M437.4 334.4h.01M428.0 342.7h.01M437.3 341.6h.01M432.5 346.3h.01M430.1 341.7h.01M430.7 338.0h.01M426.6 339.6h.01M431.4 345.9h.01M429.6 345.3h.01M429.8 330.7h.01M428.5 338.5h.01M428.5 349.5h.01M433.5 339.2h.01M431.5 345.1h.01M437.2 335.1h.01M426.2 350.9h.01M428.4 332.4h.01M432.6 335.2h.01M428.3 344.4h.01M434.1 346.1h.01M431.0 335.1h.01M433.2 339.1h.01M430.1 335.9h.01M432.2 331.8h.01M432.0 350.9h.01M430.1 343.7h.01M433.2 340.1h.01M433.8 342.3h.01M430.1 332.2h.01M435.0 347.8h.01M431.3 333.1h.01M437.1 336.6h.01M433.5 348.5h.01M427.6 337.3h.01M433.4 346.2h.01M427.4 341.8h.01M426.2 350.7h.01M426.2 350.6h.01M431.4 346.9h.01M425.9 328.6h.01M427.8 330.5h.01M424.9 330.8h.01M427.8 331.8h.01M433.4 332.3h.01M426.8 349.2h.01M439.7 330.7h.01M432.8 344.3h.01M430.0 336.6h.01M436.4 337.1h.01M433.8 346.6h.01M426.6 342.8h.01M430.6 338.4h.01M432.0 340.7h.01M424.3 337.8h.01M435.0 336.5h.01M429.9 347.6h.01M428.1 335.3h.01M430.2 338.6h.01M432.2 343.2h.01M437.2 347.5h.01M426.7 338.3h.01M435.9 345.4h.01M432.0 347.2h.01M437.0 331.6h.01M433.6 349.7h.01M437.4 343.6h.01M425.0 343.7h.01M431.6 348.5h.01M426.8 336.8h.01M427.9 332.3h.01M430.4 336.4h.01M424.3 328.2h.01M426.2 329.0h.01M435.1 349.9h.01M428.0 337.4h.01M433.7 336.8h.01M428.6 349.3h.01M436.3 338.3h.01M430.7 334.1h.01M430.7 346.4h.01M424.7 338.4h.01M436.0 347.4h.01M429.1 341.0h.01M438.5 346.4h.01M428.8 350.8h.01M429.9 343.5h.01M434.2 335.5h.01M426.9 331.5h.01M426.8 339.2h.01M431.0 348.6h.01M426.0 334.9h.01M432.7 334.1h.01M428.3 337.4h.01M433.8 331.4h.01M436.3 337.4h.01M432.9 341.0h.01M430.9 338.3h.01M425.5 330.7h.01M431.2 337.3h.01M431.7 341.6h.01M434.1 333.7h.01M425.2 336.5h.01M437.0 335.4h.01M435.4 348.1h.01M428.1 346.8h.01M430.4 344.8h.01M431.9 334.3h.01M434.2 340.1h.01M426.5 348.6h.01M436.5 341.5h.01M437.1 348.2h.01M428.9 335.3h.01M431.7 345.9h.01M432.4 348.1h.01M437.3 338.0h.01M430.5 334.7h.01M437.8 345.5h.01M427.5 348.6h.01M425.9 336.1h.01M437.6 340.7h.01M435.7 348.0h.01M424.6 340.4h.01M433.8 329.8h.01M433.9 335.6h.01M435.5 338.1h.01M432.5 332.1h.01M427.3 337.5h.01M430.6 339.6h.01M428.0 343.7h.01M431.3 328.6h.01M432.0 325.2h.01M425.6 332.6h.01M438.2 337.9h.01M428.5 335.6h.01M424.9 339.7h.01M432.4 336.6h.01M432.6 340.4h.01M435.5 329.0h.01M429.4 340.0h.01M435.8 350.8h.01M435.7 345.4h.01M434.9 344.1h.01M428.3 347.7h.01M436.0 344.4h.01M435.7 345.8h.01M435.3 336.9h.01M427.9 336.6h.01M432.1 342.3h.01M427.9 332.8h.01M436.4 338.3h.01M434.1 329.0h.01M427.6 346.1h.01M437.2 342.0h.01M434.2 343.2h.01M426.9 333.6h.01M433.5 342.4h.01M427.3 348.6h.01M438.4 347.1h.01M434.6 343.4h.01M429.9 330.5h.01M432.7 334.0h.01M435.4 342.8h.01M436.3 346.3h.01M425.6 338.4h.01M436.3 336.2h.01M434.2 328.7h.01M434.4 341.9h.01M432.5 349.1h.01M434.6 351.5h.01M432.4 334.1h.01M426.9 343.2h.01M431.4 334.2h.01M431.7 339.1h.01M432.7 334.9h.01M436.2 345.7h.01M426.3 346.3h.01M435.7 325.7h.01M435.5 342.7h.01M424.6 350.9h.01M427.0 350.8h.01M434.1 347.5h.01M431.6 345.8h.01M437.5 350.1h.01M439.1 342.1h.01M429.7 336.6h.01M429.0 348.4h.01M433.3 334.1h.01M426.7 346.2h.01M428.3 348.3h.01M431.9 339.5h.01M435.4 351.4h.01M427.2 345.8h.01M432.9 333.4h.01M434.1 343.2h.01M438.3 334.7h.01M433.2 339.7h.01M436.6 342.8h.01M424.4 336.2h.01M433.5 349.8h.01M425.2 337.2h.01M431.1 339.5h.01M434.0 329.7h.01M428.6 350.9h.01M429.2 347.1h.01M429.2 333.1h.01M428.4 336.5h.01M436.3 347.4h.01M438.2 349.5h.01M435.4 349.7h.01M434.8 343.5h.01M439.9 338.0h.01M432.9 332.1h.01M427.6 337.0h.01M437.0 331.7h.01M432.6 348.6h.01M435.4 345.4h.01M439.9 334.7h.01M424.9 342.0h.01M430.4 338.9h.01M424.5 339.9h.01M431.1 343.9h.01M424.4 332.3h.01M427.2 349.6h.01M431.7 339.6h.01M435.5 338.5h.01M426.2 341.2h.01M432.2 347.3h.01M431.5 342.4h.01M426.0 350.3h.01M429.4 340.5h.01M426.7 340.2h.01M425.1 332.7h.01M426.3 342.9h.01M425.1 335.4h.01M425.6 342.2h.01M427.2 330.8h.01M428.8 336.8h.01M435.4 351.6h.01M434.7 342.9h.01M427.9 330.6h.01M427.7 345.9h.01M427.7 346.0h.01M431.8 341.6h.01M438.7 344.0h.01M435.2 349.2h.01M435.5 348.8h.01M425.4 341.8h.01M434.4 348.0h.01M424.4 347.5h.01M437.8 344.9h.01M425.4 337.3h.01M426.1 335.6h.01M432.7 341.6h.01M428.9 330.0h.01M427.7 333.6h.01M438.2 334.4h.01M424.3 346.5h.01M433.9 342.5h.01M432.6 345.2h.01M432.4 338.9h.01M427.3 338.7h.01M434.7 347.7h.01M434.2 340.5h.01M430.7 348.8h.01M428.2 343.5h.01M432.7 348.2h.01M427.3 329.8h.01M428.2 350.3h.01M426.8 347.4h.01M430.2 337.1h.01M428.8 330.2h.01M431.6 340.5h.01M429.0 331.1h.01M427.4 331.0h.01M434.8 338.1h.01M431.2 337.7h.01M427.1 333.7h.01M429.3 347.7h.01M435.9 336.6h.01M425.8 344.6h.01M429.8 342.0h.01M425.2 333.3h.01M429.9 340.5h.01M427.0 348.8h.01M435.0 335.9h.01M434.0 332.3h.01M428.0 335.4h.01M435.6 346.0h.01M432.7 334.4h.01M430.5 350.7h.01M434.9 344.2h.01M427.6 344.8h.01M434.7 349.8h.01M428.7 343.2h.01M426.4 334.6h.01M429.7 350.6h.01M429.5 339.9h.01M433.1 344.2h.01M427.8 335.2h.01M424.9 341.1h.01M428.7 329.9h.01M426.5 331.0h.01M435.3 336.2h.01M434.0 328.6h.01M431.5 336.2h.01M436.4 348.0h.01M434.9 328.3h.01M432.3 342.1h.01M426.1 334.2h.01M435.2 332.3h.01M437.8 341.5h.01M424.7 334.4h.01M424.6 341.5h.01M425.0 336.0h.01M431.8 350.8h.01M431.0 337.0h.01M430.7 350.1h.01M436.5 341.9h.01M438.7 341.2h.01M433.6 336.8h.01M428.9 342.6h.01M431.9 336.5h.01M427.1 347.3h.01M431.0 338.5h.01M436.3 345.6h.01M435.2 350.3h.01M430.9 329.5h.01M438.3 332.6h.01M429.8 332.3h.01M438.0 330.8h.01M425.2 326.9h.01M435.9 339.7h.01M431.4 337.9h.01M424.8 345.0h.01M426.0 333.1h.01M435.2 341.1h.01M429.8 350.1h.01M425.7 336.3h.01M438.1 338.8h.01M425.9 341.5h.01M428.8 344.0h.01M425.7 330.6h.01M430.7 341.1h.01M429.0 349.1h.01M436.3 333.1h.01M435.4 349.4h.01M434.2 345.5h.01M429.7 344.3h.01M432.2 331.9h.01M434.2 335.4h.01M434.5 331.2h.01M430.1 344.0h.01M430.2 336.8h.01M430.3 349.8h.01M427.6 327.8h.01M436.7 337.1h.01M427.7 329.1h.01M433.4 338.7h.01M433.4 345.2h.01M429.1 328.0h.01M426.1 336.0h.01M432.0 334.2h.01M425.5 336.4h.01M428.4 350.7h.01M430.3 340.8h.01M435.9 344.4h.01M429.4 333.8h.01M434.3 349.5h.01M431.5 336.1h.01M434.9 331.5h.01M436.6 334.3h.01M435.6 340.9h.01M435.4 340.8h.01M426.2 335.2h.01M430.3 337.7h.01M435.4 329.2h.01M430.7 332.9h.01M426.5 348.0h.01M437.5 330.3h.01M432.6 337.6h.01M435.0 330.2h.01M426.6 335.4h.01M432.1 346.9h.01M430.9 330.3h.01M431.1 343.5h.01M430.4 350.6h.01M430.3 333.6h.01M426.2 332.7h.01M434.6 334.1h.01M435.4 330.5h.01M426.7 337.3h.01M430.3 343.7h.01M433.9 333.7h.01M427.0 350.2h.01M433.1 343.2h.01M435.6 343.0h.01M433.0 338.8h.01M428.0 331.1h.01M432.1 338.5h.01M428.6 340.0h.01M424.6 338.1h.01M434.3 334.5h.01M426.8 328.0h.01M428.1 335.6h.01M424.5 344.8h.01M425.7 338.6h.01M433.9 341.9h.01M432.7 345.7h.01M436.0 338.0h.01M430.6 344.4h.01M437.3 334.7h.01M428.4 350.7h.01M426.9 336.3h.01M424.4 334.2h.01M430.4 347.0h.01M432.7 333.1h.01M424.5 344.7h.01M428.0 338.8h.01M434.5 343.4h.01M432.9 333.3h.01M432.9 330.5h.01M428.1 341.6h.01M428.0 332.9h.01M431.4 348.6h.01M432.4 336.9h.01M436.2 332.6h.01M430.3 336.5h.01M435.2 349.5h.01M434.8 347.2h.01M432.6 348.9h.01M431.0 344.8h.01M438.2 335.2h.01M425.3 336.3h.01M432.3 348.9h.01M424.7 331.8h.01M424.9 339.8h.01M428.7 338.0h.01M426.9 345.6h.01M435.2 348.6h.01M436.7 337.1h.01M428.7 339.4h.01M437.9 337.3h.01M434.6 349.1h.01M428.0 336.6h.01M425.3 340.0h.01M434.2 327.4h.01M433.0 341.4h.01M436.4 345.5h.01M432.2 335.8h.01M427.2 340.6h.01M426.1 331.2h.01M434.8 346.1h.01M436.9 336.0h.01M437.7 341.3h.01M433.4 345.5h.01M432.0 347.1h.01M437.2 344.2h.01M427.5 337.8h.01M437.4 350.6h.01M425.9 328.0h.01M428.4 335.4h.01M434.0 331.5h.01M426.3 350.1h.01M436.1 328.0h.01M428.7 344.2h.01M425.6 347.3h.01M432.5 338.5h.01M434.8 346.3h.01M428.2 338.3h.01M429.1 330.7h.01M426.9 342.1h.01M436.4 339.9h.01M437.2 343.3h.01M424.3 334.1h.01M437.6 333.4h.01M425.2 338.3h.01M434.1 346.6h.01M429.7 334.8h.01M428.5 343.6h.01M438.4 332.9h.01M427.1 339.0h.01M435.5 337.6h.01M431.5 333.0h.01M433.6 334.0h.01M425.4 341.8h.01M426.5 336.3h.01M428.2 332.2h.01M431.8 331.2h.01M434.4 341.6h.01M432.9 350.2h.01M434.5 327.6h.01M427.5 349.2h.01M434.5 327.2h.01M424.9 347.0h.01M428.8 343.2h.01M433.1 345.3h.01M432.3 347.7h.01M427.4 331.1h.01M427.1 328.3h.01M436.6 332.8h.01M433.3 343.4h.01M433.0 339.0h.01M434.9 349.2h.01M438.1 329.3h.01M437.2 341.8h.01M431.9 330.0h.01M428.9 348.0h.01M436.4 335.8h.01M440.0 343.3h.01M438.0 326.8h.01M431.4 344.5h.01M437.4 335.5h.01M436.4 350.3h.01M434.8 343.3h.01M427.0 338.7h.01M433.7 336.2h.01M426.4 335.1h.01M435.4 347.0h.01M426.7 339.2h.01M425.6 338.4h.01M432.7 342.0h.01M433.1 330.6h.01M434.5 336.5h.01M428.4 339.1h.01M432.3 329.4h.01M425.9 327.6h.01M428.7 335.0h.01M431.6 334.4h.01M431.7 346.0h.01M429.8 331.1h.01M429.8 339.5h.01M438.6 339.9h.01M426.1 339.9h.01M431.2 329.8h.01M438.6 348.1h.01M427.8 341.1h.01M427.7 333.0h.01M428.2 351.2h.01M433.0 331.9h.01M429.8 337.2h.01M432.4 333.2h.01M425.2 348.7h.01M430.5 339.7h.01M425.8 334.3h.01M436.6 347.2h.01M430.1 344.3h.01M433.4 334.1h.01M429.5 336.2h.01M435.2 341.1h.01M435.1 334.0h.01M429.2 332.6h.01M427.2 348.5h.01M425.3 347.4h.01M428.1 343.8h.01M434.8 332.2h.01M424.5 326.3h.01M431.4 350.8h.01M433.6 342.2h.01M431.2 346.0h.01M432.4 330.8h.01M436.6 342.3h.01M429.9 344.9h.01M431.0 349.1h.01M426.6 329.4h.01M424.7 333.4h.01M424.4 351.8h.01M440.0 332.1h.01M432.6 347.3h.01M430.1 339.2h.01M433.6 342.8h.01M432.1 343.2h.01M437.1 336.6h.01M433.0 337.7h.01M428.5 346.7h.01M431.5 331.5h.01M436.0 334.3h.01M437.5 336.4h.01M429.1 338.0h.01M430.1 328.0h.01M429.7 338.9h.01M433.9 332.3h.01M434.1 332.7h.01M435.2 331.4h.01M429.2 337.7h.01M430.3 332.1h.01M430.7 344.6h.01M427.6 334.7h.01M434.5 350.1h.01M425.7 334.1h.01M431.8 345.9h.01M438.2 341.3h.01M426.2 347.6h.01M431.3 343.3h.01M427.8 347.6h.01M432.7 339.7h.01M434.8 347.3h.01M427.6 348.7h.01M426.2 342.6h.01M438.2 333.3h.01M432.9 332.0h.01M426.4 343.5h.01M431.5 342.1h.01M430.1 333.9h.01M429.6 345.6h.01M439.8 347.3h.01M426.4 333.6h.01M429.3 337.8h.01M426.4 344.6h.01M436.1 345.6h.01M429.4 341.0h.01M430.3 345.1h.01M433.3 334.2h.01M429.3 351.7h.01M429.2 332.8h.01M424.8 334.6h.01M431.6 340.6h.01M437.9 351.2h.01M433.5 330.8h.01M438.8 335.3h.01M435.5 340.4h.01M437.7 335.5h.01M426.0 341.0h.01M432.2 342.8h.01M436.0 332.0h.01M431.0 340.7h.01M425.6 351.3h.01M427.1 347.0h.01M431.4 341.4h.01M427.6 327.2h.01M432.8 339.1h.01M430.4 347.3h.01M434.9 347.4h.01M428.7 342.9h.01M435.9 332.5h.01M432.0 337.2h.01M436.0 347.7h.01M430.9 337.3h.01M432.0 341.0h.01M425.4 344.6h.01M430.1 337.8h.01M426.9 351.8h.01M437.5 340.6h.01M426.4 347.8h.01M434.8 344.0h.01M435.9 337.5h.01M429.5 343.4h.01M433.3 332.4h.01M439.7 344.3h.01M426.2 340.3h.01M430.5 340.4h.01M428.4 341.6h.01M428.2 342.5h.01M433.4 345.0h.01M432.7 328.2h.01M434.3 344.6h.01M430.9 337.3h.01M431.8 350.0h.01M431.0 346.4h.01M429.5 350.6h.01M430.6 345.0h.01M430.8 333.3h.01M434.0 345.8h.01M433.5 329.5h.01M428.8 335.2h.01M427.6 350.8h.01M438.0 337.6h.01M435.5 340.0h.01M433.7 341.5h.01M434.1 333.5h.01M429.0 341.9h.01M429.0 346.1h.01M433.4 341.8h.01M426.0 342.1h.01M439.6 350.5h.01M426.0 332.9h.01M433.0 347.9h.01M428.5 344.2h.01M428.0 331.3h.01M429.3 350.3h.01M435.6 330.7h.01M436.4 351.1h.01M427.1 349.3h.01M430.4 330.1h.01M424.8 348.1h.01M432.1 332.6h.01M426.8 349.9h.01M426.1 344.9h.01M436.5 349.8h.01M432.7 333.3h.01M429.2 331.3h.01M427.8 340.7h.01M427.5 348.6h.01M436.2 344.4h.01M429.7 349.5h.01M429.7 343.3h.01M435.7 339.2h.01M433.2 346.1h.01M437.6 329.4h.01M424.6 333.4h.01M432.3 340.9h.01M433.0 349.2h.01M431.2 345.9h.01M424.3 351.4h.01M428.9 338.1h.01M434.4 329.7h.01M426.1 341.8h.01M427.1 345.2h.01M436.3 332.4h.01M435.5 333.2h.01M428.0 328.6h.01M424.5 327.6h.01M429.2 350.8h.01M429.1 347.4h.01M436.1 336.1h.01M429.4 334.4h.01M426.6 346.3h.01M426.7 345.8h.01M434.9 329.9h.01M431.6 328.8h.01M426.9 345.1h.01M427.7 341.6h.01M435.2 331.3h.01M433.2 333.6h.01M430.0 345.4h.01M435.5 350.4h.01M428.5 339.3h.01M427.9 349.5h.01M434.4 335.6h.01M428.1 340.6h.01M433.2 347.9h.01M424.7 336.3h.01M425.2 347.8h.01M432.6 332.3h.01M424.4 333.6h.01M428.0 338.8h.01M437.2 332.9h.01M433.8 337.3h.01M432.2 339.2h.01M433.7 329.2h.01M434.6 335.0h.01M433.6 340.5h.01M427.2 331.5h.01M437.3 340.6h.01M433.2 340.8h.01M426.0 345.4h.01M424.5 342.5h.01M432.0 338.0h.01M428.7 327.1h.01M424.3 330.8h.01M432.9 351.4h.01M432.5 330.5h.01M433.3 333.0h.01M424.7 343.2h.01M426.4 351.1h.01M429.0 343.0h.01M426.4 338.3h.01M435.5 342.7h.01M426.4 341.4h.01M428.8 343.6h.01M428.4 346.3h.01M432.0 339.2h.01M435.5 345.4h.01M431.3 330.8h.01M426.2 341.8h.01M430.7 343.0h.01M429.0 343.1h.01M433.5 340.3h.01M430.0 332.8h.01M428.7 349.8h.01M431.8 336.1h.01M425.4 332.9h.01M433.5 332.1h.01M435.7 337.0h.01M426.7 332.9h.01M438.3 336.7h.01M427.4 336.0h.01M434.0 339.6h.01M428.2 335.0h.01M429.1 343.1h.01M431.8 346.8h.01M434.2 330.3h.01M436.2 342.7h.01M436.5 333.8h.01M427.2 346.3h.01M424.4 344.4h.01M424.4 351.8h.01M426.4 335.0h.01M429.1 334.6h.01M429.3 338.1h.01M429.6 336.3h.01M430.7 342.5h.01M433.9 340.6h.01M424.9 334.0h.01M433.0 341.9h.01M429.8 332.9h.01M434.7 351.7h.01M424.9 339.7h.01M428.5 341.4h.01M437.0 348.8h.01M424.9 334.7h.01M426.7 345.0h.01M435.1 344.4h.01M424.4 347.0h.01M429.0 344.7h.01M433.1 336.3h.01M433.7 330.4h.01M435.8 330.4h.01M427.0 342.3h.01M425.3 341.9h.01M425.8 342.3h.01M425.1 334.5h.01M434.6 333.9h.01M427.7 339.5h.01M426.9 344.8h.01M427.8 343.1h.01M425.5 341.1h.01M436.0 338.1h.01M429.8 341.7h.01M433.5 339.4h.01M428.9 347.9h.01M433.6 345.0h.01M432.0 340.5h.01M431.9 333.7h.01M424.7 351.4h.01M434.3 340.1h.01M430.6 344.7h.01M439.5 343.7h.01M435.4 346.3h.01M433.8 344.3h.01M439.3 345.5h.01M437.4 336.8h.01M434.0 345.5h.01M435.6 337.7h.01M434.1 347.8h.01M431.1 349.5h.01M425.6 348.9h.01M434.7 350.7h.01M438.1 343.5h.01M432.0 335.1h.01M434.9 342.3h.01M429.6 347.9h.01M432.4 346.6h.01M435.5 337.8h.01M430.3 348.4h.01M434.9 342.3h.01M425.0 339.7h.01M437.1 346.7h.01M434.0 343.7h.01M428.2 344.8h.01M434.8 348.5h.01M425.9 337.9h.01M435.6 346.0h.01M426.8 330.8h.01M430.1 348.7h.01M425.8 332.2h.01M433.1 346.5h.01M425.0 350.4h.01M438.3 340.5h.01M433.4 340.1h.01M430.1 348.9h.01M434.6 346.9h.01M428.2 342.8h.01M430.9 331.6h.01M430.5 334.7h.01M430.3 336.7h.01M433.2 339.3h.01M432.6 346.8h.01M426.8 336.1h.01M436.1 330.9h.01M439.8 334.8h.01M429.2 348.8h.01M437.6 338.9h.01M431.4 339.5h.01M429.0 335.9h.01M435.2 336.9h.01M438.8 330.3h.01M432.4 341.1h.01M427.9 350.4h.01M427.0 347.2h.01M433.5 340.5h.01M433.8 336.6h.01M430.3 330.0h.01M426.1 349.6h.01M427.8 349.8h.01M435.3 346.5h.01M428.5 342.4h.01M433.0 351.2h.01M431.5 345.8h.01M431.8 329.1h.01M426.4 328.6h.01M430.3 339.9h.01M435.2 341.8h.01M434.8 346.3h.01M426.6 341.1h.01M426.6 329.4h.01M432.3 331.9h.01M435.9 336.4h.01M432.0 338.3h.01M433.1 348.2h.01M429.7 350.5h.01M429.3 331.9h.01M429.9 332.4h.01M426.4 348.0h.01M427.1 341.3h.01M434.2 350.6h.01M430.0 344.2h.01M433.5 351.9h.01M435.8 346.3h.01M432.5 340.8h.01M436.6 346.4h.01M428.7 329.0h.01M428.1 337.3h.01M427.8 338.9h.01M435.6 340.0h.01M430.7 338.4h.01M436.6 342.0h.01M429.0 330.2h.01M433.3 348.4h.01M433.2 333.8h.01M437.4 337.5h.01M435.1 339.6h.01M434.5 344.2h.01M426.9 334.1h.01M433.4 332.9h.01M431.5 338.5h.01M433.4 343.2h.01M425.5 335.8h.01M436.5 342.5h.01M427.3 344.0h.01M431.8 332.4h.01M428.5 343.5h.01M431.0 349.2h.01M435.9 333.7h.01M432.8 348.3h.01M438.3 340.8h.01M433.1 336.2h.01M431.8 348.1h.01M431.9 340.9h.01M433.9 343.7h.01M435.5 345.1h.01M433.9 330.2h.01M430.1 339.3h.01M434.5 345.7h.01M437.3 335.2h.01M430.1 331.3h.01M434.0 338.5h.01M431.7 336.8h.01M436.2 344.3h.01M430.0 351.4h.01M427.5 347.4h.01M426.4 332.4h.01M432.2 339.9h.01M431.2 333.2h.01M430.7 334.0h.01M429.3 328.7h.01M432.7 343.2h.01M433.9 339.1h.01M427.9 341.1h.01M435.9 348.8h.01M435.2 333.3h.01M431.8 331.9h.01M424.4 344.1h.01M431.2 338.6h.01M434.8 339.6h.01M431.2 340.7h.01M431.5 345.2h.01M438.6 337.8h.01M429.5 329.4h.01M435.6 343.5h.01M433.7 342.2h.01M439.6 333.1h.01M434.0 335.1h.01M429.8 339.3h.01M425.2 332.9h.01M427.6 334.9h.01M435.8 344.1h.01M433.1 340.0h.01M435.6 345.2h.01M435.8 338.7h.01M432.6 333.5h.01M432.1 349.1h.01M431.7 345.5h.01M435.0 329.4h.01M427.8 349.9h.01M436.3 329.9h.01M424.4 335.0h.01M429.9 333.2h.01M430.7 336.6h.01M425.3 336.8h.01M426.9 340.1h.01M435.3 345.1h.01M429.0 334.8h.01M434.4 335.6h.01M425.2 330.6h.01M437.2 333.1h.01M430.3 339.5h.01M438.0 336.1h.01M428.7 336.4h.01M438.1 345.2h.01M425.0 333.0h.01M431.9 349.3h.01M428.0 351.1h.01M431.6 342.7h.01M437.4 347.7h.01M431.6 333.8h.01M435.6 351.5h.01M427.0 331.6h.01M435.2 335.5h.01M433.5 350.3h.01M433.9 345.9h.01M438.4 339.5h.01M432.8 344.5h.01M425.1 347.8h.01M426.9 335.4h.01M426.4 334.1h.01M430.1 340.6h.01M436.9 328.9h.01M431.7 332.0h.01M428.3 343.2h.01M427.3 351.8h.01M435.3 339.9h.01M426.1 343.5h.01M427.8 337.8h.01M436.1 348.6h.01M426.4 332.4h.01M436.3 346.4h.01M437.8 338.1h.01M436.4 332.0h.01M433.6 329.7h.01M426.5 345.8h.01M431.2 329.0h.01M432.4 332.1h.01M427.0 330.1h.01M428.0 346.6h.01M427.9 341.5h.01M427.0 336.1h.01M435.2 333.0h.01M426.4 330.2h.01M425.8 328.5h.01M428.7 346.4h.01M435.8 334.7h.01M427.6 348.6h.01M437.4 342.6h.01M425.1 345.1h.01M427.1 330.0h.01M428.2 336.1h.01M434.8 344.2h.01M439.5 344.5h.01M430.5 336.0h.01M430.1 343.7h.01M430.8 344.6h.01M425.3 346.6h.01M427.7 344.6h.01M430.6 336.9h.01M434.0 340.1h.01M429.1 333.4h.01M425.7 347.5h.01M426.2 327.7h.01M427.8 331.5h.01M427.6 338.5h.01M429.8 337.7h.01M427.3 331.5h.01M433.9 344.2h.01M425.0 348.9h.01M427.9 332.2h.01M427.5 343.6h.01M427.8 332.5h.01M435.0 343.7h.01M427.0 326.3h.01M431.2 333.8h.01M436.9 327.8h.01M426.0 347.6h.01M427.8 342.5h.01M436.0 340.1h.01M430.6 345.3h.01M438.7 343.1h.01M425.8 348.1h.01M424.8 340.9h.01M427.9 348.6h.01M439.1 339.0h.01M431.6 347.5h.01M428.1 332.3h.01M433.5 334.8h.01M433.2 342.6h.01M437.4 349.3h.01M430.8 335.7h.01M426.6 344.4h.01M428.8 343.9h.01M438.2 339.8h.01M429.1 351.7h.01M427.8 346.1h.01M427.4 339.4h.01M428.3 334.3h.01M436.1 336.2h.01M435.1 349.9h.01M436.8 334.8h.01M435.2 338.3h.01M426.7 333.7h.01M426.8 349.4h.01M426.3 345.2h.01M432.5 342.7h.01M439.2 330.9h.01M432.2 348.7h.01M433.7 339.4h.01M427.6 339.2h.01M435.6 342.2h.01M427.2 342.2h.01M432.9 347.4h.01M432.0 344.6h.01M426.4 332.5h.01M437.5 338.0h.01M433.7 333.0h.01M434.0 350.2h.01M427.4 343.4h.01M434.6 335.3h.01M439.4 349.6h.01M430.4 344.1h.01M425.5 331.9h.01M434.8 331.1h.01M429.8 338.9h.01M424.3 349.5h.01M429.4 349.4h.01M433.4 344.2h.01M429.2 343.4h.01M435.6 332.3h.01M435.8 338.5h.01M436.6 336.7h.01M435.2 345.5h.01M433.0 345.4h.01M431.8 348.4h.01M432.2 333.7h.01M428.6 349.7h.01M432.1 334.5h.01M438.9 332.9h.01M435.1 328.5h.01M426.4 343.0h.01M428.8 332.1h.01M436.8 346.3h.01M430.3 337.5h.01M425.3 337.1h.01M429.7 340.3h.01M430.7 330.2h.01M428.0 333.8h.01M431.9 343.6h.01M433.4 344.7h.01M429.3 351.7h.01M425.2 346.5h.01M434.3 330.3h.01M435.7 339.0h.01M433.3 343.9h.01M431.3 343.8h.01M424.4 341.0h.01M426.7 331.4h.01M428.4 338.8h.01M429.9 332.3h.01M426.3 350.2h.01M426.6 329.1h.01M438.4 347.2h.01M433.7 339.2h.01M428.0 340.6h.01M426.0 340.5h.01M436.3 345.2h.01M427.7 332.6h.01M428.3 344.9h.01M432.7 344.3h.01M435.6 350.3h.01M438.7 336.7h.01M432.1 335.5h.01M433.6 343.7h.01M441.1 342.6h.01M425.5 351.6h.01M429.9 333.7h.01M439.7 345.6h.01M436.0 342.9h.01M434.3 328.2h.01M434.6 348.4h.01M436.7 334.6h.01M427.7 335.8h.01M435.9 339.8h.01M437.1 338.4h.01M430.1 340.2h.01M433.0 341.8h.01M433.5 332.5h.01M436.1 347.0h.01M437.0 346.8h.01M431.2 339.4h.01M435.5 334.2h.01M435.9 349.1h.01M427.9 337.0h.01M428.9 341.3h.01M430.3 341.8h.01M429.3 331.3h.01M431.9 349.5h.01M428.3 333.7h.01M427.5 343.5h.01M435.1 341.8h.01M438.3 344.5h.01M430.0 347.5h.01M435.7 331.8h.01M433.3 348.9h.01M431.0 344.9h.01M425.1 339.2h.01M426.9 339.2h.01M439.1 349.7h.01M429.5 345.6h.01M427.9 334.6h.01M433.2 340.9h.01" stroke="#000" stroke-width="0.9" stroke-linecap="round" opacity="0.55" fill="none"/>
<rect x="423.8" y="265.7" width="87.80000000000001" height="86.69999999999999" fill="none" stroke="#4a4a4a" stroke-width="1.0"/>
<rect x="442" y="265.7" width="69.60000000000002" height="17.69999999999999" fill="none" stroke="#4a4a4a" stroke-width="1.05"/>
<text transform="translate(335.6,261.1) scale(1,1.05)" font-size="11.5" text-anchor="start" font-weight="normal" fill="#111" textLength="34.0" lengthAdjust="spacingAndGlyphs" stroke="#111" stroke-width="0.32"  style="">control</text>
<text transform="translate(437.5,261.5) scale(1,1.05)" font-size="11.3" text-anchor="start" font-weight="normal" fill="#111" textLength="57.5" lengthAdjust="spacingAndGlyphs" stroke="#111" stroke-width="0.32"  style="">p#7: +1 mo</text>
<text transform="translate(370.0,298.2) scale(1,1.05)" font-size="9.0" text-anchor="start" font-weight="bold" fill="#000" textLength="24.2" lengthAdjust="spacingAndGlyphs" stroke="#000" stroke-width="0.15"  style="">1.24%</text>
<text transform="translate(479.5,298.0) scale(1,1.05)" font-size="9.0" text-anchor="start" font-weight="bold" fill="#000" textLength="25.5" lengthAdjust="spacingAndGlyphs" stroke="#000" stroke-width="0.15"  style="">0.03%</text>
<text x="310.1" y="266.3" font-size="3.7" fill="#444" text-anchor="end">10000</text>
<line x1="311.3" y1="265.0" x2="313.1" y2="265.0" stroke="#555" stroke-width="0.6" />
<text x="310.1" y="288.05" font-size="3.7" fill="#444" text-anchor="end">1000</text>
<line x1="311.3" y1="286.75" x2="313.1" y2="286.75" stroke="#555" stroke-width="0.6" />
<text x="310.1" y="309.8" font-size="3.7" fill="#444" text-anchor="end">100</text>
<line x1="311.3" y1="308.5" x2="313.1" y2="308.5" stroke="#555" stroke-width="0.6" />
<text x="310.1" y="331.55" font-size="3.7" fill="#444" text-anchor="end">10</text>
<line x1="311.3" y1="330.25" x2="313.1" y2="330.25" stroke="#555" stroke-width="0.6" />
<text x="310.1" y="353.3" font-size="3.7" fill="#444" text-anchor="end">1</text>
<line x1="311.3" y1="352.0" x2="313.1" y2="352.0" stroke="#555" stroke-width="0.6" />
<text x="311.8" y="358.4" font-size="3.8" fill="#444" text-anchor="middle">1</text>
<line x1="311.8" y1="352.0" x2="311.8" y2="353.8" stroke="#555" stroke-width="0.6" />
<text x="334" y="358.4" font-size="3.8" fill="#444" text-anchor="middle">10</text>
<line x1="334" y1="352.0" x2="334" y2="353.8" stroke="#555" stroke-width="0.6" />
<text x="355.6" y="358.4" font-size="3.8" fill="#444" text-anchor="middle">100</text>
<line x1="355.6" y1="352.0" x2="355.6" y2="353.8" stroke="#555" stroke-width="0.6" />
<text x="377.3" y="358.4" font-size="3.8" fill="#444" text-anchor="middle">1000</text>
<line x1="377.3" y1="352.0" x2="377.3" y2="353.8" stroke="#555" stroke-width="0.6" />
<text x="398.6" y="358.4" font-size="3.8" fill="#444" text-anchor="middle">10000</text>
<line x1="398.6" y1="352.0" x2="398.6" y2="353.8" stroke="#555" stroke-width="0.6" />
<line x1="312.1" y1="280.20259759430843" x2="313.1" y2="280.20259759430843" stroke="#666" stroke-width="0.5" />
<line x1="312.1" y1="276.3726127098473" x2="313.1" y2="276.3726127098473" stroke="#666" stroke-width="0.5" />
<line x1="312.1" y1="273.6551951886168" x2="313.1" y2="273.6551951886168" stroke="#666" stroke-width="0.5" />
<line x1="312.1" y1="271.54740240569157" x2="313.1" y2="271.54740240569157" stroke="#666" stroke-width="0.5" />
<line x1="312.1" y1="269.82521030415575" x2="313.1" y2="269.82521030415575" stroke="#666" stroke-width="0.5" />
<line x1="312.1" y1="268.3691176296899" x2="313.1" y2="268.3691176296899" stroke="#666" stroke-width="0.5" />
<line x1="312.1" y1="267.10779278292523" x2="313.1" y2="267.10779278292523" stroke="#666" stroke-width="0.5" />
<line x1="312.1" y1="265.9952254196947" x2="313.1" y2="265.9952254196947" stroke="#666" stroke-width="0.5" />
<line x1="312.1" y1="301.95259759430843" x2="313.1" y2="301.95259759430843" stroke="#666" stroke-width="0.5" />
<line x1="312.1" y1="298.1226127098473" x2="313.1" y2="298.1226127098473" stroke="#666" stroke-width="0.5" />
<line x1="312.1" y1="295.4051951886168" x2="313.1" y2="295.4051951886168" stroke="#666" stroke-width="0.5" />
<line x1="312.1" y1="293.29740240569157" x2="313.1" y2="293.29740240569157" stroke="#666" stroke-width="0.5" />
<line x1="312.1" y1="291.57521030415575" x2="313.1" y2="291.57521030415575" stroke="#666" stroke-width="0.5" />
<line x1="312.1" y1="290.1191176296899" x2="313.1" y2="290.1191176296899" stroke="#666" stroke-width="0.5" />
<line x1="312.1" y1="288.85779278292523" x2="313.1" y2="288.85779278292523" stroke="#666" stroke-width="0.5" />
<line x1="312.1" y1="287.7452254196947" x2="313.1" y2="287.7452254196947" stroke="#666" stroke-width="0.5" />
<line x1="312.1" y1="323.70259759430843" x2="313.1" y2="323.70259759430843" stroke="#666" stroke-width="0.5" />
<line x1="312.1" y1="319.8726127098473" x2="313.1" y2="319.8726127098473" stroke="#666" stroke-width="0.5" />
<line x1="312.1" y1="317.1551951886168" x2="313.1" y2="317.1551951886168" stroke="#666" stroke-width="0.5" />
<line x1="312.1" y1="315.04740240569157" x2="313.1" y2="315.04740240569157" stroke="#666" stroke-width="0.5" />
<line x1="312.1" y1="313.32521030415575" x2="313.1" y2="313.32521030415575" stroke="#666" stroke-width="0.5" />
<line x1="312.1" y1="311.8691176296899" x2="313.1" y2="311.8691176296899" stroke="#666" stroke-width="0.5" />
<line x1="312.1" y1="310.60779278292523" x2="313.1" y2="310.60779278292523" stroke="#666" stroke-width="0.5" />
<line x1="312.1" y1="309.4952254196947" x2="313.1" y2="309.4952254196947" stroke="#666" stroke-width="0.5" />
<line x1="312.1" y1="345.45259759430843" x2="313.1" y2="345.45259759430843" stroke="#666" stroke-width="0.5" />
<line x1="312.1" y1="341.6226127098473" x2="313.1" y2="341.6226127098473" stroke="#666" stroke-width="0.5" />
<line x1="312.1" y1="338.9051951886168" x2="313.1" y2="338.9051951886168" stroke="#666" stroke-width="0.5" />
<line x1="312.1" y1="336.79740240569157" x2="313.1" y2="336.79740240569157" stroke="#666" stroke-width="0.5" />
<line x1="312.1" y1="335.07521030415575" x2="313.1" y2="335.07521030415575" stroke="#666" stroke-width="0.5" />
<line x1="312.1" y1="333.6191176296899" x2="313.1" y2="333.6191176296899" stroke="#666" stroke-width="0.5" />
<line x1="312.1" y1="332.35779278292523" x2="313.1" y2="332.35779278292523" stroke="#666" stroke-width="0.5" />
<line x1="312.1" y1="331.2452254196947" x2="313.1" y2="331.2452254196947" stroke="#666" stroke-width="0.5" />
<line x1="318.4828659037404" y1="352.0" x2="318.4828659037404" y2="353.0" stroke="#666" stroke-width="0.5" />
<line x1="322.39209185477654" y1="352.0" x2="322.39209185477654" y2="353.0" stroke="#666" stroke-width="0.5" />
<line x1="325.16573180748077" y1="352.0" x2="325.16573180748077" y2="353.0" stroke="#666" stroke-width="0.5" />
<line x1="327.3171340962596" y1="352.0" x2="327.3171340962596" y2="353.0" stroke="#666" stroke-width="0.5" />
<line x1="329.0749577585169" y1="352.0" x2="329.0749577585169" y2="353.0" stroke="#666" stroke-width="0.5" />
<line x1="330.5611764883165" y1="352.0" x2="330.5611764883165" y2="353.0" stroke="#666" stroke-width="0.5" />
<line x1="331.84859771122115" y1="352.0" x2="331.84859771122115" y2="353.0" stroke="#666" stroke-width="0.5" />
<line x1="332.984183709553" y1="352.0" x2="332.984183709553" y2="353.0" stroke="#666" stroke-width="0.5" />
<line x1="340.502247906342" y1="352.0" x2="340.502247906342" y2="353.0" stroke="#666" stroke-width="0.5" />
<line x1="344.30581910194473" y1="352.0" x2="344.30581910194473" y2="353.0" stroke="#666" stroke-width="0.5" />
<line x1="347.004495812684" y1="352.0" x2="347.004495812684" y2="353.0" stroke="#666" stroke-width="0.5" />
<line x1="349.097752093658" y1="352.0" x2="349.097752093658" y2="353.0" stroke="#666" stroke-width="0.5" />
<line x1="350.80806700828674" y1="352.0" x2="350.80806700828674" y2="353.0" stroke="#666" stroke-width="0.5" />
<line x1="352.25411766430796" y1="352.0" x2="352.25411766430796" y2="353.0" stroke="#666" stroke-width="0.5" />
<line x1="353.506743719026" y1="352.0" x2="353.506743719026" y2="353.0" stroke="#666" stroke-width="0.5" />
<line x1="354.6116382038894" y1="352.0" x2="354.6116382038894" y2="353.0" stroke="#666" stroke-width="0.5" />
<line x1="362.1323509059084" y1="352.0" x2="362.1323509059084" y2="353.0" stroke="#666" stroke-width="0.5" />
<line x1="365.9535312274167" y1="352.0" x2="365.9535312274167" y2="353.0" stroke="#666" stroke-width="0.5" />
<line x1="368.6647018118168" y1="352.0" x2="368.6647018118168" y2="353.0" stroke="#666" stroke-width="0.5" />
<line x1="370.7676490940916" y1="352.0" x2="370.7676490940916" y2="353.0" stroke="#666" stroke-width="0.5" />
<line x1="372.4858821333251" y1="352.0" x2="372.4858821333251" y2="353.0" stroke="#666" stroke-width="0.5" />
<line x1="373.9386274683094" y1="352.0" x2="373.9386274683094" y2="353.0" stroke="#666" stroke-width="0.5" />
<line x1="375.19705271772517" y1="352.0" x2="375.19705271772517" y2="353.0" stroke="#666" stroke-width="0.5" />
<line x1="376.3070624548334" y1="352.0" x2="376.3070624548334" y2="353.0" stroke="#666" stroke-width="0.5" />
<line x1="383.71193890764283" y1="352.0" x2="383.71193890764283" y2="353.0" stroke="#666" stroke-width="0.5" />
<line x1="387.46268272552885" y1="352.0" x2="387.46268272552885" y2="353.0" stroke="#666" stroke-width="0.5" />
<line x1="390.1238778152856" y1="352.0" x2="390.1238778152856" y2="353.0" stroke="#666" stroke-width="0.5" />
<line x1="392.1880610923572" y1="352.0" x2="392.1880610923572" y2="353.0" stroke="#666" stroke-width="0.5" />
<line x1="393.8746216331716" y1="352.0" x2="393.8746216331716" y2="353.0" stroke="#666" stroke-width="0.5" />
<line x1="395.30058825230367" y1="352.0" x2="395.30058825230367" y2="353.0" stroke="#666" stroke-width="0.5" />
<line x1="396.5358167229284" y1="352.0" x2="396.5358167229284" y2="353.0" stroke="#666" stroke-width="0.5" />
<line x1="397.62536545105763" y1="352.0" x2="397.62536545105763" y2="353.0" stroke="#666" stroke-width="0.5" />
<text x="420.8" y="267.0" font-size="3.7" fill="#444" text-anchor="end">10000</text>
<line x1="422.0" y1="265.7" x2="423.8" y2="265.7" stroke="#555" stroke-width="0.6" />
<text x="420.8" y="288.675" font-size="3.7" fill="#444" text-anchor="end">1000</text>
<line x1="422.0" y1="287.375" x2="423.8" y2="287.375" stroke="#555" stroke-width="0.6" />
<text x="420.8" y="310.34999999999997" font-size="3.7" fill="#444" text-anchor="end">100</text>
<line x1="422.0" y1="309.04999999999995" x2="423.8" y2="309.04999999999995" stroke="#555" stroke-width="0.6" />
<text x="420.8" y="332.025" font-size="3.7" fill="#444" text-anchor="end">10</text>
<line x1="422.0" y1="330.72499999999997" x2="423.8" y2="330.72499999999997" stroke="#555" stroke-width="0.6" />
<text x="420.8" y="353.7" font-size="3.7" fill="#444" text-anchor="end">1</text>
<line x1="422.0" y1="352.4" x2="423.8" y2="352.4" stroke="#555" stroke-width="0.6" />
<text x="422.2" y="358.79999999999995" font-size="3.8" fill="#444" text-anchor="middle">1</text>
<line x1="422.2" y1="352.4" x2="422.2" y2="354.2" stroke="#555" stroke-width="0.6" />
<text x="444" y="358.79999999999995" font-size="3.8" fill="#444" text-anchor="middle">10</text>
<line x1="444" y1="352.4" x2="444" y2="354.2" stroke="#555" stroke-width="0.6" />
<text x="466.1" y="358.79999999999995" font-size="3.8" fill="#444" text-anchor="middle">100</text>
<line x1="466.1" y1="352.4" x2="466.1" y2="354.2" stroke="#555" stroke-width="0.6" />
<text x="487.9" y="358.79999999999995" font-size="3.8" fill="#444" text-anchor="middle">1000</text>
<line x1="487.9" y1="352.4" x2="487.9" y2="354.2" stroke="#555" stroke-width="0.6" />
<text x="509.6" y="358.79999999999995" font-size="3.8" fill="#444" text-anchor="middle">10000</text>
<line x1="509.6" y1="352.4" x2="509.6" y2="354.2" stroke="#555" stroke-width="0.6" />
<line x1="422.8" y1="280.8501748439832" x2="423.8" y2="280.8501748439832" stroke="#666" stroke-width="0.5" />
<line x1="422.8" y1="277.0333968039513" x2="423.8" y2="277.0333968039513" stroke="#666" stroke-width="0.5" />
<line x1="422.8" y1="274.3253496879664" x2="423.8" y2="274.3253496879664" stroke="#666" stroke-width="0.5" />
<line x1="422.8" y1="272.2248251560168" x2="423.8" y2="272.2248251560168" stroke="#666" stroke-width="0.5" />
<line x1="422.8" y1="270.5085716479345" x2="423.8" y2="270.5085716479345" stroke="#666" stroke-width="0.5" />
<line x1="422.8" y1="269.05749998269096" x2="423.8" y2="269.05749998269096" stroke="#666" stroke-width="0.5" />
<line x1="422.8" y1="267.80052453194963" x2="423.8" y2="267.80052453194963" stroke="#666" stroke-width="0.5" />
<line x1="422.8" y1="266.69179360790264" x2="423.8" y2="266.69179360790264" stroke="#666" stroke-width="0.5" />
<line x1="422.8" y1="302.52517484398317" x2="423.8" y2="302.52517484398317" stroke="#666" stroke-width="0.5" />
<line x1="422.8" y1="298.70839680395125" x2="423.8" y2="298.70839680395125" stroke="#666" stroke-width="0.5" />
<line x1="422.8" y1="296.0003496879664" x2="423.8" y2="296.0003496879664" stroke="#666" stroke-width="0.5" />
<line x1="422.8" y1="293.89982515601673" x2="423.8" y2="293.89982515601673" stroke="#666" stroke-width="0.5" />
<line x1="422.8" y1="292.18357164793446" x2="423.8" y2="292.18357164793446" stroke="#666" stroke-width="0.5" />
<line x1="422.8" y1="290.7324999826909" x2="423.8" y2="290.7324999826909" stroke="#666" stroke-width="0.5" />
<line x1="422.8" y1="289.4755245319496" x2="423.8" y2="289.4755245319496" stroke="#666" stroke-width="0.5" />
<line x1="422.8" y1="288.3667936079026" x2="423.8" y2="288.3667936079026" stroke="#666" stroke-width="0.5" />
<line x1="422.8" y1="324.2001748439832" x2="423.8" y2="324.2001748439832" stroke="#666" stroke-width="0.5" />
<line x1="422.8" y1="320.38339680395126" x2="423.8" y2="320.38339680395126" stroke="#666" stroke-width="0.5" />
<line x1="422.8" y1="317.6753496879664" x2="423.8" y2="317.6753496879664" stroke="#666" stroke-width="0.5" />
<line x1="422.8" y1="315.57482515601674" x2="423.8" y2="315.57482515601674" stroke="#666" stroke-width="0.5" />
<line x1="422.8" y1="313.85857164793447" x2="423.8" y2="313.85857164793447" stroke="#666" stroke-width="0.5" />
<line x1="422.8" y1="312.407499982691" x2="423.8" y2="312.407499982691" stroke="#666" stroke-width="0.5" />
<line x1="422.8" y1="311.1505245319496" x2="423.8" y2="311.1505245319496" stroke="#666" stroke-width="0.5" />
<line x1="422.8" y1="310.0417936079026" x2="423.8" y2="310.0417936079026" stroke="#666" stroke-width="0.5" />
<line x1="422.8" y1="345.8751748439832" x2="423.8" y2="345.8751748439832" stroke="#666" stroke-width="0.5" />
<line x1="422.8" y1="342.05839680395127" x2="423.8" y2="342.05839680395127" stroke="#666" stroke-width="0.5" />
<line x1="422.8" y1="339.3503496879664" x2="423.8" y2="339.3503496879664" stroke="#666" stroke-width="0.5" />
<line x1="422.8" y1="337.24982515601675" x2="423.8" y2="337.24982515601675" stroke="#666" stroke-width="0.5" />
<line x1="422.8" y1="335.5335716479345" x2="423.8" y2="335.5335716479345" stroke="#666" stroke-width="0.5" />
<line x1="422.8" y1="334.08249998269093" x2="423.8" y2="334.08249998269093" stroke="#666" stroke-width="0.5" />
<line x1="422.8" y1="332.8255245319496" x2="423.8" y2="332.8255245319496" stroke="#666" stroke-width="0.5" />
<line x1="422.8" y1="331.7167936079026" x2="423.8" y2="331.7167936079026" stroke="#666" stroke-width="0.5" />
<line x1="428.7624539054748" y1="352.4" x2="428.7624539054748" y2="353.4" stroke="#666" stroke-width="0.5" />
<line x1="432.6012433528886" y1="352.4" x2="432.6012433528886" y2="353.4" stroke="#666" stroke-width="0.5" />
<line x1="435.3249078109496" y1="352.4" x2="435.3249078109496" y2="353.4" stroke="#666" stroke-width="0.5" />
<line x1="437.4375460945252" y1="352.4" x2="437.4375460945252" y2="353.4" stroke="#666" stroke-width="0.5" />
<line x1="439.1636972583634" y1="352.4" x2="439.1636972583634" y2="353.4" stroke="#666" stroke-width="0.5" />
<line x1="440.62313727231077" y1="352.4" x2="440.62313727231077" y2="353.4" stroke="#666" stroke-width="0.5" />
<line x1="441.8873617164244" y1="352.4" x2="441.8873617164244" y2="353.4" stroke="#666" stroke-width="0.5" />
<line x1="443.0024867057773" y1="352.4" x2="443.0024867057773" y2="353.4" stroke="#666" stroke-width="0.5" />
<line x1="450.652762904174" y1="352.4" x2="450.652762904174" y2="353.4" stroke="#666" stroke-width="0.5" />
<line x1="454.5443797293045" y1="352.4" x2="454.5443797293045" y2="353.4" stroke="#666" stroke-width="0.5" />
<line x1="457.30552580834797" y1="352.4" x2="457.30552580834797" y2="353.4" stroke="#666" stroke-width="0.5" />
<line x1="459.44723709582604" y1="352.4" x2="459.44723709582604" y2="353.4" stroke="#666" stroke-width="0.5" />
<line x1="461.19714263347856" y1="352.4" x2="461.19714263347856" y2="353.4" stroke="#666" stroke-width="0.5" />
<line x1="462.6766666843151" y1="352.4" x2="462.6766666843151" y2="353.4" stroke="#666" stroke-width="0.5" />
<line x1="463.95828871252195" y1="352.4" x2="463.95828871252195" y2="353.4" stroke="#666" stroke-width="0.5" />
<line x1="465.0887594586091" y1="352.4" x2="465.0887594586091" y2="353.4" stroke="#666" stroke-width="0.5" />
<line x1="472.6624539054748" y1="352.4" x2="472.6624539054748" y2="353.4" stroke="#666" stroke-width="0.5" />
<line x1="476.50124335288865" y1="352.4" x2="476.50124335288865" y2="353.4" stroke="#666" stroke-width="0.5" />
<line x1="479.22490781094956" y1="352.4" x2="479.22490781094956" y2="353.4" stroke="#666" stroke-width="0.5" />
<line x1="481.3375460945252" y1="352.4" x2="481.3375460945252" y2="353.4" stroke="#666" stroke-width="0.5" />
<line x1="483.0636972583634" y1="352.4" x2="483.0636972583634" y2="353.4" stroke="#666" stroke-width="0.5" />
<line x1="484.5231372723108" y1="352.4" x2="484.5231372723108" y2="353.4" stroke="#666" stroke-width="0.5" />
<line x1="485.78736171642436" y1="352.4" x2="485.78736171642436" y2="353.4" stroke="#666" stroke-width="0.5" />
<line x1="486.9024867057773" y1="352.4" x2="486.9024867057773" y2="353.4" stroke="#666" stroke-width="0.5" />
<line x1="494.4323509059084" y1="352.4" x2="494.4323509059084" y2="353.4" stroke="#666" stroke-width="0.5" />
<line x1="498.25353122741666" y1="352.4" x2="498.25353122741666" y2="353.4" stroke="#666" stroke-width="0.5" />
<line x1="500.9647018118168" y1="352.4" x2="500.9647018118168" y2="353.4" stroke="#666" stroke-width="0.5" />
<line x1="503.0676490940916" y1="352.4" x2="503.0676490940916" y2="353.4" stroke="#666" stroke-width="0.5" />
<line x1="504.78588213332506" y1="352.4" x2="504.78588213332506" y2="353.4" stroke="#666" stroke-width="0.5" />
<line x1="506.2386274683094" y1="352.4" x2="506.2386274683094" y2="353.4" stroke="#666" stroke-width="0.5" />
<line x1="507.4970527177252" y1="352.4" x2="507.4970527177252" y2="353.4" stroke="#666" stroke-width="0.5" />
<line x1="508.6070624548334" y1="352.4" x2="508.6070624548334" y2="353.4" stroke="#666" stroke-width="0.5" />
<path d="M291.8 306.5V371.2H463.7" fill="none" stroke="#333" stroke-width="0.9"/>
<path d="M290.5 308.8L291.8 305.2L293.1 308.8Z" fill="#222"/>
<path d="M461.2 369.9L464.8 371.2L461.2 372.5Z" fill="#222"/>
<text transform="translate(295.6,283.8) rotate(-90)" font-size="11.5" text-anchor="middle" fill="#111" stroke="#111" stroke-width="0.22" textLength="27.2" lengthAdjust="spacingAndGlyphs">CD38</text>
<text transform="translate(469,375.2) scale(1,1.05)" font-size="11.5" text-anchor="start" font-weight="normal" fill="#111" textLength="36.3" lengthAdjust="spacingAndGlyphs" stroke="#111" stroke-width="0.32"  style="">CD138</text>
<text transform="translate(297,394.0) scale(1,1.05)" font-size="11.3" text-anchor="start" font-weight="normal" fill="#111" textLength="208.8" lengthAdjust="spacingAndGlyphs" stroke="#111" stroke-width="0.32"  style="">gated on bone marrow mononuclear cells</text>
</svg>
</body></html>
